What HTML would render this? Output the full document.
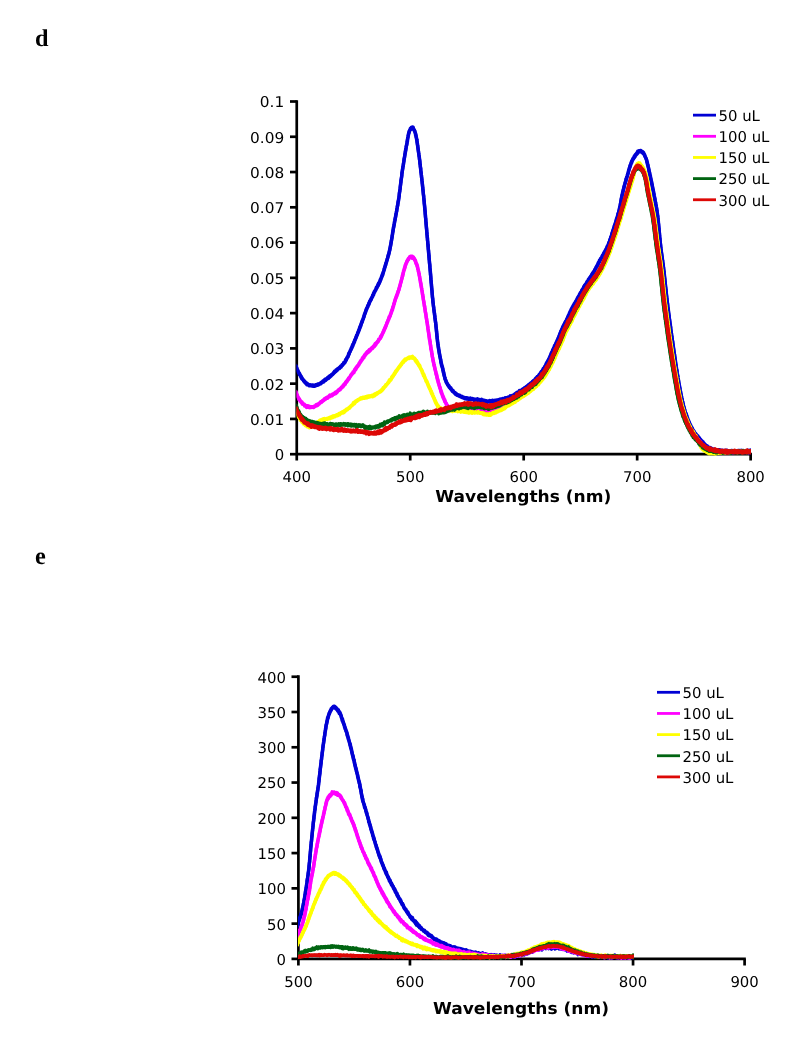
<!DOCTYPE html>
<html lang="en"><head><meta charset="utf-8"><title>Figure d, e</title>
<style>html,body{margin:0;padding:0;background:#fff}body{width:801px;height:1042px;position:relative;overflow:hidden}</style>
</head><body>
<svg width="801" height="1042" viewBox="0 0 801 1042" style="position:absolute;left:0;top:0;will-change:transform">
<rect width="801" height="1042" fill="#fff"/>
<g stroke="#000" stroke-width="2.7" fill="none">
<path d="M296.75,100.15 V460.5 M295.4,454.2 H751.95"/>
<path d="M290,454.20 H296.75"/>
<path d="M290,418.93 H296.75"/>
<path d="M290,383.66 H296.75"/>
<path d="M290,348.39 H296.75"/>
<path d="M290,313.12 H296.75"/>
<path d="M290,277.85 H296.75"/>
<path d="M290,242.58 H296.75"/>
<path d="M290,207.31 H296.75"/>
<path d="M290,172.04 H296.75"/>
<path d="M290,136.77 H296.75"/>
<path d="M290,101.50 H296.75"/>
<path d="M410.22,454.2 V460.5"/>
<path d="M523.69,454.2 V460.5"/>
<path d="M637.16,454.2 V460.5"/>
<path d="M750.63,454.2 V460.5"/>
</g>
<clipPath id="cd"><rect x="296.6" y="90" width="454.4" height="372"/></clipPath>
<g clip-path="url(#cd)">
<g stroke="#0000D4" stroke-width="3.4" fill="none" stroke-linejoin="round" stroke-linecap="butt"><path d="M295.5,365.3 L295.7,365.2 L295.9,365.6 L296.1,365.7 L296.4,366.9 L296.6,367.5 L296.9,368.1 L297.1,369.0 L297.4,369.6 L297.7,369.9 L298.0,370.6 L298.3,371.3 L298.6,372.2 L299.0,372.8 L299.3,373.0 L299.6,373.6 L300.0,374.7 L300.3,375.5 L300.7,375.7 L301.1,376.1 L301.4,377.2 L301.8,377.4 L302.2,378.3 L302.6,379.1 L303.0,379.4 L303.5,379.9 L303.9,380.6 L304.4,380.8 L304.8,381.5 L305.3,381.9 L305.8,382.5 L306.3,382.8 L306.8,383.3 L307.4,383.6 L308.0,384.1 L308.6,384.4 L309.3,384.7 L310.0,385.2 L310.6,384.7 L311.3,385.5 L312.0,385.2 L312.7,384.9 L313.4,385.2 L314.1,385.2 L314.8,385.4 L315.5,384.7 L316.2,384.9 L316.8,384.7 L317.5,384.1 L318.1,383.9 L318.7,384.1 L319.3,383.7 L319.9,383.5 L320.5,382.9 L321.1,382.5 L321.7,382.0 L322.3,381.9 L322.9,381.0 L323.4,380.7 L324.0,380.5 L324.6,379.6 L325.2,379.9 L325.7,379.0 L326.3,378.7 L326.9,378.9 L327.4,377.7 L328.0,377.3 L328.5,377.4 L329.0,376.3 L329.6,376.0 L330.1,375.8 L330.6,375.3 L331.2,374.9 L331.7,374.4 L332.2,374.2 L332.8,373.6 L333.3,373.1 L333.8,372.3 L334.3,371.8 L334.8,371.0 L335.4,371.2 L335.9,370.1 L336.4,370.3 L336.9,370.1 L337.4,368.9 L338.0,368.5 L338.5,368.1 L339.0,368.0 L339.6,367.1 L340.1,366.8 L340.6,366.3 L341.1,365.8 L341.6,365.7 L342.1,364.7 L342.5,364.4 L343.0,363.9 L343.4,363.5 L343.8,362.4 L344.3,362.5 L344.7,361.7 L345.1,361.2 L345.4,360.4 L345.8,359.4 L346.2,359.1 L346.5,358.8 L346.8,358.0 L347.1,357.4 L347.5,357.2 L347.8,356.7 L348.1,355.5 L348.4,355.4 L348.6,353.7 L348.9,353.1 L349.2,353.2 L349.5,352.2 L349.8,351.8 L350.1,351.1 L350.3,350.3 L350.6,349.9 L350.9,349.1 L351.2,348.1 L351.5,347.9 L351.8,347.2 L352.0,347.0 L352.3,345.6 L352.6,345.2 L352.9,344.5 L353.1,343.9 L353.4,343.7 L353.7,342.8 L354.0,341.9 L354.2,341.4 L354.5,340.9 L354.8,339.8 L355.0,339.4 L355.3,339.2 L355.6,338.4 L355.8,337.5 L356.1,336.7 L356.4,336.2 L356.6,335.2 L356.9,335.1 L357.2,334.3 L357.4,333.6 L357.7,332.6 L357.9,332.1 L358.2,331.8 L358.4,331.1 L358.7,330.2 L358.9,329.8 L359.2,329.3 L359.4,328.2 L359.7,327.6 L359.9,326.9 L360.2,326.1 L360.4,326.0 L360.7,325.2 L360.9,324.5 L361.2,323.5 L361.4,322.9 L361.6,322.5 L361.9,321.7 L362.1,321.2 L362.4,320.3 L362.6,320.0 L362.8,319.6 L363.1,318.9 L363.3,318.3 L363.5,317.2 L363.7,316.8 L364.0,315.8 L364.2,315.4 L364.4,314.4 L364.6,313.8 L364.9,313.1 L365.1,312.7 L365.3,312.0 L365.6,311.3 L365.8,310.3 L366.1,310.0 L366.3,308.9 L366.6,309.0 L366.8,308.0 L367.1,307.4 L367.4,306.7 L367.7,305.7 L368.0,305.1 L368.3,304.8 L368.6,304.5 L368.8,303.2 L369.1,302.7 L369.4,302.2 L369.7,301.2 L370.0,300.6 L370.3,300.2 L370.6,299.7 L370.9,299.0 L371.2,298.8 L371.5,297.8 L371.8,297.3 L372.1,296.9 L372.4,296.3 L372.7,294.9 L373.0,294.6 L373.3,294.3 L373.6,293.0 L373.9,292.5 L374.2,291.8 L374.6,291.2 L374.9,290.6 L375.2,290.3 L375.5,289.9 L375.8,289.4 L376.1,288.4 L376.4,287.2 L376.8,287.1 L377.1,286.4 L377.4,286.0 L377.7,285.2 L378.1,284.2 L378.4,284.1 L378.7,282.9 L379.0,282.6 L379.3,282.2 L379.6,281.6 L379.9,281.3 L380.2,279.6 L380.5,279.7 L380.7,279.1 L381.0,278.2 L381.2,277.8 L381.5,276.7 L381.7,276.5 L382.0,275.8 L382.2,274.8 L382.4,274.2 L382.6,273.6 L382.9,272.9 L383.1,272.6 L383.3,271.7 L383.5,271.3 L383.7,270.6 L384.0,269.7 L384.2,269.0 L384.4,268.1 L384.6,267.5 L384.8,266.8 L385.0,266.4 L385.2,265.5 L385.4,265.0 L385.6,264.4 L385.8,263.5 L386.0,262.9 L386.2,262.7 L386.4,262.0 L386.6,260.8 L386.8,260.3 L387.0,259.5 L387.2,258.9 L387.4,258.7 L387.6,257.8 L387.8,257.2 L387.9,256.7 L388.1,255.5 L388.3,254.9 L388.5,254.2 L388.7,253.8 L388.9,252.9 L389.1,252.4 L389.2,251.8 L389.4,251.1 L389.5,250.3 L389.7,249.3 L389.9,248.4 L390.0,248.4 L390.1,247.6 L390.3,246.5 L390.4,245.9 L390.5,245.3 L390.7,244.3 L390.8,244.1 L390.9,243.1 L391.0,242.6 L391.1,242.1 L391.3,241.2 L391.4,240.7 L391.5,240.0 L391.6,239.2 L391.7,238.5 L391.8,238.3 L391.9,237.1 L392.1,236.8 L392.2,235.5 L392.3,235.2 L392.4,234.4 L392.5,233.5 L392.6,232.3 L392.7,232.7 L392.8,231.3 L392.9,230.6 L393.1,230.2 L393.2,229.5 L393.3,228.9 L393.4,228.0 L393.5,227.0 L393.6,226.9 L393.8,225.8 L393.9,225.4 L394.0,224.8 L394.1,224.3 L394.3,223.2 L394.4,222.5 L394.5,221.8 L394.6,220.8 L394.8,220.3 L394.9,219.6 L395.0,218.9 L395.2,218.5 L395.3,217.7 L395.4,217.5 L395.5,216.8 L395.7,215.2 L395.8,215.1 L395.9,214.1 L396.1,213.8 L396.2,213.0 L396.3,212.5 L396.4,211.7 L396.6,211.1 L396.7,210.1 L396.8,208.9 L396.9,208.5 L397.1,207.9 L397.2,207.3 L397.3,206.5 L397.4,206.5 L397.5,205.3 L397.7,205.0 L397.8,203.9 L397.9,203.7 L398.0,202.3 L398.1,202.1 L398.2,200.9 L398.3,200.7 L398.5,200.2 L398.6,198.8 L398.7,198.3 L398.8,197.8 L398.9,197.0 L399.0,196.1 L399.1,196.0 L399.2,195.0 L399.3,194.6 L399.3,193.7 L399.4,192.6 L399.5,192.1 L399.6,191.9 L399.7,190.5 L399.8,190.0 L399.9,189.6 L400.0,189.0 L400.1,188.3 L400.2,187.0 L400.3,187.2 L400.3,185.9 L400.4,185.3 L400.5,184.6 L400.6,183.8 L400.7,183.0 L400.8,182.4 L400.9,182.1 L400.9,180.8 L401.0,179.8 L401.1,179.9 L401.2,179.1 L401.3,178.5 L401.4,178.1 L401.5,176.8 L401.6,176.3 L401.7,175.7 L401.8,175.2 L401.8,174.4 L401.9,173.3 L402.0,172.4 L402.1,172.0 L402.2,171.0 L402.3,171.0 L402.4,169.9 L402.5,169.2 L402.6,168.4 L402.7,168.3 L402.8,167.3 L402.9,166.5 L403.1,166.0 L403.2,165.2 L403.3,164.6 L403.4,164.1 L403.5,163.0 L403.6,162.5 L403.7,161.8 L403.8,161.3 L403.9,160.5 L404.0,159.6 L404.1,158.8 L404.2,158.3 L404.4,157.3 L404.5,157.0 L404.6,156.2 L404.7,155.6 L404.8,154.7 L404.9,153.9 L405.0,153.2 L405.2,153.0 L405.3,152.0 L405.4,151.3 L405.5,150.2 L405.6,150.0 L405.8,148.4 L405.9,148.9 L406.0,147.8 L406.1,147.2 L406.2,146.2 L406.4,145.6 L406.5,145.3 L406.6,144.4 L406.8,143.9 L406.9,143.4 L407.0,142.5 L407.1,141.2 L407.2,140.7 L407.4,140.0 L407.5,139.3 L407.6,138.3 L407.7,137.6 L407.8,137.3 L408.0,136.6 L408.1,136.2 L408.2,135.3 L408.4,135.0 L408.5,133.5 L408.7,132.9 L408.8,132.7 L409.0,131.9 L409.2,131.1 L409.4,130.8 L409.7,130.3 L410.0,129.7 L410.3,128.6 L410.7,128.1 L411.1,127.7 L411.5,127.3 L411.9,127.3 L412.4,127.0 L412.8,127.5 L413.2,127.3 L413.5,128.6 L413.9,129.5 L414.3,129.7 L414.6,130.7 L414.8,130.8 L415.1,131.8 L415.3,132.2 L415.5,133.3 L415.6,134.0 L415.8,134.2 L416.0,135.0 L416.1,135.8 L416.3,137.2 L416.4,137.3 L416.5,138.0 L416.7,138.7 L416.8,139.4 L416.9,140.0 L417.0,140.4 L417.1,141.3 L417.2,142.6 L417.3,142.9 L417.4,143.5 L417.5,143.9 L417.6,145.0 L417.7,145.7 L417.8,146.2 L417.9,147.3 L418.0,147.6 L418.1,148.4 L418.2,149.4 L418.3,149.9 L418.4,150.8 L418.5,151.2 L418.6,151.8 L418.7,152.7 L418.8,153.4 L418.9,154.3 L419.0,154.8 L419.1,155.4 L419.2,156.2 L419.3,156.9 L419.4,157.2 L419.4,158.1 L419.5,158.8 L419.6,159.9 L419.7,160.1 L419.8,161.2 L419.9,161.3 L419.9,162.3 L420.0,163.3 L420.1,163.7 L420.2,164.7 L420.3,164.6 L420.3,165.8 L420.4,166.6 L420.5,167.2 L420.6,167.5 L420.7,168.8 L420.7,168.7 L420.8,170.2 L420.9,170.8 L421.0,171.6 L421.1,172.0 L421.1,172.5 L421.2,173.3 L421.3,174.1 L421.4,175.0 L421.5,175.5 L421.5,176.4 L421.6,177.1 L421.7,178.0 L421.8,177.8 L421.9,178.9 L421.9,179.9 L422.0,180.6 L422.1,181.0 L422.2,181.8 L422.2,182.5 L422.3,183.3 L422.4,183.8 L422.5,184.5 L422.5,185.0 L422.6,185.9 L422.7,187.0 L422.8,187.2 L422.8,188.3 L422.9,189.3 L423.0,189.5 L423.1,190.8 L423.1,190.8 L423.2,192.0 L423.3,192.3 L423.3,192.7 L423.4,193.8 L423.5,194.8 L423.6,194.9 L423.6,195.9 L423.7,196.2 L423.8,196.9 L423.8,198.0 L423.9,198.5 L424.0,199.4 L424.0,200.3 L424.1,200.3 L424.2,201.2 L424.2,202.0 L424.3,203.3 L424.4,203.3 L424.4,204.0 L424.5,204.9 L424.6,206.0 L424.6,206.1 L424.7,206.8 L424.8,207.6 L424.8,208.5 L424.9,209.5 L424.9,209.4 L425.0,210.0 L425.1,211.1 L425.1,211.9 L425.2,211.9 L425.2,213.0 L425.3,214.1 L425.4,214.5 L425.4,215.4 L425.5,216.0 L425.5,216.8 L425.6,217.5 L425.7,218.1 L425.7,219.1 L425.8,219.3 L425.8,220.2 L425.9,221.2 L426.0,221.4 L426.0,222.2 L426.1,222.8 L426.1,223.4 L426.2,224.9 L426.3,225.2 L426.3,226.2 L426.4,226.6 L426.4,227.2 L426.5,227.8 L426.6,228.6 L426.6,229.2 L426.7,230.2 L426.7,230.4 L426.8,231.4 L426.9,232.1 L426.9,232.7 L427.0,233.4 L427.0,234.3 L427.1,235.0 L427.2,235.5 L427.2,236.2 L427.3,236.8 L427.4,237.7 L427.4,238.3 L427.5,238.6 L427.5,239.6 L427.6,240.5 L427.7,241.2 L427.7,241.6 L427.8,242.7 L427.8,243.3 L427.9,244.0 L428.0,245.0 L428.0,245.2 L428.1,246.1 L428.2,246.6 L428.2,247.6 L428.3,248.3 L428.3,248.9 L428.4,249.6 L428.5,249.9 L428.5,251.0 L428.6,251.2 L428.6,252.8 L428.7,253.2 L428.8,253.3 L428.8,253.7 L428.9,255.4 L429.0,255.5 L429.0,256.6 L429.1,256.8 L429.1,257.8 L429.2,258.3 L429.3,259.4 L429.3,259.8 L429.4,261.0 L429.4,261.1 L429.5,262.3 L429.6,262.7 L429.6,263.5 L429.7,263.7 L429.8,264.3 L429.8,265.7 L429.9,265.9 L429.9,266.8 L430.0,267.5 L430.1,268.0 L430.1,269.0 L430.2,269.3 L430.2,270.1 L430.3,271.3 L430.4,271.6 L430.4,272.6 L430.5,273.3 L430.5,274.2 L430.6,274.7 L430.7,274.8 L430.7,275.8 L430.8,276.5 L430.8,277.6 L430.9,278.1 L430.9,278.6 L431.0,279.5 L431.1,280.0 L431.1,281.0 L431.2,281.6 L431.2,282.5 L431.3,283.0 L431.4,283.9 L431.4,284.3 L431.5,285.2 L431.5,285.7 L431.6,286.6 L431.6,287.2 L431.7,287.8 L431.8,288.4 L431.8,289.1 L431.9,290.0 L432.0,290.0 L432.0,291.6 L432.1,291.4 L432.1,292.6 L432.2,293.3 L432.3,294.3 L432.3,294.8 L432.4,295.5 L432.5,296.2 L432.5,297.1 L432.6,298.1 L432.7,298.3 L432.7,298.4 L432.8,299.5 L432.9,300.4 L432.9,301.9 L433.0,301.5 L433.1,302.3 L433.2,303.3 L433.3,303.9 L433.3,304.2 L433.4,305.4 L433.5,305.6 L433.6,306.5 L433.7,307.6 L433.8,307.7 L433.8,308.6 L433.9,309.8 L434.0,310.0 L434.1,310.5 L434.2,311.3 L434.3,312.4 L434.4,312.5 L434.5,313.4 L434.6,313.9 L434.7,314.6 L434.8,315.9 L434.9,316.3 L434.9,316.9 L435.0,317.8 L435.1,318.2 L435.2,318.8 L435.3,320.1 L435.4,320.7 L435.5,321.0 L435.6,322.0 L435.7,322.9 L435.7,323.4 L435.8,324.1 L435.9,324.3 L436.0,325.3 L436.0,325.6 L436.1,327.0 L436.2,327.4 L436.3,328.5 L436.3,328.6 L436.4,329.7 L436.5,329.8 L436.5,330.8 L436.6,331.8 L436.7,332.4 L436.7,333.0 L436.8,333.3 L436.9,334.7 L436.9,335.3 L437.0,336.1 L437.1,336.8 L437.1,337.1 L437.2,338.0 L437.3,339.2 L437.4,339.1 L437.5,340.1 L437.5,340.5 L437.6,341.8 L437.7,342.1 L437.8,342.5 L437.9,343.3 L438.0,343.8 L438.1,344.3 L438.2,344.8 L438.3,346.0 L438.4,346.6 L438.5,347.6 L438.6,348.1 L438.7,349.0 L438.8,350.1 L438.9,350.1 L439.1,350.8 L439.2,352.0 L439.3,353.0 L439.4,352.9 L439.5,353.4 L439.7,354.4 L439.8,355.1 L439.9,356.1 L440.0,356.3 L440.2,357.2 L440.3,357.9 L440.4,358.2 L440.6,358.9 L440.7,360.1 L440.8,360.8 L441.0,361.2 L441.1,362.5 L441.3,363.0 L441.5,363.5 L441.6,364.3 L441.8,364.9 L442.0,365.6 L442.1,366.4 L442.3,366.8 L442.5,367.0 L442.7,368.1 L442.8,368.6 L443.0,369.2 L443.2,370.4 L443.3,370.5 L443.5,371.8 L443.6,372.1 L443.8,372.7 L443.9,373.5 L444.1,375.0 L444.2,375.4 L444.4,375.7 L444.6,376.7 L444.8,377.5 L444.9,377.5 L445.1,378.3 L445.4,379.3 L445.6,379.8 L445.9,380.2 L446.1,381.4 L446.4,381.7 L446.7,382.4 L447.1,383.4 L447.4,383.6 L447.8,384.7 L448.2,384.7 L448.6,385.2 L449.0,385.9 L449.4,386.6 L449.8,387.1 L450.2,387.6 L450.7,387.7 L451.1,388.4 L451.5,389.1 L452.0,389.9 L452.5,390.6 L452.9,390.2 L453.4,391.2 L453.9,391.7 L454.5,392.2 L455.0,392.8 L455.5,392.9 L456.1,393.2 L456.6,394.2 L457.2,394.5 L457.8,394.6 L458.4,395.0 L459.1,395.2 L459.7,395.3 L460.3,396.1 L461.0,396.1 L461.6,396.2 L462.3,396.6 L462.9,397.4 L463.6,397.3 L464.3,397.4 L465.0,397.6 L465.6,397.9 L466.3,398.1 L467.0,397.7 L467.7,398.1 L468.4,398.1 L469.1,398.4 L469.8,398.5 L470.5,398.1 L471.2,399.0 L471.9,398.8 L472.6,398.4 L473.3,399.2 L474.0,399.0 L474.7,399.1 L475.4,399.1 L476.0,399.2 L476.7,399.1 L477.4,398.8 L478.1,399.2 L478.8,399.5 L479.5,399.5 L480.2,399.8 L480.9,399.7 L481.6,399.3 L482.3,400.2 L483.0,400.0 L483.6,400.1 L484.3,400.5 L485.0,400.4 L485.7,401.0 L486.4,400.8 L487.1,401.6 L487.8,401.1 L488.4,401.0 L489.1,401.0 L489.8,400.5 L490.5,400.8 L491.2,400.7 L491.9,400.7 L492.6,400.2 L493.3,400.6 L494.0,400.8 L494.7,400.3 L495.4,400.3 L496.1,400.3 L496.8,399.9 L497.5,399.9 L498.2,400.1 L498.8,399.8 L499.5,399.3 L500.2,399.0 L500.9,399.9 L501.6,399.3 L502.3,398.6 L502.9,398.9 L503.6,398.8 L504.3,398.5 L505.0,397.8 L505.6,398.5 L506.3,398.0 L507.0,397.5 L507.6,397.5 L508.3,397.0 L508.9,396.8 L509.6,396.8 L510.2,395.8 L510.8,396.3 L511.5,395.8 L512.1,395.6 L512.7,395.3 L513.3,395.1 L513.9,394.7 L514.5,394.2 L515.1,393.6 L515.7,393.5 L516.4,392.8 L517.0,392.3 L517.6,392.3 L518.2,392.0 L518.8,391.8 L519.4,390.6 L520.0,390.9 L520.6,390.6 L521.2,390.1 L521.7,390.0 L522.3,389.1 L522.9,389.0 L523.5,388.4 L524.1,388.1 L524.7,387.5 L525.2,387.3 L525.8,387.1 L526.4,386.5 L526.9,386.2 L527.5,385.5 L528.0,385.6 L528.6,384.6 L529.1,384.4 L529.7,384.1 L530.2,383.4 L530.7,383.2 L531.3,382.6 L531.8,382.5 L532.3,381.8 L532.8,381.3 L533.4,380.5 L533.9,380.3 L534.4,380.0 L534.9,379.4 L535.4,378.5 L535.9,378.1 L536.4,377.7 L536.9,377.3 L537.3,376.4 L537.8,376.7 L538.3,375.7 L538.7,375.2 L539.2,374.5 L539.6,374.1 L540.0,374.0 L540.5,372.7 L540.9,372.3 L541.3,371.6 L541.7,371.1 L542.1,371.1 L542.5,370.0 L542.9,369.4 L543.3,368.5 L543.7,368.3 L544.0,367.8 L544.4,367.1 L544.7,366.5 L545.1,366.2 L545.4,365.5 L545.8,364.7 L546.1,363.9 L546.4,363.1 L546.8,363.3 L547.1,361.9 L547.4,361.8 L547.7,361.0 L548.0,360.2 L548.4,360.0 L548.7,359.0 L549.0,358.8 L549.3,357.6 L549.6,357.4 L549.9,356.9 L550.2,355.7 L550.4,355.9 L550.7,354.9 L551.0,353.5 L551.3,353.8 L551.6,353.3 L551.8,352.1 L552.1,351.5 L552.4,350.9 L552.7,349.7 L553.0,349.6 L553.2,349.2 L553.5,348.2 L553.8,347.9 L554.1,347.6 L554.4,345.9 L554.7,345.3 L555.0,344.9 L555.3,344.6 L555.6,343.9 L555.9,343.0 L556.2,342.3 L556.5,341.8 L556.8,341.7 L557.1,340.4 L557.3,339.9 L557.6,339.6 L557.9,338.7 L558.2,337.9 L558.4,337.8 L558.7,336.9 L559.0,336.0 L559.2,335.4 L559.5,335.1 L559.7,334.1 L560.0,333.6 L560.2,333.1 L560.5,332.5 L560.7,331.1 L561.0,330.8 L561.3,330.2 L561.5,329.7 L561.8,329.2 L562.1,328.7 L562.4,327.6 L562.7,326.8 L563.0,326.5 L563.3,325.7 L563.6,325.7 L563.9,324.7 L564.2,324.0 L564.6,323.6 L564.9,322.6 L565.2,322.0 L565.5,321.4 L565.9,321.0 L566.2,320.6 L566.5,319.8 L566.8,319.2 L567.1,318.3 L567.4,317.8 L567.7,317.0 L568.0,316.7 L568.3,315.6 L568.6,315.2 L568.8,314.6 L569.1,314.1 L569.4,313.1 L569.7,312.6 L570.0,311.8 L570.3,311.0 L570.6,311.0 L570.9,310.2 L571.2,309.1 L571.5,308.6 L571.9,308.4 L572.2,307.4 L572.5,306.7 L572.8,306.7 L573.2,305.6 L573.5,305.0 L573.9,304.7 L574.2,303.7 L574.6,303.3 L574.9,302.7 L575.3,302.3 L575.6,301.3 L576.0,301.2 L576.3,300.4 L576.7,300.1 L577.0,299.1 L577.3,298.3 L577.7,297.7 L578.0,296.9 L578.3,296.6 L578.7,296.0 L579.0,295.6 L579.3,294.8 L579.7,293.9 L580.0,293.8 L580.3,292.8 L580.7,292.3 L581.0,292.0 L581.3,291.4 L581.7,290.3 L582.0,289.8 L582.4,289.6 L582.8,288.9 L583.1,288.2 L583.5,287.7 L583.8,286.3 L584.2,286.2 L584.6,285.3 L585.0,284.9 L585.3,284.4 L585.7,284.0 L586.1,283.6 L586.5,282.9 L586.9,282.2 L587.2,281.4 L587.6,281.3 L588.0,280.4 L588.4,279.3 L588.8,279.1 L589.1,278.7 L589.5,277.7 L589.9,277.5 L590.3,277.2 L590.7,276.2 L591.1,275.6 L591.4,275.0 L591.8,274.2 L592.2,273.8 L592.6,273.0 L593.0,272.6 L593.3,271.9 L593.7,271.8 L594.1,270.9 L594.4,270.5 L594.8,269.4 L595.1,269.1 L595.4,268.6 L595.8,268.0 L596.1,267.1 L596.4,266.6 L596.8,266.1 L597.1,265.3 L597.4,264.7 L597.8,264.3 L598.1,263.2 L598.4,262.5 L598.7,262.2 L599.1,261.8 L599.4,260.5 L599.7,260.8 L600.0,259.9 L600.4,259.4 L600.7,258.4 L601.1,258.0 L601.4,257.8 L601.7,257.2 L602.1,256.3 L602.4,255.5 L602.8,254.9 L603.1,254.6 L603.5,253.5 L603.8,252.9 L604.2,252.4 L604.5,252.1 L604.9,251.0 L605.2,250.7 L605.5,250.1 L605.9,249.4 L606.2,248.7 L606.5,248.4 L606.8,247.7 L607.1,246.5 L607.4,246.7 L607.7,245.8 L608.0,245.1 L608.2,244.3 L608.5,243.6 L608.8,242.4 L609.0,242.4 L609.3,241.9 L609.5,241.3 L609.7,240.3 L610.0,239.2 L610.2,238.8 L610.4,238.4 L610.6,238.1 L610.8,236.7 L611.0,236.5 L611.3,235.9 L611.5,235.3 L611.7,234.4 L611.9,233.1 L612.1,233.3 L612.3,232.5 L612.5,231.9 L612.7,230.9 L612.9,230.3 L613.1,230.1 L613.3,229.1 L613.6,228.4 L613.8,227.6 L614.0,227.4 L614.2,226.0 L614.4,225.6 L614.6,225.2 L614.8,224.4 L615.1,224.0 L615.3,223.2 L615.5,222.8 L615.7,221.7 L615.9,221.1 L616.1,220.5 L616.3,219.3 L616.5,219.4 L616.7,218.2 L616.9,218.0 L617.1,217.4 L617.3,216.7 L617.5,215.8 L617.7,214.9 L617.9,213.8 L618.1,213.9 L618.3,213.0 L618.5,212.8 L618.7,211.6 L618.8,211.2 L619.0,210.2 L619.2,209.8 L619.3,208.9 L619.5,208.3 L619.6,207.1 L619.8,206.8 L619.9,206.2 L620.1,205.9 L620.2,204.9 L620.3,203.9 L620.5,203.9 L620.6,202.9 L620.7,202.4 L620.8,201.2 L621.0,199.9 L621.1,199.9 L621.2,199.1 L621.3,198.7 L621.5,197.6 L621.6,197.1 L621.7,196.3 L621.9,196.0 L622.0,195.0 L622.1,194.9 L622.3,194.1 L622.4,193.4 L622.6,192.4 L622.7,191.9 L622.9,191.4 L623.1,190.2 L623.2,190.1 L623.4,189.1 L623.6,188.7 L623.7,188.3 L623.9,187.5 L624.1,186.1 L624.3,186.0 L624.5,185.0 L624.6,184.3 L624.8,183.6 L625.0,182.7 L625.2,182.4 L625.4,181.5 L625.6,181.3 L625.8,180.4 L626.0,179.0 L626.2,178.7 L626.4,178.0 L626.6,177.5 L626.8,176.8 L627.0,176.3 L627.2,175.6 L627.4,174.7 L627.6,174.4 L627.8,173.8 L628.0,172.9 L628.2,172.5 L628.4,171.7 L628.5,170.7 L628.7,170.1 L628.9,169.5 L629.1,169.0 L629.3,168.2 L629.5,167.7 L629.7,167.1 L629.9,165.9 L630.2,165.2 L630.4,164.8 L630.6,164.3 L630.8,163.7 L631.1,163.0 L631.3,162.4 L631.6,161.3 L631.9,161.0 L632.1,160.1 L632.4,159.8 L632.8,159.3 L633.1,158.3 L633.5,157.8 L633.8,157.9 L634.2,156.4 L634.6,155.9 L635.0,155.2 L635.4,154.5 L635.8,154.6 L636.3,153.6 L636.8,153.0 L637.2,152.4 L637.7,151.3 L638.2,151.7 L638.8,150.9 L639.3,150.7 L639.8,150.8 L640.4,150.4 L640.9,150.6 L641.5,150.9 L642.0,151.5 L642.5,151.4 L643.0,152.1 L643.5,152.3 L643.9,153.4 L644.2,154.2 L644.6,154.5 L644.9,155.8 L645.2,156.2 L645.4,157.1 L645.7,157.3 L645.9,158.4 L646.2,158.4 L646.4,159.3 L646.6,159.9 L646.8,160.5 L647.0,161.7 L647.1,162.2 L647.3,162.4 L647.5,163.4 L647.7,164.0 L647.8,164.7 L648.0,165.5 L648.1,165.9 L648.3,166.7 L648.5,167.4 L648.6,167.9 L648.8,168.6 L648.9,169.7 L649.0,170.1 L649.2,171.4 L649.3,172.0 L649.5,172.0 L649.6,172.9 L649.8,173.0 L649.9,174.1 L650.1,174.7 L650.2,175.4 L650.4,175.7 L650.5,177.0 L650.7,177.7 L650.8,178.1 L651.0,179.0 L651.1,179.9 L651.3,180.8 L651.4,180.7 L651.5,182.2 L651.7,182.0 L651.8,182.9 L652.0,183.7 L652.1,184.9 L652.2,185.3 L652.4,186.0 L652.5,187.0 L652.7,187.3 L652.8,187.8 L652.9,189.0 L653.1,189.3 L653.2,189.7 L653.3,190.2 L653.5,191.4 L653.6,192.5 L653.7,192.9 L653.9,193.4 L654.0,194.4 L654.1,194.4 L654.3,195.6 L654.4,196.0 L654.5,197.2 L654.7,197.3 L654.8,198.4 L654.9,199.0 L655.1,199.6 L655.2,200.5 L655.3,201.0 L655.5,202.1 L655.6,202.3 L655.7,202.5 L655.8,204.1 L656.0,204.8 L656.1,205.3 L656.2,206.2 L656.3,206.7 L656.4,207.0 L656.6,207.4 L656.7,208.3 L656.8,209.2 L656.9,210.1 L657.0,210.3 L657.1,211.1 L657.2,212.4 L657.3,212.6 L657.4,213.2 L657.5,213.9 L657.6,215.2 L657.7,215.7 L657.8,216.4 L657.8,217.3 L657.9,217.8 L658.0,218.6 L658.1,219.1 L658.2,219.9 L658.2,220.5 L658.3,221.2 L658.4,221.5 L658.4,222.4 L658.5,223.1 L658.6,223.7 L658.6,224.5 L658.7,225.7 L658.8,226.2 L658.8,226.7 L658.9,227.4 L659.0,228.4 L659.0,228.4 L659.1,229.5 L659.2,230.5 L659.2,231.3 L659.3,231.7 L659.3,232.3 L659.4,232.5 L659.5,233.4 L659.5,234.3 L659.6,235.1 L659.7,235.8 L659.7,235.8 L659.8,237.0 L659.9,237.9 L659.9,238.3 L660.0,239.1 L660.1,240.0 L660.1,240.7 L660.2,241.3 L660.3,242.2 L660.3,243.0 L660.4,243.3 L660.5,243.8 L660.6,244.6 L660.7,245.3 L660.7,246.1 L660.8,246.5 L660.9,247.3 L661.0,248.2 L661.1,249.3 L661.2,249.7 L661.3,250.3 L661.3,251.2 L661.4,251.7 L661.5,252.5 L661.6,253.4 L661.7,253.9 L661.8,254.5 L661.9,255.4 L662.0,255.7 L662.1,256.6 L662.2,256.7 L662.3,257.8 L662.4,259.0 L662.5,259.2 L662.6,260.0 L662.7,260.6 L662.8,261.2 L662.8,262.2 L662.9,262.8 L663.0,263.8 L663.1,264.0 L663.2,264.9 L663.3,265.5 L663.4,266.1 L663.5,267.2 L663.6,267.5 L663.7,268.2 L663.7,269.7 L663.8,269.7 L663.9,270.4 L664.0,271.3 L664.1,271.6 L664.1,272.6 L664.2,272.9 L664.3,273.8 L664.4,274.5 L664.5,275.7 L664.5,276.2 L664.6,277.2 L664.7,277.8 L664.8,277.9 L664.8,278.9 L664.9,279.4 L665.0,280.0 L665.0,281.2 L665.1,281.9 L665.2,282.3 L665.3,283.1 L665.3,283.7 L665.4,284.4 L665.5,285.2 L665.5,285.5 L665.6,286.6 L665.7,287.0 L665.8,287.6 L665.8,288.5 L665.9,289.3 L666.0,290.1 L666.1,290.7 L666.1,291.4 L666.2,291.9 L666.3,292.8 L666.4,293.5 L666.4,294.2 L666.5,294.6 L666.6,295.9 L666.7,296.4 L666.7,297.1 L666.8,297.6 L666.9,298.2 L667.0,299.2 L667.1,299.3 L667.1,300.3 L667.2,301.0 L667.3,301.9 L667.4,302.4 L667.5,303.5 L667.6,303.4 L667.7,304.9 L667.7,305.3 L667.8,306.2 L667.9,306.5 L668.0,307.6 L668.1,307.9 L668.2,308.8 L668.3,309.0 L668.4,310.2 L668.4,310.8 L668.5,311.0 L668.6,312.2 L668.7,312.8 L668.8,313.8 L668.9,314.1 L669.0,315.0 L669.1,316.0 L669.2,316.1 L669.3,317.5 L669.3,317.8 L669.4,318.4 L669.5,318.8 L669.6,319.4 L669.7,320.7 L669.8,321.1 L669.9,321.7 L670.0,322.9 L670.1,323.4 L670.2,324.0 L670.3,324.3 L670.4,324.9 L670.5,326.3 L670.6,326.7 L670.7,327.4 L670.8,328.6 L670.8,328.7 L670.9,329.6 L671.0,330.8 L671.1,331.1 L671.2,331.5 L671.3,332.1 L671.4,333.3 L671.5,333.4 L671.6,334.6 L671.7,335.5 L671.8,335.7 L671.9,336.7 L672.0,337.2 L672.1,338.2 L672.2,338.6 L672.3,339.1 L672.4,340.0 L672.5,340.7 L672.6,341.2 L672.7,341.9 L672.8,342.4 L672.9,343.2 L673.0,344.2 L673.1,344.3 L673.2,345.5 L673.3,346.2 L673.4,346.7 L673.5,347.9 L673.6,348.4 L673.7,348.8 L673.8,349.7 L673.9,350.6 L674.0,350.6 L674.1,351.8 L674.2,352.3 L674.3,353.2 L674.4,354.3 L674.5,354.3 L674.6,355.1 L674.7,355.6 L674.8,356.6 L674.9,357.4 L675.0,357.3 L675.1,359.0 L675.2,359.7 L675.3,359.4 L675.4,360.3 L675.5,361.5 L675.6,362.1 L675.7,363.1 L675.8,363.4 L675.9,364.5 L676.0,364.5 L676.1,365.7 L676.2,366.1 L676.3,366.8 L676.4,367.2 L676.5,368.2 L676.7,369.4 L676.8,369.6 L676.9,370.3 L677.0,371.1 L677.1,371.5 L677.2,372.5 L677.3,373.3 L677.4,373.8 L677.5,374.1 L677.7,375.6 L677.8,375.9 L677.9,376.6 L678.0,377.3 L678.1,377.9 L678.2,378.3 L678.4,379.4 L678.5,380.1 L678.6,381.0 L678.7,381.9 L678.8,382.0 L678.9,383.2 L679.1,383.6 L679.2,384.4 L679.3,384.7 L679.4,385.7 L679.6,386.1 L679.7,387.2 L679.8,387.4 L679.9,388.4 L680.1,388.9 L680.2,389.8 L680.3,390.5 L680.5,391.2 L680.6,391.7 L680.7,392.7 L680.9,393.3 L681.0,393.7 L681.1,394.7 L681.3,395.1 L681.4,395.9 L681.6,396.6 L681.7,397.3 L681.9,398.2 L682.0,398.2 L682.2,399.7 L682.3,399.6 L682.5,401.0 L682.6,401.5 L682.8,401.7 L682.9,402.8 L683.1,403.4 L683.3,403.8 L683.4,405.1 L683.6,405.8 L683.8,406.3 L684.0,407.3 L684.2,407.6 L684.3,408.1 L684.5,409.2 L684.7,409.4 L684.9,410.4 L685.1,411.2 L685.3,411.6 L685.5,412.3 L685.8,413.0 L686.0,413.6 L686.2,414.0 L686.4,414.0 L686.6,415.4 L686.9,415.8 L687.1,417.1 L687.4,417.4 L687.6,418.2 L687.9,419.0 L688.1,419.7 L688.4,419.9 L688.7,421.3 L688.9,421.6 L689.2,422.2 L689.5,422.5 L689.8,423.9 L690.1,424.2 L690.4,424.9 L690.7,425.2 L691.0,426.4 L691.3,426.9 L691.7,427.1 L692.0,428.2 L692.3,428.1 L692.7,429.2 L693.0,429.7 L693.4,430.3 L693.7,430.6 L694.1,431.2 L694.5,432.2 L694.9,432.8 L695.3,433.1 L695.7,433.6 L696.1,434.1 L696.6,435.1 L697.0,435.3 L697.4,435.7 L697.9,435.9 L698.3,436.5 L698.8,437.2 L699.2,437.5 L699.7,438.5 L700.1,439.1 L700.6,439.4 L701.0,440.1 L701.5,440.8 L702.0,440.9 L702.5,442.0 L703.0,441.7 L703.5,443.4 L704.0,443.0 L704.5,443.9 L705.0,444.3 L705.5,444.9 L706.0,445.1 L706.6,445.8 L707.1,445.7 L707.7,446.7 L708.2,446.8 L708.8,447.3 L709.4,447.8 L710.0,447.5 L710.7,448.0 L711.3,448.2 L712.0,448.6 L712.6,448.9 L713.3,449.3 L714.0,449.3 L714.7,449.4 L715.4,449.7 L716.0,449.9 L716.7,450.0 L717.4,450.4 L718.1,449.8 L718.8,450.1 L719.5,449.8 L720.2,450.0 L720.9,450.4 L721.6,450.6 L722.3,450.3 L723.0,450.6 L723.7,450.5 L724.4,450.7 L725.1,450.7 L725.8,450.5 L726.5,450.1 L727.2,450.3 L727.9,450.8 L728.6,450.7 L729.3,451.3 L730.0,450.8 L730.7,451.0 L731.4,450.4 L732.1,450.4 L732.8,450.8 L733.5,451.2 L734.2,450.8 L734.9,450.6 L735.6,450.8 L736.3,450.9 L737.0,450.8 L737.7,450.7 L738.4,450.4 L739.1,450.4 L739.8,450.6 L740.5,450.6 L741.2,450.3 L741.9,451.1 L742.6,450.8 L743.3,450.5 L744.0,450.8 L744.7,451.2 L745.4,450.7 L746.1,450.7 L746.8,450.9 L747.5,450.2 L748.2,450.4 L748.9,450.4 L749.6,450.8 L750.3,450.1 L751.0,450.6 L751.7,450.4 L752.4,450.5 L753.0,450.4 L753.6,450.9 L754.0,450.3 L754.3,450.2"/><path d="M295.5,365.8 L295.7,366.0 L295.9,366.8 L296.1,367.2 L296.4,367.9 L296.6,368.5 L296.9,368.7 L297.1,369.3 L297.4,370.9 L297.7,370.8 L298.0,371.8 L298.3,372.0 L298.6,372.9 L299.0,373.5 L299.3,374.6 L299.6,374.8 L300.0,375.0 L300.3,375.7 L300.7,376.7 L301.1,377.4 L301.4,378.3 L301.8,378.9 L302.2,378.6 L302.6,379.5 L303.0,379.8 L303.5,380.8 L303.9,381.5 L304.4,381.4 L304.8,382.6 L305.3,383.1 L305.8,383.3 L306.3,383.7 L306.8,384.7 L307.4,384.6 L308.0,384.7 L308.6,385.3 L309.3,385.8 L310.0,385.9 L310.6,385.4 L311.3,385.7 L312.0,386.0 L312.7,386.2 L313.4,386.2 L314.1,385.8 L314.8,386.2 L315.5,386.0 L316.2,385.4 L316.8,385.3 L317.5,385.4 L318.1,384.7 L318.7,384.8 L319.3,384.5 L319.9,384.0 L320.5,383.8 L321.1,383.7 L321.7,382.7 L322.3,382.6 L322.9,382.0 L323.4,382.1 L324.0,381.6 L324.6,380.9 L325.2,380.3 L325.7,380.3 L326.3,379.6 L326.9,378.9 L327.4,378.6 L328.0,378.3 L328.5,378.5 L329.0,377.8 L329.6,377.4 L330.1,376.8 L330.6,376.5 L331.2,376.0 L331.7,374.9 L332.2,374.9 L332.8,374.4 L333.3,373.9 L333.8,373.5 L334.3,372.2 L334.8,372.5 L335.4,371.6 L335.9,371.7 L336.4,370.9 L336.9,370.5 L337.4,370.1 L338.0,369.1 L338.5,369.1 L339.0,368.4 L339.6,368.5 L340.1,367.6 L340.6,367.0 L341.1,367.1 L341.6,366.2 L342.1,365.6 L342.5,365.3 L343.0,364.7 L343.4,364.3 L343.8,363.4 L344.3,363.3 L344.7,362.6 L345.1,362.3 L345.4,361.5 L345.8,360.5 L346.2,360.4 L346.5,359.5 L346.8,358.9 L347.1,357.7 L347.5,357.4 L347.8,357.4 L348.1,356.7 L348.4,355.3 L348.6,355.2 L348.9,354.6 L349.2,354.2 L349.5,352.9 L349.8,352.1 L350.1,352.0 L350.3,351.1 L350.6,350.5 L350.9,349.8 L351.2,349.7 L351.5,348.5 L351.8,348.3 L352.0,347.6 L352.3,346.6 L352.6,346.4 L352.9,345.8 L353.1,344.9 L353.4,344.2 L353.7,343.8 L354.0,342.7 L354.2,342.4 L354.5,342.0 L354.8,340.7 L355.0,339.9 L355.3,339.9 L355.6,338.8 L355.8,338.3 L356.1,337.8 L356.4,336.9 L356.6,336.5 L356.9,335.6 L357.2,335.0 L357.4,334.5 L357.7,334.0 L357.9,333.1 L358.2,332.6 L358.4,332.0 L358.7,331.4 L358.9,330.6 L359.2,330.3 L359.4,329.1 L359.7,328.9 L359.9,328.2 L360.2,327.5 L360.4,326.5 L360.7,326.2 L360.9,325.5 L361.2,324.4 L361.4,324.0 L361.6,323.1 L361.9,322.8 L362.1,322.4 L362.4,321.6 L362.6,320.5 L362.8,319.8 L363.1,319.4 L363.3,318.7 L363.5,318.3 L363.7,317.4 L364.0,317.1 L364.2,316.0 L364.4,315.7 L364.6,314.4 L364.9,314.0 L365.1,313.5 L365.3,313.0 L365.6,312.3 L365.8,311.3 L366.1,310.5 L366.3,310.2 L366.6,309.5 L366.8,308.8 L367.1,308.2 L367.4,307.3 L367.7,307.1 L368.0,306.6 L368.3,305.5 L368.6,304.8 L368.8,304.7 L369.1,304.1 L369.4,303.0 L369.7,302.3 L370.0,301.4 L370.3,301.4 L370.6,300.7 L370.9,300.0 L371.2,299.9 L371.5,298.7 L371.8,298.1 L372.1,297.5 L372.4,296.8 L372.7,296.5 L373.0,295.5 L373.3,295.0 L373.6,294.9 L373.9,293.5 L374.2,292.7 L374.6,292.4 L374.9,291.6 L375.2,291.0 L375.5,290.6 L375.8,290.1 L376.1,288.9 L376.4,288.6 L376.8,287.5 L377.1,287.6 L377.4,286.5 L377.7,286.3 L378.1,286.0 L378.4,285.2 L378.7,284.4 L379.0,283.2 L379.3,283.5 L379.6,282.3 L379.9,282.0 L380.2,281.0 L380.5,280.4 L380.7,280.2 L381.0,278.8 L381.2,278.2 L381.5,277.8 L381.7,277.5 L382.0,275.9 L382.2,276.2 L382.4,275.1 L382.6,274.8 L382.9,274.6 L383.1,273.4 L383.3,272.9 L383.5,272.3 L383.7,271.2 L384.0,270.6 L384.2,269.9 L384.4,269.3 L384.6,268.5 L384.8,267.8 L385.0,267.1 L385.2,266.8 L385.4,265.6 L385.6,265.3 L385.8,264.9 L386.0,263.5 L386.2,262.8 L386.4,262.7 L386.6,261.7 L386.8,261.0 L387.0,260.7 L387.2,259.9 L387.4,259.0 L387.6,258.4 L387.8,257.5 L387.9,257.0 L388.1,256.5 L388.3,255.9 L388.5,255.3 L388.7,254.9 L388.9,253.8 L389.1,253.4 L389.2,252.5 L389.4,251.5 L389.5,251.1 L389.7,250.5 L389.9,249.9 L390.0,249.1 L390.1,248.4 L390.3,247.4 L390.4,246.9 L390.5,246.4 L390.7,245.8 L390.8,245.1 L390.9,244.3 L391.0,243.7 L391.1,243.2 L391.3,242.2 L391.4,241.3 L391.5,240.4 L391.6,240.1 L391.7,239.5 L391.8,238.6 L391.9,238.4 L392.1,237.1 L392.2,236.5 L392.3,235.9 L392.4,234.9 L392.5,234.8 L392.6,233.7 L392.7,232.9 L392.8,232.0 L392.9,232.0 L393.1,231.4 L393.2,230.1 L393.3,229.3 L393.4,228.9 L393.5,228.3 L393.6,227.5 L393.8,227.0 L393.9,226.0 L394.0,226.1 L394.1,225.0 L394.3,224.4 L394.4,223.4 L394.5,223.0 L394.6,222.5 L394.8,221.2 L394.9,220.8 L395.0,220.3 L395.2,219.5 L395.3,218.5 L395.4,217.9 L395.5,217.4 L395.7,216.7 L395.8,215.8 L395.9,215.3 L396.1,214.0 L396.2,213.9 L396.3,213.4 L396.4,212.7 L396.6,211.7 L396.7,211.2 L396.8,210.5 L396.9,209.7 L397.1,208.8 L397.2,208.0 L397.3,207.5 L397.4,206.6 L397.5,205.7 L397.7,205.9 L397.8,204.5 L397.9,204.0 L398.0,203.3 L398.1,202.3 L398.2,202.2 L398.3,201.0 L398.5,201.1 L398.6,199.6 L398.7,199.1 L398.8,198.6 L398.9,197.9 L399.0,197.2 L399.1,196.8 L399.2,196.2 L399.3,195.8 L399.3,194.2 L399.4,194.1 L399.5,193.3 L399.6,192.4 L399.7,191.4 L399.8,191.7 L399.9,190.7 L400.0,189.2 L400.1,189.4 L400.2,188.4 L400.3,187.7 L400.3,187.1 L400.4,186.1 L400.5,185.5 L400.6,185.1 L400.7,183.8 L400.8,183.1 L400.9,182.3 L400.9,182.2 L401.0,181.1 L401.1,180.6 L401.2,179.8 L401.3,179.4 L401.4,178.6 L401.5,177.7 L401.6,177.5 L401.7,176.6 L401.8,175.9 L401.8,175.0 L401.9,174.3 L402.0,173.6 L402.1,173.0 L402.2,172.4 L402.3,171.7 L402.4,170.9 L402.5,170.2 L402.6,169.7 L402.7,169.1 L402.8,168.5 L402.9,167.5 L403.1,166.5 L403.2,166.1 L403.3,165.4 L403.4,164.7 L403.5,164.1 L403.6,163.2 L403.7,162.6 L403.8,161.3 L403.9,161.7 L404.0,160.5 L404.1,159.8 L404.2,159.3 L404.4,158.4 L404.5,157.6 L404.6,157.3 L404.7,156.4 L404.8,155.5 L404.9,155.2 L405.0,154.4 L405.2,153.7 L405.3,152.9 L405.4,152.5 L405.5,151.3 L405.6,151.1 L405.8,150.6 L405.9,149.3 L406.0,148.9 L406.1,147.7 L406.2,147.4 L406.4,146.3 L406.5,145.7 L406.6,145.4 L406.8,144.9 L406.9,144.1 L407.0,143.2 L407.1,142.4 L407.2,141.9 L407.4,141.8 L407.5,140.8 L407.6,139.4 L407.7,138.9 L407.8,138.0 L408.0,137.8 L408.1,136.9 L408.2,135.9 L408.4,135.5 L408.5,134.7 L408.7,133.9 L408.8,133.4 L409.0,133.1 L409.2,132.0 L409.4,131.5 L409.7,130.5 L410.0,130.1 L410.3,130.0 L410.7,129.1 L411.1,128.3 L411.5,128.0 L411.9,128.3 L412.4,128.0 L412.8,128.1 L413.2,129.0 L413.5,129.2 L413.9,129.8 L414.3,130.8 L414.6,131.1 L414.8,132.0 L415.1,132.6 L415.3,133.5 L415.5,134.1 L415.6,135.3 L415.8,135.6 L416.0,136.1 L416.1,137.0 L416.3,137.4 L416.4,138.3 L416.5,139.0 L416.7,139.7 L416.8,140.6 L416.9,141.1 L417.0,141.5 L417.1,142.5 L417.2,142.8 L417.3,144.3 L417.4,144.0 L417.5,145.2 L417.6,146.0 L417.7,146.4 L417.8,147.2 L417.9,148.3 L418.0,148.4 L418.1,149.6 L418.2,150.0 L418.3,150.7 L418.4,152.0 L418.5,152.3 L418.6,152.9 L418.7,153.5 L418.8,154.3 L418.9,154.9 L419.0,156.1 L419.1,156.4 L419.2,156.8 L419.3,157.6 L419.4,158.5 L419.4,158.8 L419.5,159.6 L419.6,160.1 L419.7,160.6 L419.8,162.4 L419.9,162.5 L419.9,163.7 L420.0,164.1 L420.1,164.7 L420.2,165.1 L420.3,166.0 L420.3,166.8 L420.4,167.2 L420.5,168.3 L420.6,169.1 L420.7,169.7 L420.7,170.3 L420.8,170.5 L420.9,172.3 L421.0,172.5 L421.1,172.7 L421.1,173.4 L421.2,174.2 L421.3,174.8 L421.4,175.8 L421.5,176.3 L421.5,177.2 L421.6,177.8 L421.7,178.5 L421.8,179.0 L421.9,180.0 L421.9,180.7 L422.0,181.1 L422.1,181.6 L422.2,182.8 L422.2,183.0 L422.3,183.9 L422.4,184.9 L422.5,185.8 L422.5,186.2 L422.6,187.0 L422.7,187.9 L422.8,188.0 L422.8,188.9 L422.9,189.8 L423.0,190.7 L423.1,190.8 L423.1,191.5 L423.2,192.7 L423.3,193.5 L423.3,193.7 L423.4,194.6 L423.5,195.5 L423.6,195.9 L423.6,196.2 L423.7,197.4 L423.8,198.3 L423.8,198.4 L423.9,199.8 L424.0,200.1 L424.0,200.4 L424.1,201.6 L424.2,201.8 L424.2,203.3 L424.3,203.7 L424.4,204.8 L424.4,204.6 L424.5,205.7 L424.6,206.8 L424.6,207.4 L424.7,208.0 L424.8,208.6 L424.8,209.4 L424.9,210.1 L424.9,211.0 L425.0,210.8 L425.1,211.7 L425.1,212.5 L425.2,213.4 L425.2,214.2 L425.3,214.7 L425.4,215.5 L425.4,216.4 L425.5,217.2 L425.5,217.4 L425.6,218.2 L425.7,219.0 L425.7,220.3 L425.8,220.2 L425.8,221.1 L425.9,221.8 L426.0,222.3 L426.0,223.4 L426.1,223.8 L426.1,224.4 L426.2,225.2 L426.3,226.0 L426.3,226.5 L426.4,227.1 L426.4,228.3 L426.5,228.6 L426.6,229.6 L426.6,230.1 L426.7,230.6 L426.7,231.2 L426.8,231.8 L426.9,233.1 L426.9,233.8 L427.0,234.2 L427.0,234.7 L427.1,235.5 L427.2,236.4 L427.2,237.4 L427.3,237.6 L427.4,238.0 L427.4,239.2 L427.5,239.8 L427.5,240.3 L427.6,240.8 L427.7,242.1 L427.7,243.0 L427.8,243.1 L427.8,243.7 L427.9,244.6 L428.0,245.3 L428.0,246.3 L428.1,246.8 L428.2,247.1 L428.2,248.3 L428.3,249.0 L428.3,249.5 L428.4,250.4 L428.5,250.6 L428.5,251.6 L428.6,252.0 L428.6,253.1 L428.7,254.0 L428.8,254.0 L428.8,255.2 L428.9,256.1 L429.0,256.6 L429.0,257.7 L429.1,258.0 L429.1,259.2 L429.2,259.4 L429.3,259.8 L429.3,260.7 L429.4,261.3 L429.4,262.5 L429.5,263.3 L429.6,264.0 L429.6,264.4 L429.7,264.9 L429.8,265.5 L429.8,266.1 L429.9,267.2 L429.9,267.4 L430.0,268.4 L430.1,269.2 L430.1,269.9 L430.2,270.2 L430.2,270.9 L430.3,271.6 L430.4,272.8 L430.4,273.0 L430.5,273.8 L430.5,274.9 L430.6,275.7 L430.7,276.6 L430.7,276.8 L430.8,277.8 L430.8,277.8 L430.9,279.1 L430.9,279.8 L431.0,280.6 L431.1,280.9 L431.1,282.1 L431.2,282.8 L431.2,283.1 L431.3,283.8 L431.4,284.4 L431.4,285.1 L431.5,285.9 L431.5,286.3 L431.6,287.0 L431.6,287.9 L431.7,288.6 L431.8,289.6 L431.8,290.0 L431.9,290.5 L432.0,291.0 L432.0,292.1 L432.1,292.6 L432.1,293.1 L432.2,294.8 L432.3,294.5 L432.3,296.1 L432.4,297.1 L432.5,297.1 L432.5,297.6 L432.6,298.6 L432.7,298.9 L432.7,299.9 L432.8,300.7 L432.9,300.9 L432.9,302.3 L433.0,302.7 L433.1,303.4 L433.2,304.4 L433.3,304.4 L433.3,305.1 L433.4,306.2 L433.5,306.9 L433.6,307.4 L433.7,308.2 L433.8,308.8 L433.8,309.3 L433.9,309.9 L434.0,310.8 L434.1,311.7 L434.2,312.5 L434.3,312.7 L434.4,314.2 L434.5,315.0 L434.6,315.2 L434.7,315.6 L434.8,316.5 L434.9,317.4 L434.9,317.9 L435.0,319.1 L435.1,319.2 L435.2,320.2 L435.3,320.8 L435.4,322.0 L435.5,322.2 L435.6,322.9 L435.7,323.3 L435.7,324.1 L435.8,324.5 L435.9,326.4 L436.0,326.3 L436.0,326.9 L436.1,327.7 L436.2,328.4 L436.3,329.2 L436.3,329.3 L436.4,330.8 L436.5,331.1 L436.5,331.8 L436.6,333.0 L436.7,333.3 L436.7,333.7 L436.8,334.4 L436.9,335.5 L436.9,336.0 L437.0,336.7 L437.1,337.1 L437.1,338.1 L437.2,338.6 L437.3,339.3 L437.4,340.5 L437.5,340.9 L437.5,341.5 L437.6,342.5 L437.7,343.4 L437.8,343.3 L437.9,344.6 L438.0,345.1 L438.1,345.7 L438.2,346.8 L438.3,347.3 L438.4,347.7 L438.5,348.8 L438.6,349.2 L438.7,349.9 L438.8,350.3 L438.9,351.3 L439.1,352.1 L439.2,352.6 L439.3,353.4 L439.4,354.4 L439.5,354.7 L439.7,355.3 L439.8,356.5 L439.9,356.6 L440.0,356.9 L440.2,357.8 L440.3,358.8 L440.4,359.2 L440.6,359.9 L440.7,360.8 L440.8,361.6 L441.0,362.2 L441.1,363.0 L441.3,363.9 L441.5,365.2 L441.6,365.3 L441.8,365.9 L442.0,366.2 L442.1,367.1 L442.3,367.5 L442.5,368.4 L442.7,368.8 L442.8,370.0 L443.0,371.0 L443.2,371.4 L443.3,372.5 L443.5,372.2 L443.6,373.4 L443.8,373.9 L443.9,374.6 L444.1,375.0 L444.2,375.9 L444.4,376.6 L444.6,377.1 L444.8,378.3 L444.9,378.8 L445.1,379.6 L445.4,379.8 L445.6,380.4 L445.9,380.9 L446.1,382.1 L446.4,382.7 L446.7,383.1 L447.1,383.6 L447.4,384.4 L447.8,385.1 L448.2,385.7 L448.6,386.1 L449.0,387.0 L449.4,387.6 L449.8,387.7 L450.2,388.5 L450.7,389.0 L451.1,389.2 L451.5,390.0 L452.0,390.7 L452.5,391.5 L452.9,391.5 L453.4,392.1 L453.9,392.6 L454.5,393.1 L455.0,393.2 L455.5,394.3 L456.1,394.4 L456.6,395.0 L457.2,395.4 L457.8,395.5 L458.4,395.7 L459.1,396.1 L459.7,396.5 L460.3,396.7 L461.0,397.1 L461.6,397.1 L462.3,397.6 L462.9,397.7 L463.6,398.2 L464.3,398.4 L465.0,398.9 L465.6,398.9 L466.3,399.0 L467.0,398.9 L467.7,399.1 L468.4,399.3 L469.1,399.3 L469.8,399.4 L470.5,399.3 L471.2,399.7 L471.9,399.4 L472.6,399.6 L473.3,399.7 L474.0,400.5 L474.7,400.0 L475.4,400.2 L476.0,399.7 L476.7,400.3 L477.4,400.1 L478.1,400.5 L478.8,400.2 L479.5,400.1 L480.2,400.7 L480.9,400.7 L481.6,400.5 L482.3,401.0 L483.0,400.9 L483.6,401.5 L484.3,401.5 L485.0,401.8 L485.7,401.6 L486.4,402.3 L487.1,401.9 L487.8,402.2 L488.4,402.0 L489.1,402.1 L489.8,401.7 L490.5,402.0 L491.2,402.0 L491.9,401.4 L492.6,401.9 L493.3,401.3 L494.0,401.3 L494.7,401.2 L495.4,401.5 L496.1,401.0 L496.8,400.9 L497.5,401.0 L498.2,400.8 L498.8,401.0 L499.5,400.4 L500.2,400.2 L500.9,400.1 L501.6,399.9 L502.3,400.1 L502.9,399.9 L503.6,399.5 L504.3,399.3 L505.0,398.6 L505.6,399.2 L506.3,398.8 L507.0,398.0 L507.6,398.1 L508.3,398.0 L508.9,398.1 L509.6,397.6 L510.2,397.5 L510.8,397.3 L511.5,396.8 L512.1,396.1 L512.7,395.6 L513.3,395.6 L513.9,395.5 L514.5,395.0 L515.1,394.2 L515.7,394.4 L516.4,393.6 L517.0,393.4 L517.6,393.4 L518.2,392.8 L518.8,392.3 L519.4,391.9 L520.0,391.7 L520.6,391.4 L521.2,390.9 L521.7,390.4 L522.3,390.3 L522.9,390.0 L523.5,389.2 L524.1,389.2 L524.7,388.5 L525.2,388.2 L525.8,388.1 L526.4,387.1 L526.9,387.0 L527.5,387.0 L528.0,386.5 L528.6,385.6 L529.1,385.0 L529.7,385.1 L530.2,384.4 L530.7,384.0 L531.3,383.1 L531.8,383.0 L532.3,382.2 L532.8,382.0 L533.4,382.1 L533.9,381.4 L534.4,381.1 L534.9,380.2 L535.4,379.8 L535.9,379.1 L536.4,379.2 L536.9,378.0 L537.3,377.3 L537.8,377.0 L538.3,376.9 L538.7,375.9 L539.2,375.6 L539.6,374.6 L540.0,374.3 L540.5,373.6 L540.9,373.0 L541.3,372.7 L541.7,372.3 L542.1,372.1 L542.5,371.2 L542.9,370.2 L543.3,369.6 L543.7,368.9 L544.0,368.7 L544.4,367.8 L544.7,367.4 L545.1,366.6 L545.4,366.7 L545.8,365.6 L546.1,365.2 L546.4,364.4 L546.8,364.4 L547.1,362.8 L547.4,362.7 L547.7,362.3 L548.0,361.3 L548.4,360.9 L548.7,360.1 L549.0,359.7 L549.3,358.8 L549.6,358.6 L549.9,357.2 L550.2,357.1 L550.4,356.2 L550.7,355.5 L551.0,355.1 L551.3,354.2 L551.6,353.5 L551.8,353.2 L552.1,352.1 L552.4,351.7 L552.7,351.4 L553.0,350.3 L553.2,350.2 L553.5,348.9 L553.8,348.6 L554.1,348.0 L554.4,347.0 L554.7,346.9 L555.0,345.7 L555.3,345.8 L555.6,345.2 L555.9,344.0 L556.2,343.5 L556.5,342.8 L556.8,341.9 L557.1,341.4 L557.3,340.9 L557.6,340.3 L557.9,340.0 L558.2,338.9 L558.4,338.2 L558.7,337.9 L559.0,337.3 L559.2,336.4 L559.5,335.8 L559.7,335.0 L560.0,334.4 L560.2,333.3 L560.5,332.7 L560.7,332.7 L561.0,331.7 L561.3,330.9 L561.5,330.7 L561.8,330.4 L562.1,329.5 L562.4,328.8 L562.7,328.0 L563.0,327.9 L563.3,327.2 L563.6,326.2 L563.9,325.4 L564.2,324.9 L564.6,324.4 L564.9,323.6 L565.2,322.9 L565.5,322.3 L565.9,321.4 L566.2,321.1 L566.5,320.6 L566.8,319.6 L567.1,319.0 L567.4,318.9 L567.7,317.8 L568.0,317.4 L568.3,316.4 L568.6,315.6 L568.8,315.5 L569.1,314.9 L569.4,314.2 L569.7,313.5 L570.0,313.2 L570.3,312.2 L570.6,311.4 L570.9,311.0 L571.2,310.6 L571.5,309.8 L571.9,309.4 L572.2,308.9 L572.5,307.7 L572.8,307.2 L573.2,306.6 L573.5,306.2 L573.9,305.0 L574.2,305.1 L574.6,303.9 L574.9,303.7 L575.3,302.9 L575.6,302.3 L576.0,301.9 L576.3,300.9 L576.7,300.7 L577.0,299.9 L577.3,299.0 L577.7,299.0 L578.0,297.8 L578.3,297.6 L578.7,296.8 L579.0,296.2 L579.3,296.0 L579.7,295.1 L580.0,294.3 L580.3,294.0 L580.7,293.1 L581.0,293.0 L581.3,291.8 L581.7,291.5 L582.0,290.6 L582.4,290.3 L582.8,289.3 L583.1,288.9 L583.5,288.5 L583.8,287.4 L584.2,287.1 L584.6,286.6 L585.0,285.8 L585.3,285.3 L585.7,284.9 L586.1,284.4 L586.5,283.2 L586.9,282.8 L587.2,281.8 L587.6,281.8 L588.0,281.4 L588.4,280.4 L588.8,279.7 L589.1,279.6 L589.5,278.7 L589.9,278.8 L590.3,278.1 L590.7,276.7 L591.1,276.7 L591.4,276.1 L591.8,275.5 L592.2,274.8 L592.6,273.8 L593.0,273.6 L593.3,272.9 L593.7,272.8 L594.1,271.9 L594.4,271.5 L594.8,270.3 L595.1,270.0 L595.4,269.3 L595.8,268.5 L596.1,268.0 L596.4,267.1 L596.8,266.9 L597.1,266.1 L597.4,265.7 L597.8,265.1 L598.1,264.4 L598.4,263.6 L598.7,263.4 L599.1,262.8 L599.4,261.8 L599.7,261.6 L600.0,260.0 L600.4,260.1 L600.7,259.6 L601.1,258.8 L601.4,257.8 L601.7,257.6 L602.1,257.3 L602.4,256.5 L602.8,255.5 L603.1,255.2 L603.5,255.0 L603.8,254.3 L604.2,253.7 L604.5,252.7 L604.9,252.3 L605.2,251.5 L605.5,250.9 L605.9,250.0 L606.2,249.7 L606.5,249.3 L606.8,248.5 L607.1,247.4 L607.4,247.3 L607.7,246.3 L608.0,246.0 L608.2,245.1 L608.5,245.0 L608.8,243.9 L609.0,243.6 L609.3,242.3 L609.5,242.0 L609.7,241.4 L610.0,240.4 L610.2,239.9 L610.4,239.2 L610.6,238.7 L610.8,238.1 L611.0,237.0 L611.3,237.0 L611.5,236.2 L611.7,235.2 L611.9,234.9 L612.1,234.0 L612.3,233.2 L612.5,232.3 L612.7,231.4 L612.9,231.4 L613.1,231.0 L613.3,230.2 L613.6,229.5 L613.8,229.2 L614.0,227.6 L614.2,227.5 L614.4,227.2 L614.6,226.0 L614.8,225.8 L615.1,224.6 L615.3,223.9 L615.5,222.9 L615.7,222.8 L615.9,222.2 L616.1,221.5 L616.3,220.7 L616.5,220.2 L616.7,219.3 L616.9,218.2 L617.1,218.1 L617.3,217.5 L617.5,217.3 L617.7,215.9 L617.9,215.3 L618.1,214.2 L618.3,213.5 L618.5,213.0 L618.7,213.0 L618.8,212.0 L619.0,211.3 L619.2,210.4 L619.3,210.0 L619.5,209.4 L619.6,208.7 L619.8,207.8 L619.9,207.2 L620.1,206.6 L620.2,206.0 L620.3,205.2 L620.5,204.3 L620.6,203.4 L620.7,203.1 L620.8,202.4 L621.0,201.6 L621.1,200.9 L621.2,200.0 L621.3,199.8 L621.5,198.7 L621.6,198.2 L621.7,197.4 L621.9,196.5 L622.0,196.3 L622.1,195.1 L622.3,194.8 L622.4,194.0 L622.6,193.4 L622.7,192.5 L622.9,192.3 L623.1,191.7 L623.2,190.8 L623.4,189.9 L623.6,189.0 L623.7,189.1 L623.9,187.5 L624.1,187.0 L624.3,186.7 L624.5,186.1 L624.6,185.0 L624.8,184.7 L625.0,183.6 L625.2,183.4 L625.4,182.7 L625.6,181.9 L625.8,181.5 L626.0,180.6 L626.2,179.3 L626.4,179.4 L626.6,178.6 L626.8,178.1 L627.0,177.1 L627.2,176.7 L627.4,175.8 L627.6,175.3 L627.8,174.7 L628.0,173.7 L628.2,173.0 L628.4,172.5 L628.5,172.0 L628.7,171.2 L628.9,170.5 L629.1,169.9 L629.3,169.2 L629.5,168.2 L629.7,168.1 L629.9,167.4 L630.2,166.7 L630.4,165.3 L630.6,165.4 L630.8,164.1 L631.1,163.8 L631.3,163.1 L631.6,162.9 L631.9,162.1 L632.1,161.2 L632.4,160.7 L632.8,159.8 L633.1,159.1 L633.5,158.9 L633.8,158.3 L634.2,157.6 L634.6,157.4 L635.0,156.8 L635.4,155.7 L635.8,155.3 L636.3,154.8 L636.8,153.6 L637.2,153.8 L637.7,153.2 L638.2,152.5 L638.8,152.0 L639.3,151.5 L639.8,151.8 L640.4,151.2 L640.9,151.6 L641.5,151.7 L642.0,152.5 L642.5,153.0 L643.0,153.2 L643.5,153.8 L643.9,154.1 L644.2,154.7 L644.6,155.7 L644.9,156.3 L645.2,156.9 L645.4,157.2 L645.7,157.9 L645.9,158.1 L646.2,159.4 L646.4,159.5 L646.6,160.3 L646.8,161.2 L647.0,162.4 L647.1,162.5 L647.3,163.6 L647.5,164.6 L647.7,165.0 L647.8,165.6 L648.0,165.9 L648.1,166.8 L648.3,167.1 L648.5,168.4 L648.6,169.0 L648.8,170.0 L648.9,170.3 L649.0,171.1 L649.2,171.5 L649.3,172.5 L649.5,173.3 L649.6,173.9 L649.8,174.6 L649.9,175.1 L650.1,175.9 L650.2,176.5 L650.4,177.0 L650.5,177.8 L650.7,178.7 L650.8,179.3 L651.0,179.9 L651.1,180.4 L651.3,181.4 L651.4,181.8 L651.5,182.6 L651.7,183.5 L651.8,184.3 L652.0,184.6 L652.1,185.3 L652.2,186.3 L652.4,186.7 L652.5,187.9 L652.7,188.4 L652.8,188.9 L652.9,189.2 L653.1,190.4 L653.2,190.9 L653.3,191.2 L653.5,192.0 L653.6,192.9 L653.7,193.8 L653.9,193.8 L654.0,195.0 L654.1,195.7 L654.3,196.9 L654.4,197.1 L654.5,197.8 L654.7,198.4 L654.8,199.2 L654.9,200.0 L655.1,200.4 L655.2,201.3 L655.3,202.3 L655.5,202.5 L655.6,203.4 L655.7,204.4 L655.8,204.5 L656.0,205.3 L656.1,205.9 L656.2,206.9 L656.3,207.7 L656.4,208.2 L656.6,208.8 L656.7,209.5 L656.8,210.2 L656.9,211.1 L657.0,211.6 L657.1,212.6 L657.2,213.4 L657.3,213.6 L657.4,214.7 L657.5,215.3 L657.6,215.7 L657.7,215.8 L657.8,216.9 L657.8,218.0 L657.9,218.0 L658.0,219.5 L658.1,219.7 L658.2,220.6 L658.2,221.1 L658.3,221.8 L658.4,222.7 L658.4,223.0 L658.5,224.0 L658.6,224.6 L658.6,225.6 L658.7,225.9 L658.8,227.3 L658.8,227.9 L658.9,227.9 L659.0,228.6 L659.0,229.5 L659.1,230.4 L659.2,231.2 L659.2,231.9 L659.3,232.6 L659.3,233.1 L659.4,233.5 L659.5,234.3 L659.5,235.1 L659.6,235.7 L659.7,237.2 L659.7,237.2 L659.8,238.3 L659.9,238.9 L659.9,239.2 L660.0,239.7 L660.1,240.7 L660.1,241.6 L660.2,242.1 L660.3,243.1 L660.3,243.4 L660.4,244.1 L660.5,245.0 L660.6,246.2 L660.7,246.6 L660.7,247.5 L660.8,247.6 L660.9,248.7 L661.0,249.3 L661.1,250.4 L661.2,250.4 L661.3,251.3 L661.3,251.7 L661.4,252.3 L661.5,253.5 L661.6,254.2 L661.7,254.5 L661.8,255.7 L661.9,256.1 L662.0,256.8 L662.1,258.0 L662.2,258.4 L662.3,259.2 L662.4,260.0 L662.5,260.4 L662.6,260.9 L662.7,262.0 L662.8,262.8 L662.8,262.7 L662.9,263.6 L663.0,264.3 L663.1,264.9 L663.2,266.2 L663.3,266.5 L663.4,267.2 L663.5,268.0 L663.6,268.8 L663.7,269.3 L663.7,270.1 L663.8,270.4 L663.9,271.4 L664.0,271.9 L664.1,272.8 L664.1,273.8 L664.2,274.3 L664.3,274.9 L664.4,275.9 L664.5,276.7 L664.5,277.1 L664.6,277.5 L664.7,278.7 L664.8,279.1 L664.8,279.5 L664.9,280.6 L665.0,281.0 L665.0,281.7 L665.1,282.2 L665.2,282.9 L665.3,284.0 L665.3,283.9 L665.4,285.4 L665.5,286.2 L665.5,286.8 L665.6,287.3 L665.7,287.7 L665.8,288.7 L665.8,289.6 L665.9,290.5 L666.0,290.9 L666.1,291.0 L666.1,292.0 L666.2,292.6 L666.3,293.8 L666.4,294.4 L666.4,295.0 L666.5,295.6 L666.6,295.9 L666.7,297.0 L666.7,298.0 L666.8,298.2 L666.9,298.9 L667.0,299.5 L667.1,300.4 L667.1,301.3 L667.2,301.5 L667.3,302.7 L667.4,303.1 L667.5,304.6 L667.6,304.6 L667.7,305.5 L667.7,305.7 L667.8,307.0 L667.9,307.5 L668.0,308.1 L668.1,309.2 L668.2,309.5 L668.3,310.2 L668.4,311.3 L668.4,311.6 L668.5,312.5 L668.6,312.9 L668.7,313.5 L668.8,314.8 L668.9,315.2 L669.0,316.1 L669.1,316.8 L669.2,317.3 L669.3,318.0 L669.3,318.5 L669.4,319.2 L669.5,320.1 L669.6,320.2 L669.7,321.4 L669.8,321.8 L669.9,322.8 L670.0,323.2 L670.1,324.5 L670.2,325.0 L670.3,325.4 L670.4,326.4 L670.5,326.5 L670.6,327.3 L670.7,328.5 L670.8,329.4 L670.8,329.7 L670.9,330.6 L671.0,331.2 L671.1,332.2 L671.2,332.4 L671.3,332.8 L671.4,333.7 L671.5,334.6 L671.6,335.4 L671.7,335.8 L671.8,336.9 L671.9,337.0 L672.0,338.1 L672.1,338.5 L672.2,339.3 L672.3,340.0 L672.4,341.1 L672.5,341.9 L672.6,341.7 L672.7,342.8 L672.8,343.7 L672.9,344.1 L673.0,344.9 L673.1,345.6 L673.2,346.6 L673.3,346.9 L673.4,347.9 L673.5,348.4 L673.6,349.2 L673.7,349.7 L673.8,350.5 L673.9,351.2 L674.0,352.5 L674.1,352.9 L674.2,353.4 L674.3,354.0 L674.4,354.5 L674.5,355.7 L674.6,355.8 L674.7,356.6 L674.8,357.7 L674.9,358.0 L675.0,358.6 L675.1,360.2 L675.2,360.0 L675.3,360.8 L675.4,361.3 L675.5,362.3 L675.6,363.3 L675.7,364.3 L675.8,364.7 L675.9,365.2 L676.0,365.8 L676.1,366.8 L676.2,367.1 L676.3,368.0 L676.4,368.2 L676.5,369.4 L676.7,369.6 L676.8,370.5 L676.9,370.9 L677.0,371.7 L677.1,373.1 L677.2,373.5 L677.3,373.8 L677.4,375.1 L677.5,374.9 L677.7,376.1 L677.8,376.5 L677.9,377.7 L678.0,378.4 L678.1,378.8 L678.2,379.5 L678.4,380.1 L678.5,381.2 L678.6,381.7 L678.7,382.9 L678.8,383.1 L678.9,383.8 L679.1,384.2 L679.2,384.9 L679.3,386.0 L679.4,386.4 L679.6,387.5 L679.7,388.0 L679.8,388.4 L679.9,389.2 L680.1,390.2 L680.2,390.9 L680.3,391.6 L680.5,391.8 L680.6,392.8 L680.7,393.2 L680.9,394.7 L681.0,394.7 L681.1,395.5 L681.3,396.1 L681.4,396.6 L681.6,397.6 L681.7,398.1 L681.9,398.9 L682.0,399.7 L682.2,400.2 L682.3,400.8 L682.5,401.8 L682.6,402.3 L682.8,402.7 L682.9,403.1 L683.1,404.0 L683.3,405.0 L683.4,406.0 L683.6,406.2 L683.8,407.1 L684.0,407.4 L684.2,408.6 L684.3,409.5 L684.5,409.5 L684.7,410.4 L684.9,411.6 L685.1,411.6 L685.3,412.2 L685.5,413.1 L685.8,413.8 L686.0,414.4 L686.2,415.1 L686.4,416.0 L686.6,416.2 L686.9,417.3 L687.1,417.6 L687.4,418.6 L687.6,419.3 L687.9,419.7 L688.1,420.2 L688.4,420.7 L688.7,421.3 L688.9,422.5 L689.2,422.5 L689.5,423.6 L689.8,424.1 L690.1,425.1 L690.4,425.3 L690.7,426.4 L691.0,426.7 L691.3,427.9 L691.7,427.9 L692.0,428.5 L692.3,429.0 L692.7,430.1 L693.0,430.3 L693.4,431.3 L693.7,431.5 L694.1,431.9 L694.5,433.1 L694.9,433.7 L695.3,433.8 L695.7,434.7 L696.1,434.6 L696.6,435.8 L697.0,436.1 L697.4,436.8 L697.9,437.2 L698.3,437.9 L698.8,438.3 L699.2,438.8 L699.7,439.4 L700.1,440.1 L700.6,440.8 L701.0,441.2 L701.5,441.5 L702.0,442.2 L702.5,442.7 L703.0,443.7 L703.5,443.5 L704.0,444.4 L704.5,444.5 L705.0,445.4 L705.5,445.6 L706.0,446.2 L706.6,446.5 L707.1,447.2 L707.7,447.7 L708.2,447.9 L708.8,448.3 L709.4,448.5 L710.0,448.0 L710.7,448.7 L711.3,449.4 L712.0,449.4 L712.6,449.4 L713.3,449.5 L714.0,450.0 L714.7,450.7 L715.4,450.2 L716.0,450.9 L716.7,450.5 L717.4,451.0 L718.1,451.0 L718.8,450.7 L719.5,450.8 L720.2,450.9 L720.9,451.3 L721.6,450.8 L722.3,451.3 L723.0,451.2 L723.7,451.8 L724.4,451.1 L725.1,451.6 L725.8,451.6 L726.5,451.9 L727.2,451.8 L727.9,451.2 L728.6,452.0 L729.3,451.5 L730.0,451.8 L730.7,451.0 L731.4,452.0 L732.1,451.7 L732.8,451.7 L733.5,451.5 L734.2,451.9 L734.9,450.9 L735.6,451.6 L736.3,451.4 L737.0,451.6 L737.7,452.0 L738.4,451.3 L739.1,451.5 L739.8,451.2 L740.5,451.7 L741.2,451.5 L741.9,451.8 L742.6,452.0 L743.3,450.9 L744.0,451.0 L744.7,451.3 L745.4,451.5 L746.1,451.3 L746.8,451.6 L747.5,451.4 L748.2,451.1 L748.9,451.4 L749.6,451.2 L750.3,451.1 L751.0,451.4 L751.7,451.3 L752.4,451.6 L753.0,451.0 L753.6,451.0 L754.0,451.6 L754.3,451.3"/></g>
<g stroke="#FF00FF" stroke-width="3.4" fill="none" stroke-linejoin="round" stroke-linecap="butt"><path d="M295.5,390.8 L295.7,391.1 L295.9,391.2 L296.1,391.9 L296.4,393.0 L296.6,393.6 L296.9,394.1 L297.2,395.1 L297.4,396.0 L297.7,396.1 L298.1,397.0 L298.4,397.7 L298.7,398.0 L299.1,398.6 L299.5,398.9 L299.9,400.2 L300.3,400.5 L300.7,401.0 L301.1,401.3 L301.6,402.3 L302.1,402.0 L302.5,403.2 L303.1,403.8 L303.6,403.9 L304.2,404.1 L304.7,404.5 L305.3,405.4 L306.0,405.5 L306.6,406.0 L307.2,405.8 L307.9,405.8 L308.6,407.2 L309.3,406.2 L310.0,406.8 L310.7,406.9 L311.3,406.6 L312.0,406.7 L312.7,406.6 L313.4,406.9 L314.0,406.1 L314.7,406.0 L315.3,406.1 L315.9,404.9 L316.5,404.5 L317.1,404.5 L317.7,404.0 L318.3,404.0 L318.9,403.5 L319.4,402.9 L320.0,402.6 L320.5,401.9 L321.1,402.3 L321.6,401.5 L322.2,400.7 L322.7,401.1 L323.3,399.9 L323.9,399.7 L324.4,398.8 L325.0,398.3 L325.6,398.8 L326.2,397.8 L326.8,397.2 L327.4,396.9 L328.0,397.0 L328.6,396.3 L329.2,395.8 L329.8,395.0 L330.4,395.2 L331.1,395.2 L331.7,394.6 L332.3,394.2 L332.9,394.7 L333.5,393.9 L334.1,393.2 L334.7,393.1 L335.2,392.3 L335.8,392.3 L336.4,392.2 L336.9,391.3 L337.5,391.3 L338.0,390.3 L338.6,389.6 L339.1,389.5 L339.6,389.0 L340.1,388.9 L340.7,388.2 L341.2,387.4 L341.6,387.0 L342.1,386.6 L342.6,386.3 L343.1,385.3 L343.5,384.8 L344.0,384.5 L344.4,383.7 L344.8,383.7 L345.3,382.9 L345.7,382.0 L346.1,381.5 L346.5,381.5 L347.0,380.5 L347.4,379.8 L347.8,379.7 L348.2,379.2 L348.6,377.9 L349.0,377.8 L349.4,377.7 L349.8,377.3 L350.2,376.4 L350.6,375.7 L351.0,374.6 L351.4,374.6 L351.9,373.6 L352.3,373.1 L352.7,372.8 L353.1,371.8 L353.5,371.4 L353.9,371.5 L354.3,370.6 L354.7,369.3 L355.1,369.0 L355.5,368.3 L355.9,368.2 L356.3,367.2 L356.7,366.9 L357.1,366.4 L357.5,365.9 L357.9,365.2 L358.3,364.7 L358.7,364.0 L359.1,363.2 L359.5,363.1 L359.9,362.3 L360.2,361.5 L360.6,360.7 L361.0,360.6 L361.4,360.2 L361.8,359.4 L362.2,358.4 L362.6,358.0 L362.9,357.3 L363.3,356.9 L363.7,356.6 L364.1,355.9 L364.5,355.2 L364.9,354.5 L365.4,354.0 L365.8,353.7 L366.3,352.6 L366.8,352.5 L367.3,351.6 L367.8,352.0 L368.3,350.8 L368.8,350.9 L369.3,349.7 L369.8,350.2 L370.3,349.4 L370.8,348.8 L371.3,348.1 L371.8,347.6 L372.3,347.1 L372.8,347.0 L373.3,346.4 L373.8,346.0 L374.3,345.0 L374.7,344.6 L375.2,343.7 L375.7,343.1 L376.2,343.1 L376.6,342.4 L377.1,342.1 L377.5,341.4 L377.9,340.9 L378.4,340.4 L378.7,339.2 L379.1,339.2 L379.5,338.8 L379.9,338.1 L380.2,337.6 L380.6,336.3 L380.9,336.5 L381.2,335.8 L381.6,335.2 L381.9,334.5 L382.2,333.9 L382.5,333.4 L382.8,332.4 L383.1,331.8 L383.4,331.4 L383.7,330.2 L384.0,330.1 L384.3,329.1 L384.6,328.5 L384.8,327.8 L385.1,327.5 L385.4,326.4 L385.6,326.5 L385.9,325.3 L386.2,324.6 L386.4,324.6 L386.7,323.5 L386.9,322.4 L387.2,322.2 L387.4,321.8 L387.7,321.3 L387.9,320.5 L388.2,319.6 L388.5,319.7 L388.7,318.3 L389.0,317.1 L389.2,317.6 L389.5,316.8 L389.8,316.0 L390.1,315.8 L390.3,314.7 L390.6,313.8 L390.8,313.2 L391.1,312.2 L391.4,312.0 L391.6,310.9 L391.8,310.2 L392.1,309.4 L392.3,309.2 L392.5,308.7 L392.7,307.7 L392.9,306.7 L393.1,306.2 L393.3,305.8 L393.5,305.1 L393.7,304.3 L393.9,303.5 L394.1,303.6 L394.3,302.5 L394.5,301.9 L394.7,301.2 L394.9,300.1 L395.1,300.2 L395.3,299.0 L395.6,298.4 L395.8,297.6 L396.0,296.8 L396.3,296.5 L396.5,295.5 L396.7,295.1 L397.0,294.6 L397.2,294.3 L397.5,292.8 L397.7,293.0 L397.9,292.4 L398.1,291.1 L398.4,290.6 L398.6,290.2 L398.8,288.9 L399.0,289.0 L399.2,287.4 L399.4,287.4 L399.6,286.6 L399.8,285.6 L400.0,285.0 L400.2,284.5 L400.4,283.7 L400.5,283.1 L400.7,282.3 L400.9,282.0 L401.1,281.2 L401.3,280.5 L401.4,279.9 L401.6,279.2 L401.8,278.8 L401.9,277.8 L402.1,277.1 L402.3,276.2 L402.4,275.3 L402.6,274.8 L402.8,274.3 L402.9,273.3 L403.1,273.3 L403.3,272.0 L403.4,271.6 L403.6,270.7 L403.8,270.3 L404.0,269.8 L404.2,269.3 L404.4,267.9 L404.6,267.9 L404.8,266.7 L405.0,266.6 L405.2,265.1 L405.5,264.7 L405.7,264.2 L405.9,263.9 L406.2,262.9 L406.5,262.5 L406.7,261.7 L407.0,261.2 L407.3,260.3 L407.7,259.6 L408.0,259.2 L408.4,258.5 L408.8,257.9 L409.3,257.4 L409.8,256.5 L410.4,256.3 L411.0,256.3 L411.6,256.3 L412.2,256.2 L412.8,257.4 L413.3,256.9 L413.8,257.8 L414.2,258.5 L414.5,258.6 L414.9,259.6 L415.2,260.0 L415.5,260.4 L415.7,261.6 L416.0,262.3 L416.2,263.4 L416.5,263.6 L416.7,263.7 L416.9,265.0 L417.1,264.8 L417.3,265.9 L417.5,266.0 L417.6,267.6 L417.8,268.1 L418.0,269.3 L418.2,269.7 L418.3,270.0 L418.5,270.9 L418.6,271.7 L418.8,271.9 L418.9,272.6 L419.1,273.5 L419.2,273.6 L419.3,274.3 L419.4,275.6 L419.6,276.2 L419.7,276.8 L419.8,278.3 L419.9,278.4 L420.1,279.4 L420.2,279.8 L420.3,280.4 L420.4,281.0 L420.5,281.3 L420.6,282.5 L420.8,283.0 L420.9,284.1 L421.0,284.3 L421.1,285.0 L421.2,285.9 L421.4,286.1 L421.5,287.1 L421.6,288.0 L421.7,288.6 L421.8,289.3 L422.0,290.1 L422.1,290.8 L422.2,292.2 L422.3,292.1 L422.4,292.6 L422.5,293.8 L422.6,294.3 L422.8,294.9 L422.9,296.1 L423.0,295.8 L423.1,297.1 L423.2,297.6 L423.3,298.5 L423.4,299.2 L423.5,299.8 L423.7,300.7 L423.8,300.9 L423.9,301.7 L424.0,302.8 L424.1,303.2 L424.2,303.8 L424.3,304.3 L424.4,305.3 L424.6,305.6 L424.7,307.1 L424.8,308.1 L424.9,308.2 L425.0,308.5 L425.1,309.7 L425.2,309.7 L425.3,311.0 L425.4,311.5 L425.5,312.5 L425.7,312.7 L425.8,313.7 L425.9,314.6 L426.0,314.9 L426.1,316.1 L426.2,316.3 L426.3,317.0 L426.4,318.2 L426.5,318.3 L426.6,319.1 L426.7,319.6 L426.8,320.3 L426.9,321.6 L427.0,322.0 L427.2,322.3 L427.3,323.1 L427.4,324.0 L427.5,324.9 L427.6,325.5 L427.7,326.2 L427.8,326.4 L427.9,328.0 L428.0,328.0 L428.1,328.8 L428.2,329.4 L428.3,330.6 L428.4,331.0 L428.5,331.8 L428.6,332.2 L428.7,332.9 L428.8,333.7 L428.9,334.5 L429.0,335.3 L429.1,336.0 L429.2,336.7 L429.3,336.5 L429.4,337.8 L429.5,338.6 L429.6,339.5 L429.8,339.7 L429.9,340.2 L430.0,340.8 L430.1,341.7 L430.2,342.2 L430.3,343.3 L430.4,344.3 L430.5,344.4 L430.6,345.2 L430.7,345.9 L430.8,346.5 L430.9,347.8 L431.0,347.9 L431.1,349.1 L431.3,349.4 L431.4,349.8 L431.5,350.8 L431.6,351.5 L431.7,351.9 L431.8,352.8 L431.9,353.9 L432.1,354.4 L432.2,354.2 L432.3,356.0 L432.4,356.6 L432.6,357.2 L432.7,358.7 L432.8,358.0 L432.9,359.2 L433.1,360.1 L433.2,360.0 L433.4,361.5 L433.5,361.8 L433.6,362.3 L433.8,363.8 L433.9,364.2 L434.1,364.4 L434.3,365.3 L434.4,365.6 L434.6,367.4 L434.7,367.0 L434.9,368.1 L435.1,368.7 L435.2,369.9 L435.4,370.2 L435.6,370.9 L435.7,371.7 L435.9,372.1 L436.1,373.1 L436.2,374.1 L436.4,374.8 L436.6,374.2 L436.8,375.6 L436.9,376.5 L437.1,377.0 L437.3,378.0 L437.4,378.3 L437.6,379.3 L437.8,379.3 L438.0,380.0 L438.1,380.5 L438.3,381.9 L438.5,382.5 L438.7,383.5 L438.9,383.8 L439.1,384.5 L439.3,384.9 L439.5,386.1 L439.7,386.5 L439.9,387.1 L440.1,388.3 L440.3,388.0 L440.5,389.2 L440.7,389.8 L440.9,390.6 L441.1,391.2 L441.3,392.0 L441.6,392.0 L441.8,393.1 L442.0,393.5 L442.3,394.4 L442.5,394.6 L442.8,395.9 L443.0,396.5 L443.3,397.5 L443.5,397.1 L443.8,397.9 L444.1,398.9 L444.4,399.5 L444.7,399.7 L445.0,400.5 L445.3,401.4 L445.6,402.3 L445.9,402.9 L446.3,403.3 L446.6,404.4 L447.0,404.9 L447.5,405.2 L447.9,405.7 L448.4,406.3 L448.9,406.6 L449.5,407.6 L450.1,407.0 L450.7,407.7 L451.3,408.0 L451.9,408.4 L452.6,408.3 L453.2,408.1 L453.9,408.7 L454.6,409.3 L455.3,408.8 L456.0,409.2 L456.7,409.2 L457.4,409.1 L458.1,408.9 L458.8,408.9 L459.5,409.4 L460.2,409.0 L460.9,408.9 L461.6,408.7 L462.3,408.8 L463.0,409.1 L463.7,409.0 L464.4,408.7 L465.1,408.6 L465.8,408.9 L466.5,408.9 L467.2,408.6 L467.9,408.2 L468.6,407.7 L469.3,408.0 L470.0,408.3 L470.7,408.5 L471.4,408.3 L472.1,408.2 L472.8,408.7 L473.5,408.4 L474.2,408.2 L474.9,408.2 L475.6,408.7 L476.3,408.4 L477.0,408.8 L477.7,408.8 L478.4,408.8 L479.1,408.8 L479.8,409.0 L480.5,408.6 L481.2,409.3 L481.9,409.2 L482.6,409.3 L483.2,409.7 L483.9,409.8 L484.6,410.1 L485.3,410.1 L485.9,411.1 L486.6,410.2 L487.3,410.7 L488.0,410.6 L488.7,410.3 L489.4,410.8 L490.0,411.0 L490.7,410.3 L491.4,410.7 L492.1,409.7 L492.8,410.0 L493.5,409.5 L494.1,409.2 L494.8,409.1 L495.5,408.9 L496.1,409.0 L496.8,409.2 L497.4,408.7 L498.1,408.6 L498.7,407.8 L499.4,407.4 L500.0,407.8 L500.7,407.5 L501.3,406.6 L502.0,406.5 L502.6,406.5 L503.3,406.0 L503.9,405.4 L504.6,405.6 L505.2,404.7 L505.9,405.6 L506.5,404.8 L507.2,404.0 L507.8,404.4 L508.4,404.2 L509.0,403.8 L509.6,403.2 L510.2,402.4 L510.8,402.2 L511.4,402.6 L512.0,401.6 L512.6,401.0 L513.2,400.8 L513.7,400.0 L514.3,399.9 L514.9,399.7 L515.4,399.0 L516.0,399.3 L516.6,398.1 L517.2,398.3 L517.7,397.7 L518.3,397.7 L518.9,396.9 L519.5,395.8 L520.1,395.7 L520.6,395.7 L521.2,395.0 L521.8,395.3 L522.4,394.0 L523.0,394.4 L523.6,393.6 L524.2,393.5 L524.8,393.2 L525.3,392.0 L525.9,392.0 L526.5,391.9 L527.1,391.4 L527.6,390.6 L528.2,390.4 L528.7,390.1 L529.3,389.6 L529.9,389.4 L530.4,389.3 L531.0,388.6 L531.5,387.6 L532.0,387.2 L532.6,387.3 L533.1,386.9 L533.6,386.0 L534.2,385.5 L534.7,384.6 L535.2,385.1 L535.7,384.3 L536.2,383.7 L536.8,383.6 L537.3,383.0 L537.8,382.8 L538.3,381.6 L538.8,381.4 L539.2,380.6 L539.7,380.4 L540.2,379.7 L540.7,378.9 L541.1,378.5 L541.6,378.4 L542.0,377.5 L542.5,377.2 L542.9,376.0 L543.3,376.2 L543.8,374.8 L544.2,374.8 L544.6,374.5 L545.0,374.5 L545.4,373.3 L545.8,372.4 L546.1,371.9 L546.5,371.6 L546.9,371.0 L547.2,370.2 L547.6,370.0 L547.9,369.3 L548.3,368.2 L548.6,367.9 L549.0,367.4 L549.3,366.3 L549.6,365.8 L550.0,365.5 L550.3,364.7 L550.6,364.4 L550.9,363.7 L551.3,362.8 L551.6,362.6 L551.9,361.7 L552.2,361.3 L552.5,361.2 L552.8,359.6 L553.1,358.7 L553.4,358.8 L553.6,357.7 L553.9,357.0 L554.2,356.9 L554.5,355.8 L554.8,354.6 L555.0,355.0 L555.3,353.9 L555.6,353.1 L555.9,352.8 L556.2,352.1 L556.4,351.2 L556.7,351.0 L557.0,349.8 L557.3,349.6 L557.6,348.8 L557.9,348.4 L558.2,347.8 L558.5,346.7 L558.8,346.2 L559.1,346.2 L559.4,345.3 L559.7,344.7 L560.0,344.1 L560.3,343.3 L560.6,342.1 L560.9,341.8 L561.1,341.2 L561.4,340.7 L561.7,339.3 L561.9,339.8 L562.2,338.5 L562.5,338.2 L562.7,336.7 L562.9,336.8 L563.2,335.8 L563.4,335.7 L563.7,334.5 L563.9,334.5 L564.2,333.8 L564.5,332.5 L564.7,331.9 L565.0,331.3 L565.3,330.9 L565.6,330.3 L565.9,329.3 L566.2,328.8 L566.5,328.3 L566.9,327.9 L567.2,326.9 L567.5,326.6 L567.8,326.0 L568.2,325.6 L568.5,324.4 L568.8,324.4 L569.2,323.9 L569.5,322.9 L569.8,322.2 L570.2,321.7 L570.5,320.8 L570.8,320.3 L571.1,320.0 L571.4,319.0 L571.7,318.4 L572.0,317.8 L572.4,317.2 L572.7,316.9 L573.0,316.2 L573.3,314.9 L573.6,314.7 L573.9,314.0 L574.2,313.7 L574.5,313.1 L574.8,312.1 L575.1,311.4 L575.5,310.3 L575.8,310.5 L576.1,309.8 L576.4,309.1 L576.8,308.1 L577.1,307.8 L577.4,307.1 L577.8,306.4 L578.1,305.9 L578.4,304.9 L578.8,304.5 L579.1,303.3 L579.5,303.6 L579.8,303.4 L580.1,301.7 L580.5,301.8 L580.8,301.0 L581.1,300.3 L581.5,300.1 L581.8,298.8 L582.1,298.7 L582.4,297.8 L582.8,297.3 L583.1,296.2 L583.4,296.0 L583.8,295.6 L584.1,294.9 L584.4,293.7 L584.8,293.9 L585.1,293.1 L585.4,292.5 L585.8,292.0 L586.2,291.0 L586.5,290.9 L586.9,290.1 L587.3,289.3 L587.6,288.8 L588.0,288.5 L588.4,288.4 L588.8,286.9 L589.2,285.7 L589.6,286.0 L590.0,285.1 L590.4,284.7 L590.8,284.1 L591.2,283.8 L591.6,283.1 L592.0,282.3 L592.5,281.8 L592.9,281.2 L593.3,280.7 L593.7,280.2 L594.2,280.0 L594.6,278.8 L595.0,279.0 L595.5,277.8 L595.9,277.7 L596.3,277.7 L596.7,276.4 L597.2,276.3 L597.5,275.4 L597.9,274.6 L598.3,274.5 L598.7,273.1 L599.0,273.1 L599.4,272.2 L599.7,271.9 L600.0,271.4 L600.4,270.6 L600.7,269.8 L601.0,269.6 L601.4,268.2 L601.7,268.3 L602.0,267.7 L602.3,266.6 L602.6,266.2 L602.9,265.6 L603.2,265.3 L603.6,264.3 L603.9,263.5 L604.2,262.9 L604.5,262.1 L604.7,261.2 L605.0,261.5 L605.3,260.8 L605.6,260.1 L605.9,259.0 L606.2,258.8 L606.5,258.3 L606.7,257.2 L607.0,256.7 L607.3,255.6 L607.5,255.4 L607.8,255.2 L608.1,254.3 L608.3,253.7 L608.6,252.9 L608.8,251.9 L609.1,251.1 L609.4,250.5 L609.6,250.1 L609.8,249.3 L610.1,249.0 L610.3,247.7 L610.5,247.6 L610.8,246.3 L611.0,246.1 L611.2,245.4 L611.5,245.1 L611.7,244.0 L611.9,243.4 L612.1,242.9 L612.3,241.9 L612.6,241.8 L612.8,240.7 L613.0,240.1 L613.2,239.8 L613.5,238.9 L613.7,238.1 L613.9,237.8 L614.1,237.0 L614.3,236.1 L614.5,236.0 L614.8,234.7 L615.0,234.6 L615.2,233.8 L615.4,232.9 L615.6,232.1 L615.8,231.7 L616.0,230.2 L616.3,229.7 L616.5,229.9 L616.7,228.6 L616.9,228.3 L617.1,227.7 L617.3,226.6 L617.5,226.5 L617.7,225.1 L617.9,224.8 L618.1,224.1 L618.3,222.8 L618.5,223.2 L618.7,221.7 L618.9,221.1 L619.1,221.0 L619.3,219.7 L619.5,219.5 L619.7,218.6 L619.9,217.9 L620.1,217.1 L620.3,216.6 L620.5,216.1 L620.7,215.5 L620.9,214.5 L621.1,214.3 L621.3,213.4 L621.5,212.9 L621.7,211.9 L621.9,211.0 L622.1,211.4 L622.3,209.8 L622.5,209.8 L622.7,208.9 L622.9,208.0 L623.2,207.2 L623.4,206.6 L623.6,206.4 L623.8,205.2 L624.0,204.9 L624.2,203.9 L624.4,203.3 L624.6,202.5 L624.8,201.7 L625.0,201.6 L625.2,201.0 L625.4,200.2 L625.6,199.1 L625.8,198.5 L626.0,197.8 L626.2,197.6 L626.4,196.5 L626.6,195.8 L626.8,195.4 L627.0,194.7 L627.2,194.0 L627.4,193.5 L627.6,192.4 L627.8,192.4 L628.0,191.1 L628.2,190.3 L628.4,190.3 L628.6,189.0 L628.8,188.6 L629.0,187.6 L629.2,187.7 L629.4,186.7 L629.6,186.3 L629.8,185.2 L630.0,184.2 L630.2,184.4 L630.4,183.7 L630.6,182.5 L630.8,182.0 L631.0,181.1 L631.2,180.0 L631.4,179.7 L631.6,178.8 L631.8,178.5 L632.0,177.8 L632.2,177.4 L632.4,177.1 L632.7,176.1 L632.9,175.1 L633.1,174.3 L633.3,174.3 L633.6,172.4 L633.8,171.9 L634.0,171.2 L634.3,171.6 L634.5,169.8 L634.8,169.8 L635.1,169.6 L635.4,168.6 L635.8,167.4 L636.2,167.5 L636.6,166.8 L637.1,166.5 L637.7,165.8 L638.2,165.7 L638.7,166.1 L639.3,166.0 L639.8,166.1 L640.3,166.9 L640.8,167.5 L641.3,168.2 L641.7,168.8 L642.2,168.6 L642.6,169.6 L643.0,169.7 L643.3,170.8 L643.7,172.2 L644.0,172.1 L644.4,172.7 L644.7,173.0 L644.9,173.8 L645.2,174.7 L645.4,175.4 L645.6,176.0 L645.7,177.2 L645.9,176.7 L646.1,178.1 L646.2,178.0 L646.4,179.5 L646.5,179.9 L646.7,180.3 L646.8,181.2 L646.9,181.7 L647.0,182.7 L647.1,182.8 L647.3,184.3 L647.4,184.9 L647.5,185.3 L647.6,186.2 L647.7,187.2 L647.8,188.0 L647.9,188.3 L648.1,189.1 L648.2,189.1 L648.3,190.1 L648.4,191.0 L648.6,191.6 L648.7,192.0 L648.8,193.1 L649.0,194.2 L649.1,194.8 L649.3,194.5 L649.4,195.9 L649.5,196.3 L649.7,197.5 L649.8,197.8 L650.0,198.6 L650.1,199.4 L650.3,199.8 L650.4,200.2 L650.6,200.8 L650.7,202.2 L650.8,202.5 L651.0,203.3 L651.1,204.3 L651.3,204.8 L651.4,205.7 L651.6,205.8 L651.7,207.2 L651.9,207.6 L652.0,208.4 L652.2,209.6 L652.3,209.7 L652.4,210.2 L652.6,211.1 L652.7,211.7 L652.9,212.5 L653.0,212.9 L653.2,213.9 L653.3,214.8 L653.4,214.7 L653.5,216.0 L653.7,216.4 L653.8,217.3 L653.9,217.7 L654.0,218.9 L654.1,219.3 L654.2,219.7 L654.3,220.4 L654.4,221.3 L654.5,222.2 L654.6,222.8 L654.7,223.8 L654.8,223.9 L654.9,224.7 L655.0,225.6 L655.1,226.9 L655.1,226.8 L655.2,227.8 L655.3,228.6 L655.4,228.4 L655.5,229.5 L655.6,230.4 L655.7,231.0 L655.8,231.9 L655.8,232.6 L655.9,232.7 L656.0,233.5 L656.1,234.2 L656.2,234.1 L656.3,235.2 L656.3,236.5 L656.4,237.1 L656.5,237.4 L656.6,238.4 L656.7,239.2 L656.8,239.8 L656.9,241.0 L657.0,241.3 L657.1,241.3 L657.2,243.0 L657.3,243.8 L657.3,244.6 L657.4,245.0 L657.5,245.6 L657.6,246.7 L657.7,247.1 L657.8,247.6 L658.0,248.5 L658.1,248.8 L658.2,249.8 L658.3,249.9 L658.4,251.1 L658.5,252.4 L658.6,252.2 L658.7,253.0 L658.8,253.8 L658.9,254.7 L659.0,254.8 L659.1,255.6 L659.2,256.5 L659.3,257.1 L659.4,257.5 L659.6,259.0 L659.7,259.6 L659.8,260.6 L659.9,260.9 L660.0,261.1 L660.1,261.8 L660.2,262.6 L660.3,263.0 L660.4,264.0 L660.5,265.1 L660.6,265.6 L660.7,266.2 L660.8,266.8 L660.9,268.1 L660.9,268.4 L661.0,269.3 L661.1,270.8 L661.2,270.3 L661.3,271.5 L661.4,272.1 L661.5,272.4 L661.5,273.3 L661.6,273.8 L661.7,274.5 L661.8,275.7 L661.9,275.9 L661.9,276.1 L662.0,277.9 L662.1,278.2 L662.2,278.6 L662.2,279.4 L662.3,280.4 L662.4,280.8 L662.4,281.7 L662.5,282.7 L662.6,283.0 L662.7,283.9 L662.7,284.5 L662.8,285.1 L662.9,285.5 L662.9,286.8 L663.0,287.0 L663.1,287.9 L663.2,288.1 L663.2,289.2 L663.3,290.1 L663.4,290.4 L663.4,291.2 L663.5,292.6 L663.6,293.0 L663.7,293.2 L663.7,294.4 L663.8,294.9 L663.9,295.8 L664.0,296.1 L664.0,297.1 L664.1,297.8 L664.2,298.3 L664.3,298.9 L664.4,300.3 L664.5,300.3 L664.5,301.4 L664.6,301.7 L664.7,302.3 L664.8,303.3 L664.9,303.4 L665.0,304.4 L665.1,305.4 L665.1,305.5 L665.2,306.4 L665.3,307.3 L665.4,308.2 L665.5,309.1 L665.6,309.7 L665.7,310.1 L665.8,310.2 L665.8,311.6 L665.9,312.2 L666.0,312.8 L666.1,313.7 L666.2,314.0 L666.3,315.2 L666.4,315.7 L666.5,316.0 L666.6,317.0 L666.7,318.0 L666.8,318.5 L666.9,319.1 L667.0,320.1 L667.0,320.6 L667.1,321.2 L667.2,321.9 L667.3,322.6 L667.4,323.1 L667.5,323.9 L667.6,324.9 L667.7,325.6 L667.8,326.1 L667.9,326.4 L668.0,327.5 L668.1,328.4 L668.2,329.1 L668.3,329.2 L668.4,330.4 L668.5,331.1 L668.6,331.8 L668.7,332.8 L668.8,332.1 L668.9,333.5 L669.0,334.1 L669.1,335.6 L669.2,335.8 L669.3,336.9 L669.4,337.1 L669.5,337.9 L669.6,338.4 L669.7,339.5 L669.8,339.8 L669.9,340.7 L670.0,341.6 L670.1,341.9 L670.2,342.3 L670.3,342.9 L670.4,343.9 L670.5,345.3 L670.6,345.3 L670.7,346.3 L670.8,347.2 L671.0,347.4 L671.1,348.3 L671.2,348.7 L671.3,349.8 L671.4,350.5 L671.5,350.7 L671.6,351.8 L671.7,352.3 L671.8,353.3 L671.9,354.1 L672.0,354.5 L672.1,354.9 L672.3,355.6 L672.4,356.9 L672.5,357.5 L672.6,358.1 L672.7,358.6 L672.8,359.2 L672.9,360.2 L673.0,361.0 L673.2,362.0 L673.3,362.4 L673.4,362.8 L673.5,364.2 L673.6,363.5 L673.7,364.7 L673.8,365.9 L674.0,366.2 L674.1,366.9 L674.2,367.8 L674.3,368.8 L674.4,369.0 L674.6,370.3 L674.7,370.2 L674.8,370.8 L674.9,371.5 L675.0,372.3 L675.1,372.6 L675.3,373.9 L675.4,374.8 L675.5,375.1 L675.6,375.6 L675.7,376.5 L675.9,377.3 L676.0,377.6 L676.1,378.6 L676.2,380.0 L676.3,380.0 L676.5,380.6 L676.6,381.1 L676.7,382.5 L676.8,382.6 L676.9,383.5 L677.1,384.8 L677.2,384.8 L677.3,385.7 L677.4,386.4 L677.6,386.8 L677.7,387.3 L677.8,388.9 L677.9,389.4 L678.1,389.7 L678.2,391.1 L678.3,390.9 L678.5,391.7 L678.6,392.1 L678.7,393.2 L678.9,394.0 L679.0,394.4 L679.1,395.1 L679.3,395.5 L679.4,396.2 L679.6,397.0 L679.7,398.2 L679.9,398.6 L680.0,399.3 L680.2,400.4 L680.4,400.9 L680.5,401.5 L680.7,402.3 L680.9,402.5 L681.0,403.2 L681.2,404.6 L681.4,405.2 L681.6,405.6 L681.8,406.5 L681.9,406.8 L682.1,407.5 L682.3,408.1 L682.5,408.3 L682.7,409.0 L682.9,410.1 L683.2,410.4 L683.4,411.3 L683.6,412.6 L683.8,412.8 L684.0,413.3 L684.2,414.3 L684.5,414.8 L684.7,415.2 L684.9,415.6 L685.2,416.9 L685.4,417.4 L685.7,417.8 L685.9,418.3 L686.2,419.3 L686.5,419.7 L686.7,420.4 L687.0,421.4 L687.3,421.8 L687.6,422.8 L687.8,423.5 L688.1,423.7 L688.4,424.5 L688.7,425.1 L689.0,425.6 L689.3,426.5 L689.7,426.8 L690.0,427.4 L690.3,427.9 L690.6,428.9 L691.0,429.6 L691.3,430.3 L691.7,430.6 L692.0,431.1 L692.4,431.4 L692.8,432.5 L693.2,433.2 L693.6,433.7 L694.0,434.2 L694.4,435.2 L694.8,435.3 L695.3,435.5 L695.7,436.3 L696.1,437.1 L696.6,437.5 L697.0,438.8 L697.5,438.6 L697.9,439.4 L698.4,439.5 L698.8,440.0 L699.3,441.1 L699.8,441.7 L700.2,441.5 L700.7,442.7 L701.2,443.3 L701.7,444.1 L702.2,444.1 L702.7,444.5 L703.2,445.0 L703.7,445.8 L704.2,445.7 L704.8,446.6 L705.3,446.9 L705.9,447.1 L706.4,447.2 L707.0,447.9 L707.6,448.5 L708.2,448.7 L708.8,449.1 L709.5,448.5 L710.1,449.4 L710.8,449.4 L711.5,450.0 L712.2,450.0 L712.8,450.7 L713.5,450.1 L714.2,450.4 L714.9,449.7 L715.6,451.2 L716.3,450.4 L717.0,450.5 L717.7,451.0 L718.4,451.5 L719.1,450.9 L719.8,451.4 L720.5,450.8 L721.2,451.6 L721.9,451.4 L722.6,451.6 L723.3,451.6 L724.0,451.4 L724.7,451.4 L725.4,451.8 L726.1,451.8 L726.8,452.0 L727.5,451.8 L728.2,451.6 L728.9,451.7 L729.6,451.6 L730.3,451.6 L731.0,451.8 L731.7,451.9 L732.4,451.7 L733.1,451.6 L733.8,451.8 L734.5,451.2 L735.2,451.9 L735.9,451.8 L736.6,451.4 L737.3,451.5 L738.0,451.9 L738.7,451.9 L739.4,451.6 L740.1,451.7 L740.8,450.8 L741.5,451.9 L742.2,452.0 L742.9,451.3 L743.6,450.9 L744.3,451.6 L745.0,451.9 L745.7,451.4 L746.4,451.9 L747.1,451.7 L747.8,451.5 L748.5,451.7 L749.2,451.8 L749.9,451.5 L750.6,451.1 L751.3,451.0 L752.0,450.9 L752.6,451.0 L753.2,451.8 L753.7,451.7 L754.1,451.1"/><path d="M295.5,392.1 L295.7,391.8 L295.9,392.8 L296.1,393.3 L296.4,393.7 L296.6,394.4 L296.9,394.9 L297.2,395.7 L297.4,396.7 L297.7,396.8 L298.1,397.9 L298.4,398.0 L298.7,399.4 L299.1,399.2 L299.5,399.7 L299.9,400.6 L300.3,401.2 L300.7,401.8 L301.1,402.5 L301.6,402.5 L302.1,403.9 L302.5,403.7 L303.1,404.3 L303.6,404.7 L304.2,405.2 L304.7,406.1 L305.3,406.1 L306.0,406.6 L306.6,407.5 L307.2,407.3 L307.9,407.3 L308.6,406.8 L309.3,407.6 L310.0,407.7 L310.7,407.5 L311.3,407.1 L312.0,407.4 L312.7,407.2 L313.4,407.6 L314.0,407.1 L314.7,406.8 L315.3,406.2 L315.9,405.9 L316.5,405.9 L317.1,405.6 L317.7,405.4 L318.3,404.6 L318.9,404.1 L319.4,403.9 L320.0,403.0 L320.5,402.8 L321.1,402.2 L321.6,402.2 L322.2,401.1 L322.7,400.9 L323.3,400.7 L323.9,400.4 L324.4,399.8 L325.0,399.6 L325.6,399.0 L326.2,398.3 L326.8,398.3 L327.4,398.4 L328.0,397.6 L328.6,397.3 L329.2,397.0 L329.8,396.7 L330.4,396.3 L331.1,395.5 L331.7,395.9 L332.3,395.8 L332.9,394.7 L333.5,394.4 L334.1,394.3 L334.7,393.7 L335.2,392.8 L335.8,393.6 L336.4,392.3 L336.9,392.6 L337.5,391.6 L338.0,391.1 L338.6,390.5 L339.1,390.4 L339.6,390.0 L340.1,389.9 L340.7,389.0 L341.2,388.4 L341.6,388.0 L342.1,387.3 L342.6,387.2 L343.1,386.8 L343.5,385.9 L344.0,385.5 L344.4,384.9 L344.8,384.1 L345.3,384.2 L345.7,382.9 L346.1,382.9 L346.5,382.3 L347.0,381.2 L347.4,381.2 L347.8,379.9 L348.2,380.1 L348.6,378.8 L349.0,379.0 L349.4,378.2 L349.8,377.0 L350.2,376.6 L350.6,376.1 L351.0,375.6 L351.4,375.0 L351.9,374.5 L352.3,374.1 L352.7,373.2 L353.1,372.8 L353.5,372.4 L353.9,372.7 L354.3,371.3 L354.7,370.4 L355.1,370.2 L355.5,370.0 L355.9,369.3 L356.3,368.3 L356.7,368.1 L357.1,366.8 L357.5,366.8 L357.9,366.4 L358.3,365.4 L358.7,365.4 L359.1,364.3 L359.5,363.8 L359.9,362.9 L360.2,362.6 L360.6,362.1 L361.0,361.5 L361.4,360.6 L361.8,360.2 L362.2,359.6 L362.6,359.2 L362.9,358.4 L363.3,357.8 L363.7,358.1 L364.1,357.2 L364.5,355.9 L364.9,356.0 L365.4,354.8 L365.8,354.6 L366.3,354.1 L366.8,353.5 L367.3,353.0 L367.8,352.5 L368.3,352.3 L368.8,352.0 L369.3,351.6 L369.8,349.8 L370.3,350.6 L370.8,349.5 L371.3,348.6 L371.8,348.6 L372.3,348.8 L372.8,348.1 L373.3,347.5 L373.8,346.4 L374.3,346.6 L374.7,346.1 L375.2,345.6 L375.7,344.9 L376.2,343.9 L376.6,343.3 L377.1,342.8 L377.5,342.4 L377.9,341.9 L378.4,341.3 L378.7,340.6 L379.1,339.6 L379.5,339.5 L379.9,338.8 L380.2,338.6 L380.6,338.2 L380.9,337.3 L381.2,336.8 L381.6,336.1 L381.9,335.4 L382.2,334.4 L382.5,333.8 L382.8,333.4 L383.1,332.4 L383.4,332.4 L383.7,331.5 L384.0,330.9 L384.3,330.2 L384.6,329.4 L384.8,328.8 L385.1,328.5 L385.4,327.9 L385.6,327.0 L385.9,326.3 L386.2,325.8 L386.4,324.7 L386.7,324.3 L386.9,323.4 L387.2,322.9 L387.4,322.7 L387.7,321.9 L387.9,320.8 L388.2,320.3 L388.5,319.9 L388.7,318.8 L389.0,318.5 L389.2,318.3 L389.5,317.3 L389.8,316.9 L390.1,316.0 L390.3,315.8 L390.6,314.7 L390.8,314.0 L391.1,313.7 L391.4,312.5 L391.6,312.0 L391.8,311.3 L392.1,310.8 L392.3,310.0 L392.5,310.0 L392.7,308.3 L392.9,308.2 L393.1,307.2 L393.3,306.8 L393.5,306.4 L393.7,305.2 L393.9,304.0 L394.1,304.2 L394.3,303.8 L394.5,302.7 L394.7,301.8 L394.9,301.2 L395.1,300.8 L395.3,299.8 L395.6,298.8 L395.8,298.5 L396.0,298.0 L396.3,297.3 L396.5,296.8 L396.7,296.3 L397.0,295.9 L397.2,294.4 L397.5,294.3 L397.7,293.4 L397.9,292.7 L398.1,291.6 L398.4,291.7 L398.6,290.1 L398.8,290.0 L399.0,290.1 L399.2,288.6 L399.4,288.3 L399.6,287.2 L399.8,286.5 L400.0,286.2 L400.2,285.6 L400.4,284.6 L400.5,283.8 L400.7,283.2 L400.9,282.7 L401.1,281.8 L401.3,281.7 L401.4,280.5 L401.6,279.9 L401.8,279.1 L401.9,278.2 L402.1,278.1 L402.3,277.1 L402.4,276.7 L402.6,275.9 L402.8,276.1 L402.9,274.8 L403.1,274.5 L403.3,272.6 L403.4,272.6 L403.6,272.1 L403.8,270.8 L404.0,270.6 L404.2,269.6 L404.4,269.6 L404.6,268.4 L404.8,267.7 L405.0,267.8 L405.2,266.4 L405.5,265.4 L405.7,265.2 L405.9,264.2 L406.2,263.4 L406.5,263.2 L406.7,262.7 L407.0,261.4 L407.3,261.5 L407.7,260.1 L408.0,260.0 L408.4,259.8 L408.8,259.1 L409.3,258.0 L409.8,257.8 L410.4,257.3 L411.0,256.8 L411.6,257.6 L412.2,258.2 L412.8,257.4 L413.3,257.6 L413.8,258.4 L414.2,259.3 L414.5,259.9 L414.9,260.1 L415.2,261.3 L415.5,261.4 L415.7,262.3 L416.0,263.7 L416.2,263.7 L416.5,264.3 L416.7,265.1 L416.9,265.5 L417.1,266.3 L417.3,266.6 L417.5,267.2 L417.6,267.9 L417.8,269.1 L418.0,269.2 L418.2,270.4 L418.3,271.7 L418.5,271.9 L418.6,272.2 L418.8,273.2 L418.9,274.2 L419.1,274.2 L419.2,275.5 L419.3,275.3 L419.4,276.1 L419.6,277.5 L419.7,277.5 L419.8,279.0 L419.9,279.1 L420.1,280.0 L420.2,280.6 L420.3,281.0 L420.4,282.2 L420.5,282.7 L420.6,283.7 L420.8,283.6 L420.9,284.0 L421.0,285.4 L421.1,286.1 L421.2,286.8 L421.4,287.7 L421.5,288.3 L421.6,288.4 L421.7,289.2 L421.8,290.0 L422.0,290.9 L422.1,291.6 L422.2,292.4 L422.3,292.3 L422.4,294.0 L422.5,294.4 L422.6,295.2 L422.8,296.2 L422.9,296.6 L423.0,297.0 L423.1,297.7 L423.2,299.0 L423.3,299.3 L423.4,300.2 L423.5,300.6 L423.7,301.9 L423.8,302.9 L423.9,302.6 L424.0,303.4 L424.1,304.0 L424.2,304.5 L424.3,306.2 L424.4,306.7 L424.6,306.4 L424.7,307.3 L424.8,308.6 L424.9,309.0 L425.0,310.0 L425.1,310.2 L425.2,311.5 L425.3,311.3 L425.4,312.5 L425.5,313.0 L425.7,313.8 L425.8,314.7 L425.9,315.1 L426.0,315.8 L426.1,316.4 L426.2,317.8 L426.3,317.5 L426.4,318.5 L426.5,319.6 L426.6,319.6 L426.7,320.3 L426.8,321.5 L426.9,321.5 L427.0,322.1 L427.2,323.5 L427.3,324.0 L427.4,325.1 L427.5,325.3 L427.6,326.5 L427.7,326.8 L427.8,327.3 L427.9,328.7 L428.0,329.4 L428.1,329.4 L428.2,330.3 L428.3,331.1 L428.4,331.9 L428.5,332.4 L428.6,333.0 L428.7,334.3 L428.8,334.6 L428.9,334.8 L429.0,335.6 L429.1,336.4 L429.2,337.6 L429.3,338.3 L429.4,338.4 L429.5,339.8 L429.6,340.3 L429.8,341.1 L429.9,341.7 L430.0,341.9 L430.1,342.5 L430.2,344.0 L430.3,344.0 L430.4,345.1 L430.5,345.9 L430.6,346.3 L430.7,347.3 L430.8,348.0 L430.9,349.0 L431.0,349.2 L431.1,349.8 L431.3,350.5 L431.4,350.8 L431.5,352.0 L431.6,352.3 L431.7,353.3 L431.8,354.1 L431.9,354.7 L432.1,354.9 L432.2,356.3 L432.3,356.8 L432.4,357.1 L432.6,358.1 L432.7,359.2 L432.8,359.4 L432.9,360.1 L433.1,361.0 L433.2,361.8 L433.4,362.1 L433.5,362.5 L433.6,363.4 L433.8,363.9 L433.9,365.4 L434.1,365.8 L434.3,366.2 L434.4,366.3 L434.6,367.5 L434.7,368.7 L434.9,369.1 L435.1,369.6 L435.2,369.4 L435.4,371.0 L435.6,371.5 L435.7,372.7 L435.9,373.0 L436.1,373.9 L436.2,374.8 L436.4,374.9 L436.6,375.4 L436.8,376.2 L436.9,377.3 L437.1,378.4 L437.3,378.8 L437.4,379.0 L437.6,380.5 L437.8,380.4 L438.0,381.4 L438.1,381.8 L438.3,382.9 L438.5,383.0 L438.7,384.0 L438.9,384.9 L439.1,385.3 L439.3,386.0 L439.5,386.7 L439.7,386.9 L439.9,388.1 L440.1,388.3 L440.3,389.2 L440.5,389.8 L440.7,390.5 L440.9,391.5 L441.1,391.8 L441.3,392.9 L441.6,393.3 L441.8,393.8 L442.0,394.5 L442.3,395.3 L442.5,396.0 L442.8,396.3 L443.0,397.3 L443.3,397.8 L443.5,398.5 L443.8,399.1 L444.1,399.8 L444.4,400.2 L444.7,401.7 L445.0,402.1 L445.3,402.3 L445.6,402.9 L445.9,403.5 L446.3,404.7 L446.6,404.5 L447.0,405.7 L447.5,405.8 L447.9,406.4 L448.4,406.6 L448.9,407.7 L449.5,408.4 L450.1,408.5 L450.7,408.5 L451.3,408.4 L451.9,409.1 L452.6,409.5 L453.2,409.1 L453.9,409.8 L454.6,409.5 L455.3,409.4 L456.0,409.5 L456.7,410.3 L457.4,409.8 L458.1,409.4 L458.8,409.7 L459.5,409.1 L460.2,409.3 L460.9,409.2 L461.6,409.8 L462.3,410.0 L463.0,409.4 L463.7,409.9 L464.4,409.2 L465.1,409.9 L465.8,409.6 L466.5,409.5 L467.2,409.2 L467.9,408.4 L468.6,409.3 L469.3,409.1 L470.0,409.3 L470.7,409.5 L471.4,409.4 L472.1,409.2 L472.8,409.5 L473.5,409.3 L474.2,409.1 L474.9,409.6 L475.6,409.3 L476.3,409.2 L477.0,409.8 L477.7,409.5 L478.4,409.6 L479.1,409.3 L479.8,409.9 L480.5,410.5 L481.2,410.1 L481.9,410.3 L482.6,410.1 L483.2,410.8 L483.9,410.3 L484.6,410.6 L485.3,411.2 L485.9,412.0 L486.6,411.7 L487.3,411.4 L488.0,411.1 L488.7,411.8 L489.4,411.0 L490.0,410.9 L490.7,411.3 L491.4,411.1 L492.1,410.5 L492.8,410.6 L493.5,410.7 L494.1,410.3 L494.8,410.3 L495.5,410.2 L496.1,410.2 L496.8,410.1 L497.4,409.5 L498.1,409.0 L498.7,408.7 L499.4,409.3 L500.0,408.2 L500.7,407.9 L501.3,407.4 L502.0,407.9 L502.6,407.3 L503.3,406.6 L503.9,406.0 L504.6,406.1 L505.2,406.0 L505.9,405.8 L506.5,405.2 L507.2,405.1 L507.8,405.1 L508.4,405.0 L509.0,404.5 L509.6,404.1 L510.2,404.3 L510.8,403.3 L511.4,403.2 L512.0,402.1 L512.6,401.8 L513.2,401.6 L513.7,401.1 L514.3,400.5 L514.9,400.3 L515.4,400.0 L516.0,399.3 L516.6,399.6 L517.2,398.8 L517.7,398.7 L518.3,398.0 L518.9,397.5 L519.5,397.2 L520.1,396.9 L520.6,396.3 L521.2,396.3 L521.8,395.7 L522.4,396.0 L523.0,395.5 L523.6,394.5 L524.2,394.6 L524.8,394.0 L525.3,393.5 L525.9,393.5 L526.5,392.3 L527.1,392.2 L527.6,391.9 L528.2,391.7 L528.7,390.8 L529.3,390.6 L529.9,390.2 L530.4,389.5 L531.0,389.6 L531.5,389.2 L532.0,388.2 L532.6,388.3 L533.1,387.3 L533.6,387.1 L534.2,386.8 L534.7,386.1 L535.2,386.0 L535.7,384.9 L536.2,384.7 L536.8,384.0 L537.3,384.4 L537.8,383.8 L538.3,382.7 L538.8,382.4 L539.2,382.1 L539.7,381.2 L540.2,380.1 L540.7,380.0 L541.1,379.6 L541.6,378.9 L542.0,378.5 L542.5,378.0 L542.9,377.4 L543.3,377.2 L543.8,376.7 L544.2,375.5 L544.6,374.9 L545.0,375.0 L545.4,374.3 L545.8,373.9 L546.1,372.8 L546.5,372.6 L546.9,372.1 L547.2,371.2 L547.6,370.6 L547.9,370.3 L548.3,368.7 L548.6,368.9 L549.0,368.2 L549.3,367.8 L549.6,367.2 L550.0,366.3 L550.3,365.5 L550.6,364.8 L550.9,364.7 L551.3,363.4 L551.6,362.9 L551.9,362.4 L552.2,362.1 L552.5,361.0 L552.8,360.5 L553.1,360.0 L553.4,359.5 L553.6,358.7 L553.9,358.5 L554.2,357.3 L554.5,356.9 L554.8,356.4 L555.0,355.3 L555.3,355.0 L555.6,354.2 L555.9,353.5 L556.2,352.9 L556.4,352.6 L556.7,351.3 L557.0,351.1 L557.3,351.0 L557.6,349.3 L557.9,349.3 L558.2,349.1 L558.5,347.9 L558.8,348.0 L559.1,346.6 L559.4,346.2 L559.7,345.3 L560.0,344.5 L560.3,344.3 L560.6,343.6 L560.9,342.4 L561.1,342.3 L561.4,341.8 L561.7,341.2 L561.9,340.5 L562.2,339.8 L562.5,339.4 L562.7,337.9 L562.9,337.3 L563.2,337.0 L563.4,336.6 L563.7,335.8 L563.9,334.8 L564.2,334.4 L564.5,334.0 L564.7,333.0 L565.0,332.5 L565.3,331.9 L565.6,331.1 L565.9,331.1 L566.2,329.9 L566.5,329.1 L566.9,329.0 L567.2,327.8 L567.5,327.8 L567.8,326.6 L568.2,326.4 L568.5,325.5 L568.8,324.8 L569.2,324.3 L569.5,323.1 L569.8,322.5 L570.2,322.7 L570.5,322.5 L570.8,320.8 L571.1,320.4 L571.4,320.2 L571.7,319.3 L572.0,318.9 L572.4,317.6 L572.7,317.6 L573.0,316.6 L573.3,316.5 L573.6,315.5 L573.9,315.1 L574.2,314.3 L574.5,313.4 L574.8,313.5 L575.1,312.5 L575.5,312.0 L575.8,311.9 L576.1,310.7 L576.4,309.6 L576.8,308.7 L577.1,308.3 L577.4,308.3 L577.8,307.1 L578.1,306.7 L578.4,306.1 L578.8,305.8 L579.1,305.0 L579.5,304.4 L579.8,303.6 L580.1,303.0 L580.5,302.1 L580.8,301.8 L581.1,301.7 L581.5,300.5 L581.8,299.9 L582.1,299.0 L582.4,299.0 L582.8,297.9 L583.1,297.7 L583.4,297.4 L583.8,296.1 L584.1,296.1 L584.4,295.1 L584.8,294.2 L585.1,294.3 L585.4,292.7 L585.8,292.9 L586.2,292.0 L586.5,291.4 L586.9,290.9 L587.3,289.9 L587.6,289.7 L588.0,288.9 L588.4,288.8 L588.8,288.3 L589.2,287.2 L589.6,287.0 L590.0,285.9 L590.4,285.5 L590.8,285.2 L591.2,284.8 L591.6,283.9 L592.0,283.2 L592.5,282.3 L592.9,282.4 L593.3,281.7 L593.7,281.1 L594.2,280.4 L594.6,280.0 L595.0,279.7 L595.5,279.1 L595.9,278.3 L596.3,277.7 L596.7,277.4 L597.2,276.5 L597.5,275.8 L597.9,275.2 L598.3,274.8 L598.7,274.9 L599.0,274.0 L599.4,272.9 L599.7,272.8 L600.0,272.3 L600.4,271.7 L600.7,270.5 L601.0,270.3 L601.4,268.8 L601.7,268.7 L602.0,268.4 L602.3,267.9 L602.6,267.0 L602.9,266.2 L603.2,265.9 L603.6,264.3 L603.9,264.2 L604.2,263.9 L604.5,263.2 L604.7,261.9 L605.0,261.7 L605.3,261.6 L605.6,260.1 L605.9,259.8 L606.2,259.5 L606.5,258.2 L606.7,258.5 L607.0,257.4 L607.3,256.7 L607.5,256.4 L607.8,255.8 L608.1,255.1 L608.3,254.0 L608.6,254.2 L608.8,252.7 L609.1,252.3 L609.4,251.5 L609.6,251.0 L609.8,250.3 L610.1,249.9 L610.3,248.9 L610.5,248.6 L610.8,247.3 L611.0,246.8 L611.2,246.7 L611.5,245.5 L611.7,244.6 L611.9,244.1 L612.1,243.6 L612.3,242.8 L612.6,242.2 L612.8,241.4 L613.0,240.8 L613.2,240.1 L613.5,239.9 L613.7,239.4 L613.9,238.4 L614.1,237.9 L614.3,237.0 L614.5,236.6 L614.8,235.7 L615.0,234.8 L615.2,234.6 L615.4,233.7 L615.6,233.4 L615.8,232.1 L616.0,231.8 L616.3,230.9 L616.5,229.9 L616.7,228.9 L616.9,228.9 L617.1,228.2 L617.3,227.5 L617.5,227.1 L617.7,226.5 L617.9,225.6 L618.1,225.4 L618.3,224.5 L618.5,223.8 L618.7,222.4 L618.9,222.4 L619.1,221.2 L619.3,220.8 L619.5,220.3 L619.7,220.3 L619.9,219.1 L620.1,218.1 L620.3,217.9 L620.5,216.9 L620.7,216.7 L620.9,215.7 L621.1,214.8 L621.3,214.1 L621.5,213.4 L621.7,213.1 L621.9,212.2 L622.1,211.7 L622.3,211.0 L622.5,210.2 L622.7,209.6 L622.9,208.7 L623.2,208.2 L623.4,207.9 L623.6,207.1 L623.8,206.4 L624.0,206.1 L624.2,204.6 L624.4,204.3 L624.6,203.6 L624.8,202.8 L625.0,201.8 L625.2,201.3 L625.4,200.8 L625.6,200.0 L625.8,199.1 L626.0,199.1 L626.2,198.1 L626.4,197.3 L626.6,197.3 L626.8,196.2 L627.0,195.5 L627.2,195.6 L627.4,194.4 L627.6,193.6 L627.8,192.4 L628.0,192.1 L628.2,191.6 L628.4,191.4 L628.6,190.1 L628.8,189.5 L629.0,189.0 L629.2,188.3 L629.4,187.5 L629.6,186.7 L629.8,186.4 L630.0,185.7 L630.2,184.8 L630.4,184.2 L630.6,183.9 L630.8,182.3 L631.0,181.6 L631.2,181.7 L631.4,180.6 L631.6,180.5 L631.8,179.1 L632.0,177.9 L632.2,178.0 L632.4,177.1 L632.7,177.3 L632.9,176.0 L633.1,175.4 L633.3,175.2 L633.6,174.2 L633.8,173.6 L634.0,172.4 L634.3,172.3 L634.5,171.5 L634.8,170.7 L635.1,170.0 L635.4,169.7 L635.8,168.6 L636.2,168.2 L636.6,167.7 L637.1,167.3 L637.7,167.2 L638.2,166.7 L638.7,166.9 L639.3,167.2 L639.8,167.0 L640.3,167.4 L640.8,168.3 L641.3,168.8 L641.7,169.9 L642.2,170.3 L642.6,170.4 L643.0,171.2 L643.3,171.2 L643.7,171.8 L644.0,173.1 L644.4,173.7 L644.7,174.2 L644.9,175.6 L645.2,175.8 L645.4,176.2 L645.6,176.5 L645.7,177.3 L645.9,178.1 L646.1,178.5 L646.2,179.1 L646.4,180.4 L646.5,180.8 L646.7,181.0 L646.8,181.9 L646.9,182.6 L647.0,183.6 L647.1,184.1 L647.3,184.7 L647.4,185.7 L647.5,185.5 L647.6,187.5 L647.7,188.0 L647.8,188.8 L647.9,188.9 L648.1,189.7 L648.2,190.6 L648.3,191.1 L648.4,191.8 L648.6,192.8 L648.7,193.1 L648.8,194.1 L649.0,194.4 L649.1,195.6 L649.3,196.2 L649.4,196.2 L649.5,197.2 L649.7,198.1 L649.8,198.6 L650.0,199.3 L650.1,200.9 L650.3,201.3 L650.4,201.4 L650.6,202.2 L650.7,202.8 L650.8,203.5 L651.0,203.8 L651.1,205.4 L651.3,205.8 L651.4,206.8 L651.6,207.0 L651.7,208.5 L651.9,208.9 L652.0,209.6 L652.2,209.3 L652.3,211.0 L652.4,211.0 L652.6,210.9 L652.7,212.8 L652.9,213.4 L653.0,213.7 L653.2,214.4 L653.3,215.2 L653.4,215.8 L653.5,216.7 L653.7,217.2 L653.8,218.2 L653.9,219.9 L654.0,219.1 L654.1,220.2 L654.2,221.0 L654.3,221.7 L654.4,222.3 L654.5,222.9 L654.6,223.7 L654.7,224.2 L654.8,224.5 L654.9,225.8 L655.0,226.4 L655.1,227.1 L655.1,227.7 L655.2,228.1 L655.3,229.2 L655.4,229.8 L655.5,230.9 L655.6,231.1 L655.7,231.4 L655.8,232.4 L655.8,233.4 L655.9,233.6 L656.0,234.9 L656.1,235.3 L656.2,236.1 L656.3,237.0 L656.3,237.3 L656.4,238.4 L656.5,239.3 L656.6,239.6 L656.7,239.9 L656.8,240.8 L656.9,242.0 L657.0,242.7 L657.1,242.8 L657.2,243.8 L657.3,244.7 L657.3,245.3 L657.4,245.9 L657.5,246.1 L657.6,247.2 L657.7,247.5 L657.8,249.0 L658.0,249.4 L658.1,249.9 L658.2,250.6 L658.3,251.4 L658.4,251.9 L658.5,252.8 L658.6,253.5 L658.7,253.8 L658.8,254.9 L658.9,255.0 L659.0,256.0 L659.1,257.0 L659.2,257.5 L659.3,258.1 L659.4,258.5 L659.6,260.1 L659.7,259.8 L659.8,261.2 L659.9,261.4 L660.0,261.9 L660.1,263.1 L660.2,263.9 L660.3,264.5 L660.4,265.4 L660.5,265.8 L660.6,266.4 L660.7,267.2 L660.8,267.7 L660.9,268.5 L660.9,269.0 L661.0,269.8 L661.1,270.6 L661.2,271.4 L661.3,271.6 L661.4,272.9 L661.5,273.8 L661.5,274.2 L661.6,274.3 L661.7,275.8 L661.8,276.4 L661.9,277.6 L661.9,277.3 L662.0,278.5 L662.1,279.2 L662.2,279.3 L662.2,280.2 L662.3,281.0 L662.4,281.9 L662.4,282.7 L662.5,283.4 L662.6,283.6 L662.7,284.4 L662.7,285.2 L662.8,286.4 L662.9,286.3 L662.9,286.8 L663.0,288.3 L663.1,288.5 L663.2,289.5 L663.2,289.8 L663.3,291.1 L663.4,292.0 L663.4,292.0 L663.5,292.3 L663.6,293.6 L663.7,294.5 L663.7,295.5 L663.8,296.1 L663.9,296.2 L664.0,297.3 L664.0,297.4 L664.1,298.6 L664.2,299.4 L664.3,300.3 L664.4,300.9 L664.5,301.5 L664.5,302.3 L664.6,302.7 L664.7,303.7 L664.8,304.1 L664.9,305.1 L665.0,304.9 L665.1,306.3 L665.1,307.1 L665.2,306.7 L665.3,308.5 L665.4,309.0 L665.5,309.9 L665.6,310.4 L665.7,310.9 L665.8,311.6 L665.8,311.9 L665.9,312.8 L666.0,314.1 L666.1,314.4 L666.2,315.0 L666.3,315.8 L666.4,316.2 L666.5,317.9 L666.6,317.8 L666.7,318.9 L666.8,319.3 L666.9,319.8 L667.0,320.3 L667.0,321.8 L667.1,322.2 L667.2,322.9 L667.3,323.7 L667.4,324.2 L667.5,324.7 L667.6,325.6 L667.7,326.1 L667.8,327.1 L667.9,327.0 L668.0,328.4 L668.1,328.7 L668.2,330.1 L668.3,330.6 L668.4,331.0 L668.5,332.2 L668.6,331.7 L668.7,333.2 L668.8,334.3 L668.9,334.5 L669.0,334.9 L669.1,336.0 L669.2,336.7 L669.3,337.6 L669.4,338.3 L669.5,338.5 L669.6,339.6 L669.7,340.2 L669.8,340.4 L669.9,341.5 L670.0,342.5 L670.1,343.3 L670.2,343.8 L670.3,344.6 L670.4,345.4 L670.5,345.1 L670.6,346.2 L670.7,347.3 L670.8,348.1 L671.0,348.6 L671.1,349.3 L671.2,349.7 L671.3,350.1 L671.4,350.9 L671.5,352.2 L671.6,353.0 L671.7,353.5 L671.8,353.9 L671.9,354.6 L672.0,355.4 L672.1,355.5 L672.3,356.5 L672.4,357.5 L672.5,358.0 L672.6,358.7 L672.7,359.8 L672.8,360.5 L672.9,361.4 L673.0,361.5 L673.2,362.2 L673.3,362.7 L673.4,364.2 L673.5,364.2 L673.6,364.6 L673.7,365.6 L673.8,366.5 L674.0,367.3 L674.1,367.8 L674.2,368.5 L674.3,369.6 L674.4,370.1 L674.6,370.4 L674.7,370.8 L674.8,371.5 L674.9,373.0 L675.0,373.7 L675.1,374.1 L675.3,375.0 L675.4,374.7 L675.5,376.6 L675.6,376.4 L675.7,377.6 L675.9,377.8 L676.0,378.5 L676.1,379.4 L676.2,380.4 L676.3,381.1 L676.5,381.7 L676.6,381.9 L676.7,383.0 L676.8,383.5 L676.9,384.5 L677.1,385.5 L677.2,385.4 L677.3,387.0 L677.4,387.2 L677.6,387.6 L677.7,388.6 L677.8,388.9 L677.9,389.9 L678.1,390.5 L678.2,391.4 L678.3,392.2 L678.5,393.1 L678.6,393.5 L678.7,394.1 L678.9,395.1 L679.0,395.4 L679.1,395.4 L679.3,396.3 L679.4,397.2 L679.6,398.4 L679.7,399.0 L679.9,399.0 L680.0,400.4 L680.2,400.8 L680.4,401.4 L680.5,402.2 L680.7,402.9 L680.9,403.3 L681.0,403.5 L681.2,404.7 L681.4,405.3 L681.6,406.4 L681.8,407.3 L681.9,407.2 L682.1,408.1 L682.3,409.0 L682.5,409.8 L682.7,410.4 L682.9,410.4 L683.2,412.0 L683.4,412.3 L683.6,412.7 L683.8,414.1 L684.0,414.7 L684.2,414.8 L684.5,415.8 L684.7,416.2 L684.9,416.9 L685.2,417.4 L685.4,418.3 L685.7,418.5 L685.9,419.2 L686.2,420.0 L686.5,420.7 L686.7,421.7 L687.0,422.1 L687.3,422.9 L687.6,423.6 L687.8,423.6 L688.1,424.9 L688.4,425.8 L688.7,426.6 L689.0,426.5 L689.3,427.2 L689.7,428.1 L690.0,429.3 L690.3,429.4 L690.6,429.6 L691.0,430.6 L691.3,430.5 L691.7,431.8 L692.0,432.3 L692.4,432.5 L692.8,434.2 L693.2,433.7 L693.6,434.7 L694.0,435.3 L694.4,435.5 L694.8,436.1 L695.3,436.6 L695.7,436.9 L696.1,437.9 L696.6,438.8 L697.0,439.3 L697.5,439.3 L697.9,439.7 L698.4,440.9 L698.8,440.7 L699.3,441.8 L699.8,442.4 L700.2,442.8 L700.7,443.9 L701.2,443.6 L701.7,444.4 L702.2,445.1 L702.7,445.3 L703.2,446.1 L703.7,446.5 L704.2,447.1 L704.8,447.0 L705.3,447.8 L705.9,447.9 L706.4,448.1 L707.0,448.9 L707.6,448.2 L708.2,449.5 L708.8,450.2 L709.5,449.8 L710.1,450.4 L710.8,450.0 L711.5,450.5 L712.2,450.9 L712.8,451.2 L713.5,450.4 L714.2,450.9 L714.9,450.7 L715.6,451.1 L716.3,452.0 L717.0,451.9 L717.7,452.0 L718.4,452.4 L719.1,452.5 L719.8,451.6 L720.5,452.4 L721.2,452.2 L721.9,452.5 L722.6,452.4 L723.3,452.0 L724.0,452.7 L724.7,452.0 L725.4,452.4 L726.1,452.6 L726.8,452.4 L727.5,452.5 L728.2,452.0 L728.9,452.6 L729.6,451.9 L730.3,452.3 L731.0,452.4 L731.7,452.6 L732.4,452.5 L733.1,452.9 L733.8,452.6 L734.5,452.6 L735.2,452.3 L735.9,452.4 L736.6,452.5 L737.3,452.4 L738.0,452.5 L738.7,452.2 L739.4,452.1 L740.1,452.5 L740.8,452.6 L741.5,452.6 L742.2,452.1 L742.9,452.4 L743.6,452.6 L744.3,452.1 L745.0,452.3 L745.7,452.5 L746.4,452.7 L747.1,452.6 L747.8,452.5 L748.5,452.9 L749.2,452.6 L749.9,452.4 L750.6,452.5 L751.3,451.9 L752.0,452.6 L752.6,451.9 L753.2,452.5 L753.7,452.4 L754.1,452.8"/></g>
<g stroke="#FFFF00" stroke-width="3.4" fill="none" stroke-linejoin="round" stroke-linecap="butt"><path d="M295.5,409.1 L295.7,409.7 L295.9,410.5 L296.1,411.1 L296.4,411.0 L296.6,412.5 L296.9,412.5 L297.2,413.4 L297.4,413.8 L297.7,414.4 L298.1,415.0 L298.4,415.4 L298.8,416.2 L299.1,417.5 L299.5,417.3 L299.9,418.6 L300.3,419.1 L300.7,419.4 L301.1,419.9 L301.6,421.1 L302.0,420.9 L302.5,421.8 L303.0,422.0 L303.4,423.1 L303.9,422.5 L304.5,423.5 L305.0,423.8 L305.5,424.7 L306.1,424.7 L306.7,425.8 L307.3,425.9 L308.0,425.7 L308.6,425.6 L309.3,426.4 L310.0,426.0 L310.6,426.1 L311.3,426.7 L312.0,426.7 L312.6,426.6 L313.2,425.5 L313.8,425.3 L314.4,424.6 L315.0,424.2 L315.6,423.8 L316.1,424.1 L316.7,423.4 L317.2,422.7 L317.7,421.7 L318.2,421.6 L318.8,421.4 L319.3,420.8 L319.9,420.2 L320.5,420.0 L321.1,419.7 L321.7,419.4 L322.4,419.3 L323.1,418.8 L323.8,419.2 L324.4,418.6 L325.1,419.0 L325.8,419.0 L326.5,418.8 L327.2,418.1 L327.9,418.1 L328.5,418.3 L329.2,417.5 L329.9,417.2 L330.6,417.3 L331.2,416.7 L331.9,416.9 L332.6,416.1 L333.2,416.5 L333.9,415.6 L334.5,415.8 L335.2,415.8 L335.8,415.4 L336.5,414.8 L337.1,414.6 L337.7,414.6 L338.4,414.3 L339.0,413.4 L339.6,413.4 L340.2,413.1 L340.9,413.2 L341.5,412.3 L342.1,412.1 L342.7,412.0 L343.3,411.5 L343.9,411.1 L344.5,410.7 L345.1,410.7 L345.7,410.2 L346.2,409.3 L346.8,409.0 L347.4,408.9 L347.9,408.2 L348.5,407.9 L349.0,407.9 L349.5,407.0 L350.1,406.8 L350.6,406.5 L351.1,405.6 L351.6,405.3 L352.1,404.9 L352.6,404.6 L353.1,403.7 L353.6,402.5 L354.1,402.5 L354.6,402.1 L355.1,401.6 L355.7,401.0 L356.2,400.9 L356.7,400.4 L357.3,400.2 L357.9,399.5 L358.5,399.3 L359.1,399.0 L359.7,398.8 L360.4,398.0 L361.0,397.7 L361.7,398.0 L362.3,397.7 L363.0,397.2 L363.7,397.3 L364.4,397.1 L365.1,396.9 L365.7,396.8 L366.4,396.7 L367.1,396.2 L367.8,396.7 L368.5,396.0 L369.2,395.8 L369.9,396.0 L370.6,395.7 L371.3,395.7 L371.9,395.2 L372.6,395.5 L373.2,394.9 L373.8,394.6 L374.5,394.2 L375.1,393.7 L375.7,393.4 L376.3,393.7 L377.0,393.4 L377.6,392.4 L378.2,392.5 L378.8,392.1 L379.4,391.9 L379.9,391.0 L380.5,391.1 L381.0,390.5 L381.5,390.0 L382.0,389.3 L382.5,389.7 L383.0,388.1 L383.4,387.4 L383.9,387.4 L384.4,386.8 L384.8,386.2 L385.3,385.7 L385.8,384.7 L386.2,384.3 L386.7,384.2 L387.1,383.9 L387.6,383.0 L388.0,382.4 L388.5,382.5 L388.9,381.3 L389.3,380.1 L389.8,380.3 L390.2,379.8 L390.6,379.1 L391.0,379.0 L391.4,378.2 L391.8,376.8 L392.2,376.6 L392.5,376.0 L392.9,375.9 L393.3,375.3 L393.7,374.4 L394.1,374.0 L394.5,372.9 L394.8,372.7 L395.2,372.0 L395.6,371.2 L396.0,371.1 L396.4,370.3 L396.8,370.0 L397.2,369.3 L397.6,368.7 L398.0,368.2 L398.5,367.5 L398.9,367.3 L399.3,366.3 L399.7,366.1 L400.1,365.4 L400.6,364.5 L401.0,364.2 L401.4,363.4 L401.8,363.2 L402.3,362.3 L402.7,361.8 L403.2,361.1 L403.6,361.0 L404.1,360.2 L404.6,359.7 L405.1,359.0 L405.7,359.5 L406.2,358.9 L406.8,358.6 L407.4,358.1 L408.0,357.9 L408.7,357.2 L409.3,357.1 L410.0,357.0 L410.6,357.0 L411.3,356.8 L411.9,356.8 L412.5,356.3 L413.1,357.5 L413.7,357.6 L414.2,358.0 L414.8,358.4 L415.2,359.2 L415.7,360.0 L416.1,360.4 L416.6,360.6 L417.0,361.3 L417.4,362.3 L417.8,362.5 L418.1,363.3 L418.5,364.3 L418.9,364.8 L419.2,364.9 L419.6,365.1 L419.9,366.3 L420.2,367.1 L420.6,368.0 L420.9,368.5 L421.2,369.0 L421.5,369.5 L421.8,370.1 L422.1,370.7 L422.3,371.1 L422.6,372.0 L422.9,373.4 L423.2,373.4 L423.5,374.0 L423.7,374.2 L424.0,374.7 L424.3,376.0 L424.6,376.6 L424.9,377.4 L425.1,378.0 L425.4,378.5 L425.7,379.2 L426.0,379.8 L426.3,380.5 L426.6,381.4 L426.9,381.3 L427.2,382.6 L427.5,383.0 L427.8,383.6 L428.1,384.7 L428.3,384.9 L428.6,385.9 L428.9,386.1 L429.2,386.7 L429.5,387.9 L429.8,388.3 L430.1,388.9 L430.3,389.0 L430.6,390.2 L430.9,390.7 L431.2,391.0 L431.4,391.3 L431.7,392.4 L432.0,393.5 L432.2,393.6 L432.5,393.7 L432.8,394.8 L433.0,395.4 L433.3,396.1 L433.6,397.0 L433.9,397.9 L434.2,398.0 L434.5,399.2 L434.8,399.6 L435.1,400.1 L435.3,401.3 L435.6,401.3 L435.9,402.4 L436.3,402.7 L436.6,403.3 L436.9,404.0 L437.3,404.6 L437.6,404.9 L438.0,405.6 L438.5,406.0 L439.0,406.9 L439.5,407.3 L440.1,408.3 L440.7,407.8 L441.4,408.2 L442.0,409.0 L442.7,408.6 L443.4,408.8 L444.1,409.5 L444.7,409.1 L445.4,409.3 L446.1,409.6 L446.8,409.8 L447.5,409.6 L448.2,409.9 L448.9,409.2 L449.6,409.5 L450.3,410.0 L451.0,409.6 L451.7,409.7 L452.4,410.3 L453.1,409.9 L453.8,410.4 L454.5,410.1 L455.2,410.8 L455.9,410.2 L456.6,409.7 L457.3,409.8 L458.0,410.4 L458.7,410.2 L459.4,410.5 L460.1,410.3 L460.8,410.7 L461.5,410.2 L462.2,410.6 L462.8,411.3 L463.5,411.0 L464.2,410.9 L464.9,411.3 L465.6,411.1 L466.3,410.9 L467.0,411.2 L467.7,411.1 L468.4,411.6 L469.1,411.7 L469.8,411.1 L470.5,411.8 L471.2,412.1 L471.9,411.5 L472.6,412.6 L473.3,411.9 L474.0,412.4 L474.7,411.7 L475.4,411.9 L476.1,412.2 L476.8,412.1 L477.5,412.0 L478.2,411.6 L478.9,412.6 L479.6,412.3 L480.2,412.8 L480.9,412.7 L481.6,412.6 L482.3,413.0 L483.0,413.1 L483.7,412.9 L484.3,413.8 L485.0,413.8 L485.7,414.0 L486.4,414.3 L487.0,414.1 L487.7,414.0 L488.4,414.1 L489.1,414.4 L489.7,413.6 L490.4,414.1 L491.0,413.7 L491.7,413.5 L492.4,413.0 L493.0,412.3 L493.7,412.6 L494.3,412.3 L495.0,412.7 L495.6,411.5 L496.3,411.7 L496.9,411.0 L497.6,410.9 L498.2,410.9 L498.9,410.4 L499.5,409.9 L500.2,410.0 L500.8,409.4 L501.4,409.4 L502.0,408.7 L502.6,408.7 L503.3,408.0 L503.9,407.8 L504.5,407.1 L505.1,406.9 L505.7,406.8 L506.3,406.3 L506.9,406.2 L507.5,405.8 L508.1,405.2 L508.7,405.2 L509.3,404.2 L509.9,403.8 L510.4,403.6 L511.0,403.2 L511.6,402.9 L512.2,402.7 L512.8,401.8 L513.4,402.3 L514.0,402.0 L514.6,401.1 L515.2,400.5 L515.7,400.3 L516.3,399.9 L516.9,399.8 L517.5,399.3 L518.1,398.7 L518.7,398.5 L519.2,398.1 L519.8,397.5 L520.4,397.3 L521.0,397.1 L521.6,396.8 L522.2,396.2 L522.8,395.5 L523.4,395.6 L524.0,394.7 L524.5,394.7 L525.1,394.1 L525.7,393.7 L526.3,393.9 L526.8,392.9 L527.4,392.4 L528.0,392.5 L528.5,391.6 L529.1,391.3 L529.6,391.0 L530.2,390.7 L530.8,390.6 L531.3,389.7 L531.8,388.8 L532.4,389.0 L532.9,388.5 L533.5,387.4 L534.0,387.3 L534.5,387.1 L535.0,386.4 L535.6,385.7 L536.1,385.2 L536.6,385.7 L537.1,384.2 L537.6,383.9 L538.1,383.7 L538.6,383.0 L539.1,383.2 L539.6,382.1 L540.1,382.0 L540.5,380.8 L541.0,380.0 L541.5,380.0 L541.9,379.6 L542.4,378.9 L542.8,378.2 L543.3,378.1 L543.7,377.3 L544.1,376.4 L544.5,376.3 L544.9,375.4 L545.3,374.8 L545.7,374.9 L546.1,374.4 L546.5,373.3 L546.9,372.5 L547.2,372.2 L547.6,371.9 L547.9,370.4 L548.3,370.0 L548.6,369.3 L549.0,369.5 L549.3,368.5 L549.7,367.6 L550.0,367.7 L550.3,366.9 L550.7,365.8 L551.0,365.5 L551.3,365.0 L551.6,363.9 L551.9,363.7 L552.2,362.8 L552.6,362.5 L552.9,361.5 L553.2,360.9 L553.4,360.5 L553.7,359.3 L554.0,358.9 L554.3,358.5 L554.6,358.3 L554.9,357.0 L555.1,356.7 L555.4,356.0 L555.7,355.1 L556.0,354.6 L556.3,354.2 L556.5,353.4 L556.8,353.4 L557.1,351.9 L557.4,351.0 L557.7,350.9 L558.0,349.7 L558.3,349.7 L558.6,348.7 L558.9,347.6 L559.2,347.6 L559.5,347.3 L559.8,346.0 L560.1,345.5 L560.4,345.0 L560.7,344.7 L561.0,343.5 L561.2,342.9 L561.5,342.1 L561.8,341.6 L562.1,341.1 L562.3,340.2 L562.6,340.1 L562.8,339.4 L563.1,338.8 L563.3,338.3 L563.6,337.4 L563.8,337.1 L564.1,336.0 L564.3,335.3 L564.6,334.3 L564.9,334.4 L565.1,333.1 L565.4,332.8 L565.7,331.8 L566.0,331.2 L566.3,331.2 L566.6,330.0 L566.9,329.9 L567.2,328.8 L567.5,328.5 L567.9,327.3 L568.2,326.6 L568.5,326.8 L568.9,326.0 L569.2,325.0 L569.5,324.4 L569.9,323.9 L570.2,323.7 L570.5,323.5 L570.8,322.3 L571.2,321.4 L571.5,321.0 L571.8,320.7 L572.1,319.5 L572.4,318.9 L572.7,318.5 L573.0,317.9 L573.3,317.8 L573.6,316.2 L573.9,315.8 L574.3,315.5 L574.6,314.8 L574.9,314.6 L575.2,313.0 L575.5,312.4 L575.8,312.3 L576.1,311.5 L576.5,310.5 L576.8,310.6 L577.1,309.5 L577.5,309.1 L577.8,308.3 L578.1,307.4 L578.5,307.3 L578.8,307.2 L579.1,305.8 L579.5,305.4 L579.8,304.9 L580.1,303.8 L580.5,303.5 L580.8,303.2 L581.2,301.8 L581.5,301.5 L581.8,301.4 L582.1,300.0 L582.5,299.4 L582.8,299.0 L583.1,298.6 L583.5,298.2 L583.8,297.1 L584.1,297.5 L584.4,295.8 L584.8,295.0 L585.1,294.8 L585.4,294.5 L585.8,293.5 L586.1,293.0 L586.5,292.3 L586.8,291.4 L587.2,291.2 L587.6,290.2 L588.0,290.0 L588.3,289.4 L588.7,289.2 L589.1,287.8 L589.5,287.6 L589.9,286.8 L590.3,286.8 L590.7,285.8 L591.1,285.3 L591.5,284.9 L591.9,284.4 L592.3,284.2 L592.8,283.2 L593.2,283.2 L593.6,282.3 L594.0,281.8 L594.4,281.0 L594.9,280.2 L595.3,280.4 L595.8,279.3 L596.2,279.4 L596.6,278.3 L597.1,277.5 L597.5,276.6 L597.9,275.9 L598.2,275.5 L598.6,274.9 L599.0,275.0 L599.3,273.8 L599.7,273.8 L600.0,271.9 L600.4,272.4 L600.7,271.6 L601.0,270.6 L601.4,270.3 L601.7,269.9 L602.0,269.0 L602.4,268.4 L602.7,268.3 L603.0,267.4 L603.3,266.7 L603.6,265.9 L603.9,265.3 L604.2,265.1 L604.5,264.2 L604.8,263.6 L605.1,262.9 L605.4,262.0 L605.7,262.0 L606.0,260.7 L606.3,260.3 L606.5,260.0 L606.8,258.7 L607.1,258.8 L607.4,257.9 L607.7,257.3 L607.9,256.2 L608.2,255.6 L608.5,255.8 L608.7,254.8 L609.0,253.5 L609.2,253.4 L609.5,252.5 L609.7,252.2 L610.0,251.3 L610.2,250.4 L610.5,249.7 L610.7,249.1 L610.9,248.6 L611.2,248.1 L611.4,247.4 L611.6,246.2 L611.9,246.3 L612.1,245.8 L612.3,244.4 L612.5,243.9 L612.8,243.5 L613.0,242.4 L613.2,242.4 L613.4,241.5 L613.6,240.5 L613.9,240.1 L614.1,239.4 L614.3,238.3 L614.5,237.4 L614.7,237.5 L615.0,237.5 L615.2,236.3 L615.4,235.9 L615.6,234.9 L615.8,234.1 L616.0,233.7 L616.3,232.5 L616.5,232.2 L616.7,231.4 L616.9,230.6 L617.1,229.7 L617.3,229.5 L617.5,227.8 L617.7,228.2 L617.9,227.2 L618.1,226.9 L618.3,225.9 L618.5,225.1 L618.7,224.6 L618.9,223.9 L619.1,223.5 L619.3,222.5 L619.5,222.0 L619.7,221.7 L619.9,220.7 L620.2,220.7 L620.4,219.3 L620.6,219.2 L620.8,218.0 L621.0,217.4 L621.2,216.6 L621.4,215.7 L621.6,215.5 L621.8,214.4 L622.0,213.7 L622.2,213.1 L622.4,213.0 L622.6,212.2 L622.8,210.9 L623.0,210.6 L623.2,209.8 L623.4,209.3 L623.6,208.4 L623.8,207.4 L624.0,207.2 L624.2,206.6 L624.4,206.2 L624.6,204.7 L624.8,205.2 L625.0,204.2 L625.2,203.1 L625.4,202.2 L625.6,202.2 L625.8,201.3 L626.0,200.8 L626.2,199.5 L626.4,199.1 L626.6,198.7 L626.8,197.7 L627.0,197.6 L627.2,195.6 L627.5,196.0 L627.7,195.2 L627.9,195.1 L628.1,194.3 L628.3,193.5 L628.5,192.9 L628.7,191.4 L628.9,191.2 L629.1,190.7 L629.3,190.0 L629.5,189.5 L629.7,188.2 L629.9,188.1 L630.1,187.5 L630.3,187.2 L630.6,186.3 L630.8,184.7 L631.0,184.7 L631.2,183.6 L631.4,183.1 L631.6,182.7 L631.8,181.5 L632.0,181.2 L632.2,180.7 L632.4,180.1 L632.6,179.3 L632.8,178.3 L633.0,177.9 L633.2,177.0 L633.3,177.1 L633.5,175.6 L633.7,174.8 L633.8,174.5 L634.0,174.0 L634.1,172.9 L634.3,172.6 L634.4,171.3 L634.5,171.1 L634.7,169.8 L634.8,169.3 L635.0,168.8 L635.2,167.8 L635.4,167.9 L635.6,167.1 L635.8,166.0 L636.1,165.6 L636.4,165.6 L636.8,164.3 L637.2,163.6 L637.7,163.1 L638.2,163.2 L638.7,162.7 L639.2,163.2 L639.8,163.0 L640.3,164.1 L640.8,164.4 L641.2,165.1 L641.7,165.5 L642.1,166.0 L642.5,166.6 L642.8,167.1 L643.2,167.5 L643.5,168.2 L643.8,169.6 L644.2,169.4 L644.5,170.2 L644.7,170.9 L645.0,171.4 L645.3,172.0 L645.5,172.8 L645.7,173.5 L645.9,174.0 L646.1,174.6 L646.3,175.4 L646.5,176.1 L646.7,177.4 L646.8,178.1 L647.0,178.0 L647.1,178.9 L647.3,179.9 L647.4,180.0 L647.5,180.5 L647.6,182.0 L647.8,182.0 L647.9,183.3 L648.0,184.1 L648.1,184.7 L648.2,185.4 L648.4,185.6 L648.5,187.1 L648.6,187.6 L648.7,188.2 L648.8,188.4 L648.9,189.9 L649.1,189.7 L649.2,190.8 L649.3,191.6 L649.5,191.7 L649.6,192.9 L649.7,193.3 L649.9,193.7 L650.0,194.7 L650.2,195.3 L650.3,196.0 L650.4,196.8 L650.6,197.8 L650.7,198.3 L650.9,198.8 L651.0,199.5 L651.2,200.3 L651.3,200.6 L651.4,201.6 L651.6,202.0 L651.7,202.8 L651.9,204.1 L652.0,204.5 L652.2,205.4 L652.3,205.9 L652.5,206.3 L652.6,207.2 L652.7,207.4 L652.9,208.7 L653.0,209.8 L653.2,209.8 L653.3,211.0 L653.5,211.4 L653.6,212.0 L653.7,212.9 L653.9,213.7 L654.0,213.4 L654.1,214.8 L654.3,215.1 L654.4,216.2 L654.5,216.6 L654.6,217.4 L654.7,218.0 L654.8,218.9 L654.9,219.5 L655.0,220.1 L655.1,220.7 L655.2,222.1 L655.3,221.6 L655.4,223.1 L655.5,223.2 L655.6,224.0 L655.7,224.8 L655.8,225.4 L655.9,226.2 L655.9,226.6 L656.0,228.1 L656.1,228.5 L656.2,229.4 L656.3,230.1 L656.4,230.2 L656.5,231.3 L656.5,232.0 L656.6,232.4 L656.7,233.9 L656.8,234.2 L656.9,234.9 L657.0,235.2 L657.1,236.0 L657.1,236.9 L657.2,237.5 L657.3,238.2 L657.4,238.9 L657.5,240.1 L657.6,240.4 L657.7,241.0 L657.8,241.7 L657.9,242.6 L658.0,243.2 L658.0,243.7 L658.1,244.3 L658.2,244.9 L658.3,246.0 L658.4,246.8 L658.5,247.3 L658.6,248.3 L658.7,248.6 L658.9,249.4 L659.0,250.1 L659.1,250.4 L659.2,251.6 L659.3,252.7 L659.4,253.2 L659.5,253.4 L659.6,254.7 L659.7,254.6 L659.8,255.5 L659.9,256.2 L660.0,257.0 L660.1,257.4 L660.2,258.9 L660.3,259.8 L660.4,259.9 L660.5,260.9 L660.7,260.3 L660.8,262.1 L660.9,262.3 L661.0,263.7 L661.1,263.8 L661.2,264.2 L661.3,265.1 L661.3,265.8 L661.4,266.7 L661.5,266.9 L661.6,268.6 L661.7,269.1 L661.8,269.5 L661.9,270.1 L662.0,271.3 L662.1,271.8 L662.1,272.1 L662.2,272.9 L662.3,273.7 L662.4,274.8 L662.5,274.9 L662.5,275.9 L662.6,276.8 L662.7,276.8 L662.8,277.5 L662.8,278.7 L662.9,279.4 L663.0,280.0 L663.0,280.7 L663.1,281.5 L663.2,282.1 L663.3,282.4 L663.3,283.6 L663.4,284.5 L663.5,285.1 L663.5,285.6 L663.6,285.8 L663.7,287.0 L663.8,287.9 L663.8,288.2 L663.9,288.8 L664.0,290.4 L664.0,290.1 L664.1,291.3 L664.2,291.8 L664.3,292.7 L664.3,293.0 L664.4,293.5 L664.5,294.6 L664.5,294.4 L664.6,295.6 L664.7,296.1 L664.8,297.0 L664.9,298.0 L664.9,298.8 L665.0,299.4 L665.1,300.1 L665.2,300.7 L665.3,301.4 L665.4,302.4 L665.4,302.7 L665.5,304.0 L665.6,304.1 L665.7,305.1 L665.8,305.3 L665.9,306.1 L666.0,307.1 L666.0,307.9 L666.1,309.0 L666.2,309.3 L666.3,310.1 L666.4,311.0 L666.5,311.0 L666.6,311.9 L666.7,312.7 L666.8,313.5 L666.9,314.4 L666.9,314.6 L667.0,315.5 L667.1,316.5 L667.2,316.7 L667.3,317.4 L667.4,318.3 L667.5,318.1 L667.6,319.2 L667.7,320.8 L667.8,320.9 L667.9,321.4 L668.0,321.9 L668.1,323.0 L668.2,323.8 L668.3,324.8 L668.4,324.8 L668.5,325.6 L668.5,326.3 L668.6,326.9 L668.7,328.0 L668.8,328.4 L668.9,329.1 L669.0,329.9 L669.1,330.6 L669.2,331.7 L669.3,331.8 L669.4,332.6 L669.5,333.6 L669.6,334.0 L669.7,335.1 L669.8,335.8 L669.9,336.4 L670.0,336.8 L670.1,337.2 L670.2,338.3 L670.3,338.2 L670.4,339.5 L670.5,340.5 L670.6,340.7 L670.7,341.9 L670.8,341.7 L670.9,343.1 L671.1,344.1 L671.2,344.2 L671.3,344.7 L671.4,346.4 L671.5,346.9 L671.6,347.0 L671.7,348.6 L671.8,349.0 L671.9,349.4 L672.0,350.2 L672.1,350.6 L672.2,351.8 L672.3,352.2 L672.4,353.2 L672.5,353.1 L672.6,354.1 L672.8,354.8 L672.9,355.7 L673.0,356.9 L673.1,357.0 L673.2,357.6 L673.3,358.4 L673.4,359.4 L673.5,359.7 L673.6,360.4 L673.8,361.4 L673.9,361.3 L674.0,362.1 L674.1,363.1 L674.2,364.3 L674.3,364.8 L674.4,365.6 L674.6,366.2 L674.7,366.7 L674.8,367.4 L674.9,368.6 L675.0,368.1 L675.1,369.5 L675.3,370.3 L675.4,370.8 L675.5,371.6 L675.6,372.3 L675.7,372.7 L675.9,374.0 L676.0,374.0 L676.1,374.8 L676.2,375.3 L676.3,375.8 L676.5,376.7 L676.6,378.0 L676.7,377.9 L676.8,379.4 L676.9,379.7 L677.0,380.0 L677.2,380.9 L677.3,381.5 L677.4,382.3 L677.5,382.8 L677.6,384.0 L677.8,384.0 L677.9,384.9 L678.0,385.9 L678.1,387.2 L678.3,387.1 L678.4,387.9 L678.5,388.7 L678.6,389.1 L678.8,390.2 L678.9,391.1 L679.0,391.6 L679.2,392.1 L679.3,392.9 L679.4,393.8 L679.6,393.8 L679.7,395.5 L679.8,395.5 L680.0,396.0 L680.1,397.3 L680.3,397.6 L680.4,397.8 L680.6,399.5 L680.7,399.3 L680.9,400.4 L681.1,401.4 L681.2,401.5 L681.4,402.5 L681.6,402.6 L681.7,404.0 L681.9,404.1 L682.1,405.1 L682.3,405.9 L682.5,406.4 L682.7,407.4 L682.9,407.8 L683.0,408.6 L683.2,408.9 L683.5,410.2 L683.7,410.0 L683.9,411.1 L684.1,411.7 L684.3,412.2 L684.5,413.3 L684.7,413.5 L685.0,414.6 L685.2,415.3 L685.4,415.8 L685.7,417.4 L685.9,417.3 L686.2,418.1 L686.4,418.3 L686.7,418.7 L686.9,419.2 L687.2,420.4 L687.5,420.6 L687.7,421.6 L688.0,422.4 L688.3,423.3 L688.6,423.9 L688.9,424.2 L689.2,425.0 L689.5,425.2 L689.8,426.2 L690.1,426.9 L690.4,427.2 L690.7,427.9 L691.1,428.7 L691.4,429.2 L691.8,429.8 L692.1,430.3 L692.5,430.4 L692.9,431.8 L693.3,431.4 L693.7,432.3 L694.1,433.3 L694.5,434.1 L694.9,434.7 L695.3,435.7 L695.7,435.3 L696.1,436.6 L696.5,437.0 L696.9,437.5 L697.2,438.4 L697.5,438.7 L697.9,439.1 L698.2,440.0 L698.5,440.7 L698.8,441.3 L699.0,442.1 L699.3,443.1 L699.6,443.5 L699.9,443.8 L700.2,444.4 L700.5,445.4 L700.8,445.9 L701.2,446.1 L701.5,447.2 L701.9,447.7 L702.3,448.2 L702.7,448.6 L703.1,449.1 L703.6,449.8 L704.2,450.2 L704.7,450.5 L705.3,450.9 L705.9,451.2 L706.6,451.5 L707.2,452.2 L707.9,452.7 L708.6,452.4 L709.2,452.3 L709.9,452.3 L710.6,452.6 L711.3,452.8 L712.0,452.5 L712.7,452.5 L713.4,452.4 L714.1,452.0 L714.8,452.5 L715.5,452.8 L716.2,451.9 L716.9,452.7 L717.6,452.6 L718.3,452.0 L719.0,452.3 L719.7,452.4 L720.4,451.7 L721.1,452.0 L721.8,451.9 L722.5,452.6 L723.2,451.5 L723.9,451.8 L724.6,451.9 L725.3,451.3 L726.0,451.8 L726.7,451.0 L727.4,451.3 L728.1,451.2 L728.8,451.2 L729.5,451.7 L730.2,451.5 L730.9,451.3 L731.6,451.1 L732.3,451.2 L733.0,451.3 L733.7,451.2 L734.4,451.0 L735.1,451.4 L735.8,451.2 L736.5,451.3 L737.2,451.4 L737.9,451.5 L738.6,451.2 L739.3,451.4 L740.0,451.1 L740.7,451.2 L741.4,451.4 L742.1,451.0 L742.8,451.2 L743.5,451.1 L744.2,450.9 L744.9,451.1 L745.6,451.7 L746.3,450.9 L747.0,451.2 L747.7,451.2 L748.4,451.1 L749.1,451.1 L749.8,451.4 L750.5,451.5 L751.2,451.6 L751.9,450.8 L752.6,451.4 L753.2,451.1 L753.7,451.5 L754.1,450.9"/><path d="M295.5,410.6 L295.7,410.1 L295.9,411.0 L296.1,411.7 L296.4,412.5 L296.6,412.7 L296.9,413.5 L297.2,414.3 L297.4,414.8 L297.7,415.8 L298.1,416.7 L298.4,416.5 L298.8,417.5 L299.1,417.5 L299.5,418.5 L299.9,419.3 L300.3,420.2 L300.7,419.9 L301.1,420.8 L301.6,421.3 L302.0,422.3 L302.5,422.4 L303.0,422.7 L303.4,423.9 L303.9,423.8 L304.5,424.6 L305.0,425.0 L305.5,425.7 L306.1,425.5 L306.7,426.3 L307.3,426.9 L308.0,426.7 L308.6,427.3 L309.3,427.7 L310.0,427.3 L310.6,427.2 L311.3,427.4 L312.0,427.4 L312.6,426.0 L313.2,426.9 L313.8,426.1 L314.4,425.8 L315.0,425.1 L315.6,424.8 L316.1,424.0 L316.7,423.8 L317.2,423.2 L317.7,423.0 L318.2,422.5 L318.8,422.0 L319.3,422.3 L319.9,421.6 L320.5,420.6 L321.1,421.1 L321.7,420.8 L322.4,419.9 L323.1,420.5 L323.8,420.4 L324.4,420.0 L325.1,419.5 L325.8,419.1 L326.5,419.4 L327.2,419.5 L327.9,419.1 L328.5,418.6 L329.2,418.8 L329.9,418.8 L330.6,418.3 L331.2,417.5 L331.9,417.8 L332.6,417.6 L333.2,417.1 L333.9,417.0 L334.5,416.9 L335.2,416.5 L335.8,416.1 L336.5,415.9 L337.1,415.2 L337.7,415.8 L338.4,415.2 L339.0,414.8 L339.6,414.8 L340.2,414.1 L340.9,413.3 L341.5,412.7 L342.1,412.9 L342.7,411.9 L343.3,412.9 L343.9,412.7 L344.5,411.9 L345.1,410.4 L345.7,410.9 L346.2,409.9 L346.8,409.9 L347.4,409.8 L347.9,409.1 L348.5,408.8 L349.0,408.1 L349.5,408.2 L350.1,407.4 L350.6,406.5 L351.1,406.0 L351.6,405.9 L352.1,405.5 L352.6,405.1 L353.1,404.8 L353.6,404.1 L354.1,403.2 L354.6,403.5 L355.1,402.7 L355.7,402.1 L356.2,401.6 L356.7,401.6 L357.3,401.0 L357.9,400.2 L358.5,399.9 L359.1,399.8 L359.7,399.4 L360.4,399.2 L361.0,398.7 L361.7,398.8 L362.3,398.2 L363.0,398.2 L363.7,398.3 L364.4,398.2 L365.1,397.8 L365.7,398.0 L366.4,397.3 L367.1,397.7 L367.8,397.3 L368.5,397.2 L369.2,397.0 L369.9,396.8 L370.6,396.6 L371.3,396.6 L371.9,396.4 L372.6,396.7 L373.2,395.4 L373.8,395.4 L374.5,396.0 L375.1,394.7 L375.7,394.8 L376.3,394.1 L377.0,394.1 L377.6,393.4 L378.2,393.2 L378.8,392.4 L379.4,392.2 L379.9,392.2 L380.5,391.7 L381.0,391.6 L381.5,390.5 L382.0,390.4 L382.5,389.7 L383.0,389.3 L383.4,389.0 L383.9,388.1 L384.4,387.5 L384.8,387.0 L385.3,386.5 L385.8,386.0 L386.2,385.4 L386.7,384.8 L387.1,384.4 L387.6,383.5 L388.0,383.4 L388.5,382.9 L388.9,382.3 L389.3,381.3 L389.8,380.7 L390.2,380.7 L390.6,379.9 L391.0,379.8 L391.4,378.8 L391.8,378.3 L392.2,377.7 L392.5,377.4 L392.9,376.4 L393.3,376.2 L393.7,375.3 L394.1,374.9 L394.5,374.4 L394.8,373.6 L395.2,373.3 L395.6,372.6 L396.0,371.4 L396.4,371.6 L396.8,370.8 L397.2,370.4 L397.6,369.7 L398.0,369.0 L398.5,368.3 L398.9,367.6 L399.3,367.4 L399.7,366.4 L400.1,366.5 L400.6,365.5 L401.0,365.0 L401.4,365.0 L401.8,363.9 L402.3,363.3 L402.7,362.9 L403.2,362.6 L403.6,362.1 L404.1,361.2 L404.6,360.9 L405.1,360.7 L405.7,360.1 L406.2,359.7 L406.8,358.8 L407.4,358.4 L408.0,358.4 L408.7,358.6 L409.3,357.5 L410.0,358.1 L410.6,357.6 L411.3,357.6 L411.9,358.1 L412.5,357.9 L413.1,358.4 L413.7,358.2 L414.2,358.8 L414.8,359.2 L415.2,360.5 L415.7,360.7 L416.1,361.8 L416.6,361.6 L417.0,362.3 L417.4,363.4 L417.8,363.9 L418.1,364.4 L418.5,365.1 L418.9,365.8 L419.2,366.2 L419.6,366.5 L419.9,367.2 L420.2,367.9 L420.6,368.5 L420.9,369.4 L421.2,369.6 L421.5,370.3 L421.8,371.0 L422.1,371.5 L422.3,372.9 L422.6,372.9 L422.9,373.8 L423.2,374.3 L423.5,375.8 L423.7,375.7 L424.0,375.9 L424.3,376.6 L424.6,377.4 L424.9,378.3 L425.1,378.5 L425.4,379.2 L425.7,379.9 L426.0,381.2 L426.3,381.5 L426.6,382.2 L426.9,381.9 L427.2,383.1 L427.5,384.1 L427.8,384.3 L428.1,384.8 L428.3,386.0 L428.6,386.6 L428.9,387.2 L429.2,387.9 L429.5,388.7 L429.8,388.5 L430.1,389.6 L430.3,390.0 L430.6,391.2 L430.9,391.6 L431.2,391.8 L431.4,393.2 L431.7,393.6 L432.0,394.4 L432.2,394.4 L432.5,395.5 L432.8,396.2 L433.0,396.4 L433.3,397.2 L433.6,397.4 L433.9,398.6 L434.2,398.9 L434.5,400.0 L434.8,400.6 L435.1,401.2 L435.3,402.1 L435.6,402.6 L435.9,403.4 L436.3,403.7 L436.6,404.5 L436.9,405.1 L437.3,405.4 L437.6,406.8 L438.0,406.5 L438.5,406.9 L439.0,407.6 L439.5,407.6 L440.1,408.4 L440.7,408.6 L441.4,409.6 L442.0,409.3 L442.7,409.3 L443.4,409.6 L444.1,409.7 L444.7,409.9 L445.4,410.3 L446.1,410.7 L446.8,410.3 L447.5,410.1 L448.2,410.5 L448.9,410.6 L449.6,410.8 L450.3,410.6 L451.0,411.1 L451.7,411.0 L452.4,411.5 L453.1,411.0 L453.8,410.8 L454.5,411.1 L455.2,410.7 L455.9,411.2 L456.6,411.0 L457.3,410.8 L458.0,411.7 L458.7,411.2 L459.4,410.9 L460.1,411.2 L460.8,412.1 L461.5,411.2 L462.2,411.7 L462.8,411.7 L463.5,412.1 L464.2,412.2 L464.9,411.8 L465.6,412.0 L466.3,412.5 L467.0,412.0 L467.7,412.2 L468.4,413.0 L469.1,413.1 L469.8,412.6 L470.5,412.8 L471.2,412.6 L471.9,413.2 L472.6,412.8 L473.3,412.8 L474.0,412.8 L474.7,413.1 L475.4,412.8 L476.1,412.7 L476.8,412.7 L477.5,413.1 L478.2,412.7 L478.9,412.6 L479.6,413.1 L480.2,413.3 L480.9,413.4 L481.6,413.4 L482.3,413.7 L483.0,414.5 L483.7,414.1 L484.3,414.7 L485.0,414.7 L485.7,414.9 L486.4,415.1 L487.0,414.7 L487.7,415.0 L488.4,415.2 L489.1,415.2 L489.7,414.6 L490.4,415.3 L491.0,415.0 L491.7,414.2 L492.4,413.4 L493.0,413.5 L493.7,413.6 L494.3,413.0 L495.0,412.6 L495.6,412.9 L496.3,412.5 L496.9,412.1 L497.6,411.5 L498.2,411.7 L498.9,411.2 L499.5,410.7 L500.2,410.8 L500.8,410.5 L501.4,410.5 L502.0,410.0 L502.6,409.6 L503.3,409.4 L503.9,408.5 L504.5,408.8 L505.1,408.2 L505.7,407.7 L506.3,407.0 L506.9,406.4 L507.5,406.2 L508.1,406.0 L508.7,405.8 L509.3,405.6 L509.9,405.0 L510.4,404.9 L511.0,404.0 L511.6,404.0 L512.2,403.4 L512.8,403.5 L513.4,402.7 L514.0,402.5 L514.6,402.5 L515.2,402.2 L515.7,401.2 L516.3,401.0 L516.9,400.7 L517.5,400.5 L518.1,400.1 L518.7,399.3 L519.2,399.3 L519.8,398.8 L520.4,398.5 L521.0,397.8 L521.6,397.2 L522.2,396.3 L522.8,396.7 L523.4,396.1 L524.0,396.2 L524.5,395.3 L525.1,395.3 L525.7,394.9 L526.3,394.7 L526.8,393.9 L527.4,393.7 L528.0,393.4 L528.5,392.5 L529.1,392.8 L529.6,391.7 L530.2,391.1 L530.8,391.2 L531.3,390.1 L531.8,390.0 L532.4,389.8 L532.9,388.9 L533.5,389.3 L534.0,388.3 L534.5,388.2 L535.0,387.2 L535.6,387.2 L536.1,386.1 L536.6,386.3 L537.1,385.4 L537.6,385.1 L538.1,384.3 L538.6,384.6 L539.1,382.8 L539.6,383.0 L540.1,382.6 L540.5,381.6 L541.0,381.6 L541.5,381.1 L541.9,380.4 L542.4,379.7 L542.8,379.4 L543.3,378.7 L543.7,378.3 L544.1,377.7 L544.5,377.3 L544.9,376.8 L545.3,376.0 L545.7,375.6 L546.1,374.3 L546.5,374.2 L546.9,373.5 L547.2,373.0 L547.6,372.3 L547.9,371.9 L548.3,371.1 L548.6,370.2 L549.0,369.9 L549.3,369.9 L549.7,368.7 L550.0,368.0 L550.3,367.2 L550.7,367.0 L551.0,366.6 L551.3,365.4 L551.6,365.2 L551.9,364.6 L552.2,363.2 L552.6,363.1 L552.9,362.4 L553.2,361.8 L553.4,361.5 L553.7,360.8 L554.0,360.1 L554.3,359.4 L554.6,358.9 L554.9,358.3 L555.1,357.4 L555.4,356.5 L555.7,356.1 L556.0,355.6 L556.3,354.4 L556.5,354.2 L556.8,353.4 L557.1,352.7 L557.4,352.6 L557.7,351.6 L558.0,350.9 L558.3,350.3 L558.6,349.5 L558.9,349.4 L559.2,349.0 L559.5,348.4 L559.8,346.6 L560.1,346.5 L560.4,346.0 L560.7,345.4 L561.0,344.2 L561.2,344.2 L561.5,343.6 L561.8,342.7 L562.1,342.2 L562.3,341.5 L562.6,341.1 L562.8,340.8 L563.1,340.2 L563.3,339.0 L563.6,338.0 L563.8,337.9 L564.1,336.9 L564.3,336.2 L564.6,335.6 L564.9,335.0 L565.1,334.3 L565.4,333.7 L565.7,332.8 L566.0,332.4 L566.3,331.3 L566.6,330.6 L566.9,330.7 L567.2,330.1 L567.5,329.2 L567.9,328.8 L568.2,328.3 L568.5,328.0 L568.9,326.7 L569.2,326.3 L569.5,325.5 L569.9,325.0 L570.2,324.4 L570.5,324.1 L570.8,322.9 L571.2,322.2 L571.5,322.0 L571.8,321.1 L572.1,321.2 L572.4,320.1 L572.7,319.4 L573.0,318.5 L573.3,317.7 L573.6,317.4 L573.9,316.9 L574.3,316.3 L574.6,315.7 L574.9,314.6 L575.2,314.5 L575.5,313.8 L575.8,313.4 L576.1,312.6 L576.5,311.7 L576.8,310.8 L577.1,310.7 L577.5,310.5 L577.8,309.4 L578.1,308.4 L578.5,308.4 L578.8,307.4 L579.1,306.6 L579.5,306.6 L579.8,305.8 L580.1,304.9 L580.5,304.3 L580.8,303.7 L581.2,303.5 L581.5,302.8 L581.8,301.9 L582.1,301.5 L582.5,300.6 L582.8,300.5 L583.1,299.9 L583.5,299.1 L583.8,299.1 L584.1,297.7 L584.4,297.4 L584.8,296.7 L585.1,295.7 L585.4,295.0 L585.8,295.0 L586.1,293.7 L586.5,293.4 L586.8,292.2 L587.2,291.8 L587.6,291.7 L588.0,290.7 L588.3,290.0 L588.7,289.8 L589.1,288.9 L589.5,288.3 L589.9,288.0 L590.3,287.1 L590.7,286.6 L591.1,286.5 L591.5,285.9 L591.9,284.9 L592.3,284.6 L592.8,283.7 L593.2,283.9 L593.6,282.5 L594.0,282.6 L594.4,281.9 L594.9,281.3 L595.3,280.7 L595.8,280.5 L596.2,279.8 L596.6,279.0 L597.1,278.4 L597.5,277.8 L597.9,277.7 L598.2,276.5 L598.6,275.9 L599.0,275.7 L599.3,274.5 L599.7,274.5 L600.0,274.1 L600.4,273.5 L600.7,272.7 L601.0,272.0 L601.4,271.6 L601.7,270.7 L602.0,270.1 L602.4,269.4 L602.7,269.2 L603.0,267.5 L603.3,267.7 L603.6,267.2 L603.9,266.6 L604.2,265.8 L604.5,265.2 L604.8,264.4 L605.1,264.4 L605.4,263.6 L605.7,262.1 L606.0,262.0 L606.3,261.6 L606.5,260.9 L606.8,260.0 L607.1,259.3 L607.4,258.3 L607.7,258.3 L607.9,257.5 L608.2,257.1 L608.5,256.2 L608.7,255.2 L609.0,254.6 L609.2,254.2 L609.5,253.1 L609.7,252.9 L610.0,252.7 L610.2,252.1 L610.5,251.4 L610.7,249.9 L610.9,249.6 L611.2,249.2 L611.4,247.7 L611.6,247.7 L611.9,247.2 L612.1,246.0 L612.3,245.4 L612.5,244.8 L612.8,243.9 L613.0,243.6 L613.2,243.1 L613.4,242.7 L613.6,240.7 L613.9,240.4 L614.1,240.2 L614.3,239.5 L614.5,238.8 L614.7,237.9 L615.0,237.5 L615.2,237.4 L615.4,236.1 L615.6,235.7 L615.8,235.0 L616.0,234.7 L616.3,233.5 L616.5,232.9 L616.7,232.6 L616.9,231.8 L617.1,231.2 L617.3,231.0 L617.5,229.8 L617.7,229.3 L617.9,227.7 L618.1,227.6 L618.3,227.1 L618.5,226.4 L618.7,225.8 L618.9,225.2 L619.1,224.6 L619.3,223.3 L619.5,223.3 L619.7,222.2 L619.9,221.4 L620.2,220.9 L620.4,220.2 L620.6,219.5 L620.8,219.5 L621.0,218.5 L621.2,217.4 L621.4,217.0 L621.6,216.4 L621.8,215.3 L622.0,215.3 L622.2,214.1 L622.4,212.8 L622.6,213.3 L622.8,212.2 L623.0,211.5 L623.2,211.2 L623.4,210.0 L623.6,209.5 L623.8,208.7 L624.0,208.2 L624.2,208.0 L624.4,206.8 L624.6,205.5 L624.8,204.9 L625.0,205.0 L625.2,204.5 L625.4,203.3 L625.6,202.8 L625.8,202.7 L626.0,201.4 L626.2,200.3 L626.4,200.0 L626.6,200.2 L626.8,198.6 L627.0,198.1 L627.2,197.6 L627.5,197.1 L627.7,196.2 L627.9,195.4 L628.1,195.1 L628.3,193.8 L628.5,193.1 L628.7,192.5 L628.9,192.0 L629.1,191.2 L629.3,190.7 L629.5,190.0 L629.7,189.5 L629.9,188.9 L630.1,187.9 L630.3,187.5 L630.6,186.4 L630.8,186.6 L631.0,184.6 L631.2,184.2 L631.4,184.2 L631.6,183.3 L631.8,182.6 L632.0,182.2 L632.2,181.2 L632.4,180.8 L632.6,180.3 L632.8,179.4 L633.0,178.7 L633.2,178.2 L633.3,177.2 L633.5,176.6 L633.7,175.6 L633.8,175.5 L634.0,174.3 L634.1,174.3 L634.3,172.6 L634.4,172.4 L634.5,172.1 L634.7,170.5 L634.8,170.4 L635.0,169.7 L635.2,169.0 L635.4,167.8 L635.6,167.3 L635.8,167.9 L636.1,167.0 L636.4,165.9 L636.8,165.2 L637.2,165.1 L637.7,164.2 L638.2,163.8 L638.7,163.7 L639.2,164.3 L639.8,163.7 L640.3,165.1 L640.8,165.0 L641.2,165.7 L641.7,166.0 L642.1,166.4 L642.5,167.3 L642.8,168.4 L643.2,168.6 L643.5,169.4 L643.8,169.9 L644.2,170.3 L644.5,170.9 L644.7,172.2 L645.0,172.7 L645.3,172.9 L645.5,173.9 L645.7,174.6 L645.9,175.2 L646.1,175.8 L646.3,176.7 L646.5,177.2 L646.7,177.7 L646.8,178.6 L647.0,179.3 L647.1,179.7 L647.3,181.2 L647.4,181.2 L647.5,181.6 L647.6,182.9 L647.8,183.3 L647.9,184.0 L648.0,184.6 L648.1,185.4 L648.2,185.9 L648.4,186.4 L648.5,187.3 L648.6,187.8 L648.7,189.0 L648.8,189.8 L648.9,190.2 L649.1,190.7 L649.2,192.1 L649.3,192.2 L649.5,192.3 L649.6,193.4 L649.7,194.4 L649.9,195.2 L650.0,195.9 L650.2,196.4 L650.3,197.4 L650.4,197.7 L650.6,198.3 L650.7,199.3 L650.9,199.8 L651.0,200.8 L651.2,201.6 L651.3,202.3 L651.4,202.8 L651.6,203.2 L651.7,204.0 L651.9,204.4 L652.0,205.4 L652.2,206.2 L652.3,206.9 L652.5,207.3 L652.6,208.2 L652.7,209.1 L652.9,209.6 L653.0,210.2 L653.2,210.7 L653.3,211.4 L653.5,212.0 L653.6,213.5 L653.7,213.7 L653.9,214.3 L654.0,215.0 L654.1,215.9 L654.3,216.1 L654.4,217.2 L654.5,217.7 L654.6,218.6 L654.7,219.1 L654.8,219.9 L654.9,220.7 L655.0,221.2 L655.1,221.5 L655.2,222.1 L655.3,222.9 L655.4,223.9 L655.5,224.1 L655.6,225.2 L655.7,226.0 L655.8,226.8 L655.9,227.3 L655.9,227.3 L656.0,228.4 L656.1,229.2 L656.2,230.3 L656.3,230.7 L656.4,231.0 L656.5,231.9 L656.5,232.5 L656.6,233.7 L656.7,233.8 L656.8,235.2 L656.9,235.3 L657.0,236.6 L657.1,237.4 L657.1,237.7 L657.2,237.9 L657.3,239.1 L657.4,239.6 L657.5,240.4 L657.6,241.2 L657.7,242.0 L657.8,242.4 L657.9,243.8 L658.0,243.9 L658.0,245.6 L658.1,245.7 L658.2,246.4 L658.3,246.7 L658.4,248.0 L658.5,248.2 L658.6,249.1 L658.7,249.5 L658.9,249.9 L659.0,251.3 L659.1,252.0 L659.2,252.2 L659.3,253.2 L659.4,253.3 L659.5,254.8 L659.6,255.3 L659.7,256.1 L659.8,257.3 L659.9,257.0 L660.0,257.9 L660.1,258.3 L660.2,259.3 L660.3,260.2 L660.4,261.3 L660.5,261.5 L660.7,261.6 L660.8,262.7 L660.9,263.7 L661.0,263.7 L661.1,264.3 L661.2,265.3 L661.3,266.5 L661.3,267.4 L661.4,267.5 L661.5,268.5 L661.6,268.8 L661.7,270.2 L661.8,270.3 L661.9,270.9 L662.0,271.8 L662.1,272.6 L662.1,272.9 L662.2,273.8 L662.3,274.3 L662.4,275.1 L662.5,275.7 L662.5,276.6 L662.6,277.6 L662.7,278.1 L662.8,279.3 L662.8,279.9 L662.9,279.7 L663.0,281.1 L663.0,281.1 L663.1,282.6 L663.2,283.4 L663.3,283.8 L663.3,284.5 L663.4,284.8 L663.5,286.0 L663.5,286.6 L663.6,287.2 L663.7,288.0 L663.8,288.8 L663.8,289.3 L663.9,290.0 L664.0,290.3 L664.0,291.6 L664.1,291.7 L664.2,292.7 L664.3,293.7 L664.3,293.9 L664.4,294.5 L664.5,295.0 L664.5,295.8 L664.6,297.2 L664.7,297.2 L664.8,298.2 L664.9,298.8 L664.9,299.3 L665.0,300.7 L665.1,300.8 L665.2,302.2 L665.3,302.8 L665.4,303.2 L665.4,303.7 L665.5,304.6 L665.6,305.2 L665.7,306.2 L665.8,306.7 L665.9,307.0 L666.0,307.9 L666.0,308.7 L666.1,309.3 L666.2,310.4 L666.3,310.5 L666.4,311.4 L666.5,311.6 L666.6,313.2 L666.7,313.3 L666.8,314.0 L666.9,315.1 L666.9,315.4 L667.0,315.8 L667.1,316.4 L667.2,318.0 L667.3,318.7 L667.4,318.7 L667.5,319.6 L667.6,320.0 L667.7,321.3 L667.8,322.2 L667.9,322.7 L668.0,322.8 L668.1,324.0 L668.2,324.4 L668.3,325.3 L668.4,326.0 L668.5,326.2 L668.5,328.1 L668.6,327.7 L668.7,329.1 L668.8,329.4 L668.9,330.3 L669.0,330.9 L669.1,331.8 L669.2,332.9 L669.3,333.3 L669.4,333.0 L669.5,334.5 L669.6,335.3 L669.7,336.1 L669.8,336.5 L669.9,337.4 L670.0,337.8 L670.1,338.8 L670.2,339.4 L670.3,339.7 L670.4,340.2 L670.5,341.4 L670.6,341.7 L670.7,342.7 L670.8,343.5 L670.9,344.2 L671.1,344.8 L671.2,345.7 L671.3,346.1 L671.4,347.0 L671.5,348.3 L671.6,348.1 L671.7,348.7 L671.8,349.9 L671.9,350.2 L672.0,350.7 L672.1,351.5 L672.2,352.2 L672.3,353.0 L672.4,353.9 L672.5,354.5 L672.6,354.8 L672.8,355.8 L672.9,356.6 L673.0,357.4 L673.1,357.9 L673.2,358.0 L673.3,359.2 L673.4,360.1 L673.5,360.7 L673.6,361.0 L673.8,361.9 L673.9,363.2 L674.0,363.2 L674.1,364.0 L674.2,364.5 L674.3,365.5 L674.4,366.2 L674.6,367.2 L674.7,367.5 L674.8,368.2 L674.9,368.8 L675.0,369.9 L675.1,370.5 L675.3,370.6 L675.4,371.1 L675.5,372.6 L675.6,373.0 L675.7,373.8 L675.9,374.6 L676.0,375.7 L676.1,376.2 L676.2,376.4 L676.3,376.7 L676.5,377.5 L676.6,378.7 L676.7,379.3 L676.8,380.2 L676.9,380.6 L677.0,381.4 L677.2,381.8 L677.3,382.5 L677.4,383.3 L677.5,384.6 L677.6,384.9 L677.8,385.7 L677.9,385.4 L678.0,386.9 L678.1,387.4 L678.3,388.6 L678.4,389.4 L678.5,390.0 L678.6,390.3 L678.8,390.8 L678.9,391.8 L679.0,393.0 L679.2,393.0 L679.3,393.7 L679.4,394.8 L679.6,395.1 L679.7,395.4 L679.8,396.9 L680.0,397.2 L680.1,397.7 L680.3,398.2 L680.4,399.5 L680.6,400.5 L680.7,400.9 L680.9,401.2 L681.1,402.2 L681.2,402.5 L681.4,403.2 L681.6,404.1 L681.7,404.6 L681.9,405.7 L682.1,405.8 L682.3,406.9 L682.5,407.1 L682.7,407.6 L682.9,409.1 L683.0,409.2 L683.2,410.0 L683.5,410.8 L683.7,411.5 L683.9,412.3 L684.1,412.6 L684.3,413.5 L684.5,414.4 L684.7,414.3 L685.0,415.5 L685.2,416.2 L685.4,416.7 L685.7,417.2 L685.9,418.5 L686.2,418.8 L686.4,419.4 L686.7,420.0 L686.9,420.8 L687.2,420.9 L687.5,421.4 L687.7,422.3 L688.0,423.2 L688.3,423.6 L688.6,424.6 L688.9,424.8 L689.2,426.3 L689.5,426.6 L689.8,427.1 L690.1,426.8 L690.4,428.7 L690.7,429.3 L691.1,430.3 L691.4,429.9 L691.8,430.5 L692.1,431.2 L692.5,432.3 L692.9,432.2 L693.3,433.0 L693.7,433.3 L694.1,434.9 L694.5,434.8 L694.9,435.1 L695.3,435.9 L695.7,436.4 L696.1,436.5 L696.5,437.9 L696.9,438.3 L697.2,438.7 L697.5,439.1 L697.9,440.0 L698.2,440.7 L698.5,441.6 L698.8,443.0 L699.0,443.1 L699.3,443.3 L699.6,443.8 L699.9,444.7 L700.2,445.4 L700.5,445.9 L700.8,447.1 L701.2,447.9 L701.5,447.6 L701.9,448.9 L702.3,449.0 L702.7,449.7 L703.1,449.4 L703.6,450.4 L704.2,450.8 L704.7,451.2 L705.3,451.5 L705.9,451.7 L706.6,452.5 L707.2,452.5 L707.9,452.9 L708.6,453.4 L709.2,453.7 L709.9,453.3 L710.6,453.5 L711.3,453.6 L712.0,453.1 L712.7,453.3 L713.4,453.5 L714.1,453.6 L714.8,453.9 L715.5,454.0 L716.2,453.3 L716.9,453.3 L717.6,452.6 L718.3,453.3 L719.0,453.1 L719.7,453.1 L720.4,452.6 L721.1,452.9 L721.8,453.3 L722.5,453.1 L723.2,452.7 L723.9,452.7 L724.6,452.1 L725.3,452.9 L726.0,452.1 L726.7,452.2 L727.4,452.1 L728.1,452.6 L728.8,452.2 L729.5,452.4 L730.2,452.8 L730.9,452.4 L731.6,451.9 L732.3,452.3 L733.0,452.0 L733.7,452.1 L734.4,451.8 L735.1,452.3 L735.8,452.1 L736.5,452.2 L737.2,451.9 L737.9,452.6 L738.6,451.8 L739.3,451.9 L740.0,451.6 L740.7,452.4 L741.4,452.4 L742.1,452.0 L742.8,452.2 L743.5,452.3 L744.2,451.9 L744.9,452.4 L745.6,452.3 L746.3,452.0 L747.0,451.7 L747.7,452.1 L748.4,452.3 L749.1,451.9 L749.8,452.3 L750.5,452.1 L751.2,452.0 L751.9,452.0 L752.6,452.0 L753.2,452.0 L753.7,452.5 L754.1,452.1"/></g>
<g stroke="#006411" stroke-width="3.4" fill="none" stroke-linejoin="round" stroke-linecap="butt"><path d="M295.5,404.5 L295.7,405.5 L295.9,405.0 L296.1,405.7 L296.4,406.9 L296.6,407.3 L296.9,406.9 L297.2,408.5 L297.4,408.9 L297.7,410.1 L298.0,410.7 L298.4,411.1 L298.7,410.8 L299.1,411.8 L299.4,413.0 L299.8,413.3 L300.2,414.6 L300.6,415.1 L301.0,414.9 L301.5,415.7 L301.9,416.2 L302.4,416.5 L302.9,416.8 L303.5,418.5 L304.0,417.5 L304.6,418.5 L305.2,418.4 L305.8,418.5 L306.4,419.8 L307.0,419.5 L307.7,421.3 L308.3,420.3 L308.9,421.5 L309.6,420.7 L310.3,421.0 L310.9,421.4 L311.6,422.3 L312.2,421.4 L312.9,421.7 L313.6,422.1 L314.3,422.0 L314.9,422.6 L315.6,422.6 L316.3,422.4 L317.0,422.9 L317.7,422.7 L318.4,423.7 L319.1,423.3 L319.8,423.5 L320.5,423.4 L321.2,424.4 L321.9,423.7 L322.6,423.5 L323.2,423.2 L323.9,424.4 L324.6,422.9 L325.3,424.2 L326.0,424.1 L326.7,423.6 L327.4,424.0 L328.1,424.3 L328.8,424.1 L329.5,424.5 L330.2,423.4 L330.9,423.7 L331.6,423.8 L332.3,423.8 L333.0,424.0 L333.7,425.0 L334.4,424.8 L335.1,424.3 L335.8,423.9 L336.5,423.9 L337.2,424.7 L338.0,424.6 L338.7,423.7 L339.4,424.3 L340.1,423.9 L340.7,423.6 L341.4,423.8 L342.1,424.3 L342.8,424.1 L343.5,423.6 L344.2,424.5 L344.9,424.0 L345.6,423.8 L346.3,424.2 L347.0,424.5 L347.7,423.8 L348.4,423.7 L349.1,424.3 L349.8,424.4 L350.5,425.1 L351.2,424.3 L351.9,424.9 L352.6,424.4 L353.3,424.8 L354.0,424.5 L354.7,424.5 L355.4,425.3 L356.1,424.6 L356.8,425.0 L357.5,425.3 L358.2,425.1 L358.9,424.8 L359.6,425.4 L360.3,424.9 L361.0,425.4 L361.7,426.1 L362.4,425.6 L363.0,424.8 L363.7,425.7 L364.4,426.3 L365.0,426.3 L365.7,426.4 L366.4,427.8 L367.1,427.4 L367.8,426.9 L368.5,426.7 L369.2,427.4 L369.9,426.4 L370.6,426.9 L371.3,426.9 L372.0,427.3 L372.7,427.4 L373.4,427.0 L374.1,427.6 L374.8,427.1 L375.4,426.3 L376.1,426.0 L376.8,426.6 L377.5,425.7 L378.1,425.7 L378.8,425.8 L379.5,425.3 L380.1,424.4 L380.8,425.1 L381.4,424.5 L382.0,423.7 L382.6,424.0 L383.3,423.3 L383.9,423.9 L384.5,421.9 L385.1,422.1 L385.7,422.5 L386.4,422.0 L387.0,421.9 L387.6,421.0 L388.2,421.0 L388.8,421.0 L389.4,420.9 L390.1,420.2 L390.7,419.7 L391.3,420.0 L391.9,419.0 L392.6,418.7 L393.2,418.5 L393.9,418.2 L394.5,417.9 L395.2,417.6 L395.8,417.8 L396.5,417.2 L397.1,417.3 L397.8,417.0 L398.5,417.2 L399.2,415.8 L399.8,416.2 L400.5,417.1 L401.2,416.3 L401.9,416.2 L402.6,415.4 L403.3,415.1 L404.0,414.8 L404.7,414.9 L405.4,414.9 L406.1,415.0 L406.7,414.7 L407.4,414.2 L408.1,415.8 L408.8,414.8 L409.5,415.3 L410.2,413.1 L410.9,414.3 L411.6,414.5 L412.2,414.6 L412.9,414.5 L413.6,413.7 L414.3,413.2 L415.0,413.9 L415.7,413.8 L416.4,413.5 L417.1,413.7 L417.8,413.0 L418.4,412.5 L419.1,412.5 L419.8,413.0 L420.5,412.5 L421.2,412.3 L421.9,412.8 L422.6,412.2 L423.3,411.2 L424.0,412.0 L424.7,412.5 L425.4,412.2 L426.1,412.9 L426.8,412.6 L427.5,411.3 L428.2,412.1 L428.9,412.3 L429.6,412.4 L430.3,412.2 L431.0,411.7 L431.7,411.6 L432.4,411.7 L433.1,412.7 L433.8,412.1 L434.5,412.3 L435.2,412.2 L435.9,411.5 L436.6,411.4 L437.3,411.5 L438.0,412.2 L438.7,412.1 L439.4,411.3 L440.1,412.2 L440.8,411.6 L441.5,411.6 L442.1,411.5 L442.8,411.1 L443.5,411.3 L444.2,411.5 L444.9,410.2 L445.6,410.5 L446.2,410.2 L446.9,410.1 L447.6,409.9 L448.3,410.6 L449.0,409.8 L449.6,410.0 L450.3,410.0 L451.0,409.1 L451.7,409.0 L452.3,409.4 L453.0,408.6 L453.7,409.0 L454.4,408.8 L455.0,408.3 L455.7,407.2 L456.4,406.8 L457.0,407.7 L457.7,407.5 L458.4,406.9 L459.1,407.2 L459.8,406.8 L460.5,407.1 L461.2,406.7 L461.8,406.5 L462.5,406.6 L463.2,406.8 L463.9,406.0 L464.6,407.0 L465.3,406.2 L466.0,407.0 L466.7,406.9 L467.4,406.7 L468.1,406.4 L468.8,406.8 L469.5,406.4 L470.2,406.5 L471.0,406.6 L471.7,406.4 L472.4,407.0 L473.1,406.6 L473.8,406.2 L474.5,407.0 L475.2,406.7 L475.9,406.6 L476.6,406.7 L477.3,405.8 L478.0,406.8 L478.7,406.7 L479.4,406.4 L480.0,406.3 L480.7,406.4 L481.4,406.7 L482.1,406.8 L482.8,406.4 L483.5,407.3 L484.2,407.7 L484.9,408.5 L485.6,406.9 L486.2,407.6 L486.9,407.0 L487.6,408.2 L488.3,408.1 L489.0,408.4 L489.7,406.8 L490.4,407.2 L491.1,407.6 L491.8,408.1 L492.5,407.5 L493.2,406.8 L493.8,406.6 L494.5,407.1 L495.2,406.5 L495.8,405.7 L496.4,406.6 L497.1,405.6 L497.7,405.7 L498.3,405.0 L498.9,404.7 L499.6,404.9 L500.2,404.1 L500.8,403.0 L501.5,404.4 L502.1,403.3 L502.8,403.4 L503.5,402.7 L504.1,403.5 L504.8,402.3 L505.5,402.3 L506.1,403.0 L506.8,401.8 L507.4,402.0 L508.1,401.1 L508.7,400.7 L509.4,400.4 L510.0,400.5 L510.6,399.4 L511.2,399.1 L511.9,399.5 L512.5,399.5 L513.1,398.6 L513.7,398.6 L514.3,398.9 L514.9,397.4 L515.5,396.8 L516.1,397.6 L516.7,396.4 L517.3,395.9 L517.9,396.4 L518.5,394.9 L519.1,395.0 L519.7,394.6 L520.3,394.6 L520.9,394.3 L521.5,393.6 L522.0,393.3 L522.6,392.2 L523.2,392.4 L523.8,392.5 L524.4,391.4 L525.0,391.3 L525.5,391.4 L526.1,391.0 L526.7,390.1 L527.2,389.6 L527.8,389.7 L528.3,388.4 L528.9,388.3 L529.5,387.9 L530.0,387.4 L530.6,386.6 L531.1,385.8 L531.6,385.7 L532.2,385.6 L532.7,384.9 L533.2,384.4 L533.8,384.2 L534.3,384.3 L534.8,383.6 L535.3,382.2 L535.9,382.7 L536.4,381.9 L536.9,382.0 L537.4,380.8 L537.9,381.1 L538.4,379.3 L538.8,379.4 L539.3,378.7 L539.8,377.8 L540.3,378.4 L540.7,376.8 L541.2,376.6 L541.6,376.7 L542.1,375.9 L542.5,375.6 L542.9,374.6 L543.3,374.7 L543.8,373.0 L544.2,372.9 L544.6,372.1 L544.9,372.0 L545.3,371.2 L545.7,370.3 L546.1,369.7 L546.4,368.9 L546.8,368.9 L547.2,368.5 L547.5,368.3 L547.9,366.7 L548.2,366.5 L548.5,366.2 L548.9,364.8 L549.2,364.5 L549.5,364.2 L549.9,362.8 L550.2,362.4 L550.5,361.2 L550.8,361.9 L551.1,361.0 L551.4,359.9 L551.7,360.0 L552.0,358.7 L552.3,358.6 L552.6,357.5 L552.9,357.1 L553.2,356.1 L553.5,355.4 L553.7,354.8 L554.0,354.7 L554.3,354.1 L554.6,352.6 L554.9,352.4 L555.2,351.3 L555.4,351.0 L555.7,350.6 L556.0,350.9 L556.3,349.5 L556.6,349.1 L556.9,348.1 L557.2,347.4 L557.5,347.4 L557.8,346.4 L558.1,345.0 L558.4,344.9 L558.7,344.2 L559.0,343.7 L559.3,342.7 L559.6,342.0 L559.9,341.9 L560.2,341.3 L560.5,339.6 L560.7,339.0 L561.0,339.5 L561.3,338.7 L561.5,337.3 L561.8,336.8 L562.0,336.2 L562.3,335.5 L562.5,335.4 L562.8,334.8 L563.0,334.2 L563.3,334.1 L563.5,332.6 L563.8,332.7 L564.1,330.6 L564.4,330.7 L564.6,330.1 L564.9,329.1 L565.2,328.6 L565.6,328.0 L565.9,327.6 L566.2,327.7 L566.5,326.7 L566.9,325.0 L567.2,324.6 L567.5,323.7 L567.9,324.1 L568.2,323.3 L568.5,322.5 L568.9,322.6 L569.2,321.3 L569.5,320.4 L569.9,320.1 L570.2,319.9 L570.5,318.5 L570.8,318.3 L571.1,317.9 L571.4,317.6 L571.7,316.8 L572.0,316.4 L572.3,315.4 L572.7,314.6 L573.0,313.6 L573.3,313.9 L573.6,312.7 L573.9,312.3 L574.2,310.6 L574.5,311.3 L574.9,310.3 L575.2,309.6 L575.5,308.9 L575.8,307.9 L576.2,307.6 L576.5,307.8 L576.8,306.7 L577.2,305.6 L577.5,305.1 L577.9,305.0 L578.2,304.7 L578.5,303.1 L578.9,302.5 L579.2,302.0 L579.6,301.3 L579.9,301.2 L580.2,299.8 L580.6,299.5 L580.9,299.1 L581.2,298.9 L581.6,298.1 L581.9,297.1 L582.2,296.4 L582.5,296.6 L582.9,295.5 L583.2,295.4 L583.5,293.7 L583.9,294.5 L584.2,293.0 L584.6,292.7 L584.9,292.1 L585.3,291.0 L585.6,290.6 L586.0,289.1 L586.3,289.3 L586.7,288.9 L587.1,287.6 L587.5,288.2 L587.9,287.5 L588.3,286.0 L588.7,285.3 L589.1,285.5 L589.5,284.1 L589.9,284.3 L590.3,283.9 L590.7,282.3 L591.1,283.7 L591.5,281.5 L592.0,281.3 L592.4,280.2 L592.8,279.7 L593.2,280.1 L593.7,279.5 L594.1,278.8 L594.5,278.4 L595.0,277.6 L595.4,277.4 L595.9,276.7 L596.3,275.5 L596.7,275.0 L597.1,274.2 L597.5,273.9 L597.8,273.7 L598.2,272.9 L598.5,271.8 L598.9,271.4 L599.2,271.0 L599.6,270.4 L599.9,270.5 L600.3,269.0 L600.6,269.2 L600.9,267.8 L601.2,268.0 L601.6,267.2 L601.9,266.4 L602.2,265.1 L602.5,264.6 L602.8,264.1 L603.1,262.8 L603.4,263.0 L603.7,263.2 L604.0,261.9 L604.3,260.6 L604.6,260.1 L604.9,260.1 L605.2,259.7 L605.5,258.2 L605.7,257.4 L606.0,257.0 L606.3,256.3 L606.6,255.1 L606.8,254.9 L607.1,255.3 L607.4,254.6 L607.7,253.1 L607.9,253.4 L608.2,252.5 L608.4,251.4 L608.7,250.5 L608.9,249.9 L609.2,249.4 L609.4,249.1 L609.7,248.1 L609.9,248.0 L610.1,247.2 L610.4,247.2 L610.6,245.0 L610.8,245.1 L611.0,244.1 L611.3,243.4 L611.5,242.8 L611.7,242.6 L611.9,241.0 L612.2,240.4 L612.4,240.4 L612.6,239.9 L612.8,238.3 L613.1,238.0 L613.3,237.1 L613.5,236.5 L613.7,235.7 L613.9,235.7 L614.2,235.2 L614.4,234.3 L614.6,232.9 L614.8,232.5 L615.0,233.3 L615.2,231.6 L615.5,230.9 L615.7,230.9 L615.9,229.7 L616.1,228.8 L616.3,228.0 L616.5,228.0 L616.7,227.1 L616.9,226.1 L617.1,225.5 L617.3,224.6 L617.5,224.4 L617.7,223.2 L617.9,222.6 L618.1,222.8 L618.3,221.8 L618.6,220.5 L618.8,219.6 L619.0,219.2 L619.2,218.9 L619.4,217.8 L619.6,217.9 L619.8,217.0 L620.0,216.2 L620.2,216.2 L620.4,215.0 L620.6,214.1 L620.8,213.9 L621.0,213.9 L621.2,212.6 L621.4,211.5 L621.6,211.0 L621.8,209.0 L622.0,210.1 L622.2,208.9 L622.4,208.3 L622.6,207.2 L622.8,206.4 L623.0,206.1 L623.2,205.9 L623.4,204.2 L623.6,203.5 L623.8,203.7 L624.0,202.9 L624.2,202.1 L624.4,201.0 L624.6,201.3 L624.9,200.6 L625.1,199.0 L625.3,198.7 L625.5,197.7 L625.7,197.3 L625.9,197.1 L626.1,196.8 L626.3,195.2 L626.5,194.9 L626.7,194.2 L626.9,193.8 L627.1,192.9 L627.3,191.9 L627.5,191.9 L627.7,191.5 L627.9,190.9 L628.1,188.7 L628.3,188.8 L628.5,188.2 L628.7,186.8 L628.8,187.0 L629.0,186.3 L629.2,185.1 L629.4,184.2 L629.6,184.0 L629.8,183.0 L630.0,182.4 L630.2,181.5 L630.4,181.5 L630.6,180.4 L630.8,178.9 L631.0,178.5 L631.2,178.7 L631.4,177.3 L631.7,177.0 L631.9,177.0 L632.1,175.2 L632.4,175.7 L632.6,175.2 L632.9,173.9 L633.2,173.1 L633.5,172.4 L633.8,172.5 L634.1,171.7 L634.4,171.0 L634.8,170.1 L635.2,170.0 L635.7,169.0 L636.2,169.0 L636.7,167.7 L637.2,167.8 L637.8,167.7 L638.4,167.2 L638.9,167.7 L639.5,168.3 L640.1,168.5 L640.6,169.3 L641.1,169.2 L641.5,170.1 L642.0,170.2 L642.4,170.2 L642.7,171.2 L643.1,171.7 L643.4,172.6 L643.7,173.8 L644.0,174.3 L644.2,174.6 L644.4,176.0 L644.6,176.3 L644.8,177.1 L645.0,177.8 L645.1,177.8 L645.3,177.8 L645.4,179.7 L645.6,179.8 L645.7,182.2 L645.8,181.9 L645.9,182.5 L646.0,182.9 L646.2,183.7 L646.3,184.2 L646.4,184.9 L646.5,185.7 L646.6,186.8 L646.7,187.7 L646.8,188.5 L646.9,189.2 L647.0,189.0 L647.2,189.1 L647.3,191.0 L647.4,191.7 L647.5,191.9 L647.7,192.4 L647.8,193.3 L648.0,193.9 L648.1,195.1 L648.2,195.2 L648.4,196.2 L648.5,197.0 L648.7,197.2 L648.8,198.0 L648.9,199.2 L649.1,199.6 L649.2,199.3 L649.4,201.1 L649.5,201.7 L649.7,202.8 L649.8,202.7 L650.0,204.1 L650.1,204.1 L650.2,204.6 L650.4,205.2 L650.5,206.7 L650.7,206.9 L650.8,207.6 L650.9,208.7 L651.1,209.4 L651.2,210.1 L651.4,210.5 L651.5,212.0 L651.6,212.8 L651.8,211.6 L651.9,213.2 L652.0,214.2 L652.2,214.7 L652.3,215.1 L652.4,216.0 L652.5,216.1 L652.6,217.3 L652.7,219.1 L652.8,218.4 L652.9,218.7 L653.0,220.3 L653.1,220.6 L653.2,221.9 L653.3,222.2 L653.4,222.4 L653.5,223.2 L653.6,224.9 L653.7,224.9 L653.8,225.3 L653.9,226.9 L654.0,227.7 L654.0,228.0 L654.1,228.8 L654.2,229.3 L654.3,228.8 L654.4,231.2 L654.5,231.3 L654.6,231.7 L654.6,232.9 L654.7,233.0 L654.8,233.4 L654.9,235.3 L655.0,234.8 L655.1,236.2 L655.1,236.5 L655.2,237.6 L655.3,238.0 L655.4,238.8 L655.5,239.8 L655.6,239.9 L655.7,240.9 L655.8,241.6 L655.9,242.6 L655.9,243.4 L656.0,243.5 L656.1,244.3 L656.2,243.9 L656.3,246.1 L656.4,246.6 L656.5,246.9 L656.6,248.2 L656.7,249.4 L656.8,249.6 L656.9,249.4 L657.0,250.3 L657.2,251.9 L657.3,252.3 L657.4,251.9 L657.5,253.5 L657.6,254.6 L657.7,255.0 L657.8,256.0 L657.9,255.9 L658.0,257.0 L658.1,256.9 L658.2,258.6 L658.3,259.9 L658.4,259.5 L658.5,260.5 L658.6,261.3 L658.7,261.5 L658.8,262.4 L658.9,263.0 L659.0,263.5 L659.1,264.5 L659.2,264.9 L659.3,265.9 L659.4,266.1 L659.5,267.9 L659.6,267.7 L659.7,268.5 L659.8,269.4 L659.9,269.2 L659.9,271.0 L660.0,271.6 L660.1,272.6 L660.2,273.1 L660.3,273.6 L660.3,274.3 L660.4,274.7 L660.5,276.1 L660.6,276.1 L660.6,277.5 L660.7,277.4 L660.8,278.8 L660.9,279.5 L660.9,279.6 L661.0,280.9 L661.1,281.3 L661.1,282.1 L661.2,282.8 L661.3,283.0 L661.3,283.7 L661.4,284.8 L661.5,286.0 L661.6,286.4 L661.6,286.4 L661.7,287.5 L661.8,288.7 L661.8,288.0 L661.9,289.3 L662.0,291.0 L662.0,290.9 L662.1,291.3 L662.2,292.9 L662.3,293.8 L662.3,293.1 L662.4,293.6 L662.5,295.3 L662.6,296.2 L662.6,295.9 L662.7,297.0 L662.8,298.7 L662.9,298.1 L663.0,299.6 L663.0,300.0 L663.1,301.1 L663.2,301.2 L663.3,302.0 L663.4,302.4 L663.5,303.6 L663.5,303.7 L663.6,305.3 L663.7,305.4 L663.8,306.6 L663.9,306.3 L664.0,306.8 L664.1,308.1 L664.1,307.9 L664.2,310.3 L664.3,311.1 L664.4,310.6 L664.5,312.3 L664.6,311.1 L664.7,313.3 L664.8,313.7 L664.9,314.5 L664.9,315.3 L665.0,315.6 L665.1,317.4 L665.2,317.0 L665.3,318.1 L665.4,319.2 L665.5,319.6 L665.6,319.3 L665.7,320.6 L665.8,320.9 L665.9,322.3 L666.0,322.6 L666.1,324.1 L666.2,324.1 L666.3,324.1 L666.4,324.9 L666.5,326.3 L666.5,326.7 L666.6,327.6 L666.7,327.7 L666.8,329.3 L666.9,329.9 L667.0,330.3 L667.1,330.8 L667.2,331.8 L667.3,332.0 L667.4,333.5 L667.5,333.8 L667.6,334.8 L667.7,336.0 L667.8,336.4 L667.9,337.3 L668.0,337.2 L668.1,338.5 L668.2,338.5 L668.3,339.8 L668.4,340.0 L668.5,340.3 L668.6,341.5 L668.7,342.8 L668.8,343.0 L668.9,343.3 L669.0,343.6 L669.1,344.5 L669.3,345.6 L669.4,346.2 L669.5,347.4 L669.6,347.7 L669.7,348.2 L669.8,350.2 L669.9,350.3 L670.0,350.7 L670.1,351.8 L670.2,351.7 L670.3,352.5 L670.4,352.7 L670.5,354.6 L670.6,354.3 L670.7,356.2 L670.8,355.7 L671.0,357.3 L671.1,357.1 L671.2,358.0 L671.3,358.6 L671.4,359.5 L671.5,360.6 L671.6,361.4 L671.7,362.2 L671.9,362.4 L672.0,363.0 L672.1,364.2 L672.2,365.1 L672.3,365.0 L672.4,365.7 L672.5,366.7 L672.7,367.0 L672.8,367.7 L672.9,368.8 L673.0,370.4 L673.1,370.4 L673.2,370.7 L673.4,371.0 L673.5,371.6 L673.6,373.0 L673.7,372.7 L673.8,374.2 L673.9,374.0 L674.1,375.8 L674.2,376.9 L674.3,376.9 L674.4,378.1 L674.5,378.2 L674.7,379.0 L674.8,380.1 L674.9,380.9 L675.0,380.8 L675.1,381.3 L675.2,382.5 L675.4,382.5 L675.5,383.5 L675.6,383.6 L675.7,385.1 L675.8,385.7 L676.0,386.1 L676.1,386.9 L676.2,388.2 L676.3,387.8 L676.5,390.3 L676.6,389.8 L676.7,389.8 L676.8,390.8 L677.0,391.4 L677.1,392.1 L677.2,393.9 L677.4,394.7 L677.5,394.2 L677.7,395.1 L677.8,395.9 L678.0,396.8 L678.1,398.3 L678.2,397.4 L678.4,398.8 L678.6,399.5 L678.7,399.9 L678.9,400.5 L679.0,401.8 L679.2,401.2 L679.4,402.7 L679.5,404.1 L679.7,403.7 L679.9,404.5 L680.1,405.9 L680.3,406.4 L680.5,406.9 L680.6,406.7 L680.8,409.1 L681.0,408.7 L681.2,410.1 L681.4,410.8 L681.6,411.6 L681.9,412.3 L682.1,411.9 L682.3,412.6 L682.5,413.4 L682.7,414.3 L683.0,415.2 L683.2,415.6 L683.4,416.8 L683.7,417.0 L683.9,416.7 L684.2,417.8 L684.4,418.7 L684.7,419.5 L684.9,420.6 L685.2,421.2 L685.5,422.0 L685.8,423.3 L686.1,422.0 L686.3,422.8 L686.6,423.5 L686.9,425.0 L687.2,425.2 L687.5,425.6 L687.8,426.1 L688.2,427.3 L688.5,428.2 L688.8,428.4 L689.1,429.3 L689.5,429.8 L689.8,430.3 L690.2,431.3 L690.5,431.3 L690.9,432.4 L691.3,433.3 L691.7,433.1 L692.1,434.1 L692.5,435.3 L692.9,434.6 L693.3,435.6 L693.8,436.2 L694.2,437.0 L694.6,437.0 L695.1,438.5 L695.5,439.3 L696.0,438.6 L696.4,439.3 L696.9,440.0 L697.3,441.1 L697.8,441.6 L698.3,441.5 L698.8,441.9 L699.2,442.7 L699.7,442.7 L700.2,442.9 L700.7,444.9 L701.2,445.2 L701.7,445.8 L702.3,445.9 L702.8,446.1 L703.3,446.8 L703.9,447.5 L704.4,447.6 L705.0,448.1 L705.5,447.8 L706.1,448.6 L706.7,449.0 L707.3,449.2 L708.0,449.9 L708.6,449.2 L709.3,450.4 L709.9,450.9 L710.6,450.7 L711.3,450.3 L712.0,451.1 L712.7,450.8 L713.4,451.4 L714.1,450.9 L714.8,451.6 L715.4,451.3 L716.1,451.6 L716.8,451.9 L717.5,451.2 L718.2,451.3 L718.9,451.8 L719.6,451.6 L720.3,451.6 L721.1,452.3 L721.8,451.3 L722.5,451.4 L723.2,452.5 L723.9,451.9 L724.6,451.4 L725.3,451.3 L726.0,451.5 L726.7,452.3 L727.4,451.2 L728.1,451.0 L728.8,451.3 L729.5,451.6 L730.2,451.6 L730.9,451.3 L731.6,451.7 L732.3,450.9 L733.0,451.4 L733.7,450.9 L734.4,451.0 L735.1,451.5 L735.8,451.4 L736.5,451.1 L737.2,451.4 L737.9,451.2 L738.6,451.0 L739.3,450.7 L740.0,451.2 L740.7,451.3 L741.4,451.8 L742.1,451.8 L742.8,450.6 L743.5,451.0 L744.2,451.1 L744.9,451.3 L745.6,451.7 L746.3,451.5 L747.0,451.4 L747.7,450.7 L748.4,451.0 L749.1,451.2 L749.8,451.2 L750.5,450.8 L751.2,451.2 L751.8,451.6 L752.5,450.4 L753.1,451.3 L753.7,451.3 L754.1,451.6"/><path d="M295.5,406.3 L295.7,404.8 L295.9,406.4 L296.1,407.1 L296.4,407.1 L296.6,408.1 L296.9,408.4 L297.2,409.1 L297.4,410.5 L297.7,410.6 L298.0,411.4 L298.4,411.2 L298.7,412.7 L299.1,412.1 L299.4,413.5 L299.8,414.5 L300.2,414.2 L300.6,415.5 L301.0,416.1 L301.5,416.9 L301.9,416.5 L302.4,417.5 L302.9,417.5 L303.5,418.5 L304.0,418.9 L304.6,418.2 L305.2,419.1 L305.8,421.1 L306.4,420.9 L307.0,420.7 L307.7,420.9 L308.3,422.1 L308.9,420.8 L309.6,422.0 L310.3,421.6 L310.9,422.2 L311.6,422.4 L312.2,422.8 L312.9,422.9 L313.6,423.4 L314.3,422.8 L314.9,424.0 L315.6,423.3 L316.3,424.0 L317.0,423.8 L317.7,424.7 L318.4,424.0 L319.1,423.6 L319.8,424.5 L320.5,424.7 L321.2,424.7 L321.9,424.3 L322.6,424.8 L323.2,425.0 L323.9,424.7 L324.6,424.9 L325.3,423.8 L326.0,424.3 L326.7,426.4 L327.4,424.4 L328.1,424.9 L328.8,425.6 L329.5,425.0 L330.2,424.5 L330.9,425.0 L331.6,424.6 L332.3,424.5 L333.0,424.7 L333.7,425.0 L334.4,425.7 L335.1,425.0 L335.8,424.9 L336.5,425.5 L337.2,425.0 L338.0,425.1 L338.7,424.9 L339.4,425.7 L340.1,425.5 L340.7,425.4 L341.4,424.8 L342.1,424.9 L342.8,425.0 L343.5,424.5 L344.2,424.1 L344.9,425.1 L345.6,425.2 L346.3,424.7 L347.0,425.3 L347.7,425.7 L348.4,425.6 L349.1,425.1 L349.8,425.4 L350.5,424.2 L351.2,426.1 L351.9,424.9 L352.6,425.6 L353.3,425.9 L354.0,424.9 L354.7,424.7 L355.4,426.0 L356.1,427.1 L356.8,425.9 L357.5,425.6 L358.2,426.4 L358.9,425.2 L359.6,425.9 L360.3,426.1 L361.0,426.7 L361.7,426.1 L362.4,425.7 L363.0,426.3 L363.7,426.6 L364.4,427.1 L365.0,428.6 L365.7,428.2 L366.4,427.8 L367.1,427.7 L367.8,428.3 L368.5,428.2 L369.2,427.9 L369.9,428.8 L370.6,428.5 L371.3,428.5 L372.0,428.1 L372.7,427.9 L373.4,427.4 L374.1,427.5 L374.8,427.5 L375.4,427.9 L376.1,427.4 L376.8,427.3 L377.5,426.7 L378.1,426.3 L378.8,427.2 L379.5,426.6 L380.1,425.7 L380.8,425.4 L381.4,425.8 L382.0,425.6 L382.6,425.7 L383.3,424.5 L383.9,424.3 L384.5,424.5 L385.1,423.3 L385.7,422.8 L386.4,422.6 L387.0,422.6 L387.6,422.5 L388.2,421.6 L388.8,421.4 L389.4,421.2 L390.1,420.5 L390.7,420.3 L391.3,420.9 L391.9,420.2 L392.6,419.7 L393.2,419.7 L393.9,419.1 L394.5,419.0 L395.2,419.9 L395.8,418.9 L396.5,418.3 L397.1,418.5 L397.8,418.5 L398.5,417.1 L399.2,417.1 L399.8,417.4 L400.5,417.1 L401.2,417.1 L401.9,416.5 L402.6,417.2 L403.3,416.4 L404.0,416.2 L404.7,416.4 L405.4,417.3 L406.1,416.0 L406.7,416.4 L407.4,416.2 L408.1,415.6 L408.8,415.6 L409.5,414.9 L410.2,415.5 L410.9,414.6 L411.6,416.0 L412.2,415.1 L412.9,414.4 L413.6,414.8 L414.3,413.9 L415.0,414.9 L415.7,413.9 L416.4,414.0 L417.1,414.2 L417.8,414.2 L418.4,414.0 L419.1,413.5 L419.8,413.6 L420.5,412.8 L421.2,412.7 L421.9,413.5 L422.6,412.8 L423.3,412.9 L424.0,413.2 L424.7,412.3 L425.4,412.4 L426.1,412.9 L426.8,413.2 L427.5,412.8 L428.2,413.4 L428.9,412.8 L429.6,412.8 L430.3,413.2 L431.0,413.1 L431.7,413.1 L432.4,413.1 L433.1,413.1 L433.8,412.9 L434.5,412.5 L435.2,413.5 L435.9,412.2 L436.6,412.7 L437.3,412.7 L438.0,412.4 L438.7,413.7 L439.4,412.9 L440.1,413.3 L440.8,412.4 L441.5,412.9 L442.1,412.0 L442.8,412.7 L443.5,412.9 L444.2,411.6 L444.9,412.4 L445.6,411.8 L446.2,412.1 L446.9,411.3 L447.6,411.2 L448.3,411.0 L449.0,410.6 L449.6,410.7 L450.3,409.9 L451.0,410.0 L451.7,409.4 L452.3,410.1 L453.0,409.9 L453.7,409.1 L454.4,410.1 L455.0,408.5 L455.7,408.5 L456.4,408.8 L457.0,407.9 L457.7,407.1 L458.4,408.0 L459.1,408.7 L459.8,408.3 L460.5,407.6 L461.2,408.0 L461.8,407.6 L462.5,407.3 L463.2,406.6 L463.9,407.2 L464.6,406.8 L465.3,407.4 L466.0,407.0 L466.7,408.0 L467.4,407.3 L468.1,408.5 L468.8,407.1 L469.5,407.1 L470.2,407.1 L471.0,407.6 L471.7,406.4 L472.4,407.8 L473.1,407.5 L473.8,406.3 L474.5,408.5 L475.2,407.0 L475.9,407.0 L476.6,407.3 L477.3,407.5 L478.0,407.0 L478.7,407.3 L479.4,407.2 L480.0,406.9 L480.7,407.6 L481.4,407.9 L482.1,407.3 L482.8,407.4 L483.5,408.0 L484.2,408.6 L484.9,408.3 L485.6,408.2 L486.2,408.3 L486.9,408.4 L487.6,408.2 L488.3,409.2 L489.0,409.2 L489.7,407.7 L490.4,407.8 L491.1,408.0 L491.8,407.1 L492.5,407.9 L493.2,407.8 L493.8,407.5 L494.5,407.1 L495.2,407.2 L495.8,406.9 L496.4,406.0 L497.1,406.3 L497.7,406.5 L498.3,405.5 L498.9,406.0 L499.6,405.8 L500.2,404.8 L500.8,404.8 L501.5,404.7 L502.1,404.4 L502.8,403.9 L503.5,403.5 L504.1,403.3 L504.8,403.6 L505.5,401.7 L506.1,402.4 L506.8,403.0 L507.4,402.3 L508.1,402.5 L508.7,402.0 L509.4,401.8 L510.0,401.4 L510.6,401.1 L511.2,400.4 L511.9,400.4 L512.5,400.1 L513.1,399.3 L513.7,399.4 L514.3,398.7 L514.9,398.0 L515.5,398.1 L516.1,397.2 L516.7,397.9 L517.3,397.1 L517.9,396.6 L518.5,396.8 L519.1,396.1 L519.7,395.3 L520.3,394.6 L520.9,395.0 L521.5,394.8 L522.0,393.5 L522.6,393.3 L523.2,392.7 L523.8,392.9 L524.4,393.2 L525.0,391.8 L525.5,392.5 L526.1,391.2 L526.7,390.7 L527.2,390.2 L527.8,390.0 L528.3,389.2 L528.9,389.8 L529.5,388.8 L530.0,388.0 L530.6,388.0 L531.1,387.1 L531.6,386.8 L532.2,387.3 L532.7,385.8 L533.2,385.4 L533.8,385.1 L534.3,385.0 L534.8,383.8 L535.3,384.0 L535.9,384.2 L536.4,382.5 L536.9,382.6 L537.4,381.1 L537.9,381.8 L538.4,380.8 L538.8,380.4 L539.3,380.3 L539.8,378.6 L540.3,378.0 L540.7,378.3 L541.2,377.7 L541.6,377.5 L542.1,377.5 L542.5,376.2 L542.9,375.9 L543.3,375.0 L543.8,374.7 L544.2,373.7 L544.6,372.7 L544.9,373.0 L545.3,372.5 L545.7,371.4 L546.1,370.9 L546.4,370.9 L546.8,369.8 L547.2,368.9 L547.5,368.2 L547.9,367.1 L548.2,367.5 L548.5,366.5 L548.9,366.6 L549.2,365.7 L549.5,364.6 L549.9,364.3 L550.2,363.4 L550.5,363.2 L550.8,362.3 L551.1,362.5 L551.4,360.4 L551.7,360.3 L552.0,359.1 L552.3,360.0 L552.6,358.2 L552.9,357.6 L553.2,357.9 L553.5,356.5 L553.7,355.5 L554.0,354.9 L554.3,353.9 L554.6,354.5 L554.9,353.3 L555.2,352.9 L555.4,352.5 L555.7,351.0 L556.0,351.3 L556.3,349.8 L556.6,349.7 L556.9,348.6 L557.2,348.3 L557.5,346.8 L557.8,347.1 L558.1,346.5 L558.4,345.2 L558.7,344.4 L559.0,344.8 L559.3,344.7 L559.6,342.6 L559.9,343.3 L560.2,341.7 L560.5,341.8 L560.7,340.8 L561.0,340.2 L561.3,338.9 L561.5,338.9 L561.8,338.4 L562.0,337.9 L562.3,336.4 L562.5,336.7 L562.8,336.0 L563.0,334.9 L563.3,334.8 L563.5,334.3 L563.8,332.2 L564.1,332.3 L564.4,331.4 L564.6,331.2 L564.9,330.2 L565.2,329.7 L565.6,329.3 L565.9,328.3 L566.2,326.8 L566.5,327.5 L566.9,327.0 L567.2,326.7 L567.5,325.4 L567.9,325.3 L568.2,323.8 L568.5,323.4 L568.9,322.7 L569.2,321.6 L569.5,322.6 L569.9,321.8 L570.2,319.7 L570.5,319.2 L570.8,319.3 L571.1,319.5 L571.4,317.9 L571.7,317.2 L572.0,316.0 L572.3,315.5 L572.7,315.7 L573.0,314.7 L573.3,314.0 L573.6,313.3 L573.9,312.3 L574.2,313.1 L574.5,311.5 L574.9,311.5 L575.2,310.3 L575.5,309.4 L575.8,308.5 L576.2,308.6 L576.5,308.1 L576.8,307.6 L577.2,306.9 L577.5,306.3 L577.9,306.3 L578.2,305.5 L578.5,304.4 L578.9,302.8 L579.2,303.3 L579.6,303.0 L579.9,301.7 L580.2,301.1 L580.6,300.0 L580.9,300.8 L581.2,298.7 L581.6,298.7 L581.9,297.8 L582.2,297.8 L582.5,297.1 L582.9,296.0 L583.2,295.3 L583.5,295.2 L583.9,294.0 L584.2,293.8 L584.6,293.4 L584.9,292.5 L585.3,291.5 L585.6,292.1 L586.0,290.6 L586.3,290.8 L586.7,289.4 L587.1,289.7 L587.5,287.6 L587.9,286.6 L588.3,287.6 L588.7,286.0 L589.1,286.5 L589.5,285.8 L589.9,284.3 L590.3,284.8 L590.7,283.4 L591.1,283.5 L591.5,281.4 L592.0,282.3 L592.4,281.8 L592.8,281.1 L593.2,280.3 L593.7,279.6 L594.1,279.7 L594.5,279.2 L595.0,278.5 L595.4,277.3 L595.9,277.5 L596.3,276.2 L596.7,275.6 L597.1,274.9 L597.5,274.5 L597.8,273.9 L598.2,273.6 L598.5,273.1 L598.9,272.2 L599.2,271.9 L599.6,270.8 L599.9,271.0 L600.3,269.6 L600.6,269.2 L600.9,269.3 L601.2,269.0 L601.6,268.2 L601.9,268.1 L602.2,265.1 L602.5,265.4 L602.8,265.5 L603.1,264.2 L603.4,263.9 L603.7,263.5 L604.0,263.0 L604.3,262.2 L604.6,261.5 L604.9,261.2 L605.2,259.1 L605.5,259.6 L605.7,258.4 L606.0,258.4 L606.3,257.5 L606.6,257.1 L606.8,256.6 L607.1,255.6 L607.4,255.0 L607.7,254.3 L607.9,253.5 L608.2,252.1 L608.4,251.6 L608.7,251.8 L608.9,250.9 L609.2,251.3 L609.4,248.9 L609.7,249.0 L609.9,248.4 L610.1,248.0 L610.4,246.7 L610.6,246.2 L610.8,246.0 L611.0,244.8 L611.3,245.1 L611.5,243.2 L611.7,242.5 L611.9,242.5 L612.2,242.0 L612.4,241.8 L612.6,240.4 L612.8,239.6 L613.1,238.7 L613.3,237.5 L613.5,238.1 L613.7,236.6 L613.9,235.8 L614.2,235.8 L614.4,235.3 L614.6,234.0 L614.8,233.7 L615.0,233.8 L615.2,232.2 L615.5,232.0 L615.7,231.4 L615.9,231.0 L616.1,229.6 L616.3,229.0 L616.5,227.8 L616.7,227.9 L616.9,227.1 L617.1,226.6 L617.3,226.0 L617.5,224.8 L617.7,224.7 L617.9,224.5 L618.1,223.0 L618.3,222.2 L618.6,221.2 L618.8,220.7 L619.0,219.9 L619.2,219.7 L619.4,219.2 L619.6,218.3 L619.8,218.2 L620.0,217.2 L620.2,216.3 L620.4,216.0 L620.6,214.6 L620.8,215.1 L621.0,213.3 L621.2,212.6 L621.4,212.4 L621.6,210.3 L621.8,210.2 L622.0,210.3 L622.2,210.3 L622.4,209.2 L622.6,208.0 L622.8,207.5 L623.0,206.7 L623.2,206.7 L623.4,205.3 L623.6,205.7 L623.8,204.4 L624.0,204.1 L624.2,203.7 L624.4,202.7 L624.6,201.4 L624.9,200.6 L625.1,199.6 L625.3,199.2 L625.5,198.7 L625.7,198.0 L625.9,196.7 L626.1,197.1 L626.3,196.2 L626.5,195.7 L626.7,194.7 L626.9,194.0 L627.1,193.3 L627.3,193.3 L627.5,192.5 L627.7,191.0 L627.9,189.6 L628.1,190.5 L628.3,190.3 L628.5,189.2 L628.7,188.4 L628.8,186.6 L629.0,186.1 L629.2,186.5 L629.4,185.2 L629.6,185.7 L629.8,184.0 L630.0,184.1 L630.2,183.9 L630.4,182.0 L630.6,182.2 L630.8,181.4 L631.0,179.7 L631.2,180.0 L631.4,178.7 L631.7,177.9 L631.9,177.0 L632.1,176.4 L632.4,175.2 L632.6,175.2 L632.9,174.2 L633.2,174.7 L633.5,174.0 L633.8,173.2 L634.1,172.0 L634.4,171.3 L634.8,171.3 L635.2,170.3 L635.7,169.3 L636.2,169.6 L636.7,169.4 L637.2,169.0 L637.8,168.8 L638.4,168.5 L638.9,168.6 L639.5,169.1 L640.1,169.5 L640.6,169.0 L641.1,170.1 L641.5,170.2 L642.0,170.2 L642.4,172.2 L642.7,172.2 L643.1,173.2 L643.4,173.3 L643.7,174.6 L644.0,175.8 L644.2,175.0 L644.4,176.5 L644.6,177.0 L644.8,176.8 L645.0,178.1 L645.1,179.5 L645.3,179.3 L645.4,180.3 L645.6,181.6 L645.7,181.7 L645.8,182.1 L645.9,183.8 L646.0,184.1 L646.2,184.2 L646.3,185.7 L646.4,185.9 L646.5,186.9 L646.6,186.9 L646.7,188.3 L646.8,189.3 L646.9,189.7 L647.0,190.2 L647.2,190.7 L647.3,191.1 L647.4,192.9 L647.5,192.9 L647.7,194.2 L647.8,194.3 L648.0,194.1 L648.1,196.2 L648.2,196.7 L648.4,196.8 L648.5,197.5 L648.7,198.0 L648.8,199.1 L648.9,199.3 L649.1,200.1 L649.2,200.6 L649.4,202.5 L649.5,201.6 L649.7,204.0 L649.8,204.1 L650.0,205.1 L650.1,205.6 L650.2,206.4 L650.4,206.6 L650.5,207.2 L650.7,208.0 L650.8,208.2 L650.9,209.1 L651.1,210.0 L651.2,210.6 L651.4,211.8 L651.5,211.6 L651.6,213.2 L651.8,213.5 L651.9,213.4 L652.0,215.0 L652.2,215.2 L652.3,216.4 L652.4,216.6 L652.5,217.7 L652.6,218.0 L652.7,218.8 L652.8,219.5 L652.9,220.0 L653.0,221.3 L653.1,221.5 L653.2,222.0 L653.3,223.3 L653.4,223.4 L653.5,224.1 L653.6,224.7 L653.7,225.8 L653.8,227.2 L653.9,226.9 L654.0,228.5 L654.0,228.9 L654.1,229.0 L654.2,230.3 L654.3,231.2 L654.4,230.5 L654.5,232.4 L654.6,234.0 L654.6,233.7 L654.7,234.3 L654.8,234.8 L654.9,235.5 L655.0,236.1 L655.1,237.0 L655.1,238.0 L655.2,238.7 L655.3,239.9 L655.4,239.4 L655.5,240.4 L655.6,241.1 L655.7,241.9 L655.8,242.6 L655.9,242.6 L655.9,244.9 L656.0,244.6 L656.1,244.3 L656.2,246.0 L656.3,246.3 L656.4,248.1 L656.5,249.2 L656.6,248.9 L656.7,249.1 L656.8,250.1 L656.9,251.1 L657.0,251.4 L657.2,252.4 L657.3,252.7 L657.4,253.8 L657.5,254.1 L657.6,255.3 L657.7,255.1 L657.8,256.2 L657.9,257.5 L658.0,258.7 L658.1,258.5 L658.2,259.3 L658.3,259.7 L658.4,260.6 L658.5,261.2 L658.6,261.9 L658.7,261.9 L658.8,263.0 L658.9,263.9 L659.0,264.5 L659.1,264.8 L659.2,265.1 L659.3,267.3 L659.4,267.5 L659.5,268.4 L659.6,269.1 L659.7,268.6 L659.8,270.4 L659.9,271.1 L659.9,271.2 L660.0,271.7 L660.1,272.2 L660.2,274.3 L660.3,274.4 L660.3,274.4 L660.4,275.8 L660.5,276.4 L660.6,276.9 L660.6,277.2 L660.7,279.5 L660.8,279.2 L660.9,279.9 L660.9,280.7 L661.0,280.2 L661.1,281.6 L661.1,282.6 L661.2,283.9 L661.3,283.4 L661.3,285.3 L661.4,285.3 L661.5,285.5 L661.6,287.3 L661.6,287.3 L661.7,288.2 L661.8,288.6 L661.8,289.7 L661.9,290.5 L662.0,290.3 L662.0,291.6 L662.1,292.4 L662.2,292.5 L662.3,293.6 L662.3,294.4 L662.4,295.7 L662.5,295.7 L662.6,296.3 L662.6,297.3 L662.7,298.3 L662.8,299.0 L662.9,299.4 L663.0,300.5 L663.0,300.7 L663.1,301.5 L663.2,302.1 L663.3,303.2 L663.4,304.5 L663.5,304.5 L663.5,305.5 L663.6,305.8 L663.7,306.9 L663.8,307.4 L663.9,308.8 L664.0,308.3 L664.1,309.1 L664.1,310.9 L664.2,310.5 L664.3,311.2 L664.4,311.9 L664.5,313.0 L664.6,313.4 L664.7,314.1 L664.8,314.7 L664.9,315.5 L664.9,316.8 L665.0,316.5 L665.1,317.2 L665.2,318.0 L665.3,319.3 L665.4,319.7 L665.5,320.1 L665.6,321.6 L665.7,322.6 L665.8,322.9 L665.9,323.2 L666.0,323.7 L666.1,324.0 L666.2,325.0 L666.3,325.9 L666.4,327.2 L666.5,327.0 L666.5,328.2 L666.6,328.2 L666.7,328.7 L666.8,329.6 L666.9,330.2 L667.0,330.9 L667.1,331.9 L667.2,333.2 L667.3,333.5 L667.4,334.0 L667.5,334.8 L667.6,336.2 L667.7,335.5 L667.8,337.1 L667.9,337.2 L668.0,338.9 L668.1,338.9 L668.2,339.9 L668.3,339.4 L668.4,341.4 L668.5,341.6 L668.6,341.8 L668.7,343.3 L668.8,343.8 L668.9,344.3 L669.0,344.5 L669.1,345.7 L669.3,346.7 L669.4,347.0 L669.5,348.9 L669.6,348.6 L669.7,349.4 L669.8,350.1 L669.9,350.5 L670.0,351.3 L670.1,352.5 L670.2,352.6 L670.3,353.7 L670.4,354.0 L670.5,354.3 L670.6,355.8 L670.7,356.0 L670.8,357.2 L671.0,358.2 L671.1,358.0 L671.2,359.4 L671.3,359.9 L671.4,360.1 L671.5,361.6 L671.6,361.9 L671.7,362.6 L671.9,363.0 L672.0,363.1 L672.1,364.4 L672.2,366.1 L672.3,366.3 L672.4,366.6 L672.5,367.0 L672.7,367.6 L672.8,368.9 L672.9,370.1 L673.0,370.5 L673.1,371.1 L673.2,371.8 L673.4,371.8 L673.5,372.4 L673.6,374.4 L673.7,374.4 L673.8,374.9 L673.9,375.8 L674.1,376.7 L674.2,377.4 L674.3,377.8 L674.4,378.8 L674.5,379.6 L674.7,380.7 L674.8,381.0 L674.9,381.5 L675.0,382.2 L675.1,382.9 L675.2,383.3 L675.4,383.6 L675.5,384.9 L675.6,385.3 L675.7,385.8 L675.8,386.6 L676.0,387.2 L676.1,388.7 L676.2,389.2 L676.3,389.2 L676.5,390.4 L676.6,390.9 L676.7,391.5 L676.8,392.6 L677.0,393.6 L677.1,392.9 L677.2,394.8 L677.4,394.9 L677.5,395.0 L677.7,396.7 L677.8,397.3 L678.0,397.3 L678.1,398.6 L678.2,399.5 L678.4,400.4 L678.6,400.5 L678.7,400.9 L678.9,401.2 L679.0,403.0 L679.2,403.0 L679.4,403.7 L679.5,404.5 L679.7,404.0 L679.9,406.3 L680.1,406.6 L680.3,406.8 L680.5,408.3 L680.6,408.6 L680.8,409.7 L681.0,409.2 L681.2,410.0 L681.4,411.5 L681.6,411.6 L681.9,412.7 L682.1,412.5 L682.3,414.5 L682.5,414.1 L682.7,416.0 L683.0,416.8 L683.2,416.4 L683.4,417.1 L683.7,417.8 L683.9,418.5 L684.2,419.5 L684.4,420.2 L684.7,420.5 L684.9,421.8 L685.2,421.5 L685.5,422.0 L685.8,423.5 L686.1,423.4 L686.3,424.2 L686.6,424.4 L686.9,425.8 L687.2,426.1 L687.5,427.2 L687.8,428.0 L688.2,428.4 L688.5,428.4 L688.8,428.6 L689.1,430.4 L689.5,430.2 L689.8,431.0 L690.2,432.0 L690.5,432.8 L690.9,432.9 L691.3,432.9 L691.7,434.5 L692.1,435.6 L692.5,435.2 L692.9,435.5 L693.3,437.6 L693.8,436.7 L694.2,437.0 L694.6,437.9 L695.1,439.4 L695.5,439.9 L696.0,438.3 L696.4,439.9 L696.9,440.7 L697.3,441.7 L697.8,441.3 L698.3,441.8 L698.8,443.9 L699.2,443.9 L699.7,444.9 L700.2,444.6 L700.7,445.0 L701.2,444.9 L701.7,445.6 L702.3,447.2 L702.8,447.9 L703.3,446.7 L703.9,447.1 L704.4,448.7 L705.0,448.6 L705.5,449.4 L706.1,449.0 L706.7,449.4 L707.3,450.6 L708.0,450.6 L708.6,450.2 L709.3,451.4 L709.9,451.4 L710.6,450.8 L711.3,451.4 L712.0,451.2 L712.7,451.7 L713.4,452.3 L714.1,451.5 L714.8,451.4 L715.4,452.3 L716.1,452.8 L716.8,452.9 L717.5,451.7 L718.2,451.7 L718.9,451.7 L719.6,452.2 L720.3,451.8 L721.1,452.1 L721.8,452.7 L722.5,453.2 L723.2,451.9 L723.9,452.7 L724.6,452.5 L725.3,451.8 L726.0,451.7 L726.7,451.9 L727.4,452.2 L728.1,452.1 L728.8,451.9 L729.5,451.8 L730.2,452.5 L730.9,452.9 L731.6,452.2 L732.3,452.1 L733.0,452.6 L733.7,452.0 L734.4,452.7 L735.1,452.9 L735.8,453.0 L736.5,452.1 L737.2,452.4 L737.9,452.5 L738.6,452.2 L739.3,452.4 L740.0,452.7 L740.7,452.8 L741.4,451.4 L742.1,453.1 L742.8,452.4 L743.5,452.7 L744.2,451.5 L744.9,451.9 L745.6,452.7 L746.3,451.7 L747.0,453.1 L747.7,451.2 L748.4,452.0 L749.1,452.2 L749.8,451.1 L750.5,451.3 L751.2,452.1 L751.8,452.3 L752.5,452.0 L753.1,452.2 L753.7,452.2 L754.1,452.2"/></g>
<g stroke="#DD0806" stroke-width="3.8" fill="none" stroke-linejoin="round" stroke-linecap="butt"><path d="M295.5,406.8 L295.7,408.4 L295.9,408.1 L296.1,408.3 L296.4,408.3 L296.6,409.9 L296.9,410.0 L297.1,411.1 L297.4,411.4 L297.7,411.9 L298.0,413.0 L298.4,413.0 L298.7,413.5 L299.0,414.9 L299.4,415.5 L299.8,416.4 L300.1,415.7 L300.5,417.5 L300.9,417.0 L301.3,418.1 L301.8,419.2 L302.2,418.9 L302.7,419.1 L303.1,420.5 L303.6,420.8 L304.2,421.0 L304.7,421.9 L305.2,422.2 L305.8,422.8 L306.3,422.9 L306.9,423.7 L307.5,424.1 L308.1,423.2 L308.7,423.9 L309.4,425.3 L310.0,425.2 L310.7,425.2 L311.3,425.9 L312.0,425.0 L312.7,425.5 L313.3,425.4 L314.0,426.4 L314.7,426.4 L315.4,426.1 L316.1,426.7 L316.8,426.6 L317.5,427.1 L318.2,427.2 L318.9,426.9 L319.5,427.6 L320.2,427.0 L320.9,427.6 L321.6,427.5 L322.3,427.8 L323.0,428.6 L323.7,428.7 L324.4,427.8 L325.1,428.7 L325.8,427.6 L326.5,428.8 L327.2,428.1 L327.9,428.6 L328.6,428.4 L329.3,428.3 L330.0,428.7 L330.7,427.8 L331.4,428.4 L332.1,429.1 L332.8,428.5 L333.5,428.6 L334.2,428.6 L334.9,429.2 L335.6,429.0 L336.3,430.0 L337.0,429.2 L337.7,428.7 L338.4,430.1 L339.1,430.0 L339.7,429.3 L340.4,429.3 L341.1,428.9 L341.8,428.6 L342.5,430.3 L343.2,430.2 L343.9,429.9 L344.6,429.2 L345.3,430.0 L346.0,430.4 L346.7,430.0 L347.4,430.4 L348.1,430.1 L348.8,430.1 L349.5,430.6 L350.2,431.0 L350.9,430.3 L351.6,430.9 L352.3,430.7 L353.0,431.1 L353.7,430.3 L354.4,430.7 L355.1,431.0 L355.8,430.6 L356.5,430.9 L357.2,429.8 L357.9,431.0 L358.6,431.2 L359.3,431.0 L360.0,431.0 L360.7,432.0 L361.4,431.6 L362.1,432.0 L362.8,431.1 L363.4,431.4 L364.1,431.3 L364.8,431.7 L365.5,431.5 L366.2,431.9 L366.9,432.4 L367.6,432.0 L368.3,432.6 L369.0,432.5 L369.7,433.2 L370.4,432.9 L371.1,432.6 L371.8,432.9 L372.5,432.8 L373.2,433.0 L373.9,432.6 L374.6,432.2 L375.2,433.1 L375.9,432.7 L376.6,432.2 L377.3,431.9 L378.0,431.3 L378.7,432.0 L379.4,432.0 L380.0,430.9 L380.7,430.7 L381.3,431.0 L382.0,430.9 L382.6,431.3 L383.3,430.3 L383.9,430.2 L384.5,429.3 L385.1,428.4 L385.8,427.8 L386.4,428.4 L387.0,428.9 L387.6,427.9 L388.2,427.7 L388.8,427.4 L389.4,427.7 L390.1,426.7 L390.7,425.7 L391.3,425.4 L391.9,425.0 L392.5,424.6 L393.1,425.2 L393.7,424.3 L394.3,424.3 L395.0,424.2 L395.6,423.4 L396.2,423.8 L396.9,422.6 L397.5,422.9 L398.1,422.2 L398.8,422.8 L399.4,421.2 L400.1,421.8 L400.7,422.4 L401.4,420.5 L402.0,421.2 L402.7,420.7 L403.4,420.4 L404.0,420.6 L404.7,419.5 L405.3,419.6 L406.0,419.4 L406.7,418.9 L407.3,418.6 L408.0,418.5 L408.7,418.4 L409.4,418.6 L410.0,418.0 L410.7,417.9 L411.4,418.8 L412.0,417.4 L412.7,417.7 L413.4,417.3 L414.1,417.5 L414.7,416.9 L415.4,416.5 L416.1,416.0 L416.7,416.6 L417.4,415.3 L418.1,415.3 L418.8,416.1 L419.4,414.9 L420.1,415.4 L420.8,415.3 L421.4,415.8 L422.1,415.3 L422.8,414.7 L423.5,414.2 L424.1,414.1 L424.8,413.6 L425.5,413.7 L426.1,413.1 L426.8,413.0 L427.5,413.1 L428.1,412.7 L428.8,412.9 L429.5,412.2 L430.2,412.7 L430.8,411.8 L431.5,412.4 L432.2,412.1 L432.9,411.4 L433.6,411.4 L434.3,411.4 L434.9,410.7 L435.6,411.4 L436.3,410.2 L437.0,411.1 L437.7,411.1 L438.4,410.8 L439.0,410.7 L439.7,409.7 L440.4,409.4 L441.1,409.1 L441.8,409.2 L442.4,409.4 L443.1,409.4 L443.8,409.3 L444.4,409.0 L445.1,407.8 L445.8,407.9 L446.4,408.3 L447.1,407.8 L447.8,408.0 L448.5,407.2 L449.1,407.4 L449.8,407.3 L450.5,407.0 L451.1,406.7 L451.8,406.3 L452.5,406.5 L453.1,406.4 L453.8,405.8 L454.5,406.7 L455.1,405.4 L455.8,405.5 L456.5,404.3 L457.1,404.5 L457.8,404.5 L458.5,404.7 L459.2,404.2 L459.9,404.8 L460.5,404.5 L461.2,404.6 L461.9,404.2 L462.6,404.5 L463.3,403.9 L464.0,404.1 L464.7,403.0 L465.4,403.6 L466.1,403.8 L466.8,403.3 L467.5,402.8 L468.2,404.1 L468.9,403.1 L469.6,403.2 L470.3,403.7 L471.0,403.8 L471.7,403.6 L472.4,403.5 L473.1,403.7 L473.8,404.2 L474.5,404.3 L475.2,403.3 L475.9,404.0 L476.6,403.4 L477.3,403.8 L478.0,403.6 L478.7,403.5 L479.4,404.1 L480.1,404.1 L480.8,404.0 L481.5,404.0 L482.1,403.7 L482.8,403.8 L483.5,405.6 L484.2,404.2 L484.9,405.7 L485.5,405.1 L486.2,405.0 L486.9,406.4 L487.6,405.8 L488.3,405.9 L489.0,406.2 L489.7,405.4 L490.3,404.9 L491.0,405.9 L491.7,405.4 L492.4,405.0 L493.1,405.1 L493.8,404.6 L494.5,404.8 L495.2,404.3 L495.8,404.0 L496.5,404.5 L497.1,403.8 L497.7,403.5 L498.4,402.9 L499.0,403.0 L499.7,402.7 L500.3,402.5 L501.0,401.5 L501.6,402.2 L502.3,401.4 L503.0,402.2 L503.7,401.3 L504.3,400.7 L505.0,401.2 L505.7,400.7 L506.4,400.6 L507.0,399.9 L507.7,399.6 L508.3,400.1 L509.0,399.8 L509.6,399.2 L510.3,399.2 L510.9,399.0 L511.5,398.2 L512.1,398.7 L512.7,397.8 L513.3,396.7 L513.9,397.8 L514.5,397.0 L515.1,396.5 L515.7,396.3 L516.3,396.1 L516.9,394.2 L517.5,394.6 L518.1,394.7 L518.7,394.4 L519.3,394.0 L519.9,392.2 L520.5,392.4 L521.1,392.2 L521.7,391.6 L522.3,392.3 L522.9,391.6 L523.4,390.8 L524.0,391.3 L524.6,390.3 L525.2,389.3 L525.7,390.0 L526.3,388.9 L526.9,388.6 L527.4,388.6 L528.0,387.9 L528.6,387.0 L529.1,387.1 L529.7,386.0 L530.2,385.6 L530.8,385.1 L531.3,385.8 L531.8,384.1 L532.4,384.9 L532.9,384.2 L533.4,383.9 L534.0,382.7 L534.5,382.9 L535.0,382.8 L535.5,380.6 L536.0,380.8 L536.5,381.4 L537.0,380.3 L537.5,378.9 L538.0,379.0 L538.5,378.4 L539.0,378.2 L539.5,378.2 L539.9,377.3 L540.4,376.9 L540.9,375.7 L541.3,375.7 L541.8,373.9 L542.2,374.0 L542.6,374.3 L543.0,373.5 L543.4,372.2 L543.9,372.7 L544.2,371.8 L544.6,371.6 L545.0,369.9 L545.4,370.7 L545.8,368.8 L546.1,369.1 L546.5,366.9 L546.9,366.8 L547.2,367.6 L547.6,366.0 L547.9,366.5 L548.2,365.0 L548.6,364.3 L548.9,364.0 L549.2,363.8 L549.6,362.6 L549.9,362.0 L550.2,361.3 L550.5,360.5 L550.8,359.8 L551.1,359.8 L551.4,358.0 L551.7,357.7 L552.0,357.1 L552.3,356.5 L552.6,355.5 L552.9,355.5 L553.2,354.6 L553.5,354.6 L553.7,353.7 L554.0,353.0 L554.3,352.3 L554.6,352.0 L554.9,350.7 L555.2,350.7 L555.4,349.0 L555.7,349.6 L556.0,348.1 L556.3,348.5 L556.6,347.8 L556.9,347.4 L557.2,346.1 L557.5,345.0 L557.8,344.1 L558.1,344.1 L558.5,342.5 L558.7,343.0 L559.0,342.2 L559.3,341.9 L559.6,341.8 L559.9,340.3 L560.2,339.8 L560.5,339.3 L560.7,338.8 L561.0,337.7 L561.3,337.2 L561.5,335.3 L561.8,335.7 L562.0,335.1 L562.3,334.6 L562.5,334.3 L562.8,332.6 L563.0,332.1 L563.3,332.4 L563.6,331.0 L563.8,330.9 L564.1,330.3 L564.4,329.0 L564.7,328.4 L565.0,327.8 L565.3,327.4 L565.6,327.2 L566.0,327.0 L566.3,325.2 L566.6,324.7 L567.0,324.0 L567.3,323.1 L567.7,321.6 L568.0,322.5 L568.3,321.0 L568.7,320.1 L569.0,320.4 L569.3,319.8 L569.6,319.1 L570.0,318.8 L570.3,318.0 L570.6,318.1 L570.9,316.9 L571.2,316.1 L571.5,315.9 L571.8,315.8 L572.1,313.9 L572.4,313.7 L572.8,312.9 L573.1,313.1 L573.4,312.3 L573.7,311.6 L574.0,310.6 L574.3,309.2 L574.7,309.8 L575.0,308.4 L575.3,307.5 L575.7,307.7 L576.0,306.5 L576.3,306.6 L576.7,306.5 L577.0,305.0 L577.3,303.9 L577.7,303.4 L578.0,303.5 L578.4,302.9 L578.7,301.6 L579.0,300.7 L579.4,300.9 L579.7,300.0 L580.1,298.6 L580.4,299.0 L580.7,298.9 L581.1,297.5 L581.4,296.5 L581.7,296.6 L582.0,295.2 L582.4,295.3 L582.7,294.5 L583.0,293.6 L583.4,293.1 L583.7,292.3 L584.1,292.2 L584.4,291.6 L584.7,290.8 L585.1,290.2 L585.5,289.7 L585.8,289.1 L586.2,288.4 L586.6,287.8 L587.0,287.1 L587.4,286.1 L587.8,286.1 L588.1,285.6 L588.5,285.1 L589.0,285.1 L589.4,283.6 L589.8,283.9 L590.2,282.7 L590.6,282.0 L591.0,282.0 L591.4,280.9 L591.8,280.2 L592.3,279.8 L592.7,279.4 L593.1,278.5 L593.6,278.3 L594.0,277.1 L594.5,277.0 L594.9,277.1 L595.3,276.0 L595.8,275.6 L596.2,275.0 L596.6,273.6 L597.0,273.9 L597.4,273.5 L597.7,272.9 L598.1,272.1 L598.4,271.0 L598.8,270.9 L599.1,270.2 L599.5,269.3 L599.8,269.6 L600.1,269.4 L600.5,268.0 L600.8,267.6 L601.1,266.3 L601.4,266.3 L601.8,265.7 L602.1,265.0 L602.4,264.5 L602.7,265.1 L603.0,263.5 L603.3,262.3 L603.6,261.1 L603.9,261.0 L604.2,260.3 L604.5,259.4 L604.8,259.5 L605.1,258.6 L605.4,256.7 L605.6,257.2 L605.9,256.7 L606.2,255.7 L606.5,255.5 L606.7,254.4 L607.0,254.1 L607.3,252.7 L607.5,252.1 L607.8,252.0 L608.1,251.1 L608.3,250.6 L608.6,249.8 L608.8,249.8 L609.1,248.7 L609.3,247.9 L609.5,247.9 L609.8,246.6 L610.0,246.3 L610.2,245.1 L610.5,244.7 L610.7,244.4 L610.9,243.8 L611.2,243.2 L611.4,241.8 L611.6,241.4 L611.8,240.6 L612.1,239.4 L612.3,239.7 L612.5,239.3 L612.7,238.1 L613.0,238.2 L613.2,237.3 L613.4,236.3 L613.6,235.7 L613.8,234.5 L614.1,233.6 L614.3,233.4 L614.5,232.9 L614.7,232.0 L614.9,230.6 L615.1,231.3 L615.4,230.5 L615.6,229.4 L615.8,229.3 L616.0,227.8 L616.2,226.7 L616.4,226.1 L616.6,226.3 L616.8,225.8 L617.0,224.4 L617.2,224.2 L617.4,223.6 L617.6,223.3 L617.8,221.9 L618.0,221.6 L618.2,221.5 L618.5,219.8 L618.7,219.7 L618.9,218.7 L619.1,218.2 L619.3,217.0 L619.5,216.6 L619.7,216.2 L619.9,215.2 L620.1,214.3 L620.3,214.6 L620.5,212.5 L620.7,213.2 L620.9,212.0 L621.1,211.5 L621.3,210.0 L621.5,210.1 L621.7,209.0 L621.9,208.2 L622.1,207.4 L622.3,208.0 L622.5,206.9 L622.7,205.7 L622.9,205.6 L623.1,204.9 L623.3,203.7 L623.5,203.5 L623.7,202.6 L623.9,202.0 L624.2,201.1 L624.4,199.8 L624.6,199.7 L624.8,198.7 L625.0,198.8 L625.2,197.8 L625.4,197.1 L625.6,196.6 L625.8,196.0 L626.0,195.1 L626.2,193.9 L626.4,193.6 L626.6,192.8 L626.8,193.1 L627.0,193.0 L627.2,191.7 L627.4,190.4 L627.6,190.6 L627.8,188.8 L628.0,189.1 L628.2,187.9 L628.4,187.2 L628.6,187.0 L628.8,185.7 L629.0,184.0 L629.2,184.4 L629.4,183.7 L629.5,183.0 L629.7,182.3 L629.9,182.3 L630.1,181.3 L630.3,180.2 L630.5,180.8 L630.8,177.6 L631.0,178.4 L631.2,178.4 L631.4,177.2 L631.6,176.0 L631.9,176.2 L632.1,174.6 L632.3,175.3 L632.6,174.5 L632.8,172.9 L633.1,171.8 L633.4,172.6 L633.6,171.2 L633.9,170.7 L634.2,170.8 L634.5,169.8 L634.9,168.8 L635.3,167.8 L635.7,167.1 L636.1,166.9 L636.6,166.0 L637.1,166.6 L637.6,165.5 L638.2,165.8 L638.7,165.6 L639.2,166.4 L639.7,166.4 L640.2,166.4 L640.7,167.6 L641.2,168.3 L641.6,168.6 L642.0,169.1 L642.4,169.1 L642.8,169.5 L643.1,170.6 L643.5,171.3 L643.8,172.7 L644.1,172.1 L644.3,173.3 L644.6,173.7 L644.8,175.6 L645.0,175.8 L645.2,176.4 L645.4,176.7 L645.5,176.7 L645.7,177.9 L645.8,179.5 L646.0,179.9 L646.1,180.1 L646.3,181.0 L646.4,181.6 L646.5,182.2 L646.6,183.6 L646.8,183.1 L646.9,184.1 L647.0,185.2 L647.1,185.9 L647.2,186.7 L647.3,186.8 L647.4,188.2 L647.6,190.1 L647.7,189.0 L647.8,189.9 L647.9,190.9 L648.1,191.0 L648.2,192.7 L648.3,192.6 L648.5,193.8 L648.6,193.9 L648.7,194.6 L648.9,195.5 L649.0,196.2 L649.2,197.2 L649.3,197.1 L649.5,198.0 L649.6,198.9 L649.7,199.9 L649.9,200.6 L650.0,201.0 L650.2,202.1 L650.3,202.0 L650.5,203.2 L650.6,204.4 L650.8,203.8 L650.9,205.4 L651.1,205.2 L651.2,206.1 L651.3,207.7 L651.5,207.6 L651.6,208.0 L651.8,209.1 L651.9,209.4 L652.1,210.3 L652.2,211.4 L652.4,211.9 L652.5,212.7 L652.7,213.1 L652.8,213.8 L652.9,215.1 L653.0,215.0 L653.2,216.2 L653.3,216.9 L653.4,217.2 L653.5,218.3 L653.6,218.8 L653.7,220.0 L653.8,220.1 L653.9,220.8 L654.0,221.5 L654.1,222.7 L654.2,222.9 L654.3,223.8 L654.4,224.3 L654.5,224.6 L654.6,226.4 L654.7,225.2 L654.8,227.6 L654.8,227.2 L654.9,228.9 L655.0,228.8 L655.1,230.2 L655.2,231.0 L655.3,231.1 L655.4,232.0 L655.5,232.7 L655.5,232.8 L655.6,233.1 L655.7,234.2 L655.8,235.5 L655.9,236.6 L656.0,236.5 L656.1,237.1 L656.1,238.4 L656.2,238.5 L656.3,240.7 L656.4,239.7 L656.5,241.1 L656.6,242.0 L656.7,241.9 L656.8,242.8 L656.9,243.4 L657.0,244.1 L657.1,245.1 L657.2,246.4 L657.3,246.2 L657.4,247.0 L657.5,246.9 L657.6,248.7 L657.7,249.0 L657.8,249.6 L657.9,250.2 L658.0,250.6 L658.1,253.1 L658.2,252.2 L658.3,253.6 L658.4,254.0 L658.5,254.7 L658.6,255.7 L658.7,256.3 L658.8,256.6 L659.0,257.1 L659.1,258.3 L659.2,258.4 L659.3,259.5 L659.4,260.2 L659.5,261.1 L659.6,261.8 L659.7,262.2 L659.8,263.0 L659.9,264.0 L660.0,264.0 L660.1,265.4 L660.2,265.4 L660.3,266.8 L660.4,267.2 L660.5,268.4 L660.6,268.8 L660.7,269.3 L660.7,270.9 L660.8,271.2 L660.9,271.4 L661.0,272.1 L661.1,272.5 L661.2,273.0 L661.2,274.8 L661.3,275.2 L661.4,274.9 L661.5,276.4 L661.5,277.5 L661.6,277.9 L661.7,278.6 L661.8,278.9 L661.8,279.6 L661.9,280.8 L662.0,281.1 L662.1,282.3 L662.1,282.5 L662.2,283.7 L662.3,284.0 L662.3,284.8 L662.4,285.1 L662.5,285.0 L662.6,287.0 L662.6,287.5 L662.7,288.3 L662.8,289.3 L662.8,289.2 L662.9,289.3 L663.0,290.9 L663.1,291.7 L663.1,292.2 L663.2,293.1 L663.3,293.5 L663.3,294.6 L663.4,294.6 L663.5,295.8 L663.6,296.3 L663.7,297.5 L663.7,297.7 L663.8,298.9 L663.9,299.2 L664.0,299.3 L664.1,300.8 L664.2,301.2 L664.2,302.3 L664.3,302.1 L664.4,303.7 L664.5,303.9 L664.6,304.5 L664.7,305.5 L664.8,306.3 L664.8,306.4 L664.9,307.7 L665.0,308.9 L665.1,308.9 L665.2,310.0 L665.3,310.3 L665.4,311.1 L665.5,311.2 L665.6,312.1 L665.6,312.7 L665.7,313.1 L665.8,314.0 L665.9,314.8 L666.0,315.4 L666.1,316.6 L666.2,317.4 L666.3,317.9 L666.4,318.8 L666.5,319.3 L666.6,320.2 L666.7,320.8 L666.8,321.3 L666.9,322.2 L667.0,322.0 L667.0,323.5 L667.1,325.0 L667.2,325.2 L667.3,325.2 L667.4,326.5 L667.5,327.4 L667.6,327.7 L667.7,328.7 L667.8,329.7 L667.9,329.4 L668.0,330.7 L668.1,331.0 L668.2,331.7 L668.3,332.3 L668.4,333.4 L668.5,335.0 L668.6,334.6 L668.7,336.1 L668.8,335.4 L668.9,336.2 L669.0,336.4 L669.1,338.2 L669.2,338.4 L669.3,339.2 L669.4,340.7 L669.5,341.1 L669.6,341.7 L669.7,341.5 L669.8,342.7 L669.9,343.2 L670.0,344.8 L670.2,345.1 L670.3,346.3 L670.4,346.6 L670.5,347.5 L670.6,348.2 L670.7,349.5 L670.8,349.1 L670.9,349.9 L671.0,350.4 L671.1,350.8 L671.2,351.6 L671.3,352.4 L671.4,352.8 L671.5,354.1 L671.7,354.8 L671.8,356.0 L671.9,356.2 L672.0,356.8 L672.1,357.4 L672.2,358.6 L672.3,359.3 L672.4,359.5 L672.5,360.3 L672.7,361.0 L672.8,361.5 L672.9,362.5 L673.0,362.7 L673.1,363.6 L673.2,364.4 L673.4,365.1 L673.5,366.1 L673.6,366.2 L673.7,366.8 L673.8,368.2 L673.9,369.1 L674.1,369.1 L674.2,369.4 L674.3,370.2 L674.4,371.2 L674.5,372.1 L674.6,373.0 L674.8,373.0 L674.9,374.0 L675.0,374.7 L675.1,375.4 L675.2,375.4 L675.4,377.4 L675.5,377.3 L675.6,378.0 L675.7,378.5 L675.8,379.5 L676.0,379.6 L676.1,381.2 L676.2,381.5 L676.3,382.5 L676.4,382.1 L676.6,383.1 L676.7,384.8 L676.8,384.9 L676.9,385.8 L677.1,386.5 L677.2,386.7 L677.3,388.5 L677.4,388.8 L677.6,389.4 L677.7,390.0 L677.8,390.0 L677.9,391.3 L678.1,392.2 L678.2,392.5 L678.3,393.3 L678.5,394.1 L678.6,395.1 L678.8,395.1 L678.9,396.3 L679.1,397.2 L679.2,397.7 L679.4,397.4 L679.5,398.6 L679.7,399.3 L679.8,400.7 L680.0,401.1 L680.1,401.5 L680.3,402.3 L680.5,402.7 L680.7,404.3 L680.8,404.4 L681.0,404.9 L681.2,406.6 L681.4,406.4 L681.6,407.2 L681.8,407.7 L682.0,408.1 L682.2,409.2 L682.4,410.1 L682.6,410.4 L682.8,410.5 L683.0,411.1 L683.2,412.5 L683.4,412.6 L683.7,413.8 L683.9,414.6 L684.1,415.4 L684.3,416.0 L684.6,416.5 L684.8,417.2 L685.1,418.1 L685.3,417.7 L685.6,419.3 L685.8,419.7 L686.1,420.0 L686.4,420.6 L686.6,421.5 L686.9,423.1 L687.2,423.5 L687.5,423.4 L687.8,423.9 L688.1,424.5 L688.4,424.7 L688.7,426.5 L689.0,427.2 L689.3,427.4 L689.6,428.2 L690.0,428.3 L690.3,428.6 L690.6,430.5 L691.0,430.2 L691.3,430.4 L691.7,430.0 L692.1,432.1 L692.5,432.5 L692.8,433.1 L693.3,433.8 L693.7,434.0 L694.1,434.8 L694.5,436.3 L694.9,436.3 L695.4,436.5 L695.8,436.8 L696.3,437.4 L696.7,438.3 L697.2,438.8 L697.6,439.3 L698.1,440.6 L698.6,440.3 L699.1,440.9 L699.6,441.9 L700.0,442.1 L700.5,442.4 L701.1,442.5 L701.6,443.8 L702.1,444.1 L702.6,444.7 L703.2,444.7 L703.7,445.2 L704.2,445.6 L704.8,446.9 L705.4,446.9 L705.9,447.1 L706.5,447.2 L707.1,447.7 L707.7,447.8 L708.3,448.2 L708.9,448.7 L709.6,448.0 L710.2,448.1 L710.9,448.8 L711.6,448.9 L712.3,449.5 L713.0,449.5 L713.7,450.1 L714.3,449.8 L715.0,449.0 L715.7,449.7 L716.4,450.8 L717.1,450.7 L717.8,450.0 L718.5,450.2 L719.2,450.7 L719.9,451.4 L720.6,450.7 L721.3,450.8 L722.0,450.4 L722.7,451.0 L723.4,451.2 L724.1,451.1 L724.8,450.5 L725.5,450.4 L726.2,451.7 L726.9,451.6 L727.6,450.7 L728.3,451.8 L729.0,451.2 L729.7,451.7 L730.4,451.1 L731.1,451.1 L731.8,451.7 L732.5,451.1 L733.2,451.5 L733.9,451.7 L734.6,450.5 L735.3,451.7 L736.0,451.7 L736.7,451.7 L737.4,451.0 L738.1,451.0 L738.8,451.3 L739.5,451.5 L740.2,451.4 L740.9,451.3 L741.6,451.3 L742.3,451.6 L743.0,451.7 L743.7,451.3 L744.4,451.8 L745.1,451.5 L745.8,451.5 L746.5,450.6 L747.2,450.3 L747.9,451.2 L748.6,451.2 L749.3,450.9 L750.0,451.3 L750.7,450.8 L751.4,450.9 L752.1,450.7 L752.7,451.0 L753.3,450.7 L753.8,450.2 L754.2,451.6"/><path d="M295.5,407.6 L295.7,407.9 L295.9,408.6 L296.1,409.3 L296.4,409.9 L296.6,410.9 L296.9,411.1 L297.1,411.6 L297.4,412.0 L297.7,412.4 L298.0,414.1 L298.4,414.7 L298.7,413.9 L299.0,415.3 L299.4,416.3 L299.8,416.3 L300.1,416.2 L300.5,417.5 L300.9,418.8 L301.3,418.6 L301.8,420.0 L302.2,419.2 L302.7,420.1 L303.1,421.1 L303.6,421.5 L304.2,422.7 L304.7,422.4 L305.2,422.9 L305.8,422.7 L306.3,423.1 L306.9,424.2 L307.5,424.7 L308.1,425.2 L308.7,425.0 L309.4,425.7 L310.0,425.7 L310.7,426.1 L311.3,427.1 L312.0,426.3 L312.7,426.7 L313.3,426.6 L314.0,427.0 L314.7,427.3 L315.4,427.1 L316.1,427.1 L316.8,427.4 L317.5,427.8 L318.2,428.6 L318.9,427.6 L319.5,429.0 L320.2,428.3 L320.9,428.0 L321.6,428.6 L322.3,429.0 L323.0,427.8 L323.7,428.1 L324.4,428.5 L325.1,428.3 L325.8,428.7 L326.5,429.4 L327.2,428.4 L327.9,428.5 L328.6,428.3 L329.3,429.0 L330.0,429.8 L330.7,429.4 L331.4,429.4 L332.1,429.4 L332.8,430.0 L333.5,430.3 L334.2,429.3 L334.9,429.9 L335.6,429.5 L336.3,429.8 L337.0,429.4 L337.7,430.2 L338.4,430.8 L339.1,430.0 L339.7,430.3 L340.4,430.7 L341.1,430.3 L341.8,429.8 L342.5,430.3 L343.2,430.8 L343.9,431.1 L344.6,430.5 L345.3,430.8 L346.0,431.1 L346.7,430.4 L347.4,430.9 L348.1,430.7 L348.8,430.7 L349.5,431.2 L350.2,431.5 L350.9,431.8 L351.6,431.7 L352.3,431.7 L353.0,431.6 L353.7,431.0 L354.4,431.3 L355.1,431.8 L355.8,431.3 L356.5,431.3 L357.2,431.7 L357.9,432.1 L358.6,431.6 L359.3,431.5 L360.0,431.8 L360.7,431.8 L361.4,431.5 L362.1,431.8 L362.8,431.9 L363.4,432.5 L364.1,432.2 L364.8,432.8 L365.5,432.4 L366.2,433.7 L366.9,432.7 L367.6,432.7 L368.3,432.2 L369.0,434.2 L369.7,434.0 L370.4,433.2 L371.1,433.7 L371.8,433.5 L372.5,433.5 L373.2,433.9 L373.9,433.6 L374.6,433.0 L375.2,433.9 L375.9,433.9 L376.6,433.2 L377.3,433.2 L378.0,433.3 L378.7,432.1 L379.4,433.2 L380.0,432.6 L380.7,431.3 L381.3,432.8 L382.0,432.0 L382.6,431.6 L383.3,430.7 L383.9,430.9 L384.5,430.6 L385.1,430.5 L385.8,430.1 L386.4,428.8 L387.0,429.6 L387.6,428.9 L388.2,428.2 L388.8,427.9 L389.4,428.1 L390.1,426.7 L390.7,427.0 L391.3,425.8 L391.9,426.8 L392.5,425.9 L393.1,425.4 L393.7,425.2 L394.3,425.0 L395.0,425.0 L395.6,424.7 L396.2,424.6 L396.9,423.5 L397.5,423.2 L398.1,422.9 L398.8,422.7 L399.4,422.5 L400.1,421.7 L400.7,422.2 L401.4,421.7 L402.0,421.8 L402.7,421.4 L403.4,421.0 L404.0,420.4 L404.7,419.7 L405.3,420.7 L406.0,420.4 L406.7,420.6 L407.3,419.9 L408.0,419.3 L408.7,420.1 L409.4,418.9 L410.0,420.0 L410.7,420.4 L411.4,419.4 L412.0,418.0 L412.7,418.2 L413.4,418.0 L414.1,418.2 L414.7,416.9 L415.4,418.3 L416.1,418.2 L416.7,416.5 L417.4,417.6 L418.1,416.8 L418.8,416.6 L419.4,417.3 L420.1,415.9 L420.8,416.1 L421.4,414.9 L422.1,415.9 L422.8,415.5 L423.5,414.9 L424.1,415.0 L424.8,414.1 L425.5,415.0 L426.1,414.5 L426.8,413.4 L427.5,414.5 L428.1,413.7 L428.8,413.1 L429.5,412.8 L430.2,413.0 L430.8,412.2 L431.5,412.3 L432.2,412.4 L432.9,412.7 L433.6,412.7 L434.3,412.4 L434.9,412.0 L435.6,411.7 L436.3,411.9 L437.0,411.5 L437.7,411.4 L438.4,411.2 L439.0,410.9 L439.7,410.5 L440.4,409.5 L441.1,410.8 L441.8,409.7 L442.4,409.7 L443.1,409.9 L443.8,409.6 L444.4,410.3 L445.1,408.7 L445.8,408.7 L446.4,408.7 L447.1,408.2 L447.8,408.6 L448.5,407.5 L449.1,407.7 L449.8,407.8 L450.5,408.6 L451.1,406.7 L451.8,407.6 L452.5,407.3 L453.1,406.5 L453.8,406.2 L454.5,406.1 L455.1,406.0 L455.8,406.0 L456.5,404.5 L457.1,406.1 L457.8,405.1 L458.5,405.0 L459.2,405.3 L459.9,405.3 L460.5,405.1 L461.2,404.5 L461.9,404.1 L462.6,404.9 L463.3,403.8 L464.0,404.1 L464.7,404.4 L465.4,404.6 L466.1,404.0 L466.8,404.4 L467.5,404.2 L468.2,405.1 L468.9,404.8 L469.6,404.1 L470.3,403.1 L471.0,403.5 L471.7,404.5 L472.4,404.2 L473.1,405.1 L473.8,403.9 L474.5,404.5 L475.2,404.1 L475.9,403.5 L476.6,404.6 L477.3,404.2 L478.0,403.8 L478.7,404.2 L479.4,404.5 L480.1,404.0 L480.8,404.2 L481.5,404.5 L482.1,405.2 L482.8,404.2 L483.5,405.0 L484.2,405.3 L484.9,405.3 L485.5,405.9 L486.2,407.0 L486.9,405.2 L487.6,406.0 L488.3,406.3 L489.0,406.7 L489.7,406.5 L490.3,405.8 L491.0,407.2 L491.7,406.4 L492.4,405.1 L493.1,406.7 L493.8,406.3 L494.5,405.5 L495.2,405.4 L495.8,405.0 L496.5,404.5 L497.1,404.3 L497.7,404.3 L498.4,403.6 L499.0,403.1 L499.7,403.9 L500.3,403.1 L501.0,402.6 L501.6,402.8 L502.3,403.5 L503.0,402.1 L503.7,402.2 L504.3,401.9 L505.0,401.9 L505.7,402.7 L506.4,401.0 L507.0,400.5 L507.7,400.7 L508.3,400.4 L509.0,401.0 L509.6,400.7 L510.3,399.7 L510.9,399.4 L511.5,399.4 L512.1,398.9 L512.7,398.5 L513.3,397.7 L513.9,397.8 L514.5,397.5 L515.1,396.9 L515.7,396.5 L516.3,396.3 L516.9,395.1 L517.5,395.4 L518.1,395.4 L518.7,395.2 L519.3,394.1 L519.9,394.2 L520.5,393.0 L521.1,393.1 L521.7,393.3 L522.3,393.1 L522.9,392.5 L523.4,391.8 L524.0,391.3 L524.6,391.3 L525.2,390.2 L525.7,389.7 L526.3,390.3 L526.9,388.6 L527.4,389.2 L528.0,387.9 L528.6,388.4 L529.1,387.7 L529.7,387.6 L530.2,386.9 L530.8,385.4 L531.3,384.8 L531.8,384.8 L532.4,385.3 L532.9,384.5 L533.4,384.2 L534.0,383.5 L534.5,383.5 L535.0,381.8 L535.5,382.5 L536.0,381.9 L536.5,381.2 L537.0,381.3 L537.5,379.6 L538.0,379.9 L538.5,379.4 L539.0,378.3 L539.5,378.5 L539.9,377.4 L540.4,378.0 L540.9,376.7 L541.3,376.2 L541.8,375.6 L542.2,375.4 L542.6,374.1 L543.0,374.4 L543.4,373.4 L543.9,373.0 L544.2,371.9 L544.6,371.6 L545.0,371.4 L545.4,370.2 L545.8,370.0 L546.1,368.9 L546.5,369.1 L546.9,368.1 L547.2,367.0 L547.6,366.9 L547.9,366.5 L548.2,366.1 L548.6,365.1 L548.9,364.4 L549.2,363.3 L549.6,362.7 L549.9,363.3 L550.2,362.0 L550.5,361.5 L550.8,360.9 L551.1,360.1 L551.4,360.0 L551.7,358.8 L552.0,358.1 L552.3,357.7 L552.6,356.4 L552.9,356.1 L553.2,355.2 L553.5,354.0 L553.7,355.3 L554.0,353.8 L554.3,353.8 L554.6,353.0 L554.9,351.7 L555.2,350.7 L555.4,350.9 L555.7,349.8 L556.0,349.3 L556.3,349.4 L556.6,348.2 L556.9,347.1 L557.2,346.1 L557.5,346.2 L557.8,345.2 L558.1,344.6 L558.5,344.3 L558.7,343.2 L559.0,342.9 L559.3,342.4 L559.6,341.5 L559.9,340.5 L560.2,340.3 L560.5,339.8 L560.7,339.1 L561.0,338.1 L561.3,337.4 L561.5,336.2 L561.8,336.4 L562.0,336.1 L562.3,335.7 L562.5,334.2 L562.8,333.6 L563.0,332.8 L563.3,332.1 L563.6,331.7 L563.8,331.1 L564.1,330.8 L564.4,329.5 L564.7,330.7 L565.0,329.7 L565.3,328.6 L565.6,327.1 L566.0,326.3 L566.3,325.7 L566.6,324.9 L567.0,325.3 L567.3,324.6 L567.7,323.3 L568.0,323.3 L568.3,322.0 L568.7,322.1 L569.0,321.7 L569.3,320.5 L569.6,320.4 L570.0,319.9 L570.3,319.2 L570.6,318.2 L570.9,317.8 L571.2,317.2 L571.5,316.4 L571.8,315.5 L572.1,314.7 L572.4,314.6 L572.8,313.1 L573.1,313.1 L573.4,311.9 L573.7,312.0 L574.0,310.5 L574.3,309.4 L574.7,310.0 L575.0,308.6 L575.3,308.7 L575.7,308.0 L576.0,306.7 L576.3,307.4 L576.7,305.4 L577.0,305.6 L577.3,305.1 L577.7,304.3 L578.0,303.7 L578.4,303.1 L578.7,302.6 L579.0,302.2 L579.4,301.0 L579.7,300.3 L580.1,299.5 L580.4,299.5 L580.7,299.1 L581.1,298.2 L581.4,298.1 L581.7,297.3 L582.0,296.4 L582.4,295.3 L582.7,295.1 L583.0,295.3 L583.4,295.0 L583.7,293.6 L584.1,292.9 L584.4,292.8 L584.7,291.6 L585.1,290.8 L585.5,291.0 L585.8,290.2 L586.2,289.8 L586.6,289.0 L587.0,287.8 L587.4,287.6 L587.8,287.3 L588.1,286.3 L588.5,285.2 L589.0,285.3 L589.4,284.9 L589.8,283.9 L590.2,283.1 L590.6,283.6 L591.0,282.4 L591.4,282.0 L591.8,281.3 L592.3,280.7 L592.7,280.2 L593.1,280.4 L593.6,279.0 L594.0,278.4 L594.5,277.8 L594.9,277.0 L595.3,276.1 L595.8,276.0 L596.2,276.2 L596.6,275.7 L597.0,274.5 L597.4,274.0 L597.7,273.5 L598.1,272.3 L598.4,272.0 L598.8,271.1 L599.1,271.2 L599.5,270.5 L599.8,268.7 L600.1,270.2 L600.5,269.1 L600.8,267.5 L601.1,267.2 L601.4,265.9 L601.8,265.7 L602.1,265.3 L602.4,264.9 L602.7,264.7 L603.0,263.1 L603.3,263.4 L603.6,262.7 L603.9,262.0 L604.2,261.1 L604.5,260.2 L604.8,259.8 L605.1,259.5 L605.4,258.8 L605.6,257.2 L605.9,256.7 L606.2,256.7 L606.5,255.3 L606.7,255.2 L607.0,254.4 L607.3,254.3 L607.5,253.7 L607.8,252.8 L608.1,252.8 L608.3,251.1 L608.6,251.1 L608.8,250.3 L609.1,249.3 L609.3,248.2 L609.5,247.5 L609.8,247.0 L610.0,247.3 L610.2,246.0 L610.5,245.0 L610.7,244.4 L610.9,244.1 L611.2,243.2 L611.4,242.8 L611.6,242.5 L611.8,241.3 L612.1,240.5 L612.3,240.7 L612.5,239.5 L612.7,238.7 L613.0,238.2 L613.2,237.3 L613.4,236.6 L613.6,236.0 L613.8,236.1 L614.1,234.1 L614.3,234.3 L614.5,234.0 L614.7,232.4 L614.9,231.9 L615.1,231.3 L615.4,230.7 L615.6,229.6 L615.8,229.9 L616.0,229.1 L616.2,228.4 L616.4,227.6 L616.6,226.2 L616.8,226.7 L617.0,225.6 L617.2,224.5 L617.4,222.9 L617.6,223.4 L617.8,222.6 L618.0,222.1 L618.2,221.4 L618.5,220.7 L618.7,219.4 L618.9,219.9 L619.1,218.1 L619.3,218.7 L619.5,218.8 L619.7,216.9 L619.9,216.0 L620.1,215.8 L620.3,214.4 L620.5,213.7 L620.7,213.0 L620.9,213.0 L621.1,212.5 L621.3,211.6 L621.5,210.6 L621.7,210.5 L621.9,209.5 L622.1,208.4 L622.3,207.5 L622.5,207.3 L622.7,206.3 L622.9,206.4 L623.1,205.2 L623.3,205.3 L623.5,203.7 L623.7,202.1 L623.9,202.8 L624.2,202.3 L624.4,201.4 L624.6,200.2 L624.8,199.6 L625.0,198.7 L625.2,198.7 L625.4,197.5 L625.6,197.0 L625.8,196.1 L626.0,195.5 L626.2,195.4 L626.4,194.1 L626.6,194.6 L626.8,193.4 L627.0,192.5 L627.2,192.3 L627.4,191.4 L627.6,190.9 L627.8,189.7 L628.0,189.7 L628.2,189.1 L628.4,187.5 L628.6,186.7 L628.8,186.8 L629.0,185.5 L629.2,185.4 L629.4,183.8 L629.5,183.7 L629.7,183.3 L629.9,182.7 L630.1,181.7 L630.3,180.6 L630.5,180.3 L630.8,180.0 L631.0,178.3 L631.2,179.0 L631.4,177.8 L631.6,178.3 L631.9,176.5 L632.1,176.6 L632.3,175.4 L632.6,175.0 L632.8,173.9 L633.1,174.0 L633.4,172.4 L633.6,172.4 L633.9,171.1 L634.2,170.4 L634.5,169.4 L634.9,169.2 L635.3,169.4 L635.7,167.6 L636.1,168.1 L636.6,167.2 L637.1,166.8 L637.6,166.7 L638.2,165.7 L638.7,166.7 L639.2,166.3 L639.7,166.7 L640.2,168.5 L640.7,167.7 L641.2,168.2 L641.6,170.1 L642.0,169.5 L642.4,170.0 L642.8,171.1 L643.1,171.6 L643.5,171.9 L643.8,173.7 L644.1,172.5 L644.3,174.4 L644.6,174.8 L644.8,175.4 L645.0,176.1 L645.2,176.8 L645.4,177.7 L645.5,178.5 L645.7,179.2 L645.8,179.5 L646.0,180.4 L646.1,180.2 L646.3,180.9 L646.4,182.7 L646.5,182.7 L646.6,183.9 L646.8,184.2 L646.9,185.7 L647.0,185.7 L647.1,186.4 L647.2,187.2 L647.3,188.4 L647.4,188.0 L647.6,189.0 L647.7,189.4 L647.8,190.2 L647.9,191.5 L648.1,192.1 L648.2,191.9 L648.3,193.6 L648.5,193.8 L648.6,194.9 L648.7,195.4 L648.9,195.7 L649.0,196.5 L649.2,197.6 L649.3,198.6 L649.5,198.6 L649.6,199.2 L649.7,200.7 L649.9,201.5 L650.0,202.2 L650.2,202.0 L650.3,202.1 L650.5,202.7 L650.6,204.2 L650.8,205.4 L650.9,205.8 L651.1,206.7 L651.2,206.9 L651.3,207.4 L651.5,208.3 L651.6,208.5 L651.8,208.7 L651.9,210.1 L652.1,211.3 L652.2,211.6 L652.4,211.8 L652.5,213.6 L652.7,214.1 L652.8,213.9 L652.9,215.2 L653.0,215.5 L653.2,216.7 L653.3,217.3 L653.4,218.0 L653.5,219.2 L653.6,218.8 L653.7,219.7 L653.8,220.6 L653.9,220.8 L654.0,221.8 L654.1,222.6 L654.2,224.1 L654.3,224.9 L654.4,225.2 L654.5,225.0 L654.6,225.2 L654.7,227.3 L654.8,227.3 L654.8,229.0 L654.9,229.0 L655.0,230.4 L655.1,230.3 L655.2,231.0 L655.3,232.3 L655.4,232.5 L655.5,233.8 L655.5,233.9 L655.6,234.2 L655.7,235.8 L655.8,236.4 L655.9,236.4 L656.0,237.7 L656.1,238.6 L656.1,238.3 L656.2,239.7 L656.3,240.7 L656.4,241.4 L656.5,241.8 L656.6,242.6 L656.7,242.8 L656.8,243.5 L656.9,243.8 L657.0,245.5 L657.1,245.5 L657.2,245.6 L657.3,247.8 L657.4,248.5 L657.5,248.3 L657.6,249.5 L657.7,250.7 L657.8,251.4 L657.9,251.2 L658.0,251.8 L658.1,252.7 L658.2,253.5 L658.3,254.0 L658.4,255.2 L658.5,255.9 L658.6,256.5 L658.7,257.3 L658.8,258.3 L659.0,257.2 L659.1,259.2 L659.2,259.7 L659.3,259.5 L659.4,261.1 L659.5,261.0 L659.6,262.3 L659.7,263.4 L659.8,264.1 L659.9,264.1 L660.0,264.9 L660.1,266.2 L660.2,266.5 L660.3,267.5 L660.4,268.0 L660.5,269.3 L660.6,271.0 L660.7,270.6 L660.7,271.4 L660.8,271.9 L660.9,271.6 L661.0,272.5 L661.1,273.8 L661.2,273.3 L661.2,275.4 L661.3,275.6 L661.4,276.4 L661.5,277.2 L661.5,277.4 L661.6,277.9 L661.7,279.4 L661.8,280.7 L661.8,280.1 L661.9,281.6 L662.0,281.3 L662.1,282.4 L662.1,283.4 L662.2,283.9 L662.3,284.7 L662.3,285.8 L662.4,286.0 L662.5,287.2 L662.6,287.7 L662.6,287.9 L662.7,289.3 L662.8,290.2 L662.8,291.0 L662.9,290.0 L663.0,291.3 L663.1,292.4 L663.1,292.8 L663.2,294.3 L663.3,294.2 L663.3,294.1 L663.4,294.6 L663.5,296.0 L663.6,297.2 L663.7,297.8 L663.7,298.3 L663.8,299.6 L663.9,299.5 L664.0,300.9 L664.1,301.5 L664.2,302.1 L664.2,302.1 L664.3,304.1 L664.4,305.0 L664.5,305.1 L664.6,305.6 L664.7,306.3 L664.8,305.8 L664.8,308.0 L664.9,307.7 L665.0,308.5 L665.1,309.6 L665.2,309.1 L665.3,311.4 L665.4,312.0 L665.5,312.5 L665.6,313.6 L665.6,313.7 L665.7,314.8 L665.8,315.1 L665.9,315.6 L666.0,316.5 L666.1,316.6 L666.2,318.4 L666.3,318.2 L666.4,319.9 L666.5,319.8 L666.6,320.3 L666.7,321.1 L666.8,322.2 L666.9,323.0 L667.0,324.7 L667.0,324.8 L667.1,324.5 L667.2,324.8 L667.3,326.1 L667.4,326.9 L667.5,328.1 L667.6,329.1 L667.7,328.9 L667.8,329.1 L667.9,330.4 L668.0,331.0 L668.1,332.7 L668.2,332.8 L668.3,332.5 L668.4,334.1 L668.5,334.4 L668.6,334.5 L668.7,335.0 L668.8,336.8 L668.9,337.2 L669.0,338.7 L669.1,339.1 L669.2,339.1 L669.3,340.4 L669.4,340.9 L669.5,342.0 L669.6,342.5 L669.7,343.3 L669.8,344.2 L669.9,344.4 L670.0,345.6 L670.2,345.5 L670.3,346.7 L670.4,347.1 L670.5,348.1 L670.6,349.6 L670.7,349.3 L670.8,350.5 L670.9,350.9 L671.0,351.0 L671.1,352.1 L671.2,352.2 L671.3,353.6 L671.4,354.6 L671.5,353.9 L671.7,356.1 L671.8,356.6 L671.9,356.1 L672.0,357.6 L672.1,357.8 L672.2,359.1 L672.3,359.4 L672.4,359.8 L672.5,360.6 L672.7,361.3 L672.8,362.2 L672.9,363.9 L673.0,362.8 L673.1,365.0 L673.2,364.8 L673.4,365.3 L673.5,366.3 L673.6,366.7 L673.7,367.0 L673.8,368.7 L673.9,369.8 L674.1,369.9 L674.2,370.9 L674.3,370.6 L674.4,371.5 L674.5,371.9 L674.6,373.2 L674.8,373.4 L674.9,374.6 L675.0,375.3 L675.1,375.4 L675.2,376.3 L675.4,377.6 L675.5,378.4 L675.6,378.5 L675.7,378.9 L675.8,381.1 L676.0,381.3 L676.1,381.1 L676.2,382.4 L676.3,382.6 L676.4,383.4 L676.6,384.5 L676.7,385.9 L676.8,385.8 L676.9,386.9 L677.1,386.5 L677.2,387.4 L677.3,388.2 L677.4,389.4 L677.6,390.6 L677.7,390.4 L677.8,391.3 L677.9,391.2 L678.1,393.1 L678.2,393.0 L678.3,393.2 L678.5,394.8 L678.6,395.6 L678.8,396.3 L678.9,396.8 L679.1,397.0 L679.2,398.0 L679.4,397.8 L679.5,399.4 L679.7,400.2 L679.8,400.3 L680.0,402.1 L680.1,402.1 L680.3,402.4 L680.5,402.7 L680.7,404.1 L680.8,404.8 L681.0,405.8 L681.2,406.2 L681.4,407.3 L681.6,407.9 L681.8,408.7 L682.0,408.7 L682.2,410.2 L682.4,409.5 L682.6,411.2 L682.8,411.1 L683.0,411.5 L683.2,412.6 L683.4,414.1 L683.7,415.1 L683.9,414.6 L684.1,415.5 L684.3,415.8 L684.6,416.9 L684.8,417.4 L685.1,418.4 L685.3,418.5 L685.6,419.1 L685.8,420.4 L686.1,420.7 L686.4,421.0 L686.6,422.6 L686.9,423.2 L687.2,424.0 L687.5,424.1 L687.8,425.1 L688.1,426.4 L688.4,425.7 L688.7,426.4 L689.0,426.8 L689.3,428.4 L689.6,428.7 L690.0,429.2 L690.3,429.9 L690.6,429.4 L691.0,431.2 L691.3,431.8 L691.7,433.0 L692.1,433.1 L692.5,433.3 L692.8,434.5 L693.3,434.3 L693.7,435.3 L694.1,435.8 L694.5,436.4 L694.9,436.3 L695.4,437.9 L695.8,438.1 L696.3,438.3 L696.7,438.0 L697.2,439.4 L697.6,440.6 L698.1,440.4 L698.6,441.4 L699.1,442.1 L699.6,442.1 L700.0,442.2 L700.5,442.7 L701.1,443.7 L701.6,444.1 L702.1,444.9 L702.6,445.6 L703.2,445.4 L703.7,445.5 L704.2,446.0 L704.8,446.6 L705.4,447.3 L705.9,447.8 L706.5,448.5 L707.1,448.4 L707.7,448.5 L708.3,449.0 L708.9,449.1 L709.6,450.2 L710.2,449.3 L710.9,449.6 L711.6,449.8 L712.3,450.2 L713.0,450.1 L713.7,450.8 L714.3,450.7 L715.0,451.1 L715.7,451.3 L716.4,451.2 L717.1,451.5 L717.8,451.3 L718.5,451.2 L719.2,451.6 L719.9,452.2 L720.6,451.9 L721.3,451.5 L722.0,451.5 L722.7,452.0 L723.4,451.9 L724.1,451.8 L724.8,451.6 L725.5,452.6 L726.2,452.1 L726.9,451.6 L727.6,452.8 L728.3,451.6 L729.0,451.3 L729.7,451.8 L730.4,452.2 L731.1,452.2 L731.8,451.7 L732.5,451.8 L733.2,452.2 L733.9,451.8 L734.6,452.4 L735.3,451.5 L736.0,452.1 L736.7,452.5 L737.4,452.0 L738.1,452.0 L738.8,451.6 L739.5,452.2 L740.2,451.7 L740.9,451.5 L741.6,452.1 L742.3,452.8 L743.0,451.7 L743.7,452.5 L744.4,451.7 L745.1,451.8 L745.8,452.2 L746.5,452.5 L747.2,452.2 L747.9,451.6 L748.6,451.4 L749.3,452.0 L750.0,451.8 L750.7,451.3 L751.4,452.4 L752.1,451.2 L752.7,452.0 L753.3,451.8 L753.8,452.4 L754.2,451.5"/></g>
</g>
<g>
<text transform="translate(284.20,460.10) scale(1.0,1.0)" text-anchor="end" font-family="DejaVu Sans, Verdana, Liberation Sans, sans-serif" font-size="14.9" fill="#000" text-rendering="geometricPrecision">0</text>
<text transform="translate(284.20,424.83) scale(1.03,1.0)" text-anchor="end" font-family="DejaVu Sans, Verdana, Liberation Sans, sans-serif" font-size="14.9" fill="#000" text-rendering="geometricPrecision">0.01</text>
<text transform="translate(284.20,389.56) scale(1.03,1.0)" text-anchor="end" font-family="DejaVu Sans, Verdana, Liberation Sans, sans-serif" font-size="14.9" fill="#000" text-rendering="geometricPrecision">0.02</text>
<text transform="translate(284.20,354.29) scale(1.03,1.0)" text-anchor="end" font-family="DejaVu Sans, Verdana, Liberation Sans, sans-serif" font-size="14.9" fill="#000" text-rendering="geometricPrecision">0.03</text>
<text transform="translate(284.20,319.02) scale(1.03,1.0)" text-anchor="end" font-family="DejaVu Sans, Verdana, Liberation Sans, sans-serif" font-size="14.9" fill="#000" text-rendering="geometricPrecision">0.04</text>
<text transform="translate(284.20,283.75) scale(1.03,1.0)" text-anchor="end" font-family="DejaVu Sans, Verdana, Liberation Sans, sans-serif" font-size="14.9" fill="#000" text-rendering="geometricPrecision">0.05</text>
<text transform="translate(284.20,248.48) scale(1.03,1.0)" text-anchor="end" font-family="DejaVu Sans, Verdana, Liberation Sans, sans-serif" font-size="14.9" fill="#000" text-rendering="geometricPrecision">0.06</text>
<text transform="translate(284.20,213.21) scale(1.03,1.0)" text-anchor="end" font-family="DejaVu Sans, Verdana, Liberation Sans, sans-serif" font-size="14.9" fill="#000" text-rendering="geometricPrecision">0.07</text>
<text transform="translate(284.20,177.94) scale(1.03,1.0)" text-anchor="end" font-family="DejaVu Sans, Verdana, Liberation Sans, sans-serif" font-size="14.9" fill="#000" text-rendering="geometricPrecision">0.08</text>
<text transform="translate(284.20,142.67) scale(1.03,1.0)" text-anchor="end" font-family="DejaVu Sans, Verdana, Liberation Sans, sans-serif" font-size="14.9" fill="#000" text-rendering="geometricPrecision">0.09</text>
<text transform="translate(284.20,107.40) scale(1.03,1.0)" text-anchor="end" font-family="DejaVu Sans, Verdana, Liberation Sans, sans-serif" font-size="14.9" fill="#000" text-rendering="geometricPrecision">0.1</text>
<text transform="translate(296.75,482.30) scale(1.0,1.0)" text-anchor="middle" font-family="DejaVu Sans, Verdana, Liberation Sans, sans-serif" font-size="14.9" fill="#000" text-rendering="geometricPrecision">400</text>
<text transform="translate(410.22,482.30) scale(1.0,1.0)" text-anchor="middle" font-family="DejaVu Sans, Verdana, Liberation Sans, sans-serif" font-size="14.9" fill="#000" text-rendering="geometricPrecision">500</text>
<text transform="translate(523.69,482.30) scale(1.0,1.0)" text-anchor="middle" font-family="DejaVu Sans, Verdana, Liberation Sans, sans-serif" font-size="14.9" fill="#000" text-rendering="geometricPrecision">600</text>
<text transform="translate(637.16,482.30) scale(1.0,1.0)" text-anchor="middle" font-family="DejaVu Sans, Verdana, Liberation Sans, sans-serif" font-size="14.9" fill="#000" text-rendering="geometricPrecision">700</text>
<text transform="translate(750.63,482.30) scale(1.0,1.0)" text-anchor="middle" font-family="DejaVu Sans, Verdana, Liberation Sans, sans-serif" font-size="14.9" fill="#000" text-rendering="geometricPrecision">800</text>
</g>
<text transform="translate(523.30,502.10) scale(1.04,1.0)" text-anchor="middle" font-family="DejaVu Sans, Verdana, Liberation Sans, sans-serif" font-size="16.4" font-weight="bold" fill="#000" text-rendering="geometricPrecision">Wavelengths (nm)</text>
<g>
<path d="M693,115.15 H716" stroke="#0000D4" stroke-width="2.8"/>
<text transform="translate(718.50,120.95) scale(1.0,1.0)" text-anchor="start" font-family="DejaVu Sans, Verdana, Liberation Sans, sans-serif" font-size="14.9" fill="#000" text-rendering="geometricPrecision">50 uL</text>
<path d="M693,136.30 H716" stroke="#FF00FF" stroke-width="2.8"/>
<text transform="translate(718.50,142.10) scale(1.0,1.0)" text-anchor="start" font-family="DejaVu Sans, Verdana, Liberation Sans, sans-serif" font-size="14.9" fill="#000" text-rendering="geometricPrecision">100 uL</text>
<path d="M693,157.45 H716" stroke="#FFFF00" stroke-width="2.8"/>
<text transform="translate(718.50,163.25) scale(1.0,1.0)" text-anchor="start" font-family="DejaVu Sans, Verdana, Liberation Sans, sans-serif" font-size="14.9" fill="#000" text-rendering="geometricPrecision">150 uL</text>
<path d="M693,178.60 H716" stroke="#006411" stroke-width="2.8"/>
<text transform="translate(718.50,184.40) scale(1.0,1.0)" text-anchor="start" font-family="DejaVu Sans, Verdana, Liberation Sans, sans-serif" font-size="14.9" fill="#000" text-rendering="geometricPrecision">250 uL</text>
<path d="M693,199.75 H716" stroke="#DD0806" stroke-width="2.8"/>
<text transform="translate(718.50,205.55) scale(1.0,1.0)" text-anchor="start" font-family="DejaVu Sans, Verdana, Liberation Sans, sans-serif" font-size="14.9" fill="#000" text-rendering="geometricPrecision">300 uL</text>
</g>
<g stroke="#000" stroke-width="2.7" fill="none">
<path d="M298.4,675.35 V965.5 M297.04999999999995,958.9 H745.85"/>
<path d="M291.5,958.90 H298.4"/>
<path d="M291.5,923.63 H298.4"/>
<path d="M291.5,888.36 H298.4"/>
<path d="M291.5,853.09 H298.4"/>
<path d="M291.5,817.82 H298.4"/>
<path d="M291.5,782.55 H298.4"/>
<path d="M291.5,747.28 H298.4"/>
<path d="M291.5,712.01 H298.4"/>
<path d="M291.5,676.74 H298.4"/>
<path d="M409.95,958.9 V965.5"/>
<path d="M521.50,958.9 V965.5"/>
<path d="M633.05,958.9 V965.5"/>
<path d="M744.60,958.9 V965.5"/>
</g>
<clipPath id="ce"><rect x="298.1" y="660" width="336" height="302"/></clipPath>
<g clip-path="url(#ce)">
<g stroke="#0000D4" stroke-width="3.4" fill="none" stroke-linejoin="round" stroke-linecap="butt"><path d="M297.0,926.8 L297.1,925.9 L297.3,926.0 L297.5,924.5 L297.7,924.6 L297.9,923.0 L298.2,922.7 L298.4,922.1 L298.6,921.6 L298.8,920.5 L299.1,919.7 L299.3,919.9 L299.5,918.8 L299.7,917.6 L300.0,917.3 L300.2,916.9 L300.4,916.2 L300.6,915.4 L300.8,914.8 L301.0,913.5 L301.2,913.3 L301.4,912.6 L301.6,911.6 L301.8,912.0 L301.9,910.6 L302.1,910.1 L302.2,909.2 L302.4,909.0 L302.5,907.6 L302.7,907.9 L302.8,906.4 L303.0,905.8 L303.1,905.3 L303.3,904.0 L303.4,903.6 L303.5,903.2 L303.7,902.6 L303.8,902.0 L303.9,900.8 L304.0,900.5 L304.2,899.5 L304.3,899.1 L304.4,898.0 L304.5,897.6 L304.6,896.9 L304.8,896.4 L304.9,895.1 L305.0,894.5 L305.1,895.1 L305.2,893.8 L305.3,892.7 L305.4,892.5 L305.5,890.9 L305.6,891.1 L305.7,890.0 L305.8,890.3 L305.9,888.9 L306.0,888.2 L306.1,887.2 L306.2,887.1 L306.4,886.3 L306.5,884.8 L306.6,884.2 L306.7,883.5 L306.8,883.6 L306.9,882.7 L307.0,881.2 L307.1,880.3 L307.2,880.4 L307.3,878.9 L307.4,879.5 L307.5,878.3 L307.6,878.2 L307.7,876.3 L307.8,876.5 L307.9,875.6 L308.0,874.8 L308.1,873.9 L308.2,873.1 L308.3,872.7 L308.4,871.9 L308.5,871.7 L308.6,870.7 L308.6,869.9 L308.7,869.6 L308.8,868.7 L308.9,867.7 L309.0,867.4 L309.0,866.0 L309.1,865.6 L309.2,865.7 L309.2,864.6 L309.3,863.3 L309.4,863.3 L309.4,862.5 L309.5,862.4 L309.6,861.5 L309.6,860.1 L309.7,859.2 L309.8,858.3 L309.8,857.7 L309.9,857.8 L309.9,857.1 L310.0,855.8 L310.1,856.4 L310.1,854.2 L310.2,853.9 L310.3,853.6 L310.3,851.8 L310.4,851.6 L310.4,850.8 L310.5,850.8 L310.6,849.3 L310.6,849.3 L310.7,847.6 L310.8,847.7 L310.8,846.6 L310.9,845.9 L311.0,845.9 L311.0,844.7 L311.1,844.5 L311.2,843.6 L311.2,843.0 L311.3,841.1 L311.4,841.3 L311.5,841.3 L311.5,839.7 L311.6,839.5 L311.7,837.7 L311.7,837.4 L311.8,836.9 L311.9,836.9 L311.9,835.9 L312.0,835.2 L312.1,834.4 L312.1,833.4 L312.2,833.2 L312.3,833.0 L312.3,831.6 L312.4,830.6 L312.5,830.6 L312.6,829.6 L312.6,829.0 L312.7,828.1 L312.8,827.5 L312.9,826.7 L312.9,826.8 L313.0,825.7 L313.1,824.5 L313.2,823.8 L313.2,823.2 L313.3,822.0 L313.4,821.1 L313.5,821.4 L313.6,820.6 L313.6,819.3 L313.7,819.4 L313.8,818.2 L313.9,817.5 L314.0,816.8 L314.0,816.2 L314.1,816.0 L314.2,814.5 L314.3,814.3 L314.4,813.0 L314.5,812.7 L314.5,811.6 L314.6,811.0 L314.7,810.5 L314.8,809.7 L314.9,809.4 L315.0,808.6 L315.1,807.8 L315.2,807.0 L315.2,806.9 L315.3,806.2 L315.4,805.4 L315.5,804.6 L315.6,803.7 L315.7,803.0 L315.8,802.6 L315.9,801.9 L316.0,801.1 L316.1,800.4 L316.2,799.8 L316.3,799.2 L316.4,797.4 L316.5,797.8 L316.6,797.0 L316.7,796.7 L316.8,796.0 L316.9,795.6 L317.0,793.4 L317.1,793.2 L317.2,792.2 L317.4,791.8 L317.5,791.1 L317.6,790.2 L317.7,790.0 L317.8,789.5 L317.9,788.1 L318.0,787.6 L318.1,787.7 L318.2,785.9 L318.3,786.2 L318.4,785.3 L318.5,784.7 L318.6,783.3 L318.6,783.0 L318.7,782.4 L318.8,782.0 L318.9,780.9 L319.0,779.8 L319.1,779.6 L319.1,778.3 L319.2,778.6 L319.3,777.5 L319.4,775.9 L319.5,775.7 L319.5,775.9 L319.6,774.5 L319.7,773.4 L319.8,773.7 L319.9,772.5 L319.9,771.6 L320.0,771.0 L320.1,769.9 L320.2,770.0 L320.2,769.2 L320.3,768.2 L320.4,768.1 L320.5,767.1 L320.6,765.9 L320.6,765.7 L320.7,764.6 L320.8,764.6 L320.9,763.1 L321.0,763.3 L321.1,762.2 L321.1,762.1 L321.2,760.8 L321.3,760.0 L321.4,759.4 L321.5,759.2 L321.6,757.9 L321.6,757.5 L321.7,756.9 L321.8,755.8 L321.9,755.4 L322.0,755.4 L322.1,753.5 L322.1,753.5 L322.2,752.3 L322.3,751.9 L322.4,751.1 L322.5,750.5 L322.6,749.5 L322.7,749.3 L322.7,747.9 L322.8,748.1 L322.9,746.8 L323.0,745.9 L323.1,745.5 L323.2,744.7 L323.3,744.3 L323.4,743.9 L323.5,742.7 L323.6,741.9 L323.7,740.7 L323.8,740.4 L323.9,740.1 L324.0,738.7 L324.1,738.5 L324.2,738.0 L324.3,736.8 L324.4,736.6 L324.5,736.3 L324.6,735.4 L324.7,735.3 L324.8,733.9 L324.9,732.9 L325.0,732.0 L325.1,731.5 L325.2,730.9 L325.3,730.6 L325.4,729.9 L325.5,728.6 L325.6,728.5 L325.7,727.1 L325.9,726.8 L326.0,726.3 L326.1,724.8 L326.2,725.1 L326.4,724.2 L326.5,724.6 L326.6,722.8 L326.8,722.0 L326.9,720.9 L327.1,720.5 L327.2,720.3 L327.4,719.5 L327.5,717.8 L327.7,717.8 L327.9,717.4 L328.1,717.0 L328.3,716.0 L328.5,715.3 L328.7,714.6 L328.9,714.1 L329.2,713.9 L329.4,712.6 L329.7,712.3 L330.0,711.4 L330.3,710.6 L330.6,710.7 L331.0,709.1 L331.4,709.2 L331.8,708.1 L332.3,707.5 L332.8,707.2 L333.3,706.4 L333.8,706.1 L334.4,706.2 L334.9,706.8 L335.4,707.3 L335.9,707.3 L336.5,708.5 L337.0,708.6 L337.4,709.7 L337.9,710.3 L338.4,709.9 L338.8,711.2 L339.2,711.6 L339.6,712.1 L339.9,712.4 L340.2,713.2 L340.5,714.2 L340.7,714.2 L341.0,715.4 L341.2,715.4 L341.4,717.1 L341.7,717.3 L341.9,717.9 L342.1,718.3 L342.4,719.5 L342.6,719.2 L342.8,720.9 L343.1,721.5 L343.3,722.0 L343.5,723.1 L343.7,723.6 L343.9,723.8 L344.2,724.4 L344.4,724.9 L344.6,725.8 L344.8,726.8 L345.0,726.9 L345.2,728.4 L345.4,728.2 L345.6,729.2 L345.8,729.2 L346.1,731.1 L346.3,731.0 L346.5,731.2 L346.7,732.1 L346.9,732.6 L347.1,733.2 L347.3,734.4 L347.5,734.9 L347.7,735.7 L347.9,736.3 L348.1,737.0 L348.3,737.7 L348.5,738.1 L348.7,739.4 L348.9,740.1 L349.1,740.8 L349.3,741.1 L349.5,742.4 L349.6,742.8 L349.8,743.3 L350.0,743.9 L350.2,743.8 L350.3,744.7 L350.5,745.2 L350.7,747.0 L350.8,746.9 L351.0,747.2 L351.2,748.4 L351.3,748.6 L351.5,749.3 L351.7,751.0 L351.8,751.8 L352.0,751.8 L352.2,753.5 L352.3,753.6 L352.5,754.4 L352.7,754.8 L352.8,755.4 L353.0,757.0 L353.2,756.4 L353.3,756.8 L353.5,758.5 L353.7,759.0 L353.8,759.3 L354.0,760.3 L354.2,760.9 L354.3,761.3 L354.5,762.4 L354.7,762.7 L354.8,763.7 L355.0,764.6 L355.1,764.6 L355.3,765.4 L355.5,767.3 L355.6,767.0 L355.8,767.7 L356.0,768.4 L356.1,768.6 L356.3,769.9 L356.5,770.3 L356.6,771.4 L356.8,772.2 L357.0,772.7 L357.1,772.8 L357.3,773.7 L357.5,774.3 L357.6,774.7 L357.8,775.6 L357.9,776.8 L358.1,777.8 L358.3,777.8 L358.4,778.4 L358.6,779.1 L358.7,780.1 L358.9,781.0 L359.1,781.3 L359.2,782.0 L359.4,782.1 L359.5,783.0 L359.7,783.8 L359.8,784.7 L360.0,784.8 L360.1,786.9 L360.3,786.5 L360.4,787.9 L360.5,787.9 L360.7,788.8 L360.8,789.2 L360.9,789.6 L361.0,790.4 L361.2,791.5 L361.3,793.0 L361.4,793.6 L361.5,793.7 L361.6,794.2 L361.8,795.5 L361.9,795.3 L362.0,796.3 L362.2,797.5 L362.3,798.0 L362.5,798.7 L362.6,799.0 L362.8,798.8 L363.0,800.3 L363.1,801.0 L363.3,801.9 L363.5,802.5 L363.8,803.6 L364.0,803.9 L364.2,804.6 L364.4,804.6 L364.6,806.4 L364.9,806.6 L365.1,806.9 L365.3,808.0 L365.5,809.0 L365.7,809.2 L365.9,810.6 L366.1,811.2 L366.3,811.5 L366.5,812.1 L366.7,812.5 L366.8,813.1 L367.0,813.6 L367.2,814.8 L367.4,815.3 L367.6,816.2 L367.8,817.0 L367.9,817.6 L368.1,817.7 L368.3,818.7 L368.5,819.3 L368.7,820.2 L368.8,821.2 L369.0,821.4 L369.2,821.9 L369.4,822.6 L369.6,823.3 L369.8,824.2 L370.0,824.4 L370.1,824.8 L370.3,825.7 L370.5,826.7 L370.7,826.8 L370.9,828.4 L371.1,828.8 L371.3,829.1 L371.5,829.6 L371.7,831.2 L371.9,831.2 L372.1,831.7 L372.3,832.6 L372.5,833.2 L372.7,834.1 L372.9,835.1 L373.1,836.1 L373.3,836.6 L373.5,836.7 L373.7,837.2 L373.9,838.1 L374.1,838.1 L374.3,839.4 L374.5,840.4 L374.7,841.1 L374.9,841.4 L375.1,841.5 L375.3,842.6 L375.5,843.5 L375.7,844.4 L375.9,844.7 L376.1,845.4 L376.3,846.0 L376.5,847.0 L376.8,847.2 L377.0,848.4 L377.2,849.0 L377.4,849.1 L377.6,850.0 L377.8,851.3 L378.1,851.9 L378.3,852.4 L378.5,852.6 L378.7,853.8 L379.0,854.9 L379.2,854.9 L379.4,856.0 L379.7,856.4 L379.9,855.9 L380.1,858.0 L380.4,857.4 L380.6,859.1 L380.9,859.0 L381.1,860.3 L381.4,861.5 L381.6,861.9 L381.9,862.2 L382.1,863.3 L382.4,863.5 L382.6,864.0 L382.9,864.4 L383.1,865.3 L383.4,866.1 L383.6,866.7 L383.9,867.6 L384.2,868.0 L384.4,868.2 L384.7,869.2 L385.0,870.3 L385.2,870.7 L385.5,871.4 L385.8,871.7 L386.1,872.7 L386.4,872.1 L386.7,874.0 L387.0,875.1 L387.3,875.6 L387.6,875.8 L387.9,877.3 L388.2,876.7 L388.5,877.5 L388.8,878.3 L389.1,878.9 L389.4,879.5 L389.8,880.5 L390.1,880.1 L390.4,881.5 L390.7,882.1 L391.0,882.6 L391.4,882.9 L391.7,883.6 L392.0,885.5 L392.3,884.6 L392.6,885.8 L393.0,886.5 L393.3,886.4 L393.6,887.6 L393.9,887.9 L394.3,888.3 L394.6,889.8 L394.9,889.5 L395.2,890.7 L395.6,890.8 L395.9,891.9 L396.2,892.2 L396.5,892.6 L396.9,893.1 L397.2,894.7 L397.5,894.6 L397.9,896.6 L398.2,896.4 L398.5,896.4 L398.9,897.9 L399.2,898.0 L399.5,898.5 L399.9,898.8 L400.2,899.6 L400.5,900.2 L400.9,900.4 L401.2,901.9 L401.5,902.5 L401.9,903.1 L402.2,903.8 L402.6,903.6 L402.9,904.4 L403.3,905.1 L403.6,906.0 L404.0,907.5 L404.3,907.8 L404.7,908.0 L405.0,908.5 L405.4,909.4 L405.8,909.0 L406.2,910.2 L406.6,910.8 L407.0,911.0 L407.3,912.4 L407.7,911.8 L408.1,912.4 L408.5,913.8 L409.0,914.7 L409.4,915.4 L409.8,915.4 L410.2,916.2 L410.6,916.4 L411.1,917.3 L411.5,918.1 L411.9,918.3 L412.4,917.5 L412.8,918.9 L413.3,919.7 L413.7,920.6 L414.2,921.3 L414.6,920.9 L415.1,922.4 L415.6,921.1 L416.0,922.6 L416.5,922.2 L417.0,923.9 L417.5,923.6 L418.0,924.2 L418.5,926.0 L419.0,926.7 L419.5,925.6 L420.0,927.0 L420.5,927.1 L421.1,927.4 L421.6,928.2 L422.1,929.2 L422.6,929.5 L423.2,930.0 L423.7,930.3 L424.3,930.1 L424.8,930.8 L425.3,931.6 L425.9,932.2 L426.4,932.8 L427.0,932.2 L427.5,932.9 L428.1,933.3 L428.7,934.0 L429.2,934.6 L429.8,934.6 L430.3,935.6 L430.9,935.4 L431.5,935.6 L432.0,936.6 L432.6,936.8 L433.2,938.4 L433.8,938.2 L434.4,938.9 L434.9,938.7 L435.5,939.4 L436.1,939.0 L436.7,939.1 L437.3,940.0 L437.9,940.1 L438.5,940.6 L439.1,941.8 L439.8,941.0 L440.4,941.8 L441.0,942.3 L441.6,942.3 L442.3,942.3 L442.9,942.5 L443.5,943.8 L444.2,942.8 L444.8,944.1 L445.5,943.8 L446.1,943.7 L446.8,944.8 L447.4,945.0 L448.1,945.1 L448.7,945.2 L449.4,945.6 L450.0,945.6 L450.7,946.0 L451.4,947.3 L452.0,947.1 L452.7,946.9 L453.3,947.0 L454.0,946.9 L454.7,947.4 L455.3,947.1 L456.0,947.9 L456.7,948.2 L457.4,948.2 L458.0,948.5 L458.7,948.2 L459.4,948.5 L460.1,948.4 L460.7,948.7 L461.4,948.9 L462.1,949.5 L462.8,949.2 L463.5,949.5 L464.1,950.0 L464.8,950.0 L465.5,951.0 L466.2,949.8 L466.9,950.8 L467.5,950.8 L468.2,950.9 L468.9,951.2 L469.6,951.5 L470.3,951.1 L470.9,951.4 L471.6,952.1 L472.3,951.9 L473.0,952.2 L473.7,952.1 L474.4,952.5 L475.1,952.4 L475.7,952.1 L476.4,952.9 L477.1,953.0 L477.8,952.8 L478.5,952.6 L479.2,953.8 L479.9,953.7 L480.6,953.5 L481.2,953.8 L481.9,954.0 L482.6,952.7 L483.3,953.6 L484.0,953.8 L484.7,953.9 L485.4,953.6 L486.1,954.1 L486.8,954.3 L487.5,954.7 L488.2,954.6 L488.9,954.7 L489.6,954.6 L490.3,955.1 L491.0,954.5 L491.7,955.2 L492.4,954.7 L493.1,955.1 L493.8,955.1 L494.5,954.8 L495.2,955.3 L495.9,955.1 L496.5,956.4 L497.2,955.3 L497.9,956.0 L498.6,955.6 L499.3,956.0 L500.0,954.8 L500.7,955.7 L501.4,955.4 L502.1,955.6 L502.8,955.4 L503.5,955.9 L504.2,956.2 L504.9,955.3 L505.6,955.4 L506.4,955.5 L507.1,955.9 L507.8,955.6 L508.5,955.3 L509.2,956.1 L509.9,955.9 L510.6,955.4 L511.2,956.0 L511.9,955.3 L512.6,955.2 L513.3,955.5 L514.0,955.7 L514.7,955.8 L515.4,955.8 L516.1,955.8 L516.8,954.5 L517.5,955.3 L518.2,955.7 L518.9,954.4 L519.5,954.3 L520.2,954.2 L520.9,955.1 L521.6,953.8 L522.3,953.8 L523.0,953.1 L523.6,953.6 L524.3,954.0 L525.0,952.7 L525.7,952.4 L526.3,953.4 L527.0,952.8 L527.7,952.1 L528.3,951.9 L529.0,951.7 L529.7,951.9 L530.3,951.3 L531.0,951.4 L531.6,951.6 L532.3,950.4 L533.0,950.5 L533.6,949.9 L534.3,949.8 L535.0,949.3 L535.6,949.4 L536.3,948.9 L537.0,948.9 L537.7,948.1 L538.3,949.2 L539.0,948.9 L539.7,948.7 L540.4,948.2 L541.1,948.2 L541.8,947.6 L542.4,947.5 L543.1,946.6 L543.8,946.9 L544.5,947.5 L545.2,947.0 L545.9,947.2 L546.6,946.9 L547.3,946.7 L548.0,947.7 L548.7,947.0 L549.4,946.9 L550.1,946.5 L550.8,946.9 L551.5,946.6 L552.2,947.4 L552.9,947.3 L553.6,946.8 L554.3,947.3 L555.0,946.9 L555.7,946.7 L556.3,946.4 L557.0,947.0 L557.7,946.3 L558.4,947.9 L559.1,947.0 L559.8,947.9 L560.5,947.8 L561.2,947.8 L561.9,948.1 L562.5,948.8 L563.2,948.0 L563.9,948.5 L564.6,948.8 L565.2,949.0 L565.9,949.4 L566.6,949.4 L567.2,949.8 L567.9,949.2 L568.6,950.4 L569.3,949.4 L569.9,949.5 L570.6,950.8 L571.3,951.2 L571.9,951.0 L572.6,951.1 L573.3,952.1 L573.9,951.2 L574.6,951.9 L575.3,952.2 L576.0,951.9 L576.6,952.1 L577.3,952.5 L578.0,952.7 L578.7,952.7 L579.3,952.7 L580.0,953.1 L580.7,953.2 L581.4,952.9 L582.1,954.1 L582.8,953.9 L583.4,953.5 L584.1,953.7 L584.8,953.8 L585.5,954.9 L586.2,955.0 L586.9,954.5 L587.5,954.8 L588.2,954.3 L588.9,955.0 L589.6,955.7 L590.3,955.6 L591.0,954.9 L591.7,955.6 L592.4,955.6 L593.1,955.4 L593.8,956.1 L594.5,956.0 L595.2,956.3 L595.9,956.0 L596.6,956.7 L597.3,955.6 L598.0,955.3 L598.7,955.9 L599.4,956.4 L600.1,956.6 L600.8,956.0 L601.5,956.2 L602.2,956.5 L602.9,955.8 L603.6,956.7 L604.3,957.0 L605.0,957.0 L605.7,956.4 L606.4,955.7 L607.1,956.7 L607.8,956.2 L608.5,956.7 L609.2,955.8 L609.9,956.1 L610.6,956.9 L611.3,956.1 L612.0,956.5 L612.7,956.4 L613.4,956.2 L614.1,956.4 L614.8,955.0 L615.5,956.2 L616.2,956.1 L616.9,956.8 L617.6,956.1 L618.3,956.3 L619.0,956.6 L619.7,955.8 L620.4,956.4 L621.1,956.5 L621.8,956.3 L622.5,956.2 L623.2,956.4 L623.9,956.6 L624.6,956.3 L625.3,956.6 L626.0,956.4 L626.7,956.4 L627.4,956.2 L628.1,956.2 L628.8,956.3 L629.5,956.4 L630.2,956.3 L630.9,956.3 L631.6,956.3 L632.3,955.7 L633.0,955.9 L633.7,956.7 L634.4,956.3 L635.1,957.1 L635.8,957.0 L636.4,956.1 L637.0,956.5 L637.3,956.3"/><path d="M297.0,926.7 L297.1,927.3 L297.3,925.6 L297.5,926.0 L297.7,925.5 L297.9,924.5 L298.2,924.1 L298.4,922.7 L298.6,923.1 L298.8,921.5 L299.1,920.8 L299.3,920.7 L299.5,919.9 L299.7,919.3 L300.0,918.3 L300.2,916.5 L300.4,916.4 L300.6,916.4 L300.8,916.0 L301.0,915.1 L301.2,914.2 L301.4,914.6 L301.6,913.2 L301.8,912.3 L301.9,911.5 L302.1,910.5 L302.2,910.3 L302.4,909.1 L302.5,908.5 L302.7,908.1 L302.8,907.6 L303.0,906.2 L303.1,905.7 L303.3,905.7 L303.4,904.9 L303.5,903.8 L303.7,903.6 L303.8,902.3 L303.9,902.0 L304.0,901.0 L304.2,900.5 L304.3,899.9 L304.4,899.4 L304.5,898.6 L304.6,898.3 L304.8,897.2 L304.9,897.3 L305.0,895.9 L305.1,894.7 L305.2,894.6 L305.3,893.5 L305.4,893.0 L305.5,891.6 L305.6,891.9 L305.7,891.5 L305.8,890.7 L305.9,889.8 L306.0,888.9 L306.1,888.3 L306.2,887.9 L306.4,887.0 L306.5,886.0 L306.6,885.4 L306.7,885.5 L306.8,884.3 L306.9,883.6 L307.0,882.6 L307.1,882.4 L307.2,881.3 L307.3,879.7 L307.4,880.2 L307.5,878.6 L307.6,878.1 L307.7,878.9 L307.8,877.0 L307.9,876.0 L308.0,874.8 L308.1,874.9 L308.2,874.2 L308.3,873.0 L308.4,872.1 L308.5,871.5 L308.6,871.8 L308.6,870.9 L308.7,870.3 L308.8,870.5 L308.9,868.4 L309.0,869.0 L309.0,867.8 L309.1,866.4 L309.2,865.8 L309.2,865.5 L309.3,864.3 L309.4,863.7 L309.4,863.1 L309.5,862.4 L309.6,861.6 L309.6,861.1 L309.7,859.9 L309.8,859.1 L309.8,859.1 L309.9,858.5 L309.9,856.7 L310.0,856.6 L310.1,856.5 L310.1,855.6 L310.2,855.0 L310.3,854.6 L310.3,854.0 L310.4,852.5 L310.4,852.4 L310.5,852.2 L310.6,850.8 L310.6,850.0 L310.7,848.9 L310.8,847.7 L310.8,846.7 L310.9,846.5 L311.0,846.5 L311.0,845.5 L311.1,844.3 L311.2,844.3 L311.2,843.9 L311.3,842.2 L311.4,841.9 L311.5,841.6 L311.5,841.1 L311.6,840.1 L311.7,839.6 L311.7,839.0 L311.8,838.0 L311.9,837.3 L311.9,836.8 L312.0,835.3 L312.1,835.9 L312.1,834.4 L312.2,834.4 L312.3,833.7 L312.3,832.1 L312.4,832.3 L312.5,831.7 L312.6,830.2 L312.6,829.5 L312.7,828.6 L312.8,828.6 L312.9,828.1 L312.9,827.5 L313.0,826.4 L313.1,825.7 L313.2,824.5 L313.2,824.2 L313.3,823.4 L313.4,822.6 L313.5,822.4 L313.6,821.2 L313.6,821.0 L313.7,820.3 L313.8,819.6 L313.9,818.7 L314.0,818.6 L314.0,817.1 L314.1,816.1 L314.2,815.8 L314.3,815.5 L314.4,814.9 L314.5,813.6 L314.5,813.2 L314.6,812.7 L314.7,811.5 L314.8,810.7 L314.9,810.3 L315.0,809.8 L315.1,809.6 L315.2,808.5 L315.2,807.7 L315.3,806.9 L315.4,806.4 L315.5,805.4 L315.6,805.1 L315.7,804.5 L315.8,802.9 L315.9,802.8 L316.0,802.7 L316.1,801.1 L316.2,800.5 L316.3,800.1 L316.4,799.0 L316.5,798.0 L316.6,798.3 L316.7,796.9 L316.8,796.4 L316.9,795.5 L317.0,795.8 L317.1,794.7 L317.2,794.0 L317.4,793.3 L317.5,791.9 L317.6,791.9 L317.7,790.5 L317.8,790.3 L317.9,789.8 L318.0,789.1 L318.1,787.5 L318.2,787.9 L318.3,786.9 L318.4,786.6 L318.5,785.4 L318.6,784.6 L318.6,784.0 L318.7,783.3 L318.8,782.2 L318.9,781.8 L319.0,781.5 L319.1,779.9 L319.1,780.0 L319.2,778.4 L319.3,779.2 L319.4,777.4 L319.5,777.1 L319.5,776.6 L319.6,775.5 L319.7,774.6 L319.8,774.1 L319.9,773.9 L319.9,772.5 L320.0,772.4 L320.1,771.6 L320.2,770.4 L320.2,770.2 L320.3,769.3 L320.4,768.1 L320.5,767.8 L320.6,766.8 L320.6,766.8 L320.7,766.1 L320.8,765.5 L320.9,764.9 L321.0,763.5 L321.1,763.0 L321.1,763.3 L321.2,761.1 L321.3,760.7 L321.4,760.1 L321.5,759.5 L321.6,759.1 L321.6,758.0 L321.7,757.1 L321.8,756.9 L321.9,755.9 L322.0,755.5 L322.1,754.1 L322.1,754.4 L322.2,754.0 L322.3,752.4 L322.4,752.4 L322.5,751.8 L322.6,750.5 L322.7,750.1 L322.7,749.6 L322.8,748.3 L322.9,747.6 L323.0,747.3 L323.1,746.8 L323.2,745.7 L323.3,745.5 L323.4,744.0 L323.5,743.9 L323.6,743.2 L323.7,741.9 L323.8,742.4 L323.9,741.5 L324.0,740.2 L324.1,739.8 L324.2,738.5 L324.3,738.5 L324.4,737.2 L324.5,736.8 L324.6,735.9 L324.7,735.6 L324.8,735.1 L324.9,734.3 L325.0,733.4 L325.1,732.5 L325.2,731.9 L325.3,731.8 L325.4,731.0 L325.5,730.3 L325.6,729.4 L325.7,728.7 L325.9,728.9 L326.0,726.8 L326.1,726.0 L326.2,725.1 L326.4,724.3 L326.5,724.2 L326.6,723.7 L326.8,722.9 L326.9,723.0 L327.1,721.9 L327.2,721.4 L327.4,720.4 L327.5,719.2 L327.7,718.9 L327.9,717.4 L328.1,718.3 L328.3,716.7 L328.5,716.3 L328.7,715.4 L328.9,714.5 L329.2,714.2 L329.4,712.7 L329.7,713.2 L330.0,712.1 L330.3,711.8 L330.6,710.9 L331.0,710.5 L331.4,709.7 L331.8,708.9 L332.3,708.0 L332.8,707.9 L333.3,707.1 L333.8,706.8 L334.4,706.8 L334.9,708.3 L335.4,708.3 L335.9,708.8 L336.5,708.8 L337.0,709.7 L337.4,710.3 L337.9,711.3 L338.4,710.8 L338.8,712.2 L339.2,713.3 L339.6,712.2 L339.9,713.9 L340.2,714.3 L340.5,715.0 L340.7,714.9 L341.0,716.2 L341.2,716.2 L341.4,717.7 L341.7,718.3 L341.9,718.3 L342.1,720.4 L342.4,721.1 L342.6,721.3 L342.8,721.1 L343.1,722.3 L343.3,723.2 L343.5,722.7 L343.7,724.2 L343.9,724.9 L344.2,725.3 L344.4,726.3 L344.6,727.3 L344.8,727.1 L345.0,728.1 L345.2,729.3 L345.4,729.1 L345.6,729.7 L345.8,730.4 L346.1,731.4 L346.3,731.6 L346.5,732.1 L346.7,732.7 L346.9,733.5 L347.1,735.4 L347.3,735.9 L347.5,735.1 L347.7,736.8 L347.9,737.1 L348.1,738.2 L348.3,739.3 L348.5,739.7 L348.7,740.2 L348.9,740.2 L349.1,741.5 L349.3,741.7 L349.5,742.7 L349.6,743.6 L349.8,744.0 L350.0,745.6 L350.2,745.7 L350.3,746.3 L350.5,746.9 L350.7,748.3 L350.8,748.3 L351.0,748.6 L351.2,749.8 L351.3,749.8 L351.5,750.6 L351.7,751.6 L351.8,752.6 L352.0,752.5 L352.2,753.8 L352.3,754.1 L352.5,755.4 L352.7,756.0 L352.8,756.0 L353.0,756.0 L353.2,757.6 L353.3,758.7 L353.5,759.5 L353.7,759.9 L353.8,759.7 L354.0,760.0 L354.2,761.6 L354.3,762.7 L354.5,763.8 L354.7,764.1 L354.8,764.9 L355.0,765.9 L355.1,766.1 L355.3,766.0 L355.5,767.4 L355.6,768.6 L355.8,768.1 L356.0,768.9 L356.1,770.2 L356.3,771.0 L356.5,771.1 L356.6,771.9 L356.8,773.0 L357.0,773.3 L357.1,773.9 L357.3,774.5 L357.5,775.7 L357.6,776.4 L357.8,776.5 L357.9,777.6 L358.1,777.9 L358.3,779.4 L358.4,779.6 L358.6,780.6 L358.7,781.0 L358.9,781.1 L359.1,783.0 L359.2,782.9 L359.4,783.2 L359.5,783.6 L359.7,784.4 L359.8,787.0 L360.0,786.5 L360.1,787.6 L360.3,788.2 L360.4,788.5 L360.5,789.4 L360.7,789.5 L360.8,790.4 L360.9,791.6 L361.0,791.5 L361.2,792.1 L361.3,793.2 L361.4,793.9 L361.5,794.9 L361.6,795.0 L361.8,796.2 L361.9,797.0 L362.0,797.4 L362.2,797.3 L362.3,799.2 L362.5,799.2 L362.6,800.5 L362.8,800.8 L363.0,801.9 L363.1,801.9 L363.3,802.4 L363.5,803.2 L363.8,803.9 L364.0,804.9 L364.2,805.4 L364.4,806.4 L364.6,807.8 L364.9,807.7 L365.1,808.0 L365.3,808.8 L365.5,808.9 L365.7,810.3 L365.9,811.0 L366.1,811.8 L366.3,813.1 L366.5,813.2 L366.7,813.3 L366.8,814.3 L367.0,814.7 L367.2,815.8 L367.4,815.9 L367.6,816.7 L367.8,817.6 L367.9,817.8 L368.1,818.9 L368.3,819.3 L368.5,819.8 L368.7,822.0 L368.8,821.2 L369.0,822.7 L369.2,822.2 L369.4,824.0 L369.6,824.6 L369.8,824.5 L370.0,825.4 L370.1,825.9 L370.3,827.0 L370.5,827.2 L370.7,828.0 L370.9,829.5 L371.1,829.7 L371.3,830.7 L371.5,830.7 L371.7,832.2 L371.9,832.4 L372.1,832.6 L372.3,832.9 L372.5,834.6 L372.7,835.3 L372.9,835.5 L373.1,836.4 L373.3,836.4 L373.5,838.5 L373.7,839.1 L373.9,838.9 L374.1,840.0 L374.3,840.3 L374.5,840.8 L374.7,841.6 L374.9,842.4 L375.1,842.8 L375.3,843.9 L375.5,844.5 L375.7,844.7 L375.9,845.7 L376.1,846.0 L376.3,847.4 L376.5,847.7 L376.8,847.9 L377.0,849.4 L377.2,849.7 L377.4,850.0 L377.6,850.5 L377.8,851.7 L378.1,852.0 L378.3,853.4 L378.5,853.7 L378.7,854.6 L379.0,855.3 L379.2,855.8 L379.4,856.7 L379.7,857.2 L379.9,857.8 L380.1,857.2 L380.4,858.4 L380.6,859.3 L380.9,860.6 L381.1,860.4 L381.4,862.1 L381.6,862.6 L381.9,863.2 L382.1,863.7 L382.4,864.5 L382.6,865.3 L382.9,865.2 L383.1,866.6 L383.4,866.2 L383.6,867.6 L383.9,869.0 L384.2,868.6 L384.4,869.0 L384.7,870.1 L385.0,870.5 L385.2,870.6 L385.5,872.5 L385.8,872.6 L386.1,873.7 L386.4,874.0 L386.7,874.4 L387.0,875.1 L387.3,875.7 L387.6,876.5 L387.9,877.2 L388.2,877.1 L388.5,878.3 L388.8,879.2 L389.1,879.5 L389.4,881.2 L389.8,880.9 L390.1,881.2 L390.4,882.4 L390.7,883.2 L391.0,883.4 L391.4,884.6 L391.7,884.7 L392.0,885.3 L392.3,885.4 L392.6,886.2 L393.0,887.0 L393.3,887.8 L393.6,888.5 L393.9,889.2 L394.3,889.5 L394.6,889.2 L394.9,890.6 L395.2,891.8 L395.6,892.4 L395.9,893.0 L396.2,893.3 L396.5,893.4 L396.9,895.1 L397.2,895.7 L397.5,895.2 L397.9,896.4 L398.2,897.1 L398.5,897.8 L398.9,898.7 L399.2,898.9 L399.5,899.5 L399.9,899.9 L400.2,900.9 L400.5,901.5 L400.9,902.1 L401.2,902.6 L401.5,903.4 L401.9,903.6 L402.2,904.7 L402.6,905.1 L402.9,905.2 L403.3,906.2 L403.6,907.0 L404.0,907.2 L404.3,908.5 L404.7,909.0 L405.0,909.2 L405.4,910.1 L405.8,910.3 L406.2,910.9 L406.6,911.9 L407.0,912.1 L407.3,912.8 L407.7,913.4 L408.1,914.1 L408.5,914.0 L409.0,914.9 L409.4,915.6 L409.8,916.6 L410.2,917.4 L410.6,917.7 L411.1,917.8 L411.5,919.1 L411.9,919.5 L412.4,919.0 L412.8,920.4 L413.3,920.7 L413.7,920.7 L414.2,920.9 L414.6,921.9 L415.1,922.6 L415.6,923.7 L416.0,924.2 L416.5,925.0 L417.0,924.5 L417.5,925.7 L418.0,925.3 L418.5,926.3 L419.0,926.7 L419.5,927.5 L420.0,927.3 L420.5,927.5 L421.1,929.1 L421.6,929.6 L422.1,929.5 L422.6,929.7 L423.2,930.1 L423.7,931.4 L424.3,931.4 L424.8,931.6 L425.3,932.6 L425.9,932.3 L426.4,933.0 L427.0,933.3 L427.5,934.1 L428.1,935.1 L428.7,935.6 L429.2,934.9 L429.8,935.8 L430.3,936.2 L430.9,936.2 L431.5,937.1 L432.0,936.9 L432.6,937.6 L433.2,937.9 L433.8,938.2 L434.4,939.6 L434.9,939.5 L435.5,940.2 L436.1,940.7 L436.7,939.6 L437.3,940.9 L437.9,941.3 L438.5,941.2 L439.1,941.4 L439.8,943.1 L440.4,943.0 L441.0,942.3 L441.6,943.9 L442.3,943.1 L442.9,943.7 L443.5,943.5 L444.2,945.1 L444.8,945.1 L445.5,944.5 L446.1,945.3 L446.8,945.4 L447.4,946.0 L448.1,945.8 L448.7,946.0 L449.4,946.9 L450.0,946.3 L450.7,947.1 L451.4,947.5 L452.0,948.4 L452.7,947.9 L453.3,948.0 L454.0,947.0 L454.7,948.0 L455.3,948.2 L456.0,948.7 L456.7,948.5 L457.4,948.3 L458.0,949.6 L458.7,949.2 L459.4,950.0 L460.1,950.1 L460.7,949.5 L461.4,949.9 L462.1,950.5 L462.8,951.2 L463.5,950.9 L464.1,950.8 L464.8,950.3 L465.5,950.4 L466.2,950.7 L466.9,951.7 L467.5,951.4 L468.2,951.6 L468.9,951.9 L469.6,952.2 L470.3,952.2 L470.9,952.5 L471.6,952.1 L472.3,953.0 L473.0,953.3 L473.7,953.6 L474.4,953.8 L475.1,953.1 L475.7,953.5 L476.4,954.0 L477.1,954.1 L477.8,953.6 L478.5,954.3 L479.2,954.5 L479.9,954.1 L480.6,954.3 L481.2,954.0 L481.9,954.7 L482.6,954.2 L483.3,955.6 L484.0,953.9 L484.7,955.0 L485.4,955.2 L486.1,955.2 L486.8,955.0 L487.5,955.1 L488.2,954.7 L488.9,955.9 L489.6,955.8 L490.3,956.2 L491.0,956.0 L491.7,956.0 L492.4,956.3 L493.1,956.0 L493.8,956.1 L494.5,955.8 L495.2,956.1 L495.9,956.4 L496.5,956.8 L497.2,957.2 L497.9,956.8 L498.6,956.4 L499.3,956.4 L500.0,956.6 L500.7,956.5 L501.4,956.5 L502.1,956.6 L502.8,956.3 L503.5,956.7 L504.2,955.7 L504.9,957.2 L505.6,956.6 L506.4,956.7 L507.1,955.9 L507.8,956.3 L508.5,956.8 L509.2,956.0 L509.9,956.3 L510.6,957.0 L511.2,956.5 L511.9,956.9 L512.6,956.7 L513.3,956.3 L514.0,956.1 L514.7,956.4 L515.4,957.1 L516.1,956.3 L516.8,955.4 L517.5,955.7 L518.2,955.5 L518.9,955.1 L519.5,955.0 L520.2,955.1 L520.9,955.7 L521.6,955.3 L522.3,954.3 L523.0,954.0 L523.6,954.3 L524.3,954.9 L525.0,953.9 L525.7,954.2 L526.3,954.4 L527.0,953.8 L527.7,953.6 L528.3,951.8 L529.0,953.3 L529.7,952.2 L530.3,952.0 L531.0,951.8 L531.6,952.1 L532.3,952.2 L533.0,951.0 L533.6,950.8 L534.3,950.8 L535.0,950.2 L535.6,950.3 L536.3,949.6 L537.0,950.1 L537.7,950.2 L538.3,949.9 L539.0,949.9 L539.7,949.5 L540.4,949.5 L541.1,949.1 L541.8,949.9 L542.4,949.1 L543.1,948.8 L543.8,948.0 L544.5,948.2 L545.2,948.2 L545.9,948.7 L546.6,948.1 L547.3,948.0 L548.0,947.7 L548.7,948.6 L549.4,947.7 L550.1,948.3 L550.8,947.9 L551.5,949.1 L552.2,947.8 L552.9,947.9 L553.6,947.6 L554.3,948.3 L555.0,948.9 L555.7,947.6 L556.3,948.4 L557.0,947.1 L557.7,948.1 L558.4,948.2 L559.1,949.0 L559.8,948.7 L560.5,948.3 L561.2,949.1 L561.9,949.1 L562.5,949.1 L563.2,949.5 L563.9,949.2 L564.6,949.2 L565.2,949.9 L565.9,949.9 L566.6,950.0 L567.2,951.1 L567.9,950.3 L568.6,950.6 L569.3,951.3 L569.9,951.1 L570.6,951.9 L571.3,951.3 L571.9,952.4 L572.6,951.7 L573.3,951.9 L573.9,952.9 L574.6,952.3 L575.3,952.5 L576.0,952.7 L576.6,953.2 L577.3,953.5 L578.0,954.6 L578.7,953.8 L579.3,954.1 L580.0,954.1 L580.7,953.9 L581.4,954.6 L582.1,954.2 L582.8,954.9 L583.4,954.5 L584.1,955.0 L584.8,954.5 L585.5,955.3 L586.2,955.8 L586.9,955.9 L587.5,956.0 L588.2,956.4 L588.9,955.7 L589.6,956.6 L590.3,956.3 L591.0,956.3 L591.7,956.6 L592.4,956.9 L593.1,955.7 L593.8,956.0 L594.5,956.6 L595.2,957.1 L595.9,956.9 L596.6,957.3 L597.3,957.3 L598.0,956.2 L598.7,956.6 L599.4,956.7 L600.1,957.4 L600.8,956.7 L601.5,957.1 L602.2,957.0 L602.9,957.0 L603.6,957.5 L604.3,957.2 L605.0,957.4 L605.7,957.2 L606.4,956.7 L607.1,957.0 L607.8,957.9 L608.5,957.4 L609.2,956.9 L609.9,957.4 L610.6,957.7 L611.3,957.0 L612.0,957.4 L612.7,957.7 L613.4,957.3 L614.1,957.3 L614.8,957.2 L615.5,957.5 L616.2,957.1 L616.9,957.6 L617.6,957.8 L618.3,957.4 L619.0,957.5 L619.7,956.9 L620.4,957.3 L621.1,957.0 L621.8,958.0 L622.5,957.4 L623.2,956.9 L623.9,957.7 L624.6,957.4 L625.3,957.3 L626.0,957.1 L626.7,957.5 L627.4,957.7 L628.1,958.0 L628.8,957.5 L629.5,957.2 L630.2,957.1 L630.9,957.7 L631.6,958.1 L632.3,957.3 L633.0,957.0 L633.7,957.3 L634.4,957.0 L635.1,958.4 L635.8,957.3 L636.4,956.5 L637.0,956.9 L637.3,957.6"/></g>
<g stroke="#FF00FF" stroke-width="3.4" fill="none" stroke-linejoin="round" stroke-linecap="butt"><path d="M296.6,936.8 L296.8,936.2 L297.1,935.4 L297.3,934.9 L297.6,934.9 L297.9,934.2 L298.2,933.2 L298.5,933.3 L298.8,931.6 L299.1,931.7 L299.3,930.3 L299.6,930.5 L299.9,929.5 L300.2,929.2 L300.5,929.4 L300.8,927.0 L301.1,927.0 L301.3,926.4 L301.6,925.5 L301.8,924.9 L302.1,925.0 L302.3,923.7 L302.5,923.3 L302.7,922.6 L302.9,922.0 L303.1,921.3 L303.2,920.1 L303.4,920.2 L303.6,918.7 L303.8,918.6 L303.9,917.6 L304.1,917.2 L304.3,916.5 L304.4,915.4 L304.6,915.8 L304.7,914.1 L304.9,913.8 L305.0,912.9 L305.2,912.1 L305.3,911.7 L305.5,910.7 L305.6,910.7 L305.7,908.9 L305.9,909.0 L306.0,908.0 L306.2,907.0 L306.3,906.9 L306.4,906.6 L306.5,905.5 L306.7,904.8 L306.8,903.8 L306.9,902.7 L307.0,902.3 L307.2,901.0 L307.3,900.8 L307.4,901.1 L307.6,899.4 L307.7,898.0 L307.8,898.7 L308.0,897.9 L308.1,896.9 L308.2,895.9 L308.4,895.5 L308.5,894.8 L308.6,893.9 L308.8,893.2 L308.9,893.6 L309.0,891.8 L309.1,891.4 L309.3,891.3 L309.4,890.0 L309.5,889.1 L309.6,888.5 L309.7,888.4 L309.8,887.3 L309.9,886.4 L310.0,885.8 L310.1,885.3 L310.2,885.1 L310.3,884.2 L310.4,883.6 L310.5,883.3 L310.6,881.3 L310.7,880.2 L310.8,881.1 L311.0,878.9 L311.1,879.3 L311.2,878.7 L311.3,877.6 L311.5,877.5 L311.6,876.3 L311.8,875.8 L311.9,874.3 L312.1,874.1 L312.2,873.7 L312.3,873.6 L312.5,872.8 L312.6,871.0 L312.7,870.4 L312.8,870.5 L313.0,869.2 L313.1,869.0 L313.2,867.9 L313.3,867.6 L313.4,867.3 L313.5,866.5 L313.7,865.0 L313.8,864.2 L313.9,864.6 L314.0,862.7 L314.1,862.6 L314.2,862.0 L314.3,862.0 L314.4,860.2 L314.5,860.2 L314.6,859.3 L314.7,858.3 L314.8,858.0 L315.0,856.4 L315.1,856.7 L315.2,855.7 L315.3,854.4 L315.4,854.5 L315.5,853.5 L315.6,852.7 L315.7,852.3 L315.9,851.2 L316.0,850.6 L316.1,850.9 L316.2,849.4 L316.3,848.0 L316.5,848.0 L316.6,847.4 L316.7,847.0 L316.9,846.3 L317.0,845.4 L317.1,844.3 L317.2,844.0 L317.4,843.5 L317.5,842.1 L317.6,841.4 L317.8,841.0 L317.9,840.9 L318.0,840.1 L318.2,839.8 L318.3,838.5 L318.4,837.7 L318.6,837.2 L318.7,836.8 L318.9,835.8 L319.0,834.8 L319.1,834.6 L319.3,833.1 L319.4,832.9 L319.6,831.4 L319.7,832.0 L319.9,831.5 L320.0,830.4 L320.1,829.9 L320.3,828.8 L320.4,827.5 L320.6,826.9 L320.7,826.7 L320.9,825.7 L321.0,825.2 L321.2,825.1 L321.3,824.1 L321.5,823.4 L321.6,822.0 L321.8,822.2 L321.9,821.1 L322.1,820.1 L322.2,819.9 L322.4,819.7 L322.5,819.1 L322.7,817.6 L322.9,817.0 L323.0,816.4 L323.2,816.0 L323.3,815.6 L323.5,814.5 L323.6,813.5 L323.8,813.6 L324.0,812.3 L324.1,812.0 L324.3,810.6 L324.4,810.2 L324.6,810.1 L324.7,809.4 L324.9,808.3 L325.0,807.9 L325.2,806.6 L325.3,807.0 L325.5,805.7 L325.6,805.4 L325.8,804.3 L325.9,803.5 L326.1,802.9 L326.3,801.9 L326.5,801.2 L326.7,800.7 L326.9,800.1 L327.1,799.6 L327.4,798.3 L327.7,798.1 L328.1,797.0 L328.4,796.7 L328.8,796.6 L329.2,795.5 L329.7,794.9 L330.1,794.6 L330.6,794.2 L331.1,794.2 L331.6,793.9 L332.2,791.8 L332.8,792.9 L333.5,792.2 L334.2,791.9 L334.9,793.0 L335.6,793.2 L336.3,792.5 L336.9,792.7 L337.5,793.0 L338.1,794.1 L338.6,794.6 L339.1,794.4 L339.6,794.9 L340.0,795.3 L340.4,795.7 L340.9,796.5 L341.3,797.2 L341.7,798.0 L342.0,798.9 L342.4,799.5 L342.8,799.9 L343.2,800.6 L343.5,801.0 L343.8,802.0 L344.1,802.7 L344.4,802.4 L344.7,802.8 L345.0,804.2 L345.3,804.8 L345.6,805.3 L345.9,806.6 L346.1,807.2 L346.4,807.2 L346.7,807.6 L346.9,807.9 L347.2,809.5 L347.5,810.2 L347.8,810.2 L348.0,811.3 L348.3,812.2 L348.6,812.6 L348.9,813.5 L349.2,814.4 L349.4,814.1 L349.7,814.2 L350.0,815.4 L350.3,816.3 L350.6,816.9 L350.8,817.5 L351.1,817.7 L351.4,818.7 L351.7,820.2 L351.9,820.4 L352.2,821.7 L352.5,821.1 L352.7,822.1 L353.0,823.0 L353.2,822.7 L353.5,823.6 L353.8,825.7 L354.0,824.8 L354.2,825.9 L354.5,826.4 L354.7,828.0 L355.0,828.1 L355.2,828.5 L355.4,829.4 L355.7,830.5 L355.9,830.2 L356.1,831.7 L356.3,832.1 L356.5,832.9 L356.8,833.6 L357.0,834.0 L357.2,834.9 L357.4,835.2 L357.6,835.9 L357.9,837.1 L358.1,837.2 L358.3,837.9 L358.5,839.4 L358.7,839.6 L358.9,840.1 L359.2,841.5 L359.4,841.0 L359.6,841.6 L359.8,842.4 L360.1,843.0 L360.3,844.4 L360.5,844.7 L360.8,844.9 L361.0,845.8 L361.2,846.8 L361.5,847.0 L361.7,848.2 L362.0,847.8 L362.2,849.3 L362.5,849.6 L362.8,851.3 L363.0,851.1 L363.3,851.9 L363.6,852.5 L363.9,852.5 L364.2,853.6 L364.5,854.2 L364.8,855.4 L365.1,855.1 L365.4,855.6 L365.7,857.6 L366.0,857.1 L366.3,858.3 L366.6,858.8 L366.9,858.9 L367.2,859.5 L367.5,860.4 L367.8,861.1 L368.1,862.0 L368.4,862.5 L368.7,863.1 L369.0,864.7 L369.3,865.4 L369.7,864.9 L370.0,866.0 L370.3,866.7 L370.6,867.0 L370.9,867.9 L371.2,867.5 L371.5,868.1 L371.8,869.1 L372.2,870.2 L372.5,870.8 L372.8,871.6 L373.0,872.1 L373.3,873.5 L373.6,872.7 L373.9,874.2 L374.2,875.0 L374.4,875.3 L374.7,876.3 L375.0,876.8 L375.2,877.2 L375.5,877.1 L375.8,878.2 L376.0,879.7 L376.3,879.5 L376.6,880.4 L376.8,880.5 L377.1,881.5 L377.4,882.4 L377.7,882.9 L377.9,883.4 L378.2,884.1 L378.5,884.8 L378.8,886.3 L379.1,886.0 L379.4,886.8 L379.8,887.7 L380.1,887.7 L380.4,888.9 L380.7,888.8 L381.0,890.4 L381.4,891.0 L381.7,891.1 L382.0,891.7 L382.4,891.7 L382.7,892.8 L383.0,893.3 L383.4,893.5 L383.7,894.4 L384.0,895.9 L384.4,895.8 L384.7,896.7 L385.1,896.8 L385.4,898.8 L385.8,898.2 L386.1,898.8 L386.5,898.9 L386.8,901.4 L387.2,900.7 L387.5,901.7 L387.9,901.9 L388.2,902.3 L388.6,903.8 L389.0,903.9 L389.3,904.6 L389.7,904.7 L390.1,905.7 L390.5,905.9 L390.8,907.3 L391.2,907.3 L391.6,907.8 L392.0,908.3 L392.4,909.1 L392.8,910.0 L393.2,910.2 L393.6,910.5 L394.0,911.5 L394.5,911.5 L394.9,912.7 L395.3,913.6 L395.7,913.6 L396.2,914.3 L396.6,915.1 L397.1,915.0 L397.5,916.5 L398.0,916.4 L398.4,917.3 L398.9,916.8 L399.3,917.5 L399.8,918.8 L400.3,919.5 L400.8,919.5 L401.2,919.9 L401.7,921.0 L402.2,921.2 L402.7,921.5 L403.2,921.8 L403.7,923.0 L404.2,923.6 L404.7,923.4 L405.2,924.3 L405.7,924.4 L406.2,924.9 L406.7,925.1 L407.2,926.1 L407.7,926.6 L408.3,927.3 L408.8,927.5 L409.3,927.8 L409.9,927.8 L410.4,928.2 L411.0,929.1 L411.5,929.1 L412.1,931.0 L412.6,930.2 L413.2,931.0 L413.7,931.2 L414.3,932.0 L414.8,932.2 L415.4,933.0 L416.0,933.0 L416.5,933.9 L417.1,934.1 L417.7,934.5 L418.2,934.6 L418.8,934.9 L419.4,934.9 L420.0,935.9 L420.6,937.2 L421.2,936.7 L421.7,936.9 L422.3,937.0 L422.9,937.6 L423.6,937.9 L424.2,937.9 L424.8,938.4 L425.4,938.9 L426.0,938.9 L426.6,940.1 L427.2,940.0 L427.9,940.1 L428.5,940.6 L429.1,941.2 L429.7,941.0 L430.4,941.6 L431.0,940.6 L431.7,941.6 L432.3,942.4 L432.9,942.4 L433.6,943.5 L434.2,943.1 L434.9,943.8 L435.5,943.2 L436.2,944.3 L436.8,944.5 L437.5,944.0 L438.2,944.6 L438.8,945.4 L439.5,945.1 L440.1,945.6 L440.8,945.5 L441.4,945.4 L442.1,945.6 L442.7,946.3 L443.4,946.7 L444.1,946.8 L444.7,947.0 L445.4,948.0 L446.1,947.9 L446.7,947.8 L447.4,948.4 L448.1,947.7 L448.7,948.5 L449.4,948.7 L450.1,948.7 L450.7,948.9 L451.4,949.2 L452.1,949.5 L452.8,949.7 L453.4,949.3 L454.1,950.3 L454.8,950.0 L455.5,950.1 L456.2,950.9 L456.9,950.0 L457.5,951.0 L458.2,950.6 L458.9,950.1 L459.6,951.1 L460.3,950.9 L461.0,951.7 L461.7,952.1 L462.4,952.2 L463.1,952.4 L463.7,951.5 L464.4,951.9 L465.1,952.4 L465.8,952.5 L466.5,952.9 L467.2,952.2 L467.9,952.3 L468.6,953.2 L469.3,952.0 L470.0,953.2 L470.6,953.6 L471.3,953.6 L472.0,953.0 L472.7,953.1 L473.4,953.7 L474.1,953.4 L474.8,953.5 L475.5,953.4 L476.2,954.1 L476.9,954.0 L477.6,954.7 L478.3,954.1 L479.0,954.2 L479.6,954.8 L480.3,954.9 L481.0,954.4 L481.7,954.5 L482.4,953.8 L483.1,954.4 L483.8,954.9 L484.5,954.1 L485.2,955.2 L485.9,954.8 L486.6,954.6 L487.3,954.5 L488.0,955.0 L488.7,955.4 L489.4,955.8 L490.1,955.2 L490.8,956.1 L491.5,955.6 L492.2,955.2 L492.9,955.1 L493.6,955.8 L494.3,956.4 L495.0,956.0 L495.7,955.9 L496.4,955.2 L497.1,956.5 L497.8,956.1 L498.5,956.3 L499.2,955.8 L499.9,955.5 L500.6,956.6 L501.3,956.2 L502.0,955.9 L502.7,955.9 L503.4,955.2 L504.1,955.9 L504.8,956.4 L505.5,955.4 L506.2,956.1 L506.9,955.6 L507.6,956.2 L508.3,955.6 L509.0,956.4 L509.7,955.3 L510.4,956.0 L511.1,955.5 L511.8,955.7 L512.5,954.8 L513.2,955.7 L513.8,955.7 L514.5,955.6 L515.2,955.0 L515.9,955.2 L516.6,954.7 L517.3,956.0 L518.0,954.5 L518.7,954.7 L519.4,954.2 L520.1,954.7 L520.7,953.9 L521.4,953.9 L522.1,953.4 L522.8,953.2 L523.5,952.9 L524.1,953.9 L524.8,953.1 L525.5,952.9 L526.2,953.7 L526.8,952.7 L527.5,952.5 L528.2,952.4 L528.8,951.9 L529.5,951.6 L530.1,950.7 L530.8,951.0 L531.5,951.8 L532.1,951.0 L532.8,950.8 L533.4,949.6 L534.1,949.9 L534.8,949.4 L535.4,949.6 L536.1,949.2 L536.8,948.3 L537.4,949.5 L538.1,948.5 L538.8,948.7 L539.5,948.1 L540.1,947.6 L540.8,947.7 L541.5,947.6 L542.2,948.0 L542.9,947.2 L543.6,946.6 L544.2,946.4 L544.9,946.9 L545.6,947.5 L546.3,946.9 L547.0,946.1 L547.7,946.8 L548.4,946.5 L549.1,946.4 L549.8,946.5 L550.5,946.1 L551.2,945.7 L551.9,946.5 L552.6,946.0 L553.3,946.8 L554.0,946.6 L554.7,945.7 L555.4,946.8 L556.1,946.8 L556.7,945.8 L557.4,946.6 L558.1,946.5 L558.8,946.5 L559.5,946.0 L560.2,947.4 L560.9,947.3 L561.5,948.3 L562.2,948.0 L562.9,948.1 L563.6,948.2 L564.2,948.6 L564.9,948.0 L565.6,948.3 L566.3,948.6 L566.9,948.6 L567.6,948.4 L568.2,948.8 L568.9,948.9 L569.6,950.3 L570.2,950.5 L570.9,950.8 L571.5,949.7 L572.2,950.9 L572.9,950.7 L573.5,952.1 L574.2,952.0 L574.9,951.7 L575.6,952.1 L576.2,952.4 L576.9,952.4 L577.6,951.9 L578.2,952.7 L578.9,953.0 L579.6,952.8 L580.3,953.4 L581.0,952.9 L581.6,953.0 L582.3,954.4 L583.0,954.6 L583.7,954.3 L584.4,953.6 L585.0,955.3 L585.7,953.7 L586.4,954.6 L587.1,954.7 L587.8,954.5 L588.5,954.7 L589.2,954.8 L589.9,955.0 L590.6,955.1 L591.3,956.0 L591.9,955.9 L592.6,956.0 L593.3,955.5 L594.0,955.3 L594.7,955.3 L595.4,956.3 L596.1,955.9 L596.8,955.7 L597.5,955.8 L598.2,956.6 L598.9,956.1 L599.6,955.5 L600.3,956.0 L601.0,955.8 L601.7,956.2 L602.4,956.2 L603.1,956.1 L603.8,956.4 L604.5,956.5 L605.2,956.4 L605.9,956.2 L606.6,956.3 L607.3,956.3 L608.0,956.3 L608.7,957.1 L609.4,955.7 L610.1,955.9 L610.8,956.1 L611.5,956.2 L612.2,956.4 L612.9,956.4 L613.6,956.0 L614.3,956.1 L615.0,956.2 L615.7,956.9 L616.4,957.1 L617.1,956.7 L617.8,956.4 L618.5,956.2 L619.2,956.0 L619.9,955.9 L620.6,955.6 L621.3,956.5 L622.0,956.1 L622.7,956.3 L623.4,956.3 L624.1,956.7 L624.8,956.8 L625.5,956.0 L626.2,955.8 L626.9,956.9 L627.6,956.3 L628.3,957.0 L629.0,956.8 L629.7,956.1 L630.4,956.3 L631.1,956.2 L631.8,956.1 L632.5,956.9 L633.2,956.1 L633.9,956.1 L634.6,957.5 L635.3,956.4 L636.0,955.8 L636.7,956.5 L637.2,956.4"/><path d="M296.6,937.7 L296.8,937.7 L297.1,937.1 L297.3,936.5 L297.6,935.8 L297.9,935.2 L298.2,934.9 L298.5,934.0 L298.8,932.7 L299.1,932.8 L299.3,931.9 L299.6,931.2 L299.9,930.7 L300.2,930.0 L300.5,929.5 L300.8,929.0 L301.1,927.7 L301.3,926.9 L301.6,926.4 L301.8,926.0 L302.1,924.9 L302.3,924.1 L302.5,923.9 L302.7,923.4 L302.9,922.6 L303.1,921.9 L303.2,921.2 L303.4,920.9 L303.6,920.1 L303.8,920.0 L303.9,917.9 L304.1,917.9 L304.3,917.1 L304.4,916.0 L304.6,916.4 L304.7,915.2 L304.9,914.5 L305.0,913.5 L305.2,913.9 L305.3,912.4 L305.5,911.9 L305.6,910.7 L305.7,910.7 L305.9,910.2 L306.0,909.0 L306.2,909.2 L306.3,908.0 L306.4,906.5 L306.5,905.6 L306.7,905.4 L306.8,904.8 L306.9,904.0 L307.0,903.5 L307.2,902.8 L307.3,902.6 L307.4,901.0 L307.6,900.1 L307.7,899.5 L307.8,899.6 L308.0,899.3 L308.1,897.6 L308.2,897.7 L308.4,896.9 L308.5,896.3 L308.6,894.7 L308.8,894.5 L308.9,894.1 L309.0,892.7 L309.1,892.0 L309.3,891.6 L309.4,891.3 L309.5,891.0 L309.6,890.2 L309.7,888.9 L309.8,888.9 L309.9,887.7 L310.0,887.4 L310.1,886.2 L310.2,885.7 L310.3,884.5 L310.4,883.9 L310.5,884.1 L310.6,882.5 L310.7,881.8 L310.8,881.8 L311.0,879.8 L311.1,879.4 L311.2,879.1 L311.3,878.8 L311.5,878.5 L311.6,876.8 L311.8,876.1 L311.9,876.0 L312.1,875.4 L312.2,873.6 L312.3,874.1 L312.5,872.7 L312.6,872.0 L312.7,871.9 L312.8,870.7 L313.0,870.2 L313.1,869.3 L313.2,869.2 L313.3,868.4 L313.4,867.6 L313.5,867.0 L313.7,867.2 L313.8,866.2 L313.9,864.8 L314.0,864.4 L314.1,862.8 L314.2,863.1 L314.3,861.7 L314.4,861.3 L314.5,860.8 L314.6,860.7 L314.7,859.9 L314.8,858.0 L315.0,857.7 L315.1,856.8 L315.2,857.1 L315.3,855.3 L315.4,855.2 L315.5,855.0 L315.6,854.4 L315.7,853.3 L315.9,852.3 L316.0,851.6 L316.1,851.1 L316.2,850.7 L316.3,849.2 L316.5,848.9 L316.6,847.7 L316.7,847.4 L316.9,847.4 L317.0,846.1 L317.1,845.8 L317.2,844.6 L317.4,843.4 L317.5,843.4 L317.6,843.2 L317.8,842.0 L317.9,841.9 L318.0,839.9 L318.2,839.6 L318.3,838.7 L318.4,839.0 L318.6,838.0 L318.7,836.5 L318.9,836.4 L319.0,836.2 L319.1,835.5 L319.3,834.5 L319.4,833.4 L319.6,833.9 L319.7,832.4 L319.9,831.4 L320.0,831.7 L320.1,830.7 L320.3,830.1 L320.4,828.6 L320.6,828.5 L320.7,827.7 L320.9,827.7 L321.0,826.3 L321.2,825.4 L321.3,824.5 L321.5,824.1 L321.6,823.9 L321.8,823.2 L321.9,822.6 L322.1,821.0 L322.2,820.2 L322.4,820.5 L322.5,819.2 L322.7,818.9 L322.9,818.3 L323.0,817.3 L323.2,817.3 L323.3,816.6 L323.5,814.9 L323.6,815.2 L323.8,813.7 L324.0,812.7 L324.1,813.2 L324.3,811.8 L324.4,811.0 L324.6,810.9 L324.7,809.8 L324.9,809.4 L325.0,808.8 L325.2,807.3 L325.3,806.9 L325.5,806.7 L325.6,805.6 L325.8,805.3 L325.9,804.4 L326.1,803.4 L326.3,803.7 L326.5,802.6 L326.7,800.7 L326.9,800.4 L327.1,800.4 L327.4,800.2 L327.7,799.2 L328.1,798.7 L328.4,798.5 L328.8,797.5 L329.2,796.5 L329.7,795.8 L330.1,796.5 L330.6,794.8 L331.1,795.3 L331.6,794.0 L332.2,793.3 L332.8,793.6 L333.5,793.5 L334.2,793.3 L334.9,793.3 L335.6,794.3 L336.3,793.8 L336.9,793.9 L337.5,795.2 L338.1,794.8 L338.6,794.7 L339.1,795.4 L339.6,796.0 L340.0,796.5 L340.4,797.2 L340.9,797.7 L341.3,797.9 L341.7,799.1 L342.0,799.5 L342.4,799.9 L342.8,800.7 L343.2,801.2 L343.5,801.6 L343.8,802.5 L344.1,802.6 L344.4,804.0 L344.7,804.1 L345.0,805.1 L345.3,805.3 L345.6,806.8 L345.9,806.8 L346.1,807.7 L346.4,808.2 L346.7,808.9 L346.9,809.7 L347.2,810.8 L347.5,810.9 L347.8,811.1 L348.0,811.6 L348.3,812.8 L348.6,814.3 L348.9,814.1 L349.2,815.0 L349.4,815.2 L349.7,816.0 L350.0,815.9 L350.3,817.2 L350.6,818.3 L350.8,818.7 L351.1,818.7 L351.4,820.0 L351.7,820.6 L351.9,821.3 L352.2,821.2 L352.5,822.1 L352.7,823.2 L353.0,823.4 L353.2,824.2 L353.5,824.9 L353.8,824.5 L354.0,825.7 L354.2,827.0 L354.5,827.3 L354.7,828.5 L355.0,828.2 L355.2,830.4 L355.4,830.5 L355.7,831.1 L355.9,831.2 L356.1,832.1 L356.3,832.3 L356.5,833.8 L356.8,834.7 L357.0,834.6 L357.2,836.4 L357.4,836.0 L357.6,836.9 L357.9,837.9 L358.1,838.4 L358.3,838.7 L358.5,839.4 L358.7,840.6 L358.9,841.0 L359.2,841.5 L359.4,842.3 L359.6,842.9 L359.8,843.2 L360.1,844.4 L360.3,845.2 L360.5,844.9 L360.8,846.9 L361.0,846.6 L361.2,847.1 L361.5,848.8 L361.7,848.5 L362.0,849.2 L362.2,849.4 L362.5,850.3 L362.8,851.6 L363.0,851.9 L363.3,852.3 L363.6,852.6 L363.9,853.5 L364.2,854.2 L364.5,855.8 L364.8,855.6 L365.1,856.6 L365.4,857.0 L365.7,858.5 L366.0,858.2 L366.3,858.4 L366.6,859.3 L366.9,860.4 L367.2,860.3 L367.5,861.5 L367.8,863.0 L368.1,863.5 L368.4,863.2 L368.7,864.2 L369.0,864.1 L369.3,865.4 L369.7,865.8 L370.0,866.4 L370.3,867.1 L370.6,868.4 L370.9,868.9 L371.2,869.0 L371.5,870.2 L371.8,870.6 L372.2,870.9 L372.5,872.0 L372.8,872.2 L373.0,872.6 L373.3,873.3 L373.6,874.3 L373.9,875.5 L374.2,875.4 L374.4,875.8 L374.7,876.7 L375.0,877.1 L375.2,877.4 L375.5,878.9 L375.8,879.7 L376.0,879.7 L376.3,880.4 L376.6,881.5 L376.8,881.7 L377.1,882.8 L377.4,882.7 L377.7,884.1 L377.9,884.1 L378.2,885.4 L378.5,885.8 L378.8,886.4 L379.1,887.0 L379.4,887.5 L379.8,888.5 L380.1,888.7 L380.4,889.9 L380.7,889.6 L381.0,890.6 L381.4,891.3 L381.7,891.9 L382.0,893.3 L382.4,893.3 L382.7,894.3 L383.0,894.6 L383.4,895.5 L383.7,895.2 L384.0,895.8 L384.4,897.2 L384.7,897.2 L385.1,897.8 L385.4,898.5 L385.8,899.3 L386.1,900.2 L386.5,899.8 L386.8,900.7 L387.2,902.2 L387.5,901.8 L387.9,902.6 L388.2,903.6 L388.6,903.3 L389.0,904.9 L389.3,904.7 L389.7,906.8 L390.1,906.7 L390.5,907.0 L390.8,907.4 L391.2,908.0 L391.6,908.8 L392.0,909.2 L392.4,910.0 L392.8,910.5 L393.2,911.3 L393.6,912.2 L394.0,912.5 L394.5,912.6 L394.9,912.9 L395.3,914.5 L395.7,914.4 L396.2,914.9 L396.6,915.2 L397.1,915.8 L397.5,917.0 L398.0,917.3 L398.4,917.4 L398.9,918.6 L399.3,918.5 L399.8,920.0 L400.3,919.3 L400.8,920.7 L401.2,921.8 L401.7,921.3 L402.2,921.5 L402.7,922.5 L403.2,922.9 L403.7,924.0 L404.2,924.0 L404.7,924.9 L405.2,924.5 L405.7,925.6 L406.2,925.8 L406.7,926.3 L407.2,927.8 L407.7,926.7 L408.3,927.4 L408.8,927.9 L409.3,929.0 L409.9,929.3 L410.4,929.0 L411.0,930.4 L411.5,930.5 L412.1,930.4 L412.6,931.1 L413.2,932.3 L413.7,932.0 L414.3,932.7 L414.8,932.7 L415.4,932.4 L416.0,933.5 L416.5,933.5 L417.1,935.1 L417.7,934.8 L418.2,934.9 L418.8,935.6 L419.4,936.6 L420.0,936.9 L420.6,936.9 L421.2,937.4 L421.7,937.2 L422.3,937.4 L422.9,938.4 L423.6,939.2 L424.2,939.6 L424.8,939.3 L425.4,940.2 L426.0,940.1 L426.6,940.6 L427.2,940.6 L427.9,940.9 L428.5,941.4 L429.1,940.8 L429.7,941.3 L430.4,942.2 L431.0,942.6 L431.7,942.7 L432.3,942.7 L432.9,943.9 L433.6,943.5 L434.2,944.0 L434.9,944.2 L435.5,945.1 L436.2,945.3 L436.8,945.1 L437.5,945.3 L438.2,945.7 L438.8,945.9 L439.5,946.3 L440.1,946.2 L440.8,947.0 L441.4,946.3 L442.1,947.2 L442.7,947.3 L443.4,947.5 L444.1,947.7 L444.7,948.6 L445.4,948.3 L446.1,948.2 L446.7,948.8 L447.4,948.8 L448.1,948.8 L448.7,949.0 L449.4,950.1 L450.1,949.3 L450.7,950.2 L451.4,950.7 L452.1,950.3 L452.8,951.2 L453.4,950.6 L454.1,951.2 L454.8,950.7 L455.5,951.1 L456.2,951.0 L456.9,951.4 L457.5,951.4 L458.2,951.8 L458.9,952.5 L459.6,952.1 L460.3,952.2 L461.0,951.6 L461.7,952.2 L462.4,953.0 L463.1,952.5 L463.7,953.3 L464.4,952.7 L465.1,952.8 L465.8,953.5 L466.5,952.9 L467.2,953.5 L467.9,953.1 L468.6,953.6 L469.3,954.1 L470.0,953.5 L470.6,954.1 L471.3,954.0 L472.0,954.0 L472.7,954.7 L473.4,954.5 L474.1,953.9 L474.8,954.6 L475.5,954.7 L476.2,954.6 L476.9,954.6 L477.6,955.1 L478.3,954.8 L479.0,955.8 L479.6,955.5 L480.3,955.8 L481.0,955.0 L481.7,955.1 L482.4,956.1 L483.1,955.7 L483.8,954.7 L484.5,956.0 L485.2,956.3 L485.9,955.6 L486.6,956.0 L487.3,956.8 L488.0,956.8 L488.7,956.5 L489.4,955.9 L490.1,956.4 L490.8,956.2 L491.5,956.2 L492.2,956.2 L492.9,956.5 L493.6,957.5 L494.3,956.5 L495.0,956.7 L495.7,957.0 L496.4,957.3 L497.1,957.2 L497.8,956.6 L498.5,957.1 L499.2,957.2 L499.9,957.4 L500.6,957.1 L501.3,957.1 L502.0,957.1 L502.7,957.2 L503.4,956.7 L504.1,956.5 L504.8,957.2 L505.5,957.5 L506.2,957.1 L506.9,957.3 L507.6,956.8 L508.3,956.8 L509.0,956.6 L509.7,956.7 L510.4,957.4 L511.1,957.1 L511.8,956.4 L512.5,956.5 L513.2,956.5 L513.8,956.7 L514.5,956.8 L515.2,956.6 L515.9,956.1 L516.6,956.1 L517.3,955.5 L518.0,955.5 L518.7,955.4 L519.4,955.8 L520.1,955.9 L520.7,955.7 L521.4,955.3 L522.1,954.6 L522.8,954.4 L523.5,954.7 L524.1,954.4 L524.8,954.2 L525.5,953.9 L526.2,953.8 L526.8,953.9 L527.5,953.3 L528.2,953.5 L528.8,952.1 L529.5,952.3 L530.1,952.5 L530.8,952.1 L531.5,951.7 L532.1,951.6 L532.8,951.1 L533.4,951.7 L534.1,951.3 L534.8,950.8 L535.4,950.2 L536.1,950.4 L536.8,950.0 L537.4,949.5 L538.1,950.1 L538.8,949.1 L539.5,949.3 L540.1,949.3 L540.8,948.9 L541.5,948.4 L542.2,948.9 L542.9,948.2 L543.6,948.3 L544.2,947.9 L544.9,947.7 L545.6,947.1 L546.3,947.4 L547.0,948.1 L547.7,947.2 L548.4,948.0 L549.1,947.8 L549.8,947.1 L550.5,946.8 L551.2,947.3 L551.9,947.6 L552.6,947.2 L553.3,946.8 L554.0,947.1 L554.7,946.9 L555.4,947.3 L556.1,947.4 L556.7,947.2 L557.4,946.9 L558.1,947.3 L558.8,947.4 L559.5,947.4 L560.2,947.8 L560.9,948.7 L561.5,948.6 L562.2,948.3 L562.9,949.4 L563.6,949.4 L564.2,949.6 L564.9,949.1 L565.6,949.4 L566.3,949.4 L566.9,948.9 L567.6,949.1 L568.2,951.0 L568.9,949.9 L569.6,951.2 L570.2,950.8 L570.9,950.9 L571.5,951.7 L572.2,951.7 L572.9,952.2 L573.5,951.6 L574.2,952.6 L574.9,952.9 L575.6,952.8 L576.2,952.8 L576.9,953.3 L577.6,953.0 L578.2,954.0 L578.9,954.0 L579.6,953.9 L580.3,953.8 L581.0,954.5 L581.6,954.8 L582.3,954.9 L583.0,954.5 L583.7,954.7 L584.4,954.5 L585.0,955.5 L585.7,955.6 L586.4,956.2 L587.1,955.3 L587.8,955.9 L588.5,955.1 L589.2,956.2 L589.9,956.2 L590.6,956.2 L591.3,956.4 L591.9,956.6 L592.6,956.2 L593.3,956.4 L594.0,956.5 L594.7,956.1 L595.4,956.7 L596.1,956.8 L596.8,956.8 L597.5,956.4 L598.2,956.5 L598.9,956.3 L599.6,957.3 L600.3,956.7 L601.0,956.9 L601.7,956.6 L602.4,957.3 L603.1,957.0 L603.8,957.4 L604.5,957.8 L605.2,957.3 L605.9,957.2 L606.6,957.4 L607.3,957.3 L608.0,957.4 L608.7,957.2 L609.4,958.0 L610.1,956.6 L610.8,957.4 L611.5,957.8 L612.2,957.6 L612.9,957.3 L613.6,956.6 L614.3,956.6 L615.0,956.5 L615.7,957.1 L616.4,957.5 L617.1,957.0 L617.8,957.7 L618.5,957.9 L619.2,957.3 L619.9,957.4 L620.6,957.0 L621.3,958.2 L622.0,957.1 L622.7,957.2 L623.4,957.1 L624.1,957.8 L624.8,957.5 L625.5,957.9 L626.2,957.3 L626.9,957.1 L627.6,957.2 L628.3,958.0 L629.0,957.4 L629.7,958.2 L630.4,957.0 L631.1,956.8 L631.8,957.1 L632.5,957.0 L633.2,957.3 L633.9,957.3 L634.6,957.4 L635.3,956.8 L636.0,957.6 L636.7,957.8 L637.2,957.1"/></g>
<g stroke="#FFFF00" stroke-width="3.4" fill="none" stroke-linejoin="round" stroke-linecap="butt"><path d="M296.5,944.9 L296.7,945.1 L297.0,944.9 L297.3,943.9 L297.6,943.3 L297.9,942.2 L298.2,942.2 L298.5,941.3 L298.8,941.1 L299.1,940.0 L299.4,939.3 L299.7,939.1 L300.0,938.1 L300.3,936.9 L300.7,937.1 L301.0,936.6 L301.3,935.6 L301.6,935.1 L301.9,934.2 L302.2,933.8 L302.5,933.6 L302.8,931.9 L303.1,931.8 L303.4,931.1 L303.7,930.2 L304.0,930.3 L304.3,929.2 L304.6,928.8 L304.9,928.6 L305.2,927.4 L305.5,926.9 L305.7,925.9 L306.0,925.3 L306.3,924.5 L306.6,924.4 L306.8,923.5 L307.1,923.0 L307.3,922.5 L307.6,921.9 L307.8,921.0 L308.1,920.1 L308.3,919.1 L308.5,919.3 L308.8,917.6 L309.0,917.4 L309.2,916.5 L309.5,915.5 L309.7,915.4 L309.9,914.9 L310.2,913.9 L310.4,913.9 L310.7,913.6 L310.9,912.7 L311.1,911.6 L311.4,911.2 L311.6,910.8 L311.9,909.9 L312.1,908.8 L312.4,908.7 L312.6,907.8 L312.9,907.2 L313.1,906.1 L313.4,905.6 L313.6,905.0 L313.8,904.1 L314.1,903.9 L314.4,903.3 L314.6,902.1 L314.9,902.2 L315.1,901.5 L315.4,901.0 L315.7,899.4 L315.9,898.7 L316.2,898.4 L316.5,898.0 L316.8,897.4 L317.0,896.7 L317.3,896.4 L317.6,895.6 L317.9,894.9 L318.2,894.1 L318.5,893.3 L318.8,892.5 L319.1,892.4 L319.4,891.3 L319.7,891.1 L320.0,889.8 L320.3,889.5 L320.6,889.2 L320.9,889.1 L321.2,887.9 L321.5,887.3 L321.7,886.2 L322.0,885.5 L322.3,885.3 L322.6,884.6 L323.0,884.6 L323.3,882.7 L323.6,882.1 L323.9,882.8 L324.3,881.3 L324.6,881.1 L325.0,880.8 L325.3,879.2 L325.7,879.3 L326.1,878.3 L326.5,877.8 L327.0,877.6 L327.4,877.0 L327.9,875.9 L328.3,875.5 L328.8,875.1 L329.4,875.2 L329.9,874.5 L330.5,874.1 L331.2,873.9 L331.8,873.3 L332.5,873.0 L333.1,872.8 L333.8,872.4 L334.4,872.6 L335.1,872.8 L335.7,872.7 L336.3,873.4 L337.0,874.1 L337.6,874.0 L338.3,874.0 L338.9,874.4 L339.5,874.7 L340.1,875.5 L340.6,875.7 L341.2,876.8 L341.8,876.7 L342.3,877.4 L342.9,877.3 L343.4,877.6 L344.0,878.2 L344.5,878.7 L345.0,879.2 L345.5,879.9 L346.0,880.0 L346.5,880.8 L347.0,881.5 L347.5,881.6 L347.9,882.1 L348.4,883.3 L348.9,883.6 L349.3,884.2 L349.8,884.0 L350.2,885.3 L350.6,885.6 L351.1,885.9 L351.5,887.2 L351.9,888.1 L352.4,887.4 L352.8,888.3 L353.2,889.0 L353.7,889.1 L354.1,889.4 L354.5,890.6 L354.9,891.4 L355.4,891.9 L355.8,891.9 L356.2,892.6 L356.6,893.3 L357.0,893.7 L357.4,893.8 L357.8,895.6 L358.2,895.8 L358.7,896.0 L359.1,896.4 L359.5,897.3 L359.9,897.5 L360.3,898.6 L360.7,898.6 L361.1,899.9 L361.5,900.6 L361.9,900.5 L362.4,901.4 L362.8,901.7 L363.2,902.0 L363.6,903.7 L364.0,903.8 L364.4,904.1 L364.9,904.9 L365.3,905.1 L365.7,905.8 L366.2,906.4 L366.6,906.9 L367.0,907.4 L367.5,907.7 L367.9,908.6 L368.4,909.5 L368.8,909.8 L369.3,909.8 L369.7,910.8 L370.2,911.1 L370.7,911.9 L371.1,911.5 L371.6,912.7 L372.0,913.2 L372.5,913.8 L373.0,914.3 L373.4,915.0 L373.9,915.5 L374.4,915.7 L374.9,916.3 L375.3,918.3 L375.8,917.6 L376.3,917.7 L376.8,918.4 L377.3,919.0 L377.8,919.7 L378.2,919.6 L378.7,919.9 L379.2,920.7 L379.7,921.6 L380.2,921.5 L380.7,922.6 L381.2,923.1 L381.7,923.1 L382.2,923.9 L382.7,924.4 L383.2,925.1 L383.7,925.1 L384.3,926.0 L384.8,926.0 L385.3,926.9 L385.8,927.5 L386.3,926.9 L386.9,928.1 L387.4,928.3 L387.9,928.7 L388.5,929.7 L389.0,930.1 L389.5,930.6 L390.1,930.9 L390.6,931.1 L391.2,931.4 L391.7,932.4 L392.3,932.6 L392.9,933.4 L393.4,933.8 L394.0,933.7 L394.6,934.4 L395.2,935.3 L395.7,935.6 L396.3,935.6 L396.9,935.3 L397.5,936.7 L398.1,936.7 L398.7,936.8 L399.3,938.1 L399.9,937.6 L400.5,938.1 L401.1,938.1 L401.7,938.8 L402.3,938.8 L402.9,939.1 L403.5,939.9 L404.2,939.9 L404.8,940.4 L405.4,940.3 L406.1,940.9 L406.7,941.2 L407.3,941.2 L408.0,941.9 L408.6,942.1 L409.3,942.3 L409.9,942.7 L410.6,942.9 L411.2,943.4 L411.9,943.2 L412.5,943.2 L413.2,944.2 L413.8,944.4 L414.5,944.5 L415.2,944.9 L415.8,944.6 L416.5,945.2 L417.1,944.8 L417.8,945.5 L418.5,945.8 L419.1,945.7 L419.8,946.3 L420.4,946.1 L421.1,946.8 L421.8,946.5 L422.5,947.4 L423.1,947.2 L423.8,947.4 L424.5,947.3 L425.1,947.3 L425.8,947.8 L426.5,947.9 L427.2,948.0 L427.8,948.9 L428.5,949.3 L429.2,948.8 L429.9,949.2 L430.5,949.0 L431.2,949.6 L431.9,949.7 L432.6,949.7 L433.3,949.6 L433.9,950.0 L434.6,950.0 L435.3,950.1 L436.0,950.3 L436.7,950.5 L437.4,950.9 L438.1,950.8 L438.7,951.1 L439.4,950.8 L440.1,951.6 L440.8,950.8 L441.5,951.3 L442.2,952.0 L442.9,951.8 L443.6,951.5 L444.3,951.5 L444.9,952.1 L445.6,952.3 L446.3,952.0 L447.0,952.5 L447.7,953.0 L448.4,952.8 L449.1,952.6 L449.8,953.3 L450.5,953.8 L451.2,953.3 L451.9,953.1 L452.6,953.3 L453.3,953.2 L454.0,953.3 L454.7,953.1 L455.4,953.1 L456.1,953.4 L456.7,953.9 L457.4,954.5 L458.1,954.3 L458.8,954.0 L459.5,954.0 L460.2,954.4 L460.9,953.8 L461.6,953.8 L462.3,954.2 L463.0,954.5 L463.7,954.4 L464.4,954.3 L465.1,954.2 L465.8,954.7 L466.5,955.1 L467.2,954.7 L467.9,954.8 L468.6,955.1 L469.3,954.4 L470.0,955.4 L470.7,954.7 L471.4,955.1 L472.1,954.5 L472.8,955.3 L473.5,955.4 L474.2,954.3 L474.9,955.3 L475.6,955.7 L476.3,954.9 L477.0,955.5 L477.7,955.2 L478.4,955.4 L479.1,955.6 L479.8,956.1 L480.5,955.7 L481.2,955.5 L481.9,955.6 L482.6,955.2 L483.3,956.0 L484.0,955.2 L484.7,955.5 L485.4,955.5 L486.1,955.8 L486.8,955.5 L487.5,956.6 L488.2,955.9 L488.9,956.4 L489.6,955.6 L490.3,956.1 L491.0,956.4 L491.7,955.8 L492.4,956.1 L493.1,956.2 L493.8,956.6 L494.5,955.9 L495.2,956.0 L495.9,955.7 L496.6,955.7 L497.3,956.0 L498.0,956.1 L498.7,955.7 L499.4,956.5 L500.1,956.5 L500.8,955.8 L501.5,955.7 L502.2,956.7 L502.9,956.2 L503.6,956.0 L504.3,956.0 L504.9,955.9 L505.6,955.7 L506.3,955.7 L507.0,955.3 L507.7,955.7 L508.4,955.2 L509.1,955.7 L509.8,955.0 L510.5,955.3 L511.2,955.0 L511.9,954.6 L512.6,954.7 L513.3,954.4 L514.0,954.3 L514.6,954.5 L515.3,954.6 L516.0,953.6 L516.7,954.0 L517.4,953.3 L518.1,954.3 L518.7,953.3 L519.4,953.2 L520.1,953.0 L520.8,952.9 L521.5,952.1 L522.1,952.4 L522.8,952.5 L523.5,952.0 L524.1,951.6 L524.8,952.2 L525.4,951.7 L526.1,951.1 L526.7,951.0 L527.4,950.9 L528.0,949.9 L528.7,950.2 L529.3,950.0 L529.9,950.0 L530.6,949.6 L531.2,948.5 L531.8,948.2 L532.5,948.2 L533.1,947.9 L533.7,947.8 L534.4,946.9 L535.0,946.9 L535.7,946.7 L536.3,946.4 L537.0,946.9 L537.6,946.2 L538.3,945.7 L538.9,945.7 L539.6,945.4 L540.2,944.9 L540.9,944.7 L541.6,943.8 L542.2,944.7 L542.9,943.6 L543.6,943.5 L544.2,943.6 L544.9,943.7 L545.6,943.1 L546.2,942.6 L546.9,942.7 L547.6,942.2 L548.3,942.1 L549.0,942.5 L549.6,942.0 L550.3,942.4 L551.0,942.4 L551.7,942.0 L552.4,941.8 L553.1,942.1 L553.8,941.5 L554.5,942.0 L555.2,942.3 L555.9,942.0 L556.6,942.1 L557.3,941.9 L558.0,941.9 L558.7,942.5 L559.4,942.3 L560.0,942.3 L560.7,942.8 L561.4,943.2 L562.1,943.7 L562.7,943.6 L563.4,943.6 L564.0,944.2 L564.7,944.3 L565.3,944.7 L566.0,944.6 L566.6,945.0 L567.3,945.6 L567.9,945.7 L568.5,945.5 L569.2,945.9 L569.8,946.8 L570.5,946.9 L571.1,947.4 L571.7,947.4 L572.4,947.7 L573.0,948.5 L573.6,948.8 L574.3,948.6 L574.9,949.0 L575.6,949.4 L576.2,949.6 L576.9,950.2 L577.5,950.7 L578.2,950.3 L578.8,950.4 L579.5,950.8 L580.2,951.0 L580.8,951.3 L581.5,951.7 L582.1,951.7 L582.8,952.0 L583.5,952.0 L584.1,952.3 L584.8,952.8 L585.5,953.1 L586.1,952.8 L586.8,953.7 L587.5,953.4 L588.2,953.7 L588.8,953.6 L589.5,953.8 L590.2,953.9 L590.9,954.2 L591.6,954.1 L592.3,954.5 L593.0,954.6 L593.7,954.4 L594.4,954.7 L595.0,954.6 L595.7,955.1 L596.4,955.2 L597.1,955.4 L597.8,955.1 L598.5,955.4 L599.2,955.5 L599.9,955.6 L600.6,955.5 L601.3,955.1 L602.0,955.7 L602.7,956.0 L603.4,955.7 L604.1,955.6 L604.8,955.2 L605.5,954.9 L606.2,955.6 L606.9,955.5 L607.6,955.9 L608.3,956.0 L609.0,956.1 L609.7,955.5 L610.4,955.7 L611.1,955.5 L611.8,955.6 L612.5,956.1 L613.2,955.3 L613.9,956.1 L614.6,956.4 L615.3,956.2 L616.0,956.4 L616.7,955.8 L617.4,955.9 L618.1,956.1 L618.8,955.6 L619.5,955.9 L620.2,955.5 L620.9,955.6 L621.6,955.7 L622.3,955.9 L623.0,955.6 L623.7,955.8 L624.4,955.7 L625.1,955.6 L625.8,956.1 L626.5,955.9 L627.2,956.0 L627.9,955.7 L628.6,956.6 L629.3,955.7 L630.0,955.8 L630.7,955.9 L631.4,956.8 L632.1,956.2 L632.8,956.0 L633.5,956.2 L634.2,955.6 L634.9,956.3 L635.6,956.0 L636.3,956.5 L636.8,956.0 L637.2,955.7"/><path d="M296.5,946.2 L296.7,945.6 L297.0,944.8 L297.3,945.2 L297.6,943.9 L297.9,943.4 L298.2,943.1 L298.5,942.0 L298.8,941.4 L299.1,941.2 L299.4,940.0 L299.7,939.5 L300.0,938.9 L300.3,938.0 L300.7,937.6 L301.0,937.5 L301.3,935.8 L301.6,935.9 L301.9,935.4 L302.2,934.8 L302.5,933.7 L302.8,933.0 L303.1,932.8 L303.4,932.1 L303.7,931.1 L304.0,930.9 L304.3,929.6 L304.6,929.8 L304.9,928.9 L305.2,928.3 L305.5,927.5 L305.7,926.9 L306.0,926.0 L306.3,926.3 L306.6,924.8 L306.8,924.4 L307.1,923.6 L307.3,923.0 L307.6,922.7 L307.8,921.9 L308.1,921.0 L308.3,920.3 L308.5,919.5 L308.8,919.2 L309.0,917.6 L309.2,917.8 L309.5,917.1 L309.7,916.2 L309.9,916.1 L310.2,914.8 L310.4,914.6 L310.7,913.6 L310.9,913.2 L311.1,912.8 L311.4,911.5 L311.6,910.8 L311.9,910.7 L312.1,909.7 L312.4,909.5 L312.6,908.8 L312.9,907.5 L313.1,908.2 L313.4,906.5 L313.6,905.9 L313.8,904.8 L314.1,904.7 L314.4,904.3 L314.6,903.5 L314.9,902.9 L315.1,901.5 L315.4,902.0 L315.7,900.4 L315.9,899.8 L316.2,900.2 L316.5,899.0 L316.8,898.0 L317.0,897.4 L317.3,897.4 L317.6,896.5 L317.9,896.1 L318.2,894.7 L318.5,894.2 L318.8,893.5 L319.1,893.3 L319.4,892.8 L319.7,892.3 L320.0,891.2 L320.3,890.4 L320.6,889.7 L320.9,889.9 L321.2,888.4 L321.5,887.7 L321.7,887.3 L322.0,887.5 L322.3,885.9 L322.6,885.0 L323.0,885.2 L323.3,883.9 L323.6,883.9 L323.9,883.1 L324.3,882.1 L324.6,881.9 L325.0,881.5 L325.3,880.6 L325.7,879.5 L326.1,879.9 L326.5,878.8 L327.0,877.9 L327.4,877.9 L327.9,877.1 L328.3,876.5 L328.8,876.1 L329.4,875.9 L329.9,875.3 L330.5,874.8 L331.2,874.8 L331.8,874.2 L332.5,874.2 L333.1,873.1 L333.8,873.4 L334.4,873.1 L335.1,874.3 L335.7,873.8 L336.3,874.2 L337.0,874.7 L337.6,874.2 L338.3,875.3 L338.9,875.9 L339.5,875.5 L340.1,876.1 L340.6,876.5 L341.2,877.5 L341.8,877.5 L342.3,878.1 L342.9,878.3 L343.4,879.2 L344.0,879.0 L344.5,879.5 L345.0,880.2 L345.5,880.6 L346.0,881.5 L346.5,881.1 L347.0,881.9 L347.5,883.1 L347.9,883.2 L348.4,883.4 L348.9,884.3 L349.3,884.8 L349.8,885.7 L350.2,885.7 L350.6,886.5 L351.1,886.7 L351.5,887.3 L351.9,888.0 L352.4,888.2 L352.8,889.3 L353.2,889.4 L353.7,890.2 L354.1,891.0 L354.5,891.5 L354.9,892.6 L355.4,892.7 L355.8,892.9 L356.2,893.9 L356.6,894.0 L357.0,894.8 L357.4,895.8 L357.8,895.6 L358.2,896.8 L358.7,896.8 L359.1,897.7 L359.5,898.3 L359.9,898.8 L360.3,899.6 L360.7,900.1 L361.1,900.5 L361.5,901.2 L361.9,902.0 L362.4,902.2 L362.8,902.8 L363.2,903.0 L363.6,904.5 L364.0,904.5 L364.4,905.0 L364.9,905.1 L365.3,905.9 L365.7,906.9 L366.2,907.3 L366.6,907.8 L367.0,908.0 L367.5,908.4 L367.9,909.2 L368.4,909.7 L368.8,910.7 L369.3,911.3 L369.7,911.3 L370.2,912.2 L370.7,912.0 L371.1,913.5 L371.6,913.5 L372.0,914.4 L372.5,915.3 L373.0,915.7 L373.4,915.6 L373.9,916.6 L374.4,917.0 L374.9,917.9 L375.3,918.0 L375.8,918.8 L376.3,918.5 L376.8,919.4 L377.3,920.6 L377.8,920.8 L378.2,920.7 L378.7,921.7 L379.2,922.4 L379.7,923.0 L380.2,922.4 L380.7,923.4 L381.2,923.7 L381.7,924.0 L382.2,925.1 L382.7,925.4 L383.2,925.6 L383.7,926.6 L384.3,926.3 L384.8,927.6 L385.3,927.5 L385.8,928.2 L386.3,928.3 L386.9,929.2 L387.4,929.5 L387.9,930.1 L388.5,930.0 L389.0,930.8 L389.5,931.6 L390.1,931.4 L390.6,932.5 L391.2,933.0 L391.7,933.0 L392.3,933.4 L392.9,933.2 L393.4,934.1 L394.0,934.7 L394.6,934.8 L395.2,935.3 L395.7,936.2 L396.3,936.0 L396.9,936.5 L397.5,937.0 L398.1,937.0 L398.7,937.4 L399.3,938.3 L399.9,938.5 L400.5,938.7 L401.1,938.7 L401.7,940.4 L402.3,939.8 L402.9,941.0 L403.5,940.2 L404.2,940.8 L404.8,940.9 L405.4,941.7 L406.1,941.9 L406.7,942.0 L407.3,942.3 L408.0,942.5 L408.6,943.0 L409.3,943.2 L409.9,943.4 L410.6,944.0 L411.2,944.1 L411.9,944.6 L412.5,944.6 L413.2,944.8 L413.8,945.1 L414.5,945.1 L415.2,945.0 L415.8,945.2 L416.5,945.9 L417.1,946.6 L417.8,946.3 L418.5,946.6 L419.1,946.6 L419.8,946.9 L420.4,947.5 L421.1,947.2 L421.8,948.0 L422.5,947.9 L423.1,948.9 L423.8,948.4 L424.5,948.7 L425.1,948.4 L425.8,949.1 L426.5,949.7 L427.2,949.4 L427.8,949.5 L428.5,949.5 L429.2,949.2 L429.9,949.7 L430.5,950.1 L431.2,950.2 L431.9,950.6 L432.6,950.6 L433.3,951.0 L433.9,950.5 L434.6,950.8 L435.3,951.1 L436.0,951.7 L436.7,950.9 L437.4,951.7 L438.1,951.7 L438.7,951.7 L439.4,951.8 L440.1,952.2 L440.8,952.5 L441.5,952.7 L442.2,952.2 L442.9,952.9 L443.6,953.1 L444.3,952.9 L444.9,952.6 L445.6,953.4 L446.3,953.5 L447.0,953.0 L447.7,953.5 L448.4,953.0 L449.1,954.1 L449.8,953.6 L450.5,953.2 L451.2,953.6 L451.9,953.7 L452.6,953.8 L453.3,954.2 L454.0,954.6 L454.7,954.1 L455.4,954.6 L456.1,954.8 L456.7,955.0 L457.4,954.8 L458.1,954.6 L458.8,954.5 L459.5,955.1 L460.2,955.0 L460.9,955.5 L461.6,955.5 L462.3,955.1 L463.0,955.6 L463.7,955.8 L464.4,955.3 L465.1,955.6 L465.8,955.5 L466.5,955.8 L467.2,955.8 L467.9,956.0 L468.6,956.2 L469.3,956.1 L470.0,955.9 L470.7,955.9 L471.4,955.9 L472.1,956.1 L472.8,957.1 L473.5,956.0 L474.2,956.0 L474.9,956.2 L475.6,956.4 L476.3,956.8 L477.0,956.1 L477.7,955.8 L478.4,956.5 L479.1,956.4 L479.8,956.6 L480.5,956.6 L481.2,956.9 L481.9,956.5 L482.6,956.4 L483.3,956.7 L484.0,956.5 L484.7,956.9 L485.4,956.6 L486.1,956.9 L486.8,956.4 L487.5,956.7 L488.2,956.5 L488.9,957.0 L489.6,957.8 L490.3,957.1 L491.0,957.0 L491.7,957.0 L492.4,956.2 L493.1,956.9 L493.8,957.4 L494.5,956.8 L495.2,957.0 L495.9,956.5 L496.6,957.1 L497.3,956.7 L498.0,957.1 L498.7,957.1 L499.4,957.0 L500.1,956.9 L500.8,957.3 L501.5,956.6 L502.2,956.7 L502.9,957.0 L503.6,957.0 L504.3,956.9 L504.9,957.1 L505.6,956.3 L506.3,956.7 L507.0,955.8 L507.7,956.2 L508.4,957.1 L509.1,955.6 L509.8,956.2 L510.5,956.2 L511.2,955.6 L511.9,956.2 L512.6,956.2 L513.3,954.9 L514.0,955.1 L514.6,955.5 L515.3,955.2 L516.0,955.1 L516.7,954.5 L517.4,954.0 L518.1,954.0 L518.7,954.5 L519.4,954.3 L520.1,954.0 L520.8,954.4 L521.5,953.1 L522.1,953.4 L522.8,952.6 L523.5,953.0 L524.1,952.8 L524.8,952.7 L525.4,952.3 L526.1,951.4 L526.7,951.9 L527.4,951.6 L528.0,951.1 L528.7,950.9 L529.3,951.3 L529.9,950.6 L530.6,949.9 L531.2,950.1 L531.8,949.3 L532.5,949.0 L533.1,948.6 L533.7,948.6 L534.4,948.4 L535.0,947.6 L535.7,947.6 L536.3,947.2 L537.0,947.4 L537.6,946.7 L538.3,946.6 L538.9,946.5 L539.6,946.0 L540.2,945.6 L540.9,945.5 L541.6,945.3 L542.2,945.0 L542.9,945.1 L543.6,944.7 L544.2,944.5 L544.9,944.8 L545.6,944.1 L546.2,943.9 L546.9,943.6 L547.6,943.3 L548.3,943.3 L549.0,942.8 L549.6,943.1 L550.3,943.0 L551.0,943.2 L551.7,942.8 L552.4,943.2 L553.1,942.5 L553.8,942.8 L554.5,942.5 L555.2,942.4 L555.9,942.9 L556.6,942.9 L557.3,942.9 L558.0,943.5 L558.7,942.7 L559.4,943.5 L560.0,943.8 L560.7,943.6 L561.4,944.0 L562.1,944.4 L562.7,944.2 L563.4,944.7 L564.0,945.3 L564.7,945.4 L565.3,945.8 L566.0,945.4 L566.6,946.3 L567.3,945.8 L567.9,946.3 L568.5,946.7 L569.2,947.2 L569.8,947.5 L570.5,947.5 L571.1,948.2 L571.7,948.1 L572.4,948.4 L573.0,949.1 L573.6,949.5 L574.3,949.5 L574.9,949.6 L575.6,950.6 L576.2,950.7 L576.9,950.5 L577.5,951.1 L578.2,951.5 L578.8,951.7 L579.5,951.8 L580.2,951.7 L580.8,952.0 L581.5,952.3 L582.1,952.5 L582.8,952.9 L583.5,953.1 L584.1,953.3 L584.8,953.4 L585.5,953.9 L586.1,953.7 L586.8,953.9 L587.5,953.8 L588.2,954.6 L588.8,954.5 L589.5,954.2 L590.2,955.2 L590.9,954.9 L591.6,955.1 L592.3,955.2 L593.0,955.7 L593.7,955.0 L594.4,955.3 L595.0,955.6 L595.7,955.5 L596.4,955.8 L597.1,956.1 L597.8,957.2 L598.5,956.2 L599.2,955.6 L599.9,956.2 L600.6,956.4 L601.3,956.1 L602.0,956.3 L602.7,956.8 L603.4,956.1 L604.1,956.4 L604.8,956.6 L605.5,956.5 L606.2,956.5 L606.9,956.4 L607.6,956.9 L608.3,956.7 L609.0,956.9 L609.7,956.8 L610.4,956.6 L611.1,956.7 L611.8,956.5 L612.5,956.9 L613.2,956.2 L613.9,956.8 L614.6,957.1 L615.3,957.1 L616.0,957.4 L616.7,956.8 L617.4,956.8 L618.1,956.6 L618.8,956.7 L619.5,956.2 L620.2,956.5 L620.9,956.7 L621.6,956.9 L622.3,956.8 L623.0,956.6 L623.7,956.6 L624.4,956.6 L625.1,957.0 L625.8,956.6 L626.5,956.8 L627.2,957.0 L627.9,957.3 L628.6,956.6 L629.3,956.6 L630.0,956.6 L630.7,956.9 L631.4,956.2 L632.1,957.0 L632.8,957.1 L633.5,956.8 L634.2,956.4 L634.9,956.7 L635.6,957.1 L636.3,957.2 L636.8,956.7 L637.2,957.2"/></g>
<g stroke="#006411" stroke-width="3.4" fill="none" stroke-linejoin="round" stroke-linecap="butt"><path d="M294.9,955.5 L295.3,955.0 L295.8,954.8 L296.4,954.5 L297.0,954.4 L297.6,954.4 L298.3,953.8 L298.9,953.2 L299.6,953.2 L300.2,953.5 L300.9,952.3 L301.6,951.9 L302.2,952.5 L302.8,952.1 L303.5,952.2 L304.1,951.0 L304.8,951.3 L305.4,950.4 L306.1,951.4 L306.8,950.8 L307.4,950.2 L308.1,950.5 L308.8,949.7 L309.5,950.0 L310.1,950.4 L310.8,949.7 L311.5,949.0 L312.2,949.1 L312.8,948.1 L313.5,948.9 L314.2,948.3 L314.9,948.0 L315.5,948.0 L316.2,948.2 L316.9,946.9 L317.6,947.5 L318.2,947.0 L318.9,947.0 L319.6,947.5 L320.3,947.2 L321.0,946.7 L321.7,947.4 L322.4,947.3 L323.1,946.6 L323.8,946.9 L324.5,946.8 L325.2,946.5 L325.9,946.8 L326.6,946.8 L327.3,946.5 L328.0,946.4 L328.7,946.6 L329.4,946.4 L330.1,946.8 L330.8,946.0 L331.5,946.6 L332.2,945.9 L332.9,946.7 L333.6,946.0 L334.3,946.3 L335.0,946.3 L335.7,946.7 L336.4,946.3 L337.1,946.6 L337.8,946.8 L338.5,946.2 L339.2,946.9 L339.9,947.4 L340.5,946.8 L341.2,947.1 L341.9,946.7 L342.6,946.7 L343.3,947.0 L344.0,947.7 L344.7,947.3 L345.4,946.9 L346.1,947.6 L346.8,947.9 L347.5,947.1 L348.2,948.0 L348.9,948.1 L349.6,947.9 L350.3,947.8 L351.0,948.6 L351.7,948.6 L352.4,948.7 L353.1,947.9 L353.7,948.4 L354.4,948.8 L355.1,948.3 L355.8,949.2 L356.5,948.1 L357.2,949.2 L357.9,948.9 L358.6,949.0 L359.3,949.5 L360.0,949.2 L360.7,949.1 L361.4,949.8 L362.1,949.9 L362.7,949.3 L363.4,950.2 L364.1,950.9 L364.8,950.3 L365.5,949.8 L366.2,950.4 L366.9,950.3 L367.6,950.5 L368.3,950.4 L369.0,949.9 L369.7,951.2 L370.4,951.0 L371.1,951.5 L371.8,951.2 L372.5,951.2 L373.2,951.3 L373.8,951.4 L374.5,951.4 L375.2,952.0 L375.9,951.4 L376.5,952.2 L377.2,952.1 L377.9,952.5 L378.6,952.3 L379.3,952.6 L380.0,952.8 L380.7,952.7 L381.4,953.6 L382.1,952.7 L382.8,953.0 L383.5,952.7 L384.2,953.4 L384.9,952.6 L385.6,952.7 L386.3,953.3 L387.0,953.2 L387.6,953.1 L388.3,953.7 L389.0,953.0 L389.7,952.8 L390.4,953.4 L391.1,953.3 L391.8,953.9 L392.5,954.3 L393.2,953.9 L393.9,954.1 L394.6,953.9 L395.3,954.5 L396.0,954.2 L396.7,954.7 L397.4,953.5 L398.1,954.4 L398.8,954.4 L399.5,954.9 L400.2,954.5 L400.9,954.4 L401.6,954.7 L402.3,954.9 L403.0,955.3 L403.7,954.1 L404.4,955.0 L405.1,955.4 L405.8,954.9 L406.5,955.2 L407.2,955.0 L407.9,955.4 L408.6,955.1 L409.3,955.1 L410.0,955.1 L410.7,955.3 L411.4,955.4 L412.1,955.2 L412.8,955.3 L413.4,955.2 L414.1,955.6 L414.8,955.7 L415.5,955.6 L416.2,955.8 L416.9,955.3 L417.6,956.1 L418.3,955.4 L419.0,956.0 L419.7,955.7 L420.4,956.1 L421.1,956.4 L421.8,956.9 L422.5,956.0 L423.2,956.2 L423.9,956.0 L424.6,956.3 L425.3,956.2 L426.0,956.7 L426.7,956.3 L427.4,956.7 L428.1,956.7 L428.8,956.0 L429.5,956.6 L430.2,956.6 L430.9,956.6 L431.6,956.6 L432.3,956.7 L433.0,955.8 L433.7,956.6 L434.4,956.9 L435.1,956.6 L435.8,956.5 L436.5,956.5 L437.2,956.6 L437.9,957.1 L438.6,957.1 L439.3,957.4 L440.0,956.4 L440.7,956.7 L441.4,956.4 L442.1,956.5 L442.8,956.5 L443.5,956.6 L444.2,957.5 L444.9,956.9 L445.6,956.8 L446.3,956.7 L447.0,956.6 L447.7,957.1 L448.4,956.3 L449.1,956.6 L449.8,956.8 L450.5,957.2 L451.2,957.0 L451.9,956.9 L452.6,956.8 L453.3,957.1 L454.0,957.3 L454.7,957.0 L455.4,956.8 L456.1,956.1 L456.8,956.9 L457.5,956.8 L458.2,957.5 L458.9,956.8 L459.6,956.3 L460.3,956.6 L461.0,957.4 L461.7,956.7 L462.4,957.1 L463.1,957.3 L463.8,957.0 L464.5,957.3 L465.2,956.9 L465.9,956.6 L466.6,956.8 L467.3,956.6 L468.0,956.9 L468.7,956.8 L469.4,956.8 L470.1,956.5 L470.8,956.6 L471.5,957.0 L472.2,956.9 L472.9,957.4 L473.6,957.1 L474.3,956.7 L475.0,957.0 L475.7,956.6 L476.4,956.6 L477.1,957.1 L477.8,955.9 L478.5,956.5 L479.2,956.5 L479.9,956.7 L480.6,956.3 L481.4,955.9 L482.1,956.7 L482.8,956.5 L483.5,956.6 L484.2,956.7 L484.9,956.8 L485.6,956.7 L486.2,956.6 L486.9,956.6 L487.6,957.6 L488.3,956.1 L489.0,956.7 L489.7,956.9 L490.4,957.0 L491.1,956.7 L491.8,956.8 L492.5,956.8 L493.2,956.9 L493.9,956.8 L494.6,957.0 L495.3,956.7 L496.0,956.2 L496.7,956.3 L497.4,956.8 L498.1,956.3 L498.8,956.4 L499.5,956.3 L500.2,956.3 L500.9,956.8 L501.6,957.3 L502.3,956.6 L503.0,956.9 L503.7,957.1 L504.4,956.4 L505.1,956.6 L505.8,955.8 L506.5,956.3 L507.2,956.1 L507.9,956.3 L508.6,955.9 L509.3,955.9 L510.0,956.2 L510.7,956.0 L511.4,955.9 L512.1,954.5 L512.8,955.2 L513.4,955.1 L514.1,954.3 L514.8,955.2 L515.5,954.6 L516.2,955.3 L516.9,954.6 L517.6,954.7 L518.3,954.2 L519.0,954.1 L519.6,954.2 L520.3,953.6 L521.0,953.2 L521.7,953.5 L522.4,953.5 L523.0,952.8 L523.7,953.0 L524.4,952.8 L525.1,952.6 L525.7,952.0 L526.4,952.5 L527.0,951.7 L527.7,951.8 L528.4,951.3 L529.0,952.0 L529.7,951.1 L530.3,951.0 L530.9,951.0 L531.6,949.9 L532.2,950.1 L532.9,949.1 L533.5,948.9 L534.2,949.5 L534.8,948.6 L535.5,948.3 L536.1,948.5 L536.8,948.4 L537.5,947.4 L538.1,947.5 L538.8,947.3 L539.4,946.6 L540.1,946.9 L540.8,946.4 L541.4,946.4 L542.1,946.3 L542.8,946.4 L543.5,945.7 L544.1,945.9 L544.8,945.8 L545.5,945.8 L546.2,945.1 L546.8,944.5 L547.5,944.7 L548.2,944.2 L548.9,943.6 L549.6,944.5 L550.3,944.3 L551.0,943.8 L551.7,944.0 L552.4,944.1 L553.1,944.2 L553.8,944.1 L554.5,943.6 L555.2,944.1 L555.8,944.2 L556.5,943.7 L557.2,944.4 L557.9,943.7 L558.6,944.5 L559.3,944.7 L560.0,945.0 L560.6,945.3 L561.3,945.5 L562.0,945.7 L562.7,945.3 L563.3,945.6 L564.0,945.5 L564.6,946.2 L565.3,946.7 L566.0,946.5 L566.6,947.5 L567.2,947.5 L567.9,947.8 L568.5,946.9 L569.2,948.5 L569.8,948.8 L570.5,948.5 L571.1,949.1 L571.8,949.2 L572.4,949.8 L573.1,949.6 L573.7,950.2 L574.4,950.4 L575.0,950.1 L575.7,951.0 L576.3,951.1 L577.0,951.1 L577.7,951.0 L578.3,951.6 L579.0,951.6 L579.6,952.2 L580.3,952.6 L581.0,952.1 L581.7,952.6 L582.3,953.8 L583.0,953.5 L583.7,953.2 L584.3,953.4 L585.0,954.0 L585.7,953.9 L586.4,954.0 L587.1,954.1 L587.8,954.1 L588.4,954.3 L589.1,954.6 L589.8,954.6 L590.5,955.0 L591.2,954.7 L591.9,955.5 L592.6,955.3 L593.3,955.3 L594.0,955.0 L594.7,956.0 L595.4,955.4 L596.1,955.4 L596.8,956.6 L597.5,955.2 L598.2,955.4 L598.9,955.9 L599.6,955.7 L600.3,956.2 L601.0,956.2 L601.7,956.2 L602.4,956.4 L603.1,955.9 L603.8,955.8 L604.5,956.2 L605.2,956.3 L605.9,955.8 L606.6,956.6 L607.3,956.4 L608.0,955.4 L608.7,956.0 L609.4,955.9 L610.1,956.8 L610.8,955.9 L611.5,956.1 L612.2,956.0 L612.9,955.6 L613.6,955.9 L614.3,956.5 L615.0,956.7 L615.7,955.9 L616.4,956.5 L617.1,955.7 L617.8,956.6 L618.5,956.4 L619.2,956.0 L619.9,956.6 L620.6,956.1 L621.3,956.6 L622.0,956.3 L622.7,956.1 L623.4,955.8 L624.1,956.0 L624.8,956.7 L625.5,956.1 L626.2,956.2 L626.9,956.4 L627.6,956.7 L628.3,956.5 L629.0,955.8 L629.7,955.7 L630.4,956.3 L631.1,956.6 L631.8,956.0 L632.5,956.6 L633.2,955.1 L633.9,955.7 L634.5,955.7 L635.2,956.8 L635.9,956.5 L636.4,956.4 L636.8,956.1 L637.1,956.5"/><path d="M294.9,956.1 L295.3,956.0 L295.8,955.8 L296.4,954.5 L297.0,954.8 L297.6,955.1 L298.3,954.2 L298.9,954.9 L299.6,954.0 L300.2,953.8 L300.9,953.2 L301.6,953.4 L302.2,953.8 L302.8,952.7 L303.5,952.2 L304.1,951.8 L304.8,951.4 L305.4,951.9 L306.1,951.5 L306.8,950.8 L307.4,951.4 L308.1,950.7 L308.8,950.3 L309.5,950.1 L310.1,950.4 L310.8,950.1 L311.5,950.2 L312.2,949.9 L312.8,949.8 L313.5,949.6 L314.2,949.6 L314.9,949.3 L315.5,948.5 L316.2,948.1 L316.9,948.2 L317.6,948.7 L318.2,948.1 L318.9,947.6 L319.6,948.0 L320.3,948.1 L321.0,947.3 L321.7,946.9 L322.4,947.7 L323.1,947.6 L323.8,947.4 L324.5,947.4 L325.2,947.7 L325.9,947.4 L326.6,947.1 L327.3,946.8 L328.0,947.2 L328.7,946.8 L329.4,947.2 L330.1,946.8 L330.8,947.4 L331.5,946.2 L332.2,946.7 L332.9,947.2 L333.6,946.9 L334.3,946.5 L335.0,946.9 L335.7,947.0 L336.4,947.1 L337.1,946.6 L337.8,947.2 L338.5,947.2 L339.2,947.7 L339.9,947.1 L340.5,947.6 L341.2,946.7 L341.9,948.4 L342.6,947.7 L343.3,948.8 L344.0,948.2 L344.7,948.1 L345.4,947.5 L346.1,948.2 L346.8,948.0 L347.5,948.3 L348.2,948.7 L348.9,949.4 L349.6,948.4 L350.3,949.2 L351.0,949.4 L351.7,949.3 L352.4,947.9 L353.1,949.3 L353.7,948.6 L354.4,949.0 L355.1,949.4 L355.8,949.1 L356.5,949.4 L357.2,950.0 L357.9,950.0 L358.6,949.8 L359.3,949.6 L360.0,950.4 L360.7,950.5 L361.4,950.1 L362.1,950.5 L362.7,950.3 L363.4,950.4 L364.1,950.7 L364.8,950.7 L365.5,950.8 L366.2,951.1 L366.9,950.6 L367.6,950.9 L368.3,951.1 L369.0,951.1 L369.7,951.9 L370.4,951.2 L371.1,951.1 L371.8,951.3 L372.5,952.3 L373.2,952.1 L373.8,951.9 L374.5,951.8 L375.2,952.9 L375.9,953.1 L376.5,953.1 L377.2,952.5 L377.9,953.1 L378.6,953.3 L379.3,952.9 L380.0,953.7 L380.7,953.4 L381.4,953.3 L382.1,953.5 L382.8,953.6 L383.5,953.4 L384.2,953.6 L384.9,953.4 L385.6,953.7 L386.3,953.7 L387.0,954.2 L387.6,954.1 L388.3,954.2 L389.0,954.8 L389.7,954.1 L390.4,954.7 L391.1,954.5 L391.8,954.3 L392.5,954.1 L393.2,954.0 L393.9,955.0 L394.6,954.4 L395.3,955.2 L396.0,954.8 L396.7,954.6 L397.4,955.0 L398.1,955.3 L398.8,954.6 L399.5,954.9 L400.2,955.5 L400.9,955.4 L401.6,955.3 L402.3,954.8 L403.0,955.5 L403.7,955.3 L404.4,955.7 L405.1,955.7 L405.8,955.8 L406.5,955.5 L407.2,955.7 L407.9,956.1 L408.6,955.2 L409.3,956.1 L410.0,956.4 L410.7,955.9 L411.4,956.2 L412.1,956.0 L412.8,956.5 L413.4,956.6 L414.1,956.0 L414.8,955.9 L415.5,956.1 L416.2,956.1 L416.9,956.8 L417.6,956.6 L418.3,955.9 L419.0,956.7 L419.7,956.2 L420.4,957.0 L421.1,957.2 L421.8,956.5 L422.5,957.0 L423.2,957.2 L423.9,956.4 L424.6,956.6 L425.3,956.5 L426.0,956.7 L426.7,957.0 L427.4,957.5 L428.1,957.6 L428.8,957.4 L429.5,957.0 L430.2,957.1 L430.9,956.4 L431.6,957.5 L432.3,957.1 L433.0,957.6 L433.7,957.7 L434.4,957.6 L435.1,957.2 L435.8,957.7 L436.5,956.9 L437.2,957.8 L437.9,957.7 L438.6,957.5 L439.3,957.7 L440.0,957.6 L440.7,957.3 L441.4,957.3 L442.1,958.1 L442.8,957.4 L443.5,957.9 L444.2,957.3 L444.9,957.3 L445.6,958.2 L446.3,957.6 L447.0,957.5 L447.7,956.0 L448.4,957.7 L449.1,957.9 L449.8,957.9 L450.5,957.5 L451.2,958.1 L451.9,958.2 L452.6,957.7 L453.3,957.3 L454.0,957.2 L454.7,957.8 L455.4,957.3 L456.1,958.0 L456.8,956.7 L457.5,957.5 L458.2,957.9 L458.9,957.3 L459.6,957.9 L460.3,957.1 L461.0,958.0 L461.7,958.0 L462.4,957.6 L463.1,957.5 L463.8,957.7 L464.5,957.3 L465.2,957.0 L465.9,957.9 L466.6,957.7 L467.3,957.7 L468.0,957.8 L468.7,957.2 L469.4,957.7 L470.1,957.2 L470.8,957.3 L471.5,957.4 L472.2,957.7 L472.9,957.7 L473.6,957.4 L474.3,957.4 L475.0,957.3 L475.7,957.5 L476.4,957.7 L477.1,957.7 L477.8,957.9 L478.5,957.6 L479.2,957.7 L479.9,957.2 L480.6,957.4 L481.4,957.1 L482.1,957.6 L482.8,957.9 L483.5,957.1 L484.2,957.7 L484.9,957.7 L485.6,957.8 L486.2,957.1 L486.9,957.4 L487.6,957.3 L488.3,957.2 L489.0,957.2 L489.7,957.2 L490.4,956.5 L491.1,957.1 L491.8,957.6 L492.5,957.8 L493.2,957.1 L493.9,957.0 L494.6,957.6 L495.3,957.5 L496.0,957.2 L496.7,956.9 L497.4,957.0 L498.1,957.4 L498.8,957.5 L499.5,957.2 L500.2,957.6 L500.9,958.2 L501.6,957.4 L502.3,957.1 L503.0,956.6 L503.7,957.3 L504.4,957.2 L505.1,956.8 L505.8,956.6 L506.5,956.6 L507.2,956.3 L507.9,957.1 L508.6,956.6 L509.3,956.3 L510.0,956.1 L510.7,956.3 L511.4,956.1 L512.1,956.0 L512.8,955.8 L513.4,955.3 L514.1,955.9 L514.8,955.3 L515.5,955.6 L516.2,955.6 L516.9,954.3 L517.6,955.0 L518.3,954.5 L519.0,954.5 L519.6,954.5 L520.3,954.2 L521.0,953.8 L521.7,954.7 L522.4,953.9 L523.0,954.4 L523.7,953.1 L524.4,952.9 L525.1,953.4 L525.7,952.8 L526.4,953.0 L527.0,952.4 L527.7,953.1 L528.4,952.4 L529.0,951.7 L529.7,952.1 L530.3,951.4 L530.9,950.6 L531.6,950.3 L532.2,950.0 L532.9,950.6 L533.5,949.9 L534.2,949.5 L534.8,949.7 L535.5,949.3 L536.1,948.6 L536.8,949.0 L537.5,948.0 L538.1,947.6 L538.8,948.5 L539.4,947.7 L540.1,947.9 L540.8,947.0 L541.4,947.3 L542.1,947.5 L542.8,947.1 L543.5,946.2 L544.1,946.2 L544.8,946.7 L545.5,946.1 L546.2,945.6 L546.8,946.0 L547.5,944.8 L548.2,945.1 L548.9,945.4 L549.6,945.3 L550.3,944.5 L551.0,945.0 L551.7,944.8 L552.4,944.3 L553.1,944.5 L553.8,945.0 L554.5,944.6 L555.2,944.7 L555.8,944.7 L556.5,944.8 L557.2,944.6 L557.9,945.2 L558.6,945.2 L559.3,945.6 L560.0,945.5 L560.6,945.4 L561.3,946.2 L562.0,946.1 L562.7,946.6 L563.3,946.4 L564.0,947.1 L564.6,947.5 L565.3,947.5 L566.0,947.5 L566.6,948.3 L567.2,948.5 L567.9,948.4 L568.5,948.8 L569.2,948.5 L569.8,948.8 L570.5,949.7 L571.1,949.5 L571.8,949.7 L572.4,950.7 L573.1,951.0 L573.7,951.0 L574.4,950.7 L575.0,951.3 L575.7,951.6 L576.3,951.5 L577.0,952.2 L577.7,952.3 L578.3,952.9 L579.0,952.8 L579.6,953.4 L580.3,952.9 L581.0,953.5 L581.7,953.8 L582.3,954.1 L583.0,953.9 L583.7,954.1 L584.3,953.6 L585.0,954.7 L585.7,955.1 L586.4,955.4 L587.1,954.4 L587.8,955.2 L588.4,955.2 L589.1,955.6 L589.8,955.7 L590.5,955.5 L591.2,955.3 L591.9,955.1 L592.6,956.2 L593.3,955.6 L594.0,955.5 L594.7,956.0 L595.4,956.8 L596.1,957.1 L596.8,957.0 L597.5,956.8 L598.2,956.3 L598.9,956.4 L599.6,956.6 L600.3,956.6 L601.0,957.2 L601.7,957.4 L602.4,955.9 L603.1,956.8 L603.8,956.8 L604.5,956.2 L605.2,956.9 L605.9,956.5 L606.6,956.9 L607.3,956.4 L608.0,957.3 L608.7,956.4 L609.4,956.5 L610.1,956.4 L610.8,957.0 L611.5,956.8 L612.2,956.9 L612.9,956.8 L613.6,956.0 L614.3,956.8 L615.0,957.3 L615.7,957.1 L616.4,956.7 L617.1,956.8 L617.8,956.9 L618.5,957.4 L619.2,957.0 L619.9,956.7 L620.6,956.9 L621.3,957.1 L622.0,957.0 L622.7,956.4 L623.4,956.6 L624.1,957.3 L624.8,956.6 L625.5,957.2 L626.2,956.9 L626.9,957.1 L627.6,957.2 L628.3,957.1 L629.0,956.6 L629.7,957.0 L630.4,957.2 L631.1,957.0 L631.8,956.9 L632.5,957.3 L633.2,957.1 L633.9,957.7 L634.5,957.3 L635.2,956.7 L635.9,957.1 L636.4,957.0 L636.8,956.5 L637.1,957.0"/></g>
<g stroke="#DD0806" stroke-width="3.2" fill="none" stroke-linejoin="round" stroke-linecap="butt"><path d="M294.7,957.4 L295.1,957.8 L295.6,957.7 L296.3,957.6 L296.9,957.5 L297.6,956.9 L298.3,957.2 L299.0,956.9 L299.7,956.2 L300.4,957.2 L301.1,956.7 L301.8,956.8 L302.4,956.2 L303.1,955.5 L303.8,955.6 L304.5,955.9 L305.2,956.0 L305.9,955.9 L306.6,955.9 L307.3,955.2 L308.0,955.0 L308.7,955.4 L309.4,954.6 L310.1,955.2 L310.8,955.0 L311.5,954.9 L312.2,955.3 L312.8,954.9 L313.5,955.1 L314.2,955.0 L314.9,954.8 L315.6,954.9 L316.3,955.0 L317.0,954.8 L317.7,955.5 L318.4,954.7 L319.1,954.3 L319.8,954.7 L320.5,955.1 L321.2,954.9 L321.9,955.4 L322.6,955.1 L323.3,955.1 L324.0,954.9 L324.7,954.9 L325.4,954.9 L326.1,954.9 L326.8,954.9 L327.6,954.8 L328.3,954.6 L329.0,955.0 L329.7,954.8 L330.4,954.8 L331.1,954.8 L331.8,954.7 L332.5,955.0 L333.2,954.6 L333.9,955.0 L334.6,954.7 L335.3,954.4 L336.0,955.0 L336.7,954.7 L337.3,954.4 L338.0,955.1 L338.7,955.1 L339.4,955.3 L340.1,954.9 L340.8,956.0 L341.5,955.1 L342.2,955.4 L342.9,955.2 L343.6,955.2 L344.3,955.1 L345.0,955.2 L345.7,955.3 L346.4,955.3 L347.1,954.8 L347.8,955.4 L348.5,955.3 L349.2,955.7 L349.9,955.1 L350.6,955.2 L351.3,955.0 L352.0,955.9 L352.7,955.3 L353.4,955.2 L354.1,955.6 L354.8,956.0 L355.5,955.5 L356.2,955.7 L356.9,955.5 L357.6,956.0 L358.3,955.6 L359.0,956.2 L359.7,955.6 L360.4,956.0 L361.1,956.1 L361.8,956.3 L362.5,955.7 L363.2,955.6 L363.9,955.6 L364.6,956.2 L365.3,955.7 L366.0,955.5 L366.7,955.8 L367.4,955.7 L368.1,955.5 L368.8,956.2 L369.5,956.1 L370.2,956.1 L370.9,956.2 L371.6,955.9 L372.3,955.9 L373.0,956.5 L373.7,955.9 L374.4,956.4 L375.1,955.7 L375.8,956.4 L376.5,956.3 L377.2,956.1 L377.9,955.8 L378.6,955.4 L379.3,955.8 L380.0,955.7 L380.7,955.9 L381.4,955.7 L382.1,956.2 L382.8,956.0 L383.5,956.3 L384.2,955.8 L384.9,956.6 L385.6,956.4 L386.3,956.9 L387.0,955.9 L387.7,956.6 L388.4,956.7 L389.1,956.4 L389.8,956.5 L390.5,956.7 L391.2,956.3 L391.9,956.4 L392.6,956.8 L393.3,956.2 L394.0,957.2 L394.7,956.5 L395.4,956.5 L396.1,956.3 L396.8,956.9 L397.5,956.3 L398.2,956.7 L398.9,956.5 L399.6,956.5 L400.3,956.2 L401.0,956.3 L401.7,956.3 L402.4,956.5 L403.1,956.5 L403.8,956.3 L404.5,956.5 L405.2,956.3 L405.9,956.3 L406.6,956.9 L407.3,956.5 L408.0,956.7 L408.7,957.1 L409.4,956.9 L410.1,956.5 L410.8,957.1 L411.5,956.9 L412.2,957.6 L412.9,956.9 L413.6,956.7 L414.3,956.8 L415.0,956.9 L415.7,956.6 L416.4,956.8 L417.1,956.6 L417.8,956.6 L418.5,956.9 L419.2,956.6 L419.9,956.9 L420.6,956.9 L421.3,956.2 L422.0,956.6 L422.7,957.1 L423.4,956.8 L424.1,957.1 L424.8,956.8 L425.5,956.9 L426.2,956.8 L426.9,956.8 L427.6,956.7 L428.3,957.2 L429.0,956.7 L429.7,957.0 L430.4,956.9 L431.1,957.3 L431.8,956.6 L432.5,957.2 L433.2,957.0 L433.9,957.0 L434.6,957.1 L435.3,957.0 L436.0,957.3 L436.7,957.4 L437.4,957.3 L438.1,957.5 L438.8,957.3 L439.5,957.5 L440.2,956.8 L440.9,957.0 L441.6,957.2 L442.3,957.2 L443.0,957.1 L443.7,957.3 L444.4,957.2 L445.1,956.6 L445.8,957.2 L446.5,957.9 L447.2,956.9 L447.9,957.1 L448.6,956.9 L449.3,957.3 L450.0,957.6 L450.7,957.8 L451.4,957.2 L452.1,957.1 L452.8,957.1 L453.5,957.0 L454.2,957.4 L454.9,957.1 L455.6,957.1 L456.3,956.9 L457.0,957.7 L457.7,957.5 L458.4,957.9 L459.1,957.4 L459.8,957.5 L460.5,957.3 L461.2,957.1 L461.9,957.2 L462.6,956.6 L463.3,957.2 L464.0,957.0 L464.7,957.2 L465.4,957.3 L466.1,956.9 L466.8,957.2 L467.5,957.2 L468.2,956.9 L468.9,957.3 L469.6,956.8 L470.3,957.0 L471.0,957.2 L471.7,956.8 L472.4,957.3 L473.1,956.7 L473.8,957.1 L474.5,957.1 L475.2,957.1 L475.9,957.4 L476.6,956.9 L477.3,956.8 L478.0,957.6 L478.7,957.2 L479.4,957.0 L480.1,957.7 L480.8,957.2 L481.5,957.4 L482.2,957.5 L482.9,957.2 L483.6,956.8 L484.3,956.6 L485.0,957.2 L485.7,957.0 L486.4,956.8 L487.1,956.7 L487.8,956.5 L488.5,956.7 L489.2,957.0 L489.9,956.9 L490.6,957.1 L491.3,956.5 L492.0,956.9 L492.7,957.2 L493.4,956.6 L494.1,957.0 L494.8,957.4 L495.5,956.3 L496.2,956.5 L496.9,956.7 L497.6,956.7 L498.3,956.7 L499.0,956.5 L499.7,956.2 L500.4,955.8 L501.1,956.7 L501.8,956.1 L502.5,956.1 L503.2,956.1 L503.9,956.1 L504.6,956.4 L505.3,956.4 L506.0,956.0 L506.7,956.1 L507.4,956.1 L508.1,955.3 L508.8,956.3 L509.5,956.3 L510.2,955.4 L510.9,955.1 L511.6,956.0 L512.3,955.8 L513.0,955.7 L513.7,955.2 L514.4,955.8 L515.1,955.1 L515.7,955.3 L516.4,955.2 L517.1,954.9 L517.8,955.1 L518.5,954.3 L519.2,954.8 L519.9,954.5 L520.6,954.1 L521.3,954.2 L521.9,953.8 L522.6,953.7 L523.3,953.3 L524.0,952.9 L524.6,953.5 L525.3,953.1 L526.0,953.4 L526.7,952.4 L527.3,952.6 L528.0,952.5 L528.6,951.9 L529.3,951.6 L530.0,950.7 L530.6,951.1 L531.3,951.5 L531.9,950.4 L532.6,949.9 L533.2,950.1 L533.9,949.6 L534.6,949.9 L535.2,949.5 L535.9,949.7 L536.6,948.7 L537.2,949.3 L537.9,948.2 L538.6,948.0 L539.2,948.6 L539.9,948.0 L540.6,948.2 L541.3,947.8 L542.0,947.0 L542.6,947.0 L543.3,947.0 L544.0,947.2 L544.7,946.7 L545.4,946.7 L546.1,947.3 L546.8,946.5 L547.4,946.4 L548.1,946.6 L548.8,945.7 L549.5,946.1 L550.2,946.3 L550.9,946.1 L551.6,945.6 L552.3,946.4 L553.0,945.6 L553.7,945.7 L554.4,945.6 L555.1,945.9 L555.8,946.3 L556.5,945.6 L557.2,946.0 L557.9,945.8 L558.6,946.2 L559.2,946.0 L559.9,946.5 L560.6,947.0 L561.3,946.5 L562.0,947.3 L562.6,947.2 L563.3,946.9 L564.0,947.9 L564.6,948.2 L565.3,948.1 L566.0,948.7 L566.6,949.0 L567.3,948.9 L568.0,949.0 L568.6,949.3 L569.3,950.0 L569.9,950.1 L570.6,950.3 L571.2,950.5 L571.9,949.9 L572.6,950.7 L573.2,951.2 L573.9,951.5 L574.6,951.9 L575.2,951.4 L575.9,951.6 L576.6,952.2 L577.2,952.1 L577.9,952.1 L578.6,952.4 L579.3,952.8 L579.9,953.3 L580.6,953.4 L581.3,953.2 L582.0,953.3 L582.6,953.5 L583.3,954.0 L584.0,954.2 L584.7,954.6 L585.4,953.9 L586.1,954.5 L586.7,954.4 L587.4,955.1 L588.1,954.8 L588.8,955.1 L589.5,955.2 L590.2,955.0 L590.9,955.3 L591.6,955.0 L592.3,955.4 L593.0,955.5 L593.7,955.8 L594.4,956.0 L595.1,955.8 L595.8,955.9 L596.5,956.5 L597.2,955.7 L597.9,956.1 L598.6,956.3 L599.2,956.7 L599.9,956.0 L600.6,956.1 L601.3,956.1 L602.0,955.9 L602.7,956.1 L603.4,956.4 L604.1,956.1 L604.8,955.7 L605.5,956.7 L606.2,956.1 L606.9,956.5 L607.6,956.3 L608.3,956.7 L609.0,956.4 L609.7,956.4 L610.4,956.4 L611.1,956.7 L611.8,956.1 L612.5,956.4 L613.2,956.6 L613.9,956.4 L614.6,957.0 L615.3,956.4 L616.0,956.4 L616.7,956.5 L617.4,956.8 L618.1,956.4 L618.8,956.5 L619.5,956.7 L620.2,956.6 L620.9,956.2 L621.6,956.1 L622.3,956.4 L623.0,956.6 L623.7,956.1 L624.4,956.6 L625.1,956.3 L625.8,957.2 L626.5,956.3 L627.2,956.2 L627.9,956.5 L628.6,956.3 L629.3,956.3 L630.0,956.1 L630.7,956.4 L631.4,956.9 L632.1,956.4 L632.8,956.0 L633.5,956.5 L634.2,956.2 L634.9,956.2 L635.6,956.2 L636.2,956.5 L636.6,956.4 L637.0,956.5"/><path d="M294.7,958.0 L295.1,958.3 L295.6,958.2 L296.3,957.5 L296.9,957.5 L297.6,957.2 L298.3,957.5 L299.0,957.3 L299.7,956.0 L300.4,956.6 L301.1,956.5 L301.8,956.7 L302.4,956.2 L303.1,956.7 L303.8,956.0 L304.5,956.1 L305.2,955.7 L305.9,955.3 L306.6,955.8 L307.3,956.4 L308.0,956.3 L308.7,955.4 L309.4,955.2 L310.1,955.3 L310.8,955.3 L311.5,955.5 L312.2,955.7 L312.8,955.4 L313.5,955.5 L314.2,955.2 L314.9,955.2 L315.6,955.5 L316.3,955.6 L317.0,955.3 L317.7,955.3 L318.4,955.3 L319.1,955.1 L319.8,955.8 L320.5,955.2 L321.2,954.7 L321.9,955.4 L322.6,955.3 L323.3,955.3 L324.0,955.3 L324.7,954.5 L325.4,955.0 L326.1,955.0 L326.8,955.6 L327.6,955.4 L328.3,955.0 L329.0,954.5 L329.7,955.0 L330.4,955.2 L331.1,955.5 L331.8,955.3 L332.5,955.5 L333.2,955.4 L333.9,955.0 L334.6,955.3 L335.3,955.3 L336.0,955.2 L336.7,955.3 L337.3,955.4 L338.0,955.2 L338.7,955.3 L339.4,956.2 L340.1,955.7 L340.8,955.0 L341.5,955.3 L342.2,955.7 L342.9,955.3 L343.6,955.1 L344.3,955.7 L345.0,955.3 L345.7,955.9 L346.4,955.4 L347.1,955.4 L347.8,955.9 L348.5,955.7 L349.2,955.5 L349.9,955.9 L350.6,955.9 L351.3,956.0 L352.0,956.4 L352.7,955.6 L353.4,956.1 L354.1,956.3 L354.8,955.7 L355.5,956.1 L356.2,956.0 L356.9,955.5 L357.6,955.5 L358.3,956.3 L359.0,956.3 L359.7,956.0 L360.4,955.9 L361.1,955.9 L361.8,956.3 L362.5,955.9 L363.2,956.6 L363.9,956.6 L364.6,956.1 L365.3,956.0 L366.0,956.6 L366.7,956.8 L367.4,956.3 L368.1,956.1 L368.8,957.1 L369.5,956.4 L370.2,955.9 L370.9,956.4 L371.6,956.1 L372.3,956.1 L373.0,956.0 L373.7,956.5 L374.4,956.5 L375.1,956.7 L375.8,956.5 L376.5,955.6 L377.2,956.6 L377.9,956.0 L378.6,957.2 L379.3,956.3 L380.0,956.3 L380.7,956.4 L381.4,956.2 L382.1,956.2 L382.8,957.0 L383.5,956.7 L384.2,956.3 L384.9,956.6 L385.6,956.5 L386.3,956.1 L387.0,957.1 L387.7,957.2 L388.4,956.8 L389.1,956.4 L389.8,957.1 L390.5,957.2 L391.2,956.4 L391.9,957.0 L392.6,956.8 L393.3,957.1 L394.0,957.0 L394.7,957.7 L395.4,957.1 L396.1,957.0 L396.8,956.7 L397.5,956.7 L398.2,957.4 L398.9,956.9 L399.6,956.8 L400.3,957.1 L401.0,957.0 L401.7,957.2 L402.4,957.0 L403.1,957.5 L403.8,956.8 L404.5,957.1 L405.2,957.3 L405.9,956.8 L406.6,957.3 L407.3,956.8 L408.0,956.1 L408.7,957.5 L409.4,957.1 L410.1,957.5 L410.8,957.0 L411.5,957.0 L412.2,956.7 L412.9,957.4 L413.6,957.5 L414.3,957.4 L415.0,956.7 L415.7,957.7 L416.4,957.2 L417.1,957.0 L417.8,957.0 L418.5,957.1 L419.2,957.5 L419.9,957.0 L420.6,957.9 L421.3,957.0 L422.0,957.4 L422.7,957.1 L423.4,957.2 L424.1,957.3 L424.8,957.6 L425.5,957.3 L426.2,957.5 L426.9,957.2 L427.6,957.4 L428.3,957.1 L429.0,957.1 L429.7,957.1 L430.4,956.8 L431.1,957.4 L431.8,956.9 L432.5,957.2 L433.2,957.6 L433.9,957.4 L434.6,957.7 L435.3,957.6 L436.0,957.8 L436.7,957.2 L437.4,957.9 L438.1,957.4 L438.8,957.5 L439.5,957.6 L440.2,957.5 L440.9,957.8 L441.6,957.3 L442.3,957.8 L443.0,957.4 L443.7,957.7 L444.4,958.1 L445.1,957.9 L445.8,958.1 L446.5,958.0 L447.2,957.6 L447.9,957.7 L448.6,957.6 L449.3,958.0 L450.0,957.6 L450.7,957.6 L451.4,958.1 L452.1,957.5 L452.8,957.5 L453.5,957.8 L454.2,957.3 L454.9,957.5 L455.6,957.4 L456.3,957.2 L457.0,957.4 L457.7,957.1 L458.4,958.0 L459.1,957.7 L459.8,957.5 L460.5,957.8 L461.2,957.7 L461.9,957.3 L462.6,957.5 L463.3,957.4 L464.0,957.5 L464.7,957.4 L465.4,957.7 L466.1,957.0 L466.8,957.0 L467.5,957.5 L468.2,958.0 L468.9,957.6 L469.6,957.7 L470.3,957.7 L471.0,957.5 L471.7,957.7 L472.4,957.4 L473.1,957.8 L473.8,957.4 L474.5,957.9 L475.2,957.2 L475.9,957.6 L476.6,957.2 L477.3,957.6 L478.0,957.6 L478.7,957.3 L479.4,957.5 L480.1,958.2 L480.8,957.3 L481.5,957.9 L482.2,957.1 L482.9,957.4 L483.6,957.4 L484.3,957.9 L485.0,956.9 L485.7,956.9 L486.4,957.4 L487.1,957.5 L487.8,957.3 L488.5,957.2 L489.2,957.0 L489.9,957.4 L490.6,957.0 L491.3,957.4 L492.0,957.3 L492.7,957.2 L493.4,956.5 L494.1,957.0 L494.8,956.9 L495.5,957.6 L496.2,956.9 L496.9,956.7 L497.6,957.4 L498.3,957.6 L499.0,957.2 L499.7,956.8 L500.4,956.5 L501.1,956.7 L501.8,956.5 L502.5,956.6 L503.2,956.9 L503.9,956.4 L504.6,956.7 L505.3,956.9 L506.0,956.8 L506.7,956.6 L507.4,956.2 L508.1,956.3 L508.8,955.9 L509.5,955.7 L510.2,956.1 L510.9,956.2 L511.6,956.1 L512.3,955.6 L513.0,955.7 L513.7,955.5 L514.4,956.4 L515.1,955.9 L515.7,955.1 L516.4,955.5 L517.1,954.9 L517.8,955.3 L518.5,954.5 L519.2,954.7 L519.9,954.4 L520.6,954.5 L521.3,954.4 L521.9,954.9 L522.6,954.1 L523.3,953.8 L524.0,953.6 L524.6,953.5 L525.3,953.2 L526.0,953.0 L526.7,952.7 L527.3,952.9 L528.0,952.1 L528.6,952.7 L529.3,952.4 L530.0,952.0 L530.6,952.0 L531.3,951.1 L531.9,951.0 L532.6,951.0 L533.2,950.7 L533.9,950.9 L534.6,950.3 L535.2,949.7 L535.9,949.8 L536.6,949.3 L537.2,949.0 L537.9,948.8 L538.6,948.4 L539.2,949.0 L539.9,947.9 L540.6,948.4 L541.3,948.1 L542.0,947.9 L542.6,947.7 L543.3,947.7 L544.0,947.3 L544.7,947.0 L545.4,947.2 L546.1,947.2 L546.8,946.1 L547.4,946.2 L548.1,946.4 L548.8,946.5 L549.5,946.2 L550.2,947.0 L550.9,946.5 L551.6,946.8 L552.3,946.5 L553.0,945.9 L553.7,945.9 L554.4,946.2 L555.1,946.4 L555.8,946.7 L556.5,946.6 L557.2,946.5 L557.9,946.7 L558.6,946.9 L559.2,946.8 L559.9,946.5 L560.6,947.0 L561.3,947.4 L562.0,947.7 L562.6,947.9 L563.3,948.2 L564.0,947.8 L564.6,948.5 L565.3,948.4 L566.0,948.6 L566.6,949.4 L567.3,949.1 L568.0,949.8 L568.6,949.7 L569.3,950.4 L569.9,950.1 L570.6,950.5 L571.2,951.1 L571.9,951.1 L572.6,951.4 L573.2,951.7 L573.9,951.7 L574.6,952.0 L575.2,952.4 L575.9,952.5 L576.6,953.1 L577.2,953.1 L577.9,952.5 L578.6,953.1 L579.3,953.0 L579.9,953.0 L580.6,954.0 L581.3,953.7 L582.0,953.9 L582.6,954.4 L583.3,954.4 L584.0,954.6 L584.7,954.5 L585.4,954.9 L586.1,955.2 L586.7,955.3 L587.4,955.1 L588.1,955.5 L588.8,955.1 L589.5,955.4 L590.2,955.8 L590.9,955.7 L591.6,955.5 L592.3,956.3 L593.0,956.1 L593.7,956.3 L594.4,955.6 L595.1,955.9 L595.8,956.0 L596.5,956.1 L597.2,956.7 L597.9,956.4 L598.6,956.9 L599.2,956.3 L599.9,956.5 L600.6,956.3 L601.3,956.3 L602.0,957.3 L602.7,957.0 L603.4,956.5 L604.1,956.5 L604.8,957.0 L605.5,956.9 L606.2,957.1 L606.9,956.5 L607.6,956.5 L608.3,956.7 L609.0,956.6 L609.7,956.7 L610.4,956.8 L611.1,956.6 L611.8,956.6 L612.5,957.1 L613.2,956.9 L613.9,956.7 L614.6,956.8 L615.3,956.8 L616.0,956.9 L616.7,956.3 L617.4,957.0 L618.1,956.6 L618.8,956.9 L619.5,956.8 L620.2,957.3 L620.9,956.5 L621.6,957.1 L622.3,957.5 L623.0,956.8 L623.7,956.8 L624.4,957.3 L625.1,956.6 L625.8,956.7 L626.5,957.2 L627.2,957.2 L627.9,956.5 L628.6,956.0 L629.3,956.8 L630.0,956.8 L630.7,956.6 L631.4,957.2 L632.1,957.1 L632.8,957.0 L633.5,956.4 L634.2,956.7 L634.9,957.1 L635.6,957.2 L636.2,956.9 L636.6,956.9 L637.0,957.4"/></g>
</g>
<g>
<text transform="translate(286.00,964.80) scale(1.0,1.0)" text-anchor="end" font-family="DejaVu Sans, Verdana, Liberation Sans, sans-serif" font-size="14.9" fill="#000" text-rendering="geometricPrecision">0</text>
<text transform="translate(286.00,929.53) scale(1.0,1.0)" text-anchor="end" font-family="DejaVu Sans, Verdana, Liberation Sans, sans-serif" font-size="14.9" fill="#000" text-rendering="geometricPrecision">50</text>
<text transform="translate(286.00,894.26) scale(1.0,1.0)" text-anchor="end" font-family="DejaVu Sans, Verdana, Liberation Sans, sans-serif" font-size="14.9" fill="#000" text-rendering="geometricPrecision">100</text>
<text transform="translate(286.00,858.99) scale(1.0,1.0)" text-anchor="end" font-family="DejaVu Sans, Verdana, Liberation Sans, sans-serif" font-size="14.9" fill="#000" text-rendering="geometricPrecision">150</text>
<text transform="translate(286.00,823.72) scale(1.0,1.0)" text-anchor="end" font-family="DejaVu Sans, Verdana, Liberation Sans, sans-serif" font-size="14.9" fill="#000" text-rendering="geometricPrecision">200</text>
<text transform="translate(286.00,788.45) scale(1.0,1.0)" text-anchor="end" font-family="DejaVu Sans, Verdana, Liberation Sans, sans-serif" font-size="14.9" fill="#000" text-rendering="geometricPrecision">250</text>
<text transform="translate(286.00,753.18) scale(1.0,1.0)" text-anchor="end" font-family="DejaVu Sans, Verdana, Liberation Sans, sans-serif" font-size="14.9" fill="#000" text-rendering="geometricPrecision">300</text>
<text transform="translate(286.00,717.91) scale(1.0,1.0)" text-anchor="end" font-family="DejaVu Sans, Verdana, Liberation Sans, sans-serif" font-size="14.9" fill="#000" text-rendering="geometricPrecision">350</text>
<text transform="translate(286.00,682.64) scale(1.0,1.0)" text-anchor="end" font-family="DejaVu Sans, Verdana, Liberation Sans, sans-serif" font-size="14.9" fill="#000" text-rendering="geometricPrecision">400</text>
<text transform="translate(298.40,987.30) scale(1.0,1.0)" text-anchor="middle" font-family="DejaVu Sans, Verdana, Liberation Sans, sans-serif" font-size="14.9" fill="#000" text-rendering="geometricPrecision">500</text>
<text transform="translate(409.95,987.30) scale(1.0,1.0)" text-anchor="middle" font-family="DejaVu Sans, Verdana, Liberation Sans, sans-serif" font-size="14.9" fill="#000" text-rendering="geometricPrecision">600</text>
<text transform="translate(521.50,987.30) scale(1.0,1.0)" text-anchor="middle" font-family="DejaVu Sans, Verdana, Liberation Sans, sans-serif" font-size="14.9" fill="#000" text-rendering="geometricPrecision">700</text>
<text transform="translate(633.05,987.30) scale(1.0,1.0)" text-anchor="middle" font-family="DejaVu Sans, Verdana, Liberation Sans, sans-serif" font-size="14.9" fill="#000" text-rendering="geometricPrecision">800</text>
<text transform="translate(744.60,987.30) scale(1.0,1.0)" text-anchor="middle" font-family="DejaVu Sans, Verdana, Liberation Sans, sans-serif" font-size="14.9" fill="#000" text-rendering="geometricPrecision">900</text>
</g>
<text transform="translate(521.00,1013.50) scale(1.04,1.0)" text-anchor="middle" font-family="DejaVu Sans, Verdana, Liberation Sans, sans-serif" font-size="16.4" font-weight="bold" fill="#000" text-rendering="geometricPrecision">Wavelengths (nm)</text>
<g>
<path d="M657,692.30 H680" stroke="#0000D4" stroke-width="2.8"/>
<text transform="translate(682.50,698.10) scale(1.0,1.0)" text-anchor="start" font-family="DejaVu Sans, Verdana, Liberation Sans, sans-serif" font-size="14.9" fill="#000" text-rendering="geometricPrecision">50 uL</text>
<path d="M657,713.45 H680" stroke="#FF00FF" stroke-width="2.8"/>
<text transform="translate(682.50,719.25) scale(1.0,1.0)" text-anchor="start" font-family="DejaVu Sans, Verdana, Liberation Sans, sans-serif" font-size="14.9" fill="#000" text-rendering="geometricPrecision">100 uL</text>
<path d="M657,734.60 H680" stroke="#FFFF00" stroke-width="2.8"/>
<text transform="translate(682.50,740.40) scale(1.0,1.0)" text-anchor="start" font-family="DejaVu Sans, Verdana, Liberation Sans, sans-serif" font-size="14.9" fill="#000" text-rendering="geometricPrecision">150 uL</text>
<path d="M657,755.75 H680" stroke="#006411" stroke-width="2.8"/>
<text transform="translate(682.50,761.55) scale(1.0,1.0)" text-anchor="start" font-family="DejaVu Sans, Verdana, Liberation Sans, sans-serif" font-size="14.9" fill="#000" text-rendering="geometricPrecision">250 uL</text>
<path d="M657,776.90 H680" stroke="#DD0806" stroke-width="2.8"/>
<text transform="translate(682.50,782.70) scale(1.0,1.0)" text-anchor="start" font-family="DejaVu Sans, Verdana, Liberation Sans, sans-serif" font-size="14.9" fill="#000" text-rendering="geometricPrecision">300 uL</text>
</g>
<text transform="translate(34.90,45.60) scale(1.0,1.0)" text-anchor="start" font-family="Liberation Serif, Times New Roman, serif" font-size="24.3" font-weight="bold" fill="#000" text-rendering="geometricPrecision">d</text>
<text transform="translate(35.10,564.00) scale(1.0,1.0)" text-anchor="start" font-family="Liberation Serif, Times New Roman, serif" font-size="24.3" font-weight="bold" fill="#000" text-rendering="geometricPrecision">e</text>
</svg>
</body></html>
